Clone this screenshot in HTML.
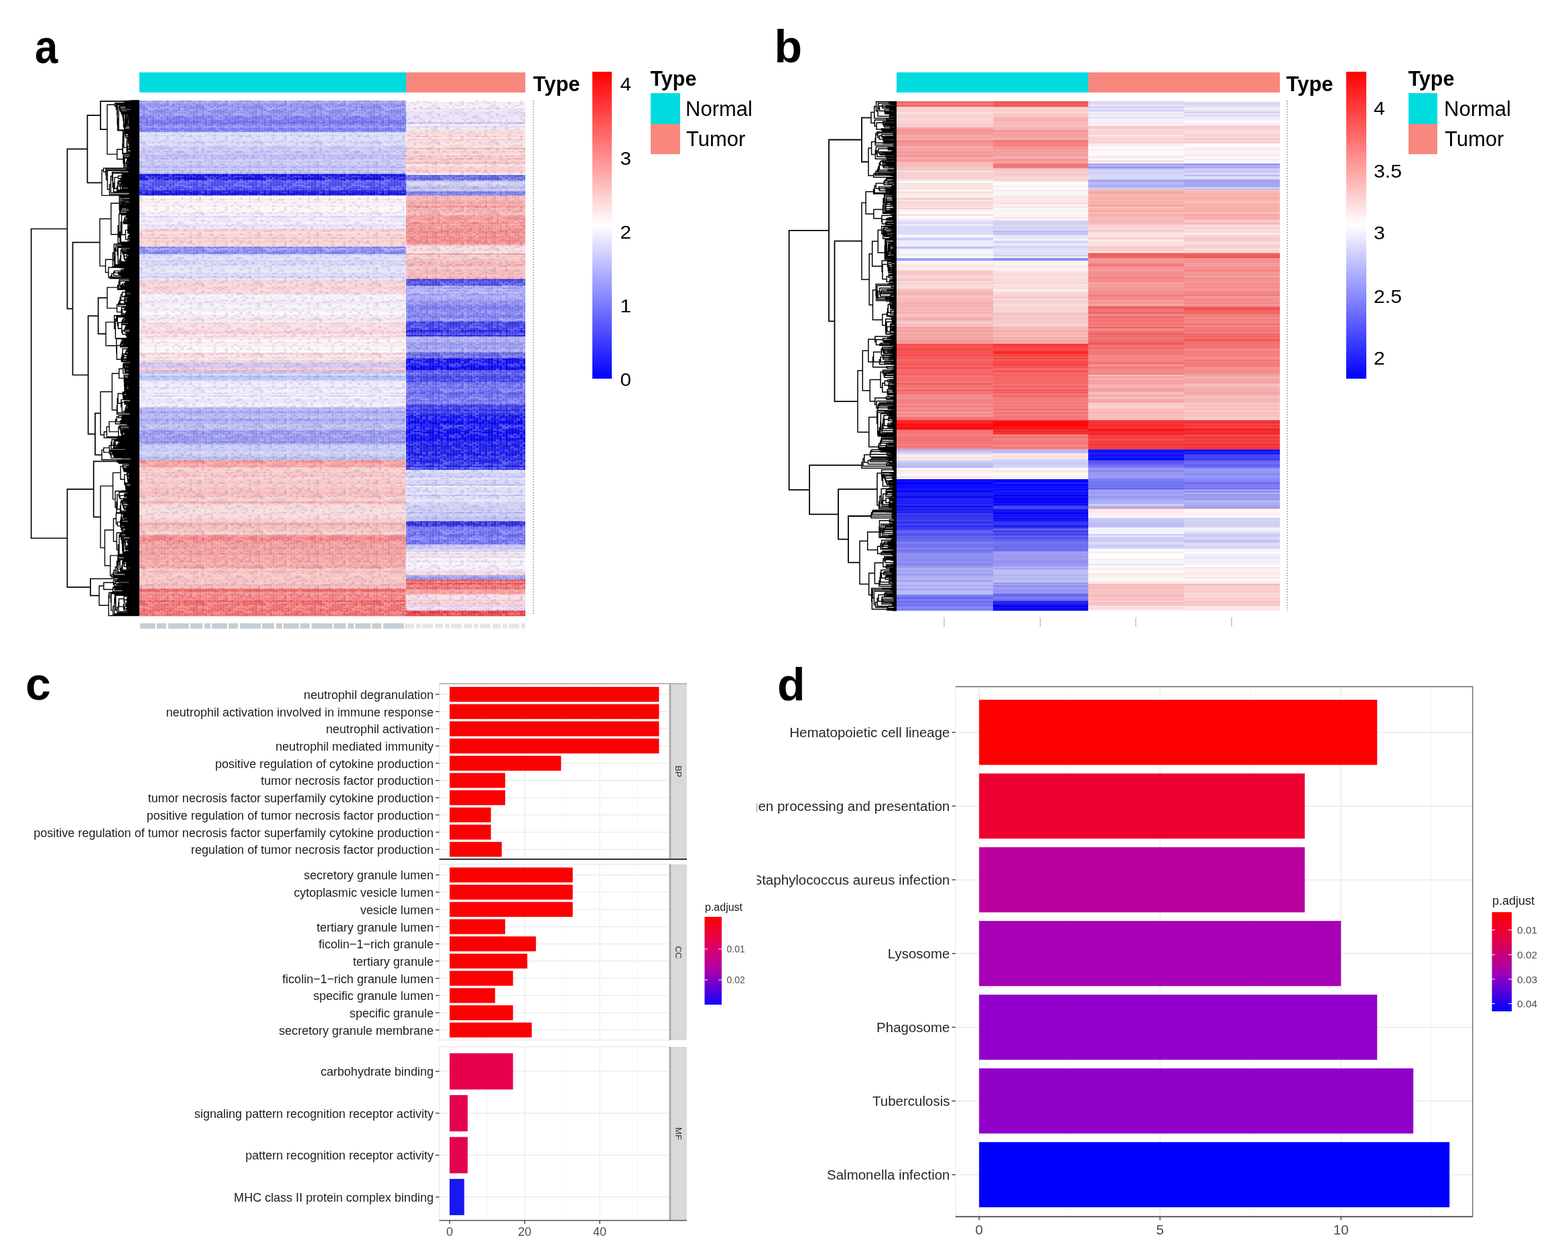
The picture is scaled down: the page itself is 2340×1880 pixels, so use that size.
<!DOCTYPE html><html><head><meta charset="utf-8"><title>Figure</title><style>html,body{margin:0;padding:0;background:#fff}svg{display:block}</style></head><body><svg width="2340" height="1880" viewBox="0 0 2340 1880" font-family="'Liberation Sans', Arial, Helvetica, sans-serif"><rect width="2340" height="1880" fill="#fff"/><defs><linearGradient id="cbA" x1="0" y1="1" x2="0" y2="0"><stop offset="0" stop-color="#0000ff"/><stop offset="0.5" stop-color="#ffffff"/><stop offset="1" stop-color="#ff0000"/></linearGradient><linearGradient id="cbC" x1="0" y1="0" x2="0" y2="1"><stop offset="0" stop-color="#ff0000"/><stop offset="0.3" stop-color="#e0005a"/><stop offset="0.6" stop-color="#b000a8"/><stop offset="1" stop-color="#1400ff"/></linearGradient><linearGradient id="cbD" x1="0" y1="0" x2="0" y2="1"><stop offset="0" stop-color="#ff0000"/><stop offset="0.3" stop-color="#e0004e"/><stop offset="0.62" stop-color="#a000b8"/><stop offset="1" stop-color="#0000ff"/></linearGradient><pattern id="tex" patternUnits="userSpaceOnUse" x="208" y="150" width="88" height="52.8"><rect x="0" y="0" width="4.4" height="2.2" fill="#202080" opacity="0.10"/><rect x="0" y="4.4" width="4.4" height="2.2" fill="#202080" opacity="0.09"/><rect x="0" y="6.6" width="4.4" height="2.2" fill="#202080" opacity="0.06"/><rect x="0" y="8.8" width="4.4" height="2.2" fill="#202080" opacity="0.10"/><rect x="0" y="13.2" width="4.4" height="2.2" fill="#fff" opacity="0.15"/><rect x="0" y="15.4" width="4.4" height="2.2" fill="#fff" opacity="0.26"/><rect x="0" y="19.8" width="4.4" height="2.2" fill="#fff" opacity="0.30"/><rect x="0" y="28.6" width="4.4" height="2.2" fill="#fff" opacity="0.08"/><rect x="0" y="30.8" width="4.4" height="2.2" fill="#202080" opacity="0.05"/><rect x="0" y="33" width="4.4" height="2.2" fill="#fff" opacity="0.13"/><rect x="0" y="35.2" width="4.4" height="2.2" fill="#fff" opacity="0.18"/><rect x="0" y="37.4" width="4.4" height="2.2" fill="#202080" opacity="0.12"/><rect x="0" y="39.6" width="4.4" height="2.2" fill="#202080" opacity="0.10"/><rect x="0" y="41.8" width="4.4" height="2.2" fill="#202080" opacity="0.11"/><rect x="0" y="44" width="4.4" height="2.2" fill="#202080" opacity="0.07"/><rect x="4.4" y="2.2" width="4.4" height="2.2" fill="#fff" opacity="0.13"/><rect x="4.4" y="4.4" width="4.4" height="2.2" fill="#fff" opacity="0.10"/><rect x="4.4" y="8.8" width="4.4" height="2.2" fill="#202080" opacity="0.12"/><rect x="4.4" y="11" width="4.4" height="2.2" fill="#202080" opacity="0.14"/><rect x="4.4" y="15.4" width="4.4" height="2.2" fill="#fff" opacity="0.13"/><rect x="4.4" y="19.8" width="4.4" height="2.2" fill="#202080" opacity="0.14"/><rect x="4.4" y="22" width="4.4" height="2.2" fill="#202080" opacity="0.05"/><rect x="4.4" y="28.6" width="4.4" height="2.2" fill="#fff" opacity="0.10"/><rect x="4.4" y="30.8" width="4.4" height="2.2" fill="#fff" opacity="0.29"/><rect x="4.4" y="35.2" width="4.4" height="2.2" fill="#fff" opacity="0.13"/><rect x="4.4" y="37.4" width="4.4" height="2.2" fill="#fff" opacity="0.09"/><rect x="4.4" y="41.8" width="4.4" height="2.2" fill="#fff" opacity="0.20"/><rect x="4.4" y="44" width="4.4" height="2.2" fill="#202080" opacity="0.06"/><rect x="4.4" y="48.4" width="4.4" height="2.2" fill="#fff" opacity="0.22"/><rect x="4.4" y="50.6" width="4.4" height="2.2" fill="#fff" opacity="0.17"/><rect x="8.8" y="0" width="4.4" height="2.2" fill="#fff" opacity="0.14"/><rect x="8.8" y="6.6" width="4.4" height="2.2" fill="#fff" opacity="0.27"/><rect x="8.8" y="8.8" width="4.4" height="2.2" fill="#fff" opacity="0.17"/><rect x="8.8" y="15.4" width="4.4" height="2.2" fill="#fff" opacity="0.30"/><rect x="8.8" y="17.6" width="4.4" height="2.2" fill="#fff" opacity="0.14"/><rect x="8.8" y="22" width="4.4" height="2.2" fill="#fff" opacity="0.15"/><rect x="8.8" y="24.2" width="4.4" height="2.2" fill="#fff" opacity="0.10"/><rect x="8.8" y="26.4" width="4.4" height="2.2" fill="#202080" opacity="0.06"/><rect x="8.8" y="30.8" width="4.4" height="2.2" fill="#202080" opacity="0.09"/><rect x="8.8" y="35.2" width="4.4" height="2.2" fill="#202080" opacity="0.10"/><rect x="8.8" y="39.6" width="4.4" height="2.2" fill="#fff" opacity="0.11"/><rect x="8.8" y="46.2" width="4.4" height="2.2" fill="#fff" opacity="0.12"/><rect x="13.2" y="0" width="4.4" height="2.2" fill="#fff" opacity="0.29"/><rect x="13.2" y="6.6" width="4.4" height="2.2" fill="#202080" opacity="0.05"/><rect x="13.2" y="8.8" width="4.4" height="2.2" fill="#fff" opacity="0.29"/><rect x="13.2" y="11" width="4.4" height="2.2" fill="#fff" opacity="0.24"/><rect x="13.2" y="13.2" width="4.4" height="2.2" fill="#fff" opacity="0.26"/><rect x="13.2" y="15.4" width="4.4" height="2.2" fill="#202080" opacity="0.07"/><rect x="13.2" y="17.6" width="4.4" height="2.2" fill="#fff" opacity="0.24"/><rect x="13.2" y="19.8" width="4.4" height="2.2" fill="#fff" opacity="0.13"/><rect x="13.2" y="22" width="4.4" height="2.2" fill="#202080" opacity="0.13"/><rect x="13.2" y="26.4" width="4.4" height="2.2" fill="#fff" opacity="0.28"/><rect x="13.2" y="28.6" width="4.4" height="2.2" fill="#fff" opacity="0.08"/><rect x="13.2" y="30.8" width="4.4" height="2.2" fill="#fff" opacity="0.18"/><rect x="13.2" y="33" width="4.4" height="2.2" fill="#fff" opacity="0.12"/><rect x="13.2" y="35.2" width="4.4" height="2.2" fill="#202080" opacity="0.10"/><rect x="13.2" y="37.4" width="4.4" height="2.2" fill="#fff" opacity="0.16"/><rect x="13.2" y="48.4" width="4.4" height="2.2" fill="#202080" opacity="0.05"/><rect x="13.2" y="50.6" width="4.4" height="2.2" fill="#fff" opacity="0.08"/><rect x="17.6" y="6.6" width="4.4" height="2.2" fill="#fff" opacity="0.22"/><rect x="17.6" y="8.8" width="4.4" height="2.2" fill="#202080" opacity="0.11"/><rect x="17.6" y="11" width="4.4" height="2.2" fill="#fff" opacity="0.30"/><rect x="17.6" y="13.2" width="4.4" height="2.2" fill="#fff" opacity="0.20"/><rect x="17.6" y="28.6" width="4.4" height="2.2" fill="#202080" opacity="0.11"/><rect x="17.6" y="35.2" width="4.4" height="2.2" fill="#202080" opacity="0.12"/><rect x="17.6" y="39.6" width="4.4" height="2.2" fill="#202080" opacity="0.10"/><rect x="17.6" y="41.8" width="4.4" height="2.2" fill="#202080" opacity="0.10"/><rect x="17.6" y="46.2" width="4.4" height="2.2" fill="#fff" opacity="0.22"/><rect x="22" y="2.2" width="4.4" height="2.2" fill="#202080" opacity="0.11"/><rect x="22" y="4.4" width="4.4" height="2.2" fill="#202080" opacity="0.08"/><rect x="22" y="8.8" width="4.4" height="2.2" fill="#fff" opacity="0.25"/><rect x="22" y="11" width="4.4" height="2.2" fill="#fff" opacity="0.21"/><rect x="22" y="13.2" width="4.4" height="2.2" fill="#202080" opacity="0.06"/><rect x="22" y="17.6" width="4.4" height="2.2" fill="#202080" opacity="0.10"/><rect x="22" y="22" width="4.4" height="2.2" fill="#fff" opacity="0.08"/><rect x="22" y="24.2" width="4.4" height="2.2" fill="#fff" opacity="0.23"/><rect x="22" y="26.4" width="4.4" height="2.2" fill="#fff" opacity="0.12"/><rect x="22" y="33" width="4.4" height="2.2" fill="#202080" opacity="0.13"/><rect x="22" y="35.2" width="4.4" height="2.2" fill="#fff" opacity="0.23"/><rect x="22" y="37.4" width="4.4" height="2.2" fill="#fff" opacity="0.17"/><rect x="22" y="46.2" width="4.4" height="2.2" fill="#202080" opacity="0.10"/><rect x="22" y="48.4" width="4.4" height="2.2" fill="#fff" opacity="0.11"/><rect x="22" y="50.6" width="4.4" height="2.2" fill="#202080" opacity="0.12"/><rect x="26.4" y="6.6" width="4.4" height="2.2" fill="#fff" opacity="0.12"/><rect x="26.4" y="8.8" width="4.4" height="2.2" fill="#202080" opacity="0.07"/><rect x="26.4" y="11" width="4.4" height="2.2" fill="#fff" opacity="0.17"/><rect x="26.4" y="15.4" width="4.4" height="2.2" fill="#202080" opacity="0.07"/><rect x="26.4" y="22" width="4.4" height="2.2" fill="#202080" opacity="0.05"/><rect x="26.4" y="24.2" width="4.4" height="2.2" fill="#fff" opacity="0.27"/><rect x="26.4" y="26.4" width="4.4" height="2.2" fill="#fff" opacity="0.24"/><rect x="26.4" y="28.6" width="4.4" height="2.2" fill="#202080" opacity="0.07"/><rect x="26.4" y="33" width="4.4" height="2.2" fill="#fff" opacity="0.11"/><rect x="26.4" y="35.2" width="4.4" height="2.2" fill="#202080" opacity="0.04"/><rect x="26.4" y="39.6" width="4.4" height="2.2" fill="#fff" opacity="0.11"/><rect x="26.4" y="41.8" width="4.4" height="2.2" fill="#fff" opacity="0.22"/><rect x="26.4" y="44" width="4.4" height="2.2" fill="#202080" opacity="0.10"/><rect x="30.8" y="2.2" width="4.4" height="2.2" fill="#fff" opacity="0.18"/><rect x="30.8" y="4.4" width="4.4" height="2.2" fill="#fff" opacity="0.08"/><rect x="30.8" y="6.6" width="4.4" height="2.2" fill="#202080" opacity="0.11"/><rect x="30.8" y="8.8" width="4.4" height="2.2" fill="#fff" opacity="0.14"/><rect x="30.8" y="11" width="4.4" height="2.2" fill="#fff" opacity="0.23"/><rect x="30.8" y="13.2" width="4.4" height="2.2" fill="#202080" opacity="0.10"/><rect x="30.8" y="17.6" width="4.4" height="2.2" fill="#202080" opacity="0.12"/><rect x="30.8" y="22" width="4.4" height="2.2" fill="#fff" opacity="0.29"/><rect x="30.8" y="26.4" width="4.4" height="2.2" fill="#fff" opacity="0.18"/><rect x="30.8" y="33" width="4.4" height="2.2" fill="#202080" opacity="0.10"/><rect x="30.8" y="41.8" width="4.4" height="2.2" fill="#202080" opacity="0.11"/><rect x="30.8" y="44" width="4.4" height="2.2" fill="#fff" opacity="0.24"/><rect x="35.2" y="0" width="4.4" height="2.2" fill="#fff" opacity="0.28"/><rect x="35.2" y="6.6" width="4.4" height="2.2" fill="#202080" opacity="0.12"/><rect x="35.2" y="8.8" width="4.4" height="2.2" fill="#fff" opacity="0.28"/><rect x="35.2" y="13.2" width="4.4" height="2.2" fill="#fff" opacity="0.10"/><rect x="35.2" y="15.4" width="4.4" height="2.2" fill="#202080" opacity="0.10"/><rect x="35.2" y="19.8" width="4.4" height="2.2" fill="#202080" opacity="0.04"/><rect x="35.2" y="24.2" width="4.4" height="2.2" fill="#fff" opacity="0.26"/><rect x="35.2" y="26.4" width="4.4" height="2.2" fill="#fff" opacity="0.15"/><rect x="35.2" y="30.8" width="4.4" height="2.2" fill="#fff" opacity="0.11"/><rect x="35.2" y="33" width="4.4" height="2.2" fill="#202080" opacity="0.11"/><rect x="35.2" y="41.8" width="4.4" height="2.2" fill="#202080" opacity="0.13"/><rect x="35.2" y="44" width="4.4" height="2.2" fill="#fff" opacity="0.13"/><rect x="35.2" y="46.2" width="4.4" height="2.2" fill="#202080" opacity="0.07"/><rect x="39.6" y="0" width="4.4" height="2.2" fill="#202080" opacity="0.12"/><rect x="39.6" y="2.2" width="4.4" height="2.2" fill="#202080" opacity="0.07"/><rect x="39.6" y="4.4" width="4.4" height="2.2" fill="#202080" opacity="0.12"/><rect x="39.6" y="8.8" width="4.4" height="2.2" fill="#fff" opacity="0.27"/><rect x="39.6" y="13.2" width="4.4" height="2.2" fill="#202080" opacity="0.10"/><rect x="39.6" y="15.4" width="4.4" height="2.2" fill="#fff" opacity="0.20"/><rect x="39.6" y="17.6" width="4.4" height="2.2" fill="#202080" opacity="0.10"/><rect x="39.6" y="19.8" width="4.4" height="2.2" fill="#fff" opacity="0.29"/><rect x="39.6" y="22" width="4.4" height="2.2" fill="#202080" opacity="0.08"/><rect x="39.6" y="26.4" width="4.4" height="2.2" fill="#202080" opacity="0.09"/><rect x="39.6" y="30.8" width="4.4" height="2.2" fill="#fff" opacity="0.20"/><rect x="39.6" y="33" width="4.4" height="2.2" fill="#202080" opacity="0.14"/><rect x="39.6" y="37.4" width="4.4" height="2.2" fill="#fff" opacity="0.18"/><rect x="39.6" y="39.6" width="4.4" height="2.2" fill="#fff" opacity="0.18"/><rect x="39.6" y="46.2" width="4.4" height="2.2" fill="#202080" opacity="0.07"/><rect x="39.6" y="48.4" width="4.4" height="2.2" fill="#fff" opacity="0.22"/><rect x="44" y="0" width="4.4" height="2.2" fill="#fff" opacity="0.25"/><rect x="44" y="2.2" width="4.4" height="2.2" fill="#fff" opacity="0.12"/><rect x="44" y="4.4" width="4.4" height="2.2" fill="#fff" opacity="0.23"/><rect x="44" y="6.6" width="4.4" height="2.2" fill="#fff" opacity="0.16"/><rect x="44" y="11" width="4.4" height="2.2" fill="#fff" opacity="0.24"/><rect x="44" y="13.2" width="4.4" height="2.2" fill="#fff" opacity="0.19"/><rect x="44" y="15.4" width="4.4" height="2.2" fill="#fff" opacity="0.12"/><rect x="44" y="17.6" width="4.4" height="2.2" fill="#202080" opacity="0.08"/><rect x="44" y="19.8" width="4.4" height="2.2" fill="#202080" opacity="0.08"/><rect x="44" y="22" width="4.4" height="2.2" fill="#202080" opacity="0.06"/><rect x="44" y="24.2" width="4.4" height="2.2" fill="#fff" opacity="0.22"/><rect x="44" y="28.6" width="4.4" height="2.2" fill="#202080" opacity="0.13"/><rect x="44" y="35.2" width="4.4" height="2.2" fill="#fff" opacity="0.24"/><rect x="44" y="41.8" width="4.4" height="2.2" fill="#fff" opacity="0.15"/><rect x="44" y="46.2" width="4.4" height="2.2" fill="#fff" opacity="0.30"/><rect x="44" y="50.6" width="4.4" height="2.2" fill="#fff" opacity="0.13"/><rect x="48.4" y="2.2" width="4.4" height="2.2" fill="#fff" opacity="0.10"/><rect x="48.4" y="6.6" width="4.4" height="2.2" fill="#202080" opacity="0.12"/><rect x="48.4" y="8.8" width="4.4" height="2.2" fill="#fff" opacity="0.17"/><rect x="48.4" y="13.2" width="4.4" height="2.2" fill="#fff" opacity="0.12"/><rect x="48.4" y="22" width="4.4" height="2.2" fill="#fff" opacity="0.19"/><rect x="48.4" y="26.4" width="4.4" height="2.2" fill="#202080" opacity="0.11"/><rect x="48.4" y="28.6" width="4.4" height="2.2" fill="#fff" opacity="0.10"/><rect x="48.4" y="30.8" width="4.4" height="2.2" fill="#fff" opacity="0.09"/><rect x="48.4" y="33" width="4.4" height="2.2" fill="#202080" opacity="0.09"/><rect x="48.4" y="35.2" width="4.4" height="2.2" fill="#202080" opacity="0.05"/><rect x="48.4" y="37.4" width="4.4" height="2.2" fill="#fff" opacity="0.12"/><rect x="48.4" y="46.2" width="4.4" height="2.2" fill="#fff" opacity="0.09"/><rect x="48.4" y="50.6" width="4.4" height="2.2" fill="#202080" opacity="0.12"/><rect x="52.8" y="0" width="4.4" height="2.2" fill="#fff" opacity="0.18"/><rect x="52.8" y="2.2" width="4.4" height="2.2" fill="#202080" opacity="0.08"/><rect x="52.8" y="6.6" width="4.4" height="2.2" fill="#fff" opacity="0.23"/><rect x="52.8" y="11" width="4.4" height="2.2" fill="#fff" opacity="0.18"/><rect x="52.8" y="15.4" width="4.4" height="2.2" fill="#202080" opacity="0.06"/><rect x="52.8" y="17.6" width="4.4" height="2.2" fill="#fff" opacity="0.19"/><rect x="52.8" y="19.8" width="4.4" height="2.2" fill="#fff" opacity="0.28"/><rect x="52.8" y="30.8" width="4.4" height="2.2" fill="#202080" opacity="0.10"/><rect x="52.8" y="33" width="4.4" height="2.2" fill="#202080" opacity="0.14"/><rect x="52.8" y="37.4" width="4.4" height="2.2" fill="#fff" opacity="0.28"/><rect x="52.8" y="46.2" width="4.4" height="2.2" fill="#202080" opacity="0.13"/><rect x="57.2" y="4.4" width="4.4" height="2.2" fill="#202080" opacity="0.11"/><rect x="57.2" y="6.6" width="4.4" height="2.2" fill="#fff" opacity="0.16"/><rect x="57.2" y="8.8" width="4.4" height="2.2" fill="#202080" opacity="0.04"/><rect x="57.2" y="11" width="4.4" height="2.2" fill="#202080" opacity="0.10"/><rect x="57.2" y="15.4" width="4.4" height="2.2" fill="#fff" opacity="0.29"/><rect x="57.2" y="19.8" width="4.4" height="2.2" fill="#fff" opacity="0.23"/><rect x="57.2" y="22" width="4.4" height="2.2" fill="#202080" opacity="0.09"/><rect x="57.2" y="24.2" width="4.4" height="2.2" fill="#202080" opacity="0.14"/><rect x="57.2" y="35.2" width="4.4" height="2.2" fill="#fff" opacity="0.22"/><rect x="57.2" y="39.6" width="4.4" height="2.2" fill="#fff" opacity="0.17"/><rect x="57.2" y="41.8" width="4.4" height="2.2" fill="#fff" opacity="0.12"/><rect x="57.2" y="44" width="4.4" height="2.2" fill="#202080" opacity="0.05"/><rect x="57.2" y="46.2" width="4.4" height="2.2" fill="#fff" opacity="0.28"/><rect x="57.2" y="48.4" width="4.4" height="2.2" fill="#202080" opacity="0.09"/><rect x="61.6" y="0" width="4.4" height="2.2" fill="#202080" opacity="0.14"/><rect x="61.6" y="6.6" width="4.4" height="2.2" fill="#fff" opacity="0.21"/><rect x="61.6" y="11" width="4.4" height="2.2" fill="#fff" opacity="0.28"/><rect x="61.6" y="13.2" width="4.4" height="2.2" fill="#fff" opacity="0.18"/><rect x="61.6" y="15.4" width="4.4" height="2.2" fill="#fff" opacity="0.19"/><rect x="61.6" y="19.8" width="4.4" height="2.2" fill="#fff" opacity="0.29"/><rect x="61.6" y="22" width="4.4" height="2.2" fill="#202080" opacity="0.09"/><rect x="61.6" y="24.2" width="4.4" height="2.2" fill="#202080" opacity="0.08"/><rect x="61.6" y="26.4" width="4.4" height="2.2" fill="#fff" opacity="0.22"/><rect x="61.6" y="28.6" width="4.4" height="2.2" fill="#202080" opacity="0.07"/><rect x="61.6" y="33" width="4.4" height="2.2" fill="#fff" opacity="0.08"/><rect x="61.6" y="35.2" width="4.4" height="2.2" fill="#fff" opacity="0.09"/><rect x="61.6" y="37.4" width="4.4" height="2.2" fill="#fff" opacity="0.25"/><rect x="61.6" y="39.6" width="4.4" height="2.2" fill="#202080" opacity="0.13"/><rect x="61.6" y="44" width="4.4" height="2.2" fill="#fff" opacity="0.30"/><rect x="61.6" y="48.4" width="4.4" height="2.2" fill="#fff" opacity="0.28"/><rect x="61.6" y="50.6" width="4.4" height="2.2" fill="#202080" opacity="0.09"/><rect x="66" y="2.2" width="4.4" height="2.2" fill="#fff" opacity="0.20"/><rect x="66" y="8.8" width="4.4" height="2.2" fill="#202080" opacity="0.14"/><rect x="66" y="15.4" width="4.4" height="2.2" fill="#fff" opacity="0.22"/><rect x="66" y="17.6" width="4.4" height="2.2" fill="#202080" opacity="0.06"/><rect x="66" y="19.8" width="4.4" height="2.2" fill="#fff" opacity="0.20"/><rect x="66" y="22" width="4.4" height="2.2" fill="#fff" opacity="0.18"/><rect x="66" y="26.4" width="4.4" height="2.2" fill="#202080" opacity="0.07"/><rect x="66" y="28.6" width="4.4" height="2.2" fill="#202080" opacity="0.08"/><rect x="66" y="33" width="4.4" height="2.2" fill="#202080" opacity="0.14"/><rect x="66" y="39.6" width="4.4" height="2.2" fill="#fff" opacity="0.11"/><rect x="66" y="48.4" width="4.4" height="2.2" fill="#202080" opacity="0.07"/><rect x="70.4" y="0" width="4.4" height="2.2" fill="#202080" opacity="0.10"/><rect x="70.4" y="6.6" width="4.4" height="2.2" fill="#fff" opacity="0.13"/><rect x="70.4" y="15.4" width="4.4" height="2.2" fill="#fff" opacity="0.09"/><rect x="70.4" y="17.6" width="4.4" height="2.2" fill="#fff" opacity="0.17"/><rect x="70.4" y="22" width="4.4" height="2.2" fill="#fff" opacity="0.20"/><rect x="70.4" y="24.2" width="4.4" height="2.2" fill="#fff" opacity="0.10"/><rect x="70.4" y="28.6" width="4.4" height="2.2" fill="#202080" opacity="0.10"/><rect x="70.4" y="30.8" width="4.4" height="2.2" fill="#202080" opacity="0.09"/><rect x="70.4" y="33" width="4.4" height="2.2" fill="#fff" opacity="0.16"/><rect x="70.4" y="39.6" width="4.4" height="2.2" fill="#fff" opacity="0.11"/><rect x="70.4" y="48.4" width="4.4" height="2.2" fill="#fff" opacity="0.17"/><rect x="70.4" y="50.6" width="4.4" height="2.2" fill="#fff" opacity="0.26"/><rect x="74.8" y="0" width="4.4" height="2.2" fill="#202080" opacity="0.11"/><rect x="74.8" y="4.4" width="4.4" height="2.2" fill="#fff" opacity="0.20"/><rect x="74.8" y="11" width="4.4" height="2.2" fill="#202080" opacity="0.08"/><rect x="74.8" y="13.2" width="4.4" height="2.2" fill="#fff" opacity="0.27"/><rect x="74.8" y="15.4" width="4.4" height="2.2" fill="#fff" opacity="0.10"/><rect x="74.8" y="17.6" width="4.4" height="2.2" fill="#202080" opacity="0.09"/><rect x="74.8" y="22" width="4.4" height="2.2" fill="#fff" opacity="0.25"/><rect x="74.8" y="24.2" width="4.4" height="2.2" fill="#fff" opacity="0.13"/><rect x="74.8" y="28.6" width="4.4" height="2.2" fill="#fff" opacity="0.15"/><rect x="74.8" y="35.2" width="4.4" height="2.2" fill="#fff" opacity="0.11"/><rect x="74.8" y="37.4" width="4.4" height="2.2" fill="#202080" opacity="0.11"/><rect x="74.8" y="39.6" width="4.4" height="2.2" fill="#202080" opacity="0.05"/><rect x="74.8" y="44" width="4.4" height="2.2" fill="#202080" opacity="0.13"/><rect x="74.8" y="50.6" width="4.4" height="2.2" fill="#202080" opacity="0.12"/><rect x="79.2" y="0" width="4.4" height="2.2" fill="#fff" opacity="0.15"/><rect x="79.2" y="2.2" width="4.4" height="2.2" fill="#202080" opacity="0.13"/><rect x="79.2" y="6.6" width="4.4" height="2.2" fill="#fff" opacity="0.16"/><rect x="79.2" y="8.8" width="4.4" height="2.2" fill="#202080" opacity="0.08"/><rect x="79.2" y="11" width="4.4" height="2.2" fill="#202080" opacity="0.08"/><rect x="79.2" y="13.2" width="4.4" height="2.2" fill="#fff" opacity="0.20"/><rect x="79.2" y="17.6" width="4.4" height="2.2" fill="#202080" opacity="0.12"/><rect x="79.2" y="19.8" width="4.4" height="2.2" fill="#202080" opacity="0.06"/><rect x="79.2" y="26.4" width="4.4" height="2.2" fill="#fff" opacity="0.08"/><rect x="79.2" y="28.6" width="4.4" height="2.2" fill="#202080" opacity="0.09"/><rect x="79.2" y="30.8" width="4.4" height="2.2" fill="#202080" opacity="0.14"/><rect x="79.2" y="37.4" width="4.4" height="2.2" fill="#fff" opacity="0.20"/><rect x="79.2" y="41.8" width="4.4" height="2.2" fill="#fff" opacity="0.10"/><rect x="79.2" y="48.4" width="4.4" height="2.2" fill="#fff" opacity="0.22"/><rect x="79.2" y="50.6" width="4.4" height="2.2" fill="#fff" opacity="0.24"/><rect x="83.6" y="2.2" width="4.4" height="2.2" fill="#fff" opacity="0.13"/><rect x="83.6" y="6.6" width="4.4" height="2.2" fill="#202080" opacity="0.12"/><rect x="83.6" y="8.8" width="4.4" height="2.2" fill="#202080" opacity="0.07"/><rect x="83.6" y="15.4" width="4.4" height="2.2" fill="#202080" opacity="0.09"/><rect x="83.6" y="24.2" width="4.4" height="2.2" fill="#202080" opacity="0.12"/><rect x="83.6" y="41.8" width="4.4" height="2.2" fill="#202080" opacity="0.11"/><rect x="83.6" y="46.2" width="4.4" height="2.2" fill="#202080" opacity="0.08"/><rect x="83.6" y="48.4" width="4.4" height="2.2" fill="#fff" opacity="0.24"/><rect x="0" y="0" width="0.8" height="52.8" fill="#fff" opacity="0.18"/><rect x="4.4" y="0" width="0.8" height="52.8" fill="#fff" opacity="0.18"/><rect x="8.8" y="0" width="0.8" height="52.8" fill="#fff" opacity="0.18"/><rect x="13.2" y="0" width="0.8" height="52.8" fill="#fff" opacity="0.18"/><rect x="17.6" y="0" width="0.8" height="52.8" fill="#fff" opacity="0.18"/><rect x="22" y="0" width="0.8" height="52.8" fill="#fff" opacity="0.18"/><rect x="26.4" y="0" width="0.8" height="52.8" fill="#fff" opacity="0.18"/><rect x="30.8" y="0" width="0.8" height="52.8" fill="#fff" opacity="0.18"/><rect x="35.2" y="0" width="0.8" height="52.8" fill="#fff" opacity="0.18"/><rect x="39.6" y="0" width="0.8" height="52.8" fill="#fff" opacity="0.18"/><rect x="44" y="0" width="0.8" height="52.8" fill="#fff" opacity="0.18"/><rect x="48.4" y="0" width="0.8" height="52.8" fill="#fff" opacity="0.18"/><rect x="52.8" y="0" width="0.8" height="52.8" fill="#fff" opacity="0.18"/><rect x="57.2" y="0" width="0.8" height="52.8" fill="#fff" opacity="0.18"/><rect x="61.6" y="0" width="0.8" height="52.8" fill="#fff" opacity="0.18"/><rect x="66" y="0" width="0.8" height="52.8" fill="#fff" opacity="0.18"/><rect x="70.4" y="0" width="0.8" height="52.8" fill="#fff" opacity="0.18"/><rect x="74.8" y="0" width="0.8" height="52.8" fill="#fff" opacity="0.18"/><rect x="79.2" y="0" width="0.8" height="52.8" fill="#fff" opacity="0.18"/><rect x="83.6" y="0" width="0.8" height="52.8" fill="#fff" opacity="0.18"/></pattern></defs><text x="52" y="94" font-size="70" font-weight="bold" transform="translate(52,0) scale(0.88,1) translate(-52,0)">a</text><rect x="208" y="108" width="398" height="30" fill="#00dbe0"/><rect x="606" y="108" width="178" height="30" fill="#f8887e"/><text x="795.5" y="136" font-size="31" font-weight="bold">Type</text><rect x="208" y="150" width="398" height="2.6" fill="#9c9cf0"/><rect x="208" y="152.3" width="398" height="2.6" fill="#9d9df0"/><rect x="208" y="154.6" width="398" height="2.6" fill="#9191f0"/><rect x="208" y="156.9" width="398" height="2.6" fill="#8989f0"/><rect x="208" y="159.2" width="398" height="2.6" fill="#8686f0"/><rect x="208" y="161.5" width="398" height="2.6" fill="#9090f0"/><rect x="208" y="163.8" width="398" height="2.6" fill="#8787f0"/><rect x="208" y="166.1" width="398" height="2.6" fill="#8383f0"/><rect x="208" y="168.4" width="398" height="2.6" fill="#9292f0"/><rect x="208" y="170.7" width="398" height="2.6" fill="#9191f0"/><rect x="208" y="173" width="398" height="2.5" fill="#7d7df0"/><rect x="208" y="175.2" width="398" height="2.5" fill="#7070f0"/><rect x="208" y="177.4" width="398" height="2.5" fill="#7878f0"/><rect x="208" y="179.5" width="398" height="2.5" fill="#7777f0"/><rect x="208" y="181.7" width="398" height="2.5" fill="#6a6af0"/><rect x="208" y="183.9" width="398" height="2.5" fill="#7d7df0"/><rect x="208" y="186.1" width="398" height="2.5" fill="#7b7bf0"/><rect x="208" y="188.3" width="398" height="2.5" fill="#8e8ef0"/><rect x="208" y="190.5" width="398" height="2.5" fill="#7a7af0"/><rect x="208" y="192.6" width="398" height="2.5" fill="#7777f0"/><rect x="208" y="194.8" width="398" height="2.5" fill="#8383f0"/><rect x="208" y="197" width="398" height="2.4" fill="#d8d8f8"/><rect x="208" y="199.1" width="398" height="2.4" fill="#dedef8"/><rect x="208" y="201.2" width="398" height="2.4" fill="#d3d3f8"/><rect x="208" y="203.3" width="398" height="2.4" fill="#d8d8f8"/><rect x="208" y="205.4" width="398" height="2.4" fill="#dfdff8"/><rect x="208" y="207.5" width="398" height="2.4" fill="#dcdcf8"/><rect x="208" y="209.6" width="398" height="2.4" fill="#d7d7f8"/><rect x="208" y="211.7" width="398" height="2.4" fill="#ccccf8"/><rect x="208" y="213.8" width="398" height="2.4" fill="#dadaf8"/><rect x="208" y="215.9" width="398" height="2.4" fill="#d7d7f8"/><rect x="208" y="218" width="398" height="2.5" fill="#c6c6f5"/><rect x="208" y="220.2" width="398" height="2.5" fill="#c2c2f5"/><rect x="208" y="222.4" width="398" height="2.5" fill="#cacaf5"/><rect x="208" y="224.6" width="398" height="2.5" fill="#c0c0f5"/><rect x="208" y="226.8" width="398" height="2.5" fill="#c2c2f5"/><rect x="208" y="228.9" width="398" height="2.5" fill="#c6c6f5"/><rect x="208" y="231.1" width="398" height="2.5" fill="#b6b6f5"/><rect x="208" y="233.3" width="398" height="2.5" fill="#bcbcf5"/><rect x="208" y="235.5" width="398" height="2.5" fill="#bbbbf5"/><rect x="208" y="237.7" width="398" height="2.5" fill="#d2d2f5"/><rect x="208" y="239.9" width="398" height="2.5" fill="#bfbff5"/><rect x="208" y="242.1" width="398" height="2.5" fill="#c6c6f5"/><rect x="208" y="244.3" width="398" height="2.5" fill="#c6c6f5"/><rect x="208" y="246.5" width="398" height="2.5" fill="#bdbdf5"/><rect x="208" y="248.7" width="398" height="2.5" fill="#b2b2f5"/><rect x="208" y="250.8" width="398" height="2.5" fill="#c9c9f5"/><rect x="208" y="253" width="398" height="2.5" fill="#bcbcf5"/><rect x="208" y="255.2" width="398" height="2.5" fill="#c6c6f5"/><rect x="208" y="257.4" width="398" height="2.5" fill="#b4b4f5"/><rect x="208" y="259.6" width="398" height="2.4" fill="#0606e0"/><rect x="208" y="261.7" width="398" height="2.4" fill="#1515e0"/><rect x="208" y="263.8" width="398" height="2.4" fill="#1717e0"/><rect x="208" y="265.9" width="398" height="2.4" fill="#0000e0"/><rect x="208" y="268" width="398" height="2.6" fill="#3c3cf0"/><rect x="208" y="270.3" width="398" height="2.6" fill="#4848f0"/><rect x="208" y="272.6" width="398" height="2.6" fill="#4f4ff0"/><rect x="208" y="274.9" width="398" height="2.6" fill="#4949f0"/><rect x="208" y="277.1" width="398" height="2.6" fill="#4b4bf0"/><rect x="208" y="279.4" width="398" height="2.6" fill="#3f3ff0"/><rect x="208" y="281.7" width="398" height="2.6" fill="#4d4df0"/><rect x="208" y="284" width="398" height="2.8" fill="#1a1ae0"/><rect x="208" y="286.5" width="398" height="2.8" fill="#0c0ce0"/><rect x="208" y="289.1" width="398" height="2.8" fill="#0303e0"/><rect x="208" y="291.6" width="398" height="2.5" fill="#faedf1"/><rect x="208" y="293.8" width="398" height="2.5" fill="#fafbff"/><rect x="208" y="296" width="398" height="2.5" fill="#fae4e8"/><rect x="208" y="298.2" width="398" height="2.5" fill="#faf3f7"/><rect x="208" y="300.4" width="398" height="2.5" fill="#faebef"/><rect x="208" y="302.6" width="398" height="2.5" fill="#faf3f7"/><rect x="208" y="304.8" width="398" height="2.5" fill="#faf2f6"/><rect x="208" y="307" width="398" height="2.5" fill="#f4eef8"/><rect x="208" y="309.2" width="398" height="2.5" fill="#fffcf8"/><rect x="208" y="311.4" width="398" height="2.5" fill="#f8f2f8"/><rect x="208" y="313.6" width="398" height="2.5" fill="#fffaf8"/><rect x="208" y="315.8" width="398" height="2.5" fill="#f3edf8"/><rect x="208" y="317.9" width="398" height="2.5" fill="#f0eaf8"/><rect x="208" y="320.1" width="398" height="2.5" fill="#f7f1f8"/><rect x="208" y="322.3" width="398" height="2.5" fill="#dad4f8"/><rect x="208" y="324.5" width="398" height="2.5" fill="#f4eef8"/><rect x="208" y="326.7" width="398" height="2.5" fill="#f5eff8"/><rect x="208" y="328.9" width="398" height="2.5" fill="#e9e3f8"/><rect x="208" y="331.1" width="398" height="2.5" fill="#f8f2f8"/><rect x="208" y="333.2" width="398" height="2.5" fill="#efe9f8"/><rect x="208" y="335.4" width="398" height="2.5" fill="#ded8f8"/><rect x="208" y="337.6" width="398" height="2.5" fill="#f2ecf8"/><rect x="208" y="339.8" width="398" height="2.5" fill="#ebe5f8"/><rect x="208" y="342" width="398" height="2.4" fill="#f8cbcb"/><rect x="208" y="344.1" width="398" height="2.4" fill="#f8cfcf"/><rect x="208" y="346.2" width="398" height="2.4" fill="#f8dbdb"/><rect x="208" y="348.3" width="398" height="2.4" fill="#f8d1d1"/><rect x="208" y="350.4" width="398" height="2.4" fill="#f8d0d0"/><rect x="208" y="352.5" width="398" height="2.4" fill="#f8d4d4"/><rect x="208" y="354.6" width="398" height="2.4" fill="#f8c0c0"/><rect x="208" y="356.7" width="398" height="2.4" fill="#f8dbdb"/><rect x="208" y="358.8" width="398" height="2.4" fill="#f8c6c6"/><rect x="208" y="360.9" width="398" height="2.4" fill="#f8d4d4"/><rect x="208" y="363" width="398" height="2.8" fill="#f8d4d4"/><rect x="208" y="365.5" width="398" height="2.8" fill="#f8d5d5"/><rect x="208" y="368" width="398" height="2.5" fill="#7c7cf0"/><rect x="208" y="370.2" width="398" height="2.5" fill="#9191f0"/><rect x="208" y="372.4" width="398" height="2.5" fill="#8686f0"/><rect x="208" y="374.6" width="398" height="2.5" fill="#7b7bf0"/><rect x="208" y="376.8" width="398" height="2.5" fill="#7d7df0"/><rect x="208" y="379" width="398" height="2.5" fill="#d2d2f8"/><rect x="208" y="381.2" width="398" height="2.5" fill="#dcdcf8"/><rect x="208" y="383.4" width="398" height="2.5" fill="#d7d7f8"/><rect x="208" y="385.5" width="398" height="2.5" fill="#e2e2f8"/><rect x="208" y="387.7" width="398" height="2.5" fill="#d0d0f8"/><rect x="208" y="389.9" width="398" height="2.5" fill="#d9d9f8"/><rect x="208" y="392.1" width="398" height="2.5" fill="#d4d4f8"/><rect x="208" y="394.2" width="398" height="2.5" fill="#d6d6f8"/><rect x="208" y="396.4" width="398" height="2.5" fill="#e2e2f8"/><rect x="208" y="398.6" width="398" height="2.5" fill="#ddddf8"/><rect x="208" y="400.8" width="398" height="2.5" fill="#e1e1f8"/><rect x="208" y="402.9" width="398" height="2.5" fill="#e7e7f8"/><rect x="208" y="405.1" width="398" height="2.5" fill="#e6e6f8"/><rect x="208" y="407.3" width="398" height="2.5" fill="#d0d0f8"/><rect x="208" y="409.5" width="398" height="2.5" fill="#e1e1f8"/><rect x="208" y="411.6" width="398" height="2.5" fill="#ccccf8"/><rect x="208" y="413.8" width="398" height="2.5" fill="#dbdbf8"/><rect x="208" y="416" width="398" height="2.4" fill="#f7e1e7"/><rect x="208" y="418.1" width="398" height="2.4" fill="#f7ced4"/><rect x="208" y="420.3" width="398" height="2.4" fill="#f7cdd3"/><rect x="208" y="422.4" width="398" height="2.4" fill="#f7d2d8"/><rect x="208" y="424.5" width="398" height="2.4" fill="#f7d0d6"/><rect x="208" y="426.7" width="398" height="2.4" fill="#f7d0d6"/><rect x="208" y="428.8" width="398" height="2.4" fill="#f7c9cf"/><rect x="208" y="431" width="398" height="2.4" fill="#f7dae0"/><rect x="208" y="433.1" width="398" height="2.4" fill="#f7d8de"/><rect x="208" y="435.2" width="398" height="2.4" fill="#f7ced4"/><rect x="208" y="437.4" width="398" height="2.4" fill="#f7d3d9"/><rect x="208" y="439.5" width="398" height="2.5" fill="#f6f2fa"/><rect x="208" y="441.7" width="398" height="2.5" fill="#f6f5fd"/><rect x="208" y="443.9" width="398" height="2.5" fill="#f6f0f8"/><rect x="208" y="446.1" width="398" height="2.5" fill="#f6f2fa"/><rect x="208" y="448.2" width="398" height="2.5" fill="#f6eaf2"/><rect x="208" y="450.4" width="398" height="2.5" fill="#f6e2ea"/><rect x="208" y="452.6" width="398" height="2.5" fill="#f6e8f0"/><rect x="208" y="454.8" width="398" height="2.5" fill="#f6f5fd"/><rect x="208" y="457" width="398" height="2.5" fill="#f6f5fd"/><rect x="208" y="459.2" width="398" height="2.5" fill="#f6edf5"/><rect x="208" y="461.3" width="398" height="2.5" fill="#f6e7ef"/><rect x="208" y="463.5" width="398" height="2.5" fill="#f6eff7"/><rect x="208" y="465.7" width="398" height="2.5" fill="#f6fbff"/><rect x="208" y="467.9" width="398" height="2.5" fill="#f6f8ff"/><rect x="208" y="470.1" width="398" height="2.5" fill="#f6e6ee"/><rect x="208" y="472.3" width="398" height="2.5" fill="#f6ecf4"/><rect x="208" y="474.4" width="398" height="2.5" fill="#f6dfe7"/><rect x="208" y="476.6" width="398" height="2.5" fill="#f6e2ea"/><rect x="208" y="478.8" width="398" height="2.5" fill="#f6eef6"/><rect x="208" y="481" width="398" height="2.5" fill="#f8d4d8"/><rect x="208" y="483.2" width="398" height="2.5" fill="#f8dde1"/><rect x="208" y="485.5" width="398" height="2.5" fill="#f8dfe3"/><rect x="208" y="487.8" width="398" height="2.5" fill="#f8dce0"/><rect x="208" y="490" width="398" height="2.5" fill="#f8e0e4"/><rect x="208" y="492.2" width="398" height="2.5" fill="#f8cfd3"/><rect x="208" y="494.5" width="398" height="2.5" fill="#f8cace"/><rect x="208" y="496.8" width="398" height="2.5" fill="#f8d9dd"/><rect x="208" y="499" width="398" height="2.5" fill="#f8ecf0"/><rect x="208" y="501.2" width="398" height="2.5" fill="#f8d7db"/><rect x="208" y="503.5" width="398" height="2.5" fill="#fae4e6"/><rect x="208" y="505.8" width="398" height="2.5" fill="#faf0f2"/><rect x="208" y="508" width="398" height="2.5" fill="#fafbfd"/><rect x="208" y="510.2" width="398" height="2.5" fill="#fae5e7"/><rect x="208" y="512.5" width="398" height="2.5" fill="#faf5f7"/><rect x="208" y="514.8" width="398" height="2.5" fill="#fae8ea"/><rect x="208" y="517" width="398" height="2.5" fill="#faf9fb"/><rect x="208" y="519.2" width="398" height="2.5" fill="#faf5f7"/><rect x="208" y="521.5" width="398" height="2.5" fill="#faf1f3"/><rect x="208" y="523.8" width="398" height="2.5" fill="#faffff"/><rect x="208" y="526" width="398" height="2.4" fill="#f8d4d8"/><rect x="208" y="528.1" width="398" height="2.4" fill="#f8d2d6"/><rect x="208" y="530.3" width="398" height="2.4" fill="#f8e9ed"/><rect x="208" y="532.4" width="398" height="2.4" fill="#f8d0d4"/><rect x="208" y="534.6" width="398" height="2.4" fill="#f8ecf0"/><rect x="208" y="536.7" width="398" height="2.4" fill="#f8d8dc"/><rect x="208" y="538.9" width="398" height="2.4" fill="#f8cfd3"/><rect x="208" y="541" width="398" height="2.6" fill="#c8c0f0"/><rect x="208" y="543.3" width="398" height="2.6" fill="#c9c1f0"/><rect x="208" y="545.7" width="398" height="2.6" fill="#cac2f0"/><rect x="208" y="548" width="398" height="2.2" fill="#f6c6ce"/><rect x="208" y="549.9" width="398" height="2.2" fill="#f6d2da"/><rect x="208" y="551.7" width="398" height="2.2" fill="#f6b3bb"/><rect x="208" y="553.6" width="398" height="2.6" fill="#bfc3f4"/><rect x="208" y="555.9" width="398" height="2.6" fill="#c2c6f4"/><rect x="208" y="558.2" width="398" height="2.6" fill="#d4d8f4"/><rect x="208" y="560.5" width="398" height="2.6" fill="#b2b6f4"/><rect x="208" y="562.9" width="398" height="2.6" fill="#c1c5f4"/><rect x="208" y="565.2" width="398" height="2.6" fill="#babef4"/><rect x="208" y="567.5" width="398" height="2.5" fill="#e2def8"/><rect x="208" y="569.8" width="398" height="2.5" fill="#eeeaf8"/><rect x="208" y="572" width="398" height="2.5" fill="#ece8f8"/><rect x="208" y="574.2" width="398" height="2.5" fill="#f5f1f8"/><rect x="208" y="576.5" width="398" height="2.5" fill="#e3dff8"/><rect x="208" y="578.8" width="398" height="2.5" fill="#eae6f8"/><rect x="208" y="581" width="398" height="2.5" fill="#f3eff8"/><rect x="208" y="583.2" width="398" height="2.5" fill="#f0ecf8"/><rect x="208" y="585.5" width="398" height="2.5" fill="#e5e1f8"/><rect x="208" y="587.8" width="398" height="2.5" fill="#f2eef8"/><rect x="208" y="590" width="398" height="2.5" fill="#e0dcf8"/><rect x="208" y="592.2" width="398" height="2.5" fill="#f8f4f8"/><rect x="208" y="594.5" width="398" height="2.5" fill="#e9e5f8"/><rect x="208" y="596.8" width="398" height="2.5" fill="#e7e3f8"/><rect x="208" y="599" width="398" height="2.5" fill="#eae6f8"/><rect x="208" y="601.2" width="398" height="2.5" fill="#f0ecf8"/><rect x="208" y="603.5" width="398" height="2.5" fill="#f8f4f8"/><rect x="208" y="605.8" width="398" height="2.5" fill="#e7e3f8"/><rect x="208" y="608" width="398" height="2.6" fill="#adadf2"/><rect x="208" y="610.3" width="398" height="2.6" fill="#b5b5f2"/><rect x="208" y="612.5" width="398" height="2.6" fill="#a8a8f2"/><rect x="208" y="614.8" width="398" height="2.6" fill="#a1a1f2"/><rect x="208" y="617.1" width="398" height="2.6" fill="#b8b8f2"/><rect x="208" y="619.3" width="398" height="2.6" fill="#adadf2"/><rect x="208" y="621.6" width="398" height="2.6" fill="#babaf2"/><rect x="208" y="623.9" width="398" height="2.6" fill="#a7a7f2"/><rect x="208" y="626.1" width="398" height="2.6" fill="#9696f2"/><rect x="208" y="628.4" width="398" height="2.6" fill="#b3b3f2"/><rect x="208" y="630.7" width="398" height="2.6" fill="#b1b1f2"/><rect x="208" y="632.9" width="398" height="2.6" fill="#bebef2"/><rect x="208" y="635.2" width="398" height="2.6" fill="#b5b5f2"/><rect x="208" y="637.5" width="398" height="2.6" fill="#b3b3f2"/><rect x="208" y="639.7" width="398" height="2.6" fill="#b5b5f2"/><rect x="208" y="642" width="398" height="2.4" fill="#9191ee"/><rect x="208" y="644.1" width="398" height="2.4" fill="#9595ee"/><rect x="208" y="646.2" width="398" height="2.4" fill="#8888ee"/><rect x="208" y="648.3" width="398" height="2.4" fill="#9999ee"/><rect x="208" y="650.4" width="398" height="2.4" fill="#8d8dee"/><rect x="208" y="652.5" width="398" height="2.4" fill="#9090ee"/><rect x="208" y="654.6" width="398" height="2.4" fill="#9a9aee"/><rect x="208" y="656.7" width="398" height="2.4" fill="#9c9cee"/><rect x="208" y="658.8" width="398" height="2.4" fill="#8b8bee"/><rect x="208" y="660.9" width="398" height="2.4" fill="#a6a6ee"/><rect x="208" y="663" width="398" height="2.6" fill="#bbbff4"/><rect x="208" y="665.3" width="398" height="2.6" fill="#c8ccf4"/><rect x="208" y="667.6" width="398" height="2.6" fill="#c9cdf4"/><rect x="208" y="669.9" width="398" height="2.6" fill="#c2c6f4"/><rect x="208" y="672.2" width="398" height="2.6" fill="#c2c6f4"/><rect x="208" y="674.5" width="398" height="2.6" fill="#d0d4f4"/><rect x="208" y="676.8" width="398" height="2.6" fill="#c8ccf4"/><rect x="208" y="679.1" width="398" height="2.6" fill="#c4c8f4"/><rect x="208" y="681.4" width="398" height="2.6" fill="#b0b4f4"/><rect x="208" y="683.7" width="398" height="2.6" fill="#b9bdf4"/><rect x="208" y="686" width="398" height="2.3" fill="#f09a9a"/><rect x="208" y="688" width="398" height="2.3" fill="#f09292"/><rect x="208" y="690" width="398" height="2.8" fill="#f49b9b"/><rect x="208" y="692.5" width="398" height="2.8" fill="#f49e9e"/><rect x="208" y="694.9" width="398" height="2.8" fill="#f4a1a1"/><rect x="208" y="697.4" width="398" height="2.4" fill="#f8caca"/><rect x="208" y="699.5" width="398" height="2.4" fill="#f8c7c7"/><rect x="208" y="701.6" width="398" height="2.4" fill="#f8cdcd"/><rect x="208" y="703.8" width="398" height="2.4" fill="#f8bdbd"/><rect x="208" y="705.9" width="398" height="2.4" fill="#f8cdcd"/><rect x="208" y="708" width="398" height="2.4" fill="#f8bfbf"/><rect x="208" y="710.1" width="398" height="2.4" fill="#f8c1c1"/><rect x="208" y="712.3" width="398" height="2.4" fill="#f8d4d4"/><rect x="208" y="714.4" width="398" height="2.4" fill="#f8c5c5"/><rect x="208" y="716.5" width="398" height="2.4" fill="#f8c3c3"/><rect x="208" y="718.6" width="398" height="2.4" fill="#f8c2c2"/><rect x="208" y="720.8" width="398" height="2.4" fill="#f8c1c1"/><rect x="208" y="722.9" width="398" height="2.4" fill="#f8d2d2"/><rect x="208" y="725" width="398" height="2.5" fill="#f6c4c4"/><rect x="208" y="727.2" width="398" height="2.5" fill="#f6bebe"/><rect x="208" y="729.3" width="398" height="2.5" fill="#f6baba"/><rect x="208" y="731.5" width="398" height="2.5" fill="#f6c1c1"/><rect x="208" y="733.6" width="398" height="2.5" fill="#f6b7b7"/><rect x="208" y="735.8" width="398" height="2.5" fill="#f6bcbc"/><rect x="208" y="737.9" width="398" height="2.5" fill="#f6bcbc"/><rect x="208" y="740.1" width="398" height="2.5" fill="#f6b9b9"/><rect x="208" y="742.2" width="398" height="2.5" fill="#f6c7c7"/><rect x="208" y="744.4" width="398" height="2.5" fill="#f6c8c8"/><rect x="208" y="746.5" width="398" height="2.5" fill="#f6c4c4"/><rect x="208" y="748.7" width="398" height="2.5" fill="#f6a7a7"/><rect x="208" y="750.8" width="398" height="2.5" fill="#f6c9c9"/><rect x="208" y="753" width="398" height="2.5" fill="#f8dada"/><rect x="208" y="755.2" width="398" height="2.5" fill="#f8d0d0"/><rect x="208" y="757.4" width="398" height="2.5" fill="#f8d4d4"/><rect x="208" y="759.6" width="398" height="2.5" fill="#f8dede"/><rect x="208" y="761.8" width="398" height="2.5" fill="#f8dfdf"/><rect x="208" y="764" width="398" height="2.5" fill="#f8dcdc"/><rect x="208" y="766.2" width="398" height="2.5" fill="#f8d5d5"/><rect x="208" y="768.4" width="398" height="2.5" fill="#f8d4d4"/><rect x="208" y="770.6" width="398" height="2.5" fill="#f8dbdb"/><rect x="208" y="772.8" width="398" height="2.5" fill="#f8d3d3"/><rect x="208" y="775" width="398" height="2.5" fill="#f8cccc"/><rect x="208" y="777.2" width="398" height="2.5" fill="#f8cece"/><rect x="208" y="779.4" width="398" height="2.6" fill="#f2a7a7"/><rect x="208" y="781.7" width="398" height="2.6" fill="#f2abab"/><rect x="208" y="784.1" width="398" height="2.6" fill="#f2bcbc"/><rect x="208" y="786.4" width="398" height="2.5" fill="#f8b4b4"/><rect x="208" y="788.6" width="398" height="2.5" fill="#f8c4c4"/><rect x="208" y="790.8" width="398" height="2.5" fill="#f8bfbf"/><rect x="208" y="793.1" width="398" height="2.5" fill="#f8c3c3"/><rect x="208" y="795.3" width="398" height="2.5" fill="#f8cccc"/><rect x="208" y="797.5" width="398" height="2.4" fill="#f29393"/><rect x="208" y="799.6" width="398" height="2.4" fill="#f28787"/><rect x="208" y="801.7" width="398" height="2.4" fill="#f28383"/><rect x="208" y="803.8" width="398" height="2.4" fill="#f27c7c"/><rect x="208" y="805.8" width="398" height="2.4" fill="#f28787"/><rect x="208" y="807.9" width="398" height="2.4" fill="#f29393"/><rect x="208" y="810" width="398" height="2.5" fill="#f49292"/><rect x="208" y="812.2" width="398" height="2.5" fill="#f49a9a"/><rect x="208" y="814.5" width="398" height="2.5" fill="#f49a9a"/><rect x="208" y="816.8" width="398" height="2.5" fill="#f49898"/><rect x="208" y="819" width="398" height="2.5" fill="#f49e9e"/><rect x="208" y="821.2" width="398" height="2.5" fill="#f49393"/><rect x="208" y="823.5" width="398" height="2.6" fill="#f49999"/><rect x="208" y="825.8" width="398" height="2.6" fill="#f49595"/><rect x="208" y="828" width="398" height="2.6" fill="#f4a8a8"/><rect x="208" y="830.3" width="398" height="2.6" fill="#f49d9d"/><rect x="208" y="832.6" width="398" height="2.6" fill="#f49d9d"/><rect x="208" y="834.9" width="398" height="2.6" fill="#f4a8a8"/><rect x="208" y="837.1" width="398" height="2.6" fill="#f49999"/><rect x="208" y="839.4" width="398" height="2.6" fill="#f4b0b0"/><rect x="208" y="841.7" width="398" height="2.6" fill="#f4a6a6"/><rect x="208" y="844" width="398" height="2.6" fill="#f49b9b"/><rect x="208" y="846.2" width="398" height="2.6" fill="#f49a9a"/><rect x="208" y="848.5" width="398" height="2.5" fill="#f8caca"/><rect x="208" y="850.8" width="398" height="2.5" fill="#f8b5b5"/><rect x="208" y="853" width="398" height="2.5" fill="#f8baba"/><rect x="208" y="855.2" width="398" height="2.5" fill="#f8c0c0"/><rect x="208" y="857.5" width="398" height="2.5" fill="#f8c2c2"/><rect x="208" y="859.8" width="398" height="2.5" fill="#f8c0c0"/><rect x="208" y="862" width="398" height="2.5" fill="#f8c3c3"/><rect x="208" y="864.2" width="398" height="2.5" fill="#f8bdbd"/><rect x="208" y="866.5" width="398" height="2.5" fill="#f8bfbf"/><rect x="208" y="868.8" width="398" height="2.5" fill="#f8cbcb"/><rect x="208" y="871" width="398" height="2.3" fill="#f4b6b6"/><rect x="208" y="873" width="398" height="2.3" fill="#f4acac"/><rect x="208" y="875" width="398" height="2.3" fill="#f4bfbf"/><rect x="208" y="877" width="398" height="2.3" fill="#f49e9e"/><rect x="208" y="879" width="398" height="2.5" fill="#ee5959"/><rect x="208" y="881.2" width="398" height="2.5" fill="#ee5e5e"/><rect x="208" y="883.5" width="398" height="2.4" fill="#f48989"/><rect x="208" y="885.6" width="398" height="2.4" fill="#f48181"/><rect x="208" y="887.7" width="398" height="2.4" fill="#f47d7d"/><rect x="208" y="889.8" width="398" height="2.4" fill="#f48585"/><rect x="208" y="891.8" width="398" height="2.4" fill="#f47e7e"/><rect x="208" y="893.9" width="398" height="2.4" fill="#f48484"/><rect x="208" y="896" width="398" height="2.6" fill="#f04e4e"/><rect x="208" y="898.3" width="398" height="2.6" fill="#f06b6b"/><rect x="208" y="900.6" width="398" height="2.6" fill="#f06161"/><rect x="208" y="902.9" width="398" height="2.6" fill="#f07070"/><rect x="208" y="905.2" width="398" height="2.6" fill="#f06f6f"/><rect x="208" y="907.5" width="398" height="2.6" fill="#f06f6f"/><rect x="208" y="909.8" width="398" height="2.6" fill="#f06464"/><rect x="208" y="912.1" width="398" height="2.6" fill="#f06c6c"/><rect x="208" y="914.4" width="398" height="2.6" fill="#f06565"/><rect x="208" y="916.7" width="398" height="2.6" fill="#f06a6a"/><rect x="606" y="150" width="178" height="2.5" fill="#fffff6"/><rect x="606" y="152.2" width="178" height="2.5" fill="#ede3f6"/><rect x="606" y="154.4" width="178" height="2.5" fill="#f8eef6"/><rect x="606" y="156.6" width="178" height="2.5" fill="#f6ecf6"/><rect x="606" y="158.8" width="178" height="2.5" fill="#fdf3f6"/><rect x="606" y="161" width="178" height="2.5" fill="#e5dbf6"/><rect x="606" y="163.2" width="178" height="2.5" fill="#efe5f6"/><rect x="606" y="165.4" width="178" height="2.5" fill="#ece2f6"/><rect x="606" y="167.6" width="178" height="2.5" fill="#e8def6"/><rect x="606" y="169.8" width="178" height="2.5" fill="#ebe1f6"/><rect x="606" y="172" width="178" height="2.4" fill="#e6def6"/><rect x="606" y="174.1" width="178" height="2.4" fill="#e9e1f6"/><rect x="606" y="176.3" width="178" height="2.4" fill="#e2daf6"/><rect x="606" y="178.4" width="178" height="2.4" fill="#f1e9f6"/><rect x="606" y="180.6" width="178" height="2.4" fill="#e6def6"/><rect x="606" y="182.7" width="178" height="2.4" fill="#c9c1f6"/><rect x="606" y="184.8" width="178" height="2.4" fill="#f9f1f6"/><rect x="606" y="187" width="178" height="2.4" fill="#e8e0f6"/><rect x="606" y="189.1" width="178" height="2.4" fill="#e4dcf6"/><rect x="606" y="191.3" width="178" height="2.4" fill="#efe7f6"/><rect x="606" y="193.4" width="178" height="2.6" fill="#f8dfdf"/><rect x="606" y="195.7" width="178" height="2.6" fill="#f8dddd"/><rect x="606" y="197.9" width="178" height="2.6" fill="#f8d3d3"/><rect x="606" y="200.2" width="178" height="2.6" fill="#f8dede"/><rect x="606" y="202.4" width="178" height="2.6" fill="#f8cbcb"/><rect x="606" y="204.7" width="178" height="2.6" fill="#f8ecec"/><rect x="606" y="206.9" width="178" height="2.6" fill="#f8cece"/><rect x="606" y="209.2" width="178" height="2.6" fill="#f8dada"/><rect x="606" y="211.5" width="178" height="2.6" fill="#f8dcdc"/><rect x="606" y="213.7" width="178" height="2.6" fill="#f8dede"/><rect x="606" y="216" width="178" height="2.6" fill="#f8d9d9"/><rect x="606" y="218.2" width="178" height="2.6" fill="#f8e1e1"/><rect x="606" y="220.5" width="178" height="2.6" fill="#f8b4b4"/><rect x="606" y="222.7" width="178" height="2.6" fill="#f8d9d9"/><rect x="606" y="225" width="178" height="2.5" fill="#f8cdcd"/><rect x="606" y="227.2" width="178" height="2.5" fill="#f8caca"/><rect x="606" y="229.5" width="178" height="2.5" fill="#f8dfdf"/><rect x="606" y="231.7" width="178" height="2.5" fill="#f8c4c4"/><rect x="606" y="234" width="178" height="2.5" fill="#f8cece"/><rect x="606" y="236.2" width="178" height="2.5" fill="#f8b8b8"/><rect x="606" y="238.5" width="178" height="2.5" fill="#f8d2d2"/><rect x="606" y="240.7" width="178" height="2.5" fill="#f8bdbd"/><rect x="606" y="242.9" width="178" height="2.5" fill="#f8bdbd"/><rect x="606" y="245.2" width="178" height="2.5" fill="#f8e9e9"/><rect x="606" y="247.4" width="178" height="2.5" fill="#f8d6d6"/><rect x="606" y="249.7" width="178" height="2.5" fill="#f8cece"/><rect x="606" y="251.9" width="178" height="2.5" fill="#f8d0d0"/><rect x="606" y="254.2" width="178" height="2.5" fill="#f8bfbf"/><rect x="606" y="256.4" width="178" height="2.8" fill="#f4dbe3"/><rect x="606" y="258.9" width="178" height="2.8" fill="#f4ebf3"/><rect x="606" y="261.3" width="178" height="2.3" fill="#4747e0"/><rect x="606" y="263.3" width="178" height="2.3" fill="#6262e0"/><rect x="606" y="265.4" width="178" height="2.3" fill="#4b4be0"/><rect x="606" y="267.4" width="178" height="2.3" fill="#6060e0"/><rect x="606" y="269.4" width="178" height="2.6" fill="#babaf0"/><rect x="606" y="271.7" width="178" height="2.6" fill="#dadaf0"/><rect x="606" y="274" width="178" height="2.6" fill="#d2d2f0"/><rect x="606" y="276.3" width="178" height="2.6" fill="#c1c1f0"/><rect x="606" y="278.6" width="178" height="2.6" fill="#b1b1f0"/><rect x="606" y="280.9" width="178" height="2.6" fill="#bebef0"/><rect x="606" y="283.2" width="178" height="2.6" fill="#c6c6f0"/><rect x="606" y="285.5" width="178" height="2.5" fill="#7373e8"/><rect x="606" y="287.7" width="178" height="2.5" fill="#8282e8"/><rect x="606" y="289.8" width="178" height="2.5" fill="#8a8ae8"/><rect x="606" y="292" width="178" height="2.3" fill="#f6b2b2"/><rect x="606" y="294" width="178" height="2.3" fill="#f6aeae"/><rect x="606" y="296" width="178" height="2.3" fill="#f6bbbb"/><rect x="606" y="298" width="178" height="2.3" fill="#f6afaf"/><rect x="606" y="300" width="178" height="2.3" fill="#f4a8a8"/><rect x="606" y="302" width="178" height="2.3" fill="#f49b9b"/><rect x="606" y="304" width="178" height="2.3" fill="#f4b1b1"/><rect x="606" y="306" width="178" height="2.3" fill="#f49b9b"/><rect x="606" y="308" width="178" height="2.3" fill="#f49393"/><rect x="606" y="310" width="178" height="2.4" fill="#f6b0b0"/><rect x="606" y="312.1" width="178" height="2.4" fill="#f6a7a7"/><rect x="606" y="314.2" width="178" height="2.4" fill="#f6a4a4"/><rect x="606" y="316.4" width="178" height="2.4" fill="#f6adad"/><rect x="606" y="318.5" width="178" height="2.4" fill="#f6b7b7"/><rect x="606" y="320.6" width="178" height="2.4" fill="#f69696"/><rect x="606" y="322.7" width="178" height="2.5" fill="#f49292"/><rect x="606" y="324.9" width="178" height="2.5" fill="#f49191"/><rect x="606" y="327.2" width="178" height="2.5" fill="#f49191"/><rect x="606" y="329.4" width="178" height="2.5" fill="#f49c9c"/><rect x="606" y="331.6" width="178" height="2.5" fill="#f48484"/><rect x="606" y="333.9" width="178" height="2.5" fill="#f49a9a"/><rect x="606" y="336.1" width="178" height="2.5" fill="#f49090"/><rect x="606" y="338.3" width="178" height="2.5" fill="#f49494"/><rect x="606" y="340.5" width="178" height="2.5" fill="#f49090"/><rect x="606" y="342.8" width="178" height="2.5" fill="#f48f8f"/><rect x="606" y="345" width="178" height="2.5" fill="#f27979"/><rect x="606" y="347.2" width="178" height="2.5" fill="#f28383"/><rect x="606" y="349.4" width="178" height="2.5" fill="#f29696"/><rect x="606" y="351.7" width="178" height="2.5" fill="#f28b8b"/><rect x="606" y="353.9" width="178" height="2.5" fill="#f28888"/><rect x="606" y="356.1" width="178" height="2.5" fill="#f28585"/><rect x="606" y="358.3" width="178" height="2.5" fill="#f27979"/><rect x="606" y="360.6" width="178" height="2.5" fill="#f28686"/><rect x="606" y="362.8" width="178" height="2.5" fill="#f29696"/><rect x="606" y="365" width="178" height="2.5" fill="#f8c1c5"/><rect x="606" y="367.2" width="178" height="2.5" fill="#f8d8dc"/><rect x="606" y="369.3" width="178" height="2.5" fill="#f8dade"/><rect x="606" y="371.5" width="178" height="2.5" fill="#f8d2d6"/><rect x="606" y="373.7" width="178" height="2.5" fill="#f8d8dc"/><rect x="606" y="375.8" width="178" height="2.5" fill="#f8dfe3"/><rect x="606" y="378" width="178" height="2" fill="#f0a0a0"/><rect x="606" y="380" width="178" height="2.4" fill="#f6cccc"/><rect x="606" y="382.1" width="178" height="2.4" fill="#f6c2c2"/><rect x="606" y="384.3" width="178" height="2.4" fill="#f6c6c6"/><rect x="606" y="386.4" width="178" height="2.4" fill="#f6b7b7"/><rect x="606" y="388.5" width="178" height="2.4" fill="#f6bcbc"/><rect x="606" y="390.7" width="178" height="2.4" fill="#f6b5b5"/><rect x="606" y="392.8" width="178" height="2.4" fill="#f6b6b6"/><rect x="606" y="394.9" width="178" height="2.4" fill="#f6aeae"/><rect x="606" y="397.1" width="178" height="2.4" fill="#f6bbbb"/><rect x="606" y="399.2" width="178" height="2.4" fill="#f6c3c3"/><rect x="606" y="401.4" width="178" height="2.4" fill="#f6b2b2"/><rect x="606" y="403.5" width="178" height="2.4" fill="#f6b6b6"/><rect x="606" y="405.6" width="178" height="2.4" fill="#f6baba"/><rect x="606" y="407.8" width="178" height="2.4" fill="#f6b4b4"/><rect x="606" y="409.9" width="178" height="2.4" fill="#f6bebe"/><rect x="606" y="412" width="178" height="2.4" fill="#f6b6b6"/><rect x="606" y="414.2" width="178" height="2.4" fill="#f6a6a6"/><rect x="606" y="416.3" width="178" height="2.3" fill="#2c2ce0"/><rect x="606" y="418.3" width="178" height="2.3" fill="#4040e0"/><rect x="606" y="420.4" width="178" height="2.3" fill="#3f3fe0"/><rect x="606" y="422.4" width="178" height="2.3" fill="#4444e0"/><rect x="606" y="424.5" width="178" height="2.3" fill="#3a3ae0"/><rect x="606" y="426.5" width="178" height="2.5" fill="#aaaaf4"/><rect x="606" y="428.8" width="178" height="2.5" fill="#9696f4"/><rect x="606" y="431" width="178" height="2.5" fill="#b7b7f4"/><rect x="606" y="433.2" width="178" height="2.5" fill="#9d9df4"/><rect x="606" y="435.5" width="178" height="2.5" fill="#b3b3f4"/><rect x="606" y="437.8" width="178" height="2.5" fill="#9b9bf4"/><rect x="606" y="440" width="178" height="2.5" fill="#a0a0f4"/><rect x="606" y="442.2" width="178" height="2.5" fill="#a9a9f4"/><rect x="606" y="444.5" width="178" height="2.5" fill="#a3a3f4"/><rect x="606" y="446.8" width="178" height="2.5" fill="#a0a0f4"/><rect x="606" y="449" width="178" height="2.5" fill="#8a8af0"/><rect x="606" y="451.2" width="178" height="2.5" fill="#8787f0"/><rect x="606" y="453.4" width="178" height="2.5" fill="#8484f0"/><rect x="606" y="455.6" width="178" height="2.5" fill="#7c7cf0"/><rect x="606" y="457.7" width="178" height="2.5" fill="#7777f0"/><rect x="606" y="459.9" width="178" height="2.5" fill="#7a7af0"/><rect x="606" y="462.1" width="178" height="2.5" fill="#7a7af0"/><rect x="606" y="464.3" width="178" height="2.5" fill="#7f7ff0"/><rect x="606" y="466.5" width="178" height="2.5" fill="#8888f0"/><rect x="606" y="468.7" width="178" height="2.5" fill="#7e7ef0"/><rect x="606" y="470.9" width="178" height="2.5" fill="#7777f0"/><rect x="606" y="473" width="178" height="2.5" fill="#7979f0"/><rect x="606" y="475.2" width="178" height="2.5" fill="#8e8ef0"/><rect x="606" y="477.4" width="178" height="2.5" fill="#8282f0"/><rect x="606" y="479.6" width="178" height="2.5" fill="#3232e8"/><rect x="606" y="481.8" width="178" height="2.5" fill="#3333e8"/><rect x="606" y="484.1" width="178" height="2.5" fill="#3636e8"/><rect x="606" y="486.3" width="178" height="2.5" fill="#3131e8"/><rect x="606" y="488.6" width="178" height="2.5" fill="#3d3de8"/><rect x="606" y="490.8" width="178" height="2.5" fill="#3939e8"/><rect x="606" y="493" width="178" height="2.5" fill="#1111e8"/><rect x="606" y="495.3" width="178" height="2.5" fill="#2e2ee8"/><rect x="606" y="497.5" width="178" height="2.5" fill="#5151e8"/><rect x="606" y="499.8" width="178" height="2.5" fill="#2222e8"/><rect x="606" y="502" width="178" height="2.4" fill="#a1a1f0"/><rect x="606" y="504.1" width="178" height="2.4" fill="#acacf0"/><rect x="606" y="506.3" width="178" height="2.4" fill="#a0a0f0"/><rect x="606" y="508.4" width="178" height="2.4" fill="#afaff0"/><rect x="606" y="510.5" width="178" height="2.4" fill="#9292f0"/><rect x="606" y="512.7" width="178" height="2.4" fill="#9292f0"/><rect x="606" y="514.8" width="178" height="2.4" fill="#9e9ef0"/><rect x="606" y="517" width="178" height="2.4" fill="#9898f0"/><rect x="606" y="519.1" width="178" height="2.4" fill="#9494f0"/><rect x="606" y="521.2" width="178" height="2.4" fill="#a6a6f0"/><rect x="606" y="523.4" width="178" height="2.4" fill="#a3a3f0"/><rect x="606" y="525.5" width="178" height="2.6" fill="#6060e0"/><rect x="606" y="527.8" width="178" height="2.6" fill="#5c5ce0"/><rect x="606" y="530" width="178" height="2.6" fill="#6363e0"/><rect x="606" y="532.3" width="178" height="2.6" fill="#5f5fe0"/><rect x="606" y="534.6" width="178" height="2.5" fill="#0202f0"/><rect x="606" y="536.8" width="178" height="2.5" fill="#1010f0"/><rect x="606" y="539" width="178" height="2.5" fill="#0e0ef0"/><rect x="606" y="541.1" width="178" height="2.5" fill="#0b0bf0"/><rect x="606" y="543.3" width="178" height="2.5" fill="#1212f0"/><rect x="606" y="545.5" width="178" height="2.5" fill="#0000f0"/><rect x="606" y="547.6" width="178" height="2.5" fill="#0808f0"/><rect x="606" y="549.8" width="178" height="2.5" fill="#0404f0"/><rect x="606" y="552" width="178" height="2.5" fill="#4f4fea"/><rect x="606" y="554.2" width="178" height="2.5" fill="#4646ea"/><rect x="606" y="556.5" width="178" height="2.5" fill="#5757ea"/><rect x="606" y="558.8" width="178" height="2.5" fill="#5151ea"/><rect x="606" y="561" width="178" height="2.5" fill="#3c3cea"/><rect x="606" y="563.2" width="178" height="2.5" fill="#3434ea"/><rect x="606" y="565.5" width="178" height="2.5" fill="#4545ea"/><rect x="606" y="567.8" width="178" height="2.5" fill="#3d3dea"/><rect x="606" y="570" width="178" height="2.5" fill="#6868f0"/><rect x="606" y="572.2" width="178" height="2.5" fill="#5e5ef0"/><rect x="606" y="574.5" width="178" height="2.5" fill="#7171f0"/><rect x="606" y="576.7" width="178" height="2.5" fill="#6c6cf0"/><rect x="606" y="578.9" width="178" height="2.5" fill="#6e6ef0"/><rect x="606" y="581.2" width="178" height="2.5" fill="#6d6df0"/><rect x="606" y="583.4" width="178" height="2.5" fill="#6060f0"/><rect x="606" y="585.6" width="178" height="2.5" fill="#5151f0"/><rect x="606" y="587.9" width="178" height="2.5" fill="#6767f0"/><rect x="606" y="590.1" width="178" height="2.5" fill="#6363f0"/><rect x="606" y="592.3" width="178" height="2.5" fill="#6464f0"/><rect x="606" y="594.6" width="178" height="2.5" fill="#7575f0"/><rect x="606" y="596.8" width="178" height="2.5" fill="#6969f0"/><rect x="606" y="599" width="178" height="2.5" fill="#7b7bf0"/><rect x="606" y="601.3" width="178" height="2.5" fill="#6c6cf0"/><rect x="606" y="603.5" width="178" height="2.7" fill="#3838ea"/><rect x="606" y="605.9" width="178" height="2.7" fill="#3636ea"/><rect x="606" y="608.2" width="178" height="2.7" fill="#3939ea"/><rect x="606" y="610.6" width="178" height="2.7" fill="#2222ea"/><rect x="606" y="612.9" width="178" height="2.7" fill="#3c3cea"/><rect x="606" y="615.3" width="178" height="2.7" fill="#3131ea"/><rect x="606" y="617.6" width="178" height="2.7" fill="#2525ea"/><rect x="606" y="620" width="178" height="2.5" fill="#0909f0"/><rect x="606" y="622.2" width="178" height="2.5" fill="#0606f0"/><rect x="606" y="624.3" width="178" height="2.5" fill="#1010f0"/><rect x="606" y="626.5" width="178" height="2.5" fill="#0a0af0"/><rect x="606" y="628.7" width="178" height="2.5" fill="#0606f0"/><rect x="606" y="630.8" width="178" height="2.5" fill="#0000f0"/><rect x="606" y="633" width="178" height="2.5" fill="#1414f0"/><rect x="606" y="635.2" width="178" height="2.5" fill="#1212f0"/><rect x="606" y="637.3" width="178" height="2.5" fill="#0b0bf0"/><rect x="606" y="639.5" width="178" height="2.5" fill="#0707f0"/><rect x="606" y="641.7" width="178" height="2.5" fill="#0f0ff0"/><rect x="606" y="643.8" width="178" height="2.5" fill="#0000f0"/><rect x="606" y="646" width="178" height="2.5" fill="#0a0af0"/><rect x="606" y="648.2" width="178" height="2.5" fill="#0202f0"/><rect x="606" y="650.3" width="178" height="2.5" fill="#0000f0"/><rect x="606" y="652.5" width="178" height="2.5" fill="#0606f0"/><rect x="606" y="654.7" width="178" height="2.5" fill="#0606f0"/><rect x="606" y="656.8" width="178" height="2.5" fill="#1515f0"/><rect x="606" y="659" width="178" height="2.5" fill="#2828e8"/><rect x="606" y="661.2" width="178" height="2.5" fill="#0c0ce8"/><rect x="606" y="663.5" width="178" height="2.5" fill="#0808e8"/><rect x="606" y="665.7" width="178" height="2.5" fill="#1d1de8"/><rect x="606" y="667.9" width="178" height="2.5" fill="#1c1ce8"/><rect x="606" y="670.2" width="178" height="2.5" fill="#1414e8"/><rect x="606" y="672.4" width="178" height="2.5" fill="#0e0ee8"/><rect x="606" y="674.6" width="178" height="2.5" fill="#1c1ce8"/><rect x="606" y="676.9" width="178" height="2.5" fill="#1111e8"/><rect x="606" y="679.1" width="178" height="2.5" fill="#1616e8"/><rect x="606" y="681.4" width="178" height="2.5" fill="#2727e8"/><rect x="606" y="683.6" width="178" height="2.5" fill="#2121e8"/><rect x="606" y="685.8" width="178" height="2.5" fill="#1616e8"/><rect x="606" y="688.1" width="178" height="2.5" fill="#1212e8"/><rect x="606" y="690.3" width="178" height="2.5" fill="#1c1ce8"/><rect x="606" y="692.5" width="178" height="2.5" fill="#3131e8"/><rect x="606" y="694.8" width="178" height="2.5" fill="#1818e8"/><rect x="606" y="697" width="178" height="2.3" fill="#4d4de8"/><rect x="606" y="699" width="178" height="2.3" fill="#3131e8"/><rect x="606" y="701" width="178" height="2.5" fill="#d2d2f8"/><rect x="606" y="703.2" width="178" height="2.5" fill="#dcdcf8"/><rect x="606" y="705.3" width="178" height="2.5" fill="#cbcbf8"/><rect x="606" y="707.5" width="178" height="2.5" fill="#d5d5f8"/><rect x="606" y="709.7" width="178" height="2.5" fill="#c5c5f8"/><rect x="606" y="711.8" width="178" height="2.5" fill="#dbdbf8"/><rect x="606" y="714" width="178" height="2.5" fill="#e1e1f8"/><rect x="606" y="716.2" width="178" height="2.5" fill="#cdcdf8"/><rect x="606" y="718.3" width="178" height="2.5" fill="#d6d6f8"/><rect x="606" y="720.5" width="178" height="2.5" fill="#d0d0f8"/><rect x="606" y="722.7" width="178" height="2.5" fill="#bcbcf8"/><rect x="606" y="724.8" width="178" height="2.5" fill="#f2f2f8"/><rect x="606" y="727" width="178" height="2.5" fill="#dbdbf8"/><rect x="606" y="729.2" width="178" height="2.5" fill="#ddddf8"/><rect x="606" y="731.3" width="178" height="2.5" fill="#d8d8f8"/><rect x="606" y="733.5" width="178" height="2.5" fill="#d6d6f8"/><rect x="606" y="735.7" width="178" height="2.5" fill="#eeeef8"/><rect x="606" y="737.8" width="178" height="2.5" fill="#c0c0f8"/><rect x="606" y="740" width="178" height="2.4" fill="#ddd9f8"/><rect x="606" y="742.1" width="178" height="2.4" fill="#dbd7f8"/><rect x="606" y="744.3" width="178" height="2.4" fill="#dedaf8"/><rect x="606" y="746.4" width="178" height="2.4" fill="#e8e4f8"/><rect x="606" y="748.6" width="178" height="2.4" fill="#d8d4f8"/><rect x="606" y="750.7" width="178" height="2.4" fill="#d1cdf8"/><rect x="606" y="752.9" width="178" height="2.4" fill="#d4d0f8"/><rect x="606" y="755" width="178" height="2.6" fill="#c5c5f4"/><rect x="606" y="757.3" width="178" height="2.6" fill="#cacaf4"/><rect x="606" y="759.5" width="178" height="2.6" fill="#c9c9f4"/><rect x="606" y="761.8" width="178" height="2.6" fill="#d2d2f4"/><rect x="606" y="764" width="178" height="2.6" fill="#babaf4"/><rect x="606" y="766.3" width="178" height="2.6" fill="#cbcbf4"/><rect x="606" y="768.6" width="178" height="2.6" fill="#c8c8f4"/><rect x="606" y="770.8" width="178" height="2.6" fill="#bebef4"/><rect x="606" y="773.1" width="178" height="2.6" fill="#b8b8f4"/><rect x="606" y="775.3" width="178" height="2.6" fill="#cacaf4"/><rect x="606" y="777.6" width="178" height="2.4" fill="#2828e0"/><rect x="606" y="779.7" width="178" height="2.4" fill="#2d2de0"/><rect x="606" y="781.8" width="178" height="2.4" fill="#2525e0"/><rect x="606" y="783.9" width="178" height="2.4" fill="#4343e0"/><rect x="606" y="786" width="178" height="2.5" fill="#6f6ff0"/><rect x="606" y="788.2" width="178" height="2.5" fill="#6a6af0"/><rect x="606" y="790.3" width="178" height="2.5" fill="#6d6df0"/><rect x="606" y="792.5" width="178" height="2.5" fill="#6d6df0"/><rect x="606" y="794.7" width="178" height="2.5" fill="#7171f0"/><rect x="606" y="796.8" width="178" height="2.5" fill="#5d5df0"/><rect x="606" y="799" width="178" height="2.5" fill="#6363f0"/><rect x="606" y="801.2" width="178" height="2.5" fill="#7676f0"/><rect x="606" y="803.3" width="178" height="2.5" fill="#7c7cf0"/><rect x="606" y="805.5" width="178" height="2.5" fill="#6565f0"/><rect x="606" y="807.7" width="178" height="2.5" fill="#7171f0"/><rect x="606" y="809.8" width="178" height="2.5" fill="#6a6af0"/><rect x="606" y="812" width="178" height="2.6" fill="#b7b5f4"/><rect x="606" y="814.3" width="178" height="2.6" fill="#cdcbf4"/><rect x="606" y="816.6" width="178" height="2.6" fill="#c4c2f4"/><rect x="606" y="818.9" width="178" height="2.6" fill="#dad8f4"/><rect x="606" y="821.2" width="178" height="2.6" fill="#ceccf4"/><rect x="606" y="823.5" width="178" height="2.5" fill="#f4eaf4"/><rect x="606" y="825.7" width="178" height="2.5" fill="#f4dae4"/><rect x="606" y="827.8" width="178" height="2.5" fill="#f4ecf6"/><rect x="606" y="830" width="178" height="2.5" fill="#f4d5df"/><rect x="606" y="832.1" width="178" height="2.5" fill="#f4ecf6"/><rect x="606" y="834.3" width="178" height="2.5" fill="#f4f9ff"/><rect x="606" y="836.4" width="178" height="2.5" fill="#f4dde7"/><rect x="606" y="838.6" width="178" height="2.5" fill="#f4f3fd"/><rect x="606" y="840.8" width="178" height="2.5" fill="#f4f9ff"/><rect x="606" y="842.9" width="178" height="2.5" fill="#f4e8f2"/><rect x="606" y="845.1" width="178" height="2.5" fill="#f4f6ff"/><rect x="606" y="847.2" width="178" height="2.5" fill="#f4ebf5"/><rect x="606" y="849.4" width="178" height="2.5" fill="#f4e5ef"/><rect x="606" y="851.5" width="178" height="2.5" fill="#f4d4de"/><rect x="606" y="853.7" width="178" height="2.5" fill="#f4dee8"/><rect x="606" y="855.8" width="178" height="2.5" fill="#f4dae4"/><rect x="606" y="858" width="178" height="2.6" fill="#aaaae8"/><rect x="606" y="860.3" width="178" height="2.6" fill="#9393e8"/><rect x="606" y="862.7" width="178" height="2.6" fill="#8e8ee8"/><rect x="606" y="865" width="178" height="2.6" fill="#f05151"/><rect x="606" y="867.3" width="178" height="2.6" fill="#f07373"/><rect x="606" y="869.7" width="178" height="2.6" fill="#f05353"/><rect x="606" y="872" width="178" height="2.6" fill="#f07070"/><rect x="606" y="874.3" width="178" height="2.6" fill="#f06c6c"/><rect x="606" y="876.7" width="178" height="2.6" fill="#f06161"/><rect x="606" y="879" width="178" height="2.4" fill="#f49999"/><rect x="606" y="881.1" width="178" height="2.4" fill="#f49f9f"/><rect x="606" y="883.2" width="178" height="2.4" fill="#f49191"/><rect x="606" y="885.4" width="178" height="2.4" fill="#f4a7a7"/><rect x="606" y="887.5" width="178" height="2.7" fill="#f8e3eb"/><rect x="606" y="889.9" width="178" height="2.7" fill="#f8dae2"/><rect x="606" y="892.2" width="178" height="2.7" fill="#f8dce4"/><rect x="606" y="894.6" width="178" height="2.7" fill="#f8c8d0"/><rect x="606" y="896.9" width="178" height="2.7" fill="#f8d3db"/><rect x="606" y="899.3" width="178" height="2.7" fill="#f8c5cd"/><rect x="606" y="901.6" width="178" height="2.7" fill="#f8cbd3"/><rect x="606" y="904" width="178" height="2.6" fill="#e8d0f0"/><rect x="606" y="906.3" width="178" height="2.6" fill="#e8e4ff"/><rect x="606" y="908.7" width="178" height="2.6" fill="#e8c9e9"/><rect x="606" y="911" width="178" height="2.3" fill="#ee4848"/><rect x="606" y="913" width="178" height="2.3" fill="#ee3333"/><rect x="606" y="915" width="178" height="2.3" fill="#ee4a4a"/><rect x="606" y="917" width="178" height="2.3" fill="#ee3e3e"/><rect x="208" y="150" width="576" height="769" fill="url(#tex)"/><line x1="796" y1="150" x2="796" y2="918" stroke="#9aa6b0" stroke-width="1.5" stroke-dasharray="2 2"/><line x1="209" y1="934" x2="606" y2="934" stroke="#c6ced4" stroke-width="8" stroke-dasharray="23 2 14 3 31 2 18 3 9 2"/><line x1="606" y1="934" x2="784" y2="934" stroke="#e2e6ea" stroke-width="7" stroke-dasharray="12 3 7 2 16 3"/><path d="M185 151.2H150V193.2H160M150 172.2H130.4V272.6H152M160 444.4H146.6V498.2H158M150 616.6H142V678.7H152M146.6 471.3H131.6V647.7H142M149 361.7H108.5V559.5H131.6M130.4 222.4H100.4V460.6H108.5M175 688.3H139.7V771.3H150M170 863.5H135V888.7H148M139.7 729.8H100.4V876.1H135M100.4 341.5H46.6V803H100.4" fill="none" stroke="#000" stroke-width="1.7"/><path d="M208 150.2H197.4V150.6H208M208 150H197.3V150.4H197.4M197.3 150.2H197.1V150.9H208M197.1 150.5H196.9V150.9H208M208 150H196.8V150.7H196.9M208 150H196.6V150.4H196.8M208 150H196.4V150.2H196.6M208 150H196.2V150.1H196.4M208 150H196.1V150H196.2M196.1 150H195.9V150.9H208M195.9 150.5H190.6V150.9H208M208 151.2H197.8V151.6H208M208 150.9H197.7V151.4H197.8M208 150.9H197.5V151.1H197.7M197.5 151H197.4V151.8H208M197.4 151.4H197.2V151.8H208M208 150.9H197V151.6H197.2M208 150.9H196.9V151.3H197M196.9 151.1H196.7V151.8H208M208 150.9H196.5V151.4H196.7M208 150.9H196.3V151.2H196.5M208 150.9H196.2V151H196.3M208 150.9H196V151H196.2M208 150.9H195.8V150.9H196M208 150.9H195.5V150.9H195.8M208 152.3H196.2V152.8H208M196.2 152.6H196V153H208M196 152.8H195.6V153H208M208 151.9H186.4V152.9H195.6M195.5 150.9H186.1V152.4H186.4M190.6 150.7H185V151.7H186.1M208 153.3H196.5V153.7H208M196.5 153.5H196.3V153.9H208M208 153H196.2V153.7H196.3M208 153H196V153.4H196.2M196 153.2H195.8V153.9H208M195.8 153.5H193.9V153.9H208M208 154.2H186.1V154.6H208M208 155H183.3V155.5H208M208 156H196.5V156.4H208M208 155.7H196.3V156.2H196.5M208 155.7H196.1V156H196.3M208 155.7H195.9V155.8H196.1M195.9 155.8H195.7V156.6H208M195.7 156.2H195.4V156.6H208M208 155.7H194.9V156.4H195.4M208 155.7H192.2V156H194.9M192.2 155.9H188.4V156.6H208M208 156.7H196.1V157.2H208M196.1 157H195.9V157.5H208M195.9 157.2H195.5V157.5H208M195.5 157.4H194.6V157.5H208M208 156.6H190.9V157.4H194.6M208 157.8H196.2V158.2H208M196.2 158H196.1V158.4H208M196.1 158.2H195.9V158.4H208M208 157.5H195.6V158.3H195.9M208 157.5H195.2V157.9H195.6M208 157.5H193.5V157.7H195.2M190.9 157H190.7V157.6H193.5M208 158.6H196.3V159H208M196.3 158.8H196.1V159.3H208M208 158.4H195.9V159.1H196.1M195.9 158.7H194.9V159.3H208M208 158.4H191.9V159H194.9M208 159.6H195.9V160.1H208M208 159.3H195.7V159.8H195.9M195.7 159.6H195.5V160.2H208M208 159.3H195V159.9H195.5M195 159.6H189.9V160.2H208M189.9 159.9H188.4V160.7H208M208 161.3H195.3V161.8H208M188.4 160.3H187.8V161.6H195.3M208 162.2H197V162.7H208M208 162H196.9V162.5H197M196.9 162.2H196.7V162.9H208M196.7 162.6H196.5V162.9H208M208 162H196.4V162.7H196.5M208 162H196.2V162.4H196.4M208 162H196V162.2H196.2M208 163.1H196.2V163.6H208M196.2 163.4H196V163.8H208M196 162.1H195.8V163.6H196M208 164H197.8V164.4H208M197.8 164.2H197.7V164.7H208M208 163.8H197.5V164.4H197.7M208 163.8H197.4V164.1H197.5M208 163.8H197.2V164H197.4M208 163.8H197V163.9H197.2M208 163.8H196.9V163.8H197M208 163.8H196.7V163.8H196.9M208 163.8H196.5V163.8H196.7M208 163.8H196.4V163.8H196.5M196.4 163.8H196.2V164.7H208M196.2 164.3H196V164.7H208M196 164.5H195.2V164.7H208M208 164.9H195.7V165.3H208M195.7 165.1H195V165.6H208M195 165.3H193.8V165.6H208M193.8 165.5H190.2V166.1H208M208 166.7H195.8V167.1H208M195.8 166.9H192.9V167.4H208M190.2 165.8H189.8V167.1H192.9M208 167.6H188.2V168.1H208M208 168.5H196.7V169H208M196.7 168.8H196.5V169.2H208M196.5 169H196.4V169.2H208M196.4 169.1H196.2V169.2H208M208 168.3H196V169.1H196.2M208 168.3H195.5V168.7H196M208 168.3H189V168.5H195.5M208 169.4H197.2V169.9H208M197.2 169.6H197V170.1H208M197 169.9H196.9V170.1H208M196.9 170H196.7V170.1H208M196.7 170H196.5V170.1H208M196.5 170.1H196.3V170.1H208M208 169.2H196.2V170.1H196.3M208 169.2H196V169.6H196.2M208 169.2H194.6V169.4H196M194.6 169.3H191.4V170.1H208M208 170.2H194.9V170.7H208M194.9 170.5H193.9V171H208M208 170.1H192.1V170.7H193.9M208 171.2H194.7V171.7H208M192.1 170.4H191.7V171.4H194.7M208 172.2H192.6V172.6H208M208 173.1H196.2V173.5H208M196.2 173.3H196V173.7H208M196 173.5H195.8V173.7H208M208 174H197.5V174.4H208M208 173.7H197.3V174.2H197.5M197.3 173.9H197.2V174.6H208M208 173.7H197V174.3H197.2M197 174H196.9V174.6H208M196.9 174.3H196.7V174.6H208M196.7 174.4H196.5V174.6H208M196.5 174.5H196.3V174.6H208M196.3 174.6H196.2V174.6H208M196.2 174.6H196V174.6H208M208 173.7H195.8V174.6H196M195.8 173.6H195.6V174.1H195.8M208 174.8H195.6V175.2H208M208 175.6H196.6V176.1H208M208 175.5H196.5V175.9H196.6M208 175.5H196.3V175.7H196.5M196.3 175.6H196.1V176.4H208M196.1 176H195.9V176.4H208M195.9 176.2H195.6V176.4H208M195.6 176.3H195.3V176.4H208M208 176.6H196V177H208M208 177.6H195.8V178.1H208M208 177.3H195.6V177.8H195.8M208 179.3H197.1V179.7H208M197.1 179.5H196.9V180H208M196.9 179.8H196.7V180H208M196.7 179.9H196.6V180H208M196.6 179.9H196.4V180H208M196.4 180H196.2V180H208M208 179.1H196V180H196.2M208 179.1H195.9V179.5H196M208 178.7H194.6V179.3H195.9M195.6 177.6H194.4V179H194.6M208 180.3H195.7V180.8H208M208 180H195.4V180.5H195.7M208 180H193.3V180.3H195.4M208 181.1H197.2V181.6H208M197.2 181.4H197V181.8H208M197 181.6H196.9V181.8H208M196.9 181.7H196.7V181.8H208M208 180.9H196.5V181.8H196.7M196.5 181.3H196.3V181.8H208M196.3 181.6H196.2V181.8H208M196.2 181.7H196V181.8H208M193.3 180.1H193V181.8H196M208 182.1H195.4V182.5H208M208 181.8H194.3V182.3H195.4M193 181H192.8V182.1H194.3M194.4 178.3H192.6V181.5H192.8M196 176.8H192.4V179.9H192.6M208 182.9H194.3V183.4H208M208 184.2H200.5V184.6H208M200.5 184.4H200.4V184.8H208M208 183.9H200.2V184.6H200.4M200.2 184.2H200.1V184.8H208M200.1 184.5H200V184.8H208M208 183.9H199.9V184.6H200M199.9 184.3H199.8V184.8H208M208 183.9H199.6V184.5H199.8M208 183.9H199.5V184.2H199.6M199.5 184H199.4V184.8H208M208 183.9H199.2V184.4H199.4M208 183.9H199.1V184.1H199.2M208 183.9H199V184H199.1M199 183.9H198.8V184.8H208M198.8 184.4H198.7V184.8H208M198.7 184.6H198.6V184.8H208M198.6 184.7H198.4V184.8H208M208 183.9H198.3V184.7H198.4M198.3 184.3H198.1V184.8H208M198.1 184.5H198V184.8H208M208 183.9H197.8V184.7H198M208 183.9H197.7V184.3H197.8M197.7 184.1H197.5V184.8H208M208 183.9H197.3V184.4H197.5M197.3 184.2H197.2V184.8H208M197.2 184.5H197V184.8H208M197 184.6H196.8V184.8H208M196.8 184.7H196.7V184.8H208M208 183.9H196.5V184.7H196.7M208 183.9H196.3V184.3H196.5M196.3 184.1H196.1V184.8H208M196.1 184.4H196V184.8H208M208 183.9H195.7V184.6H196M208 183.8H193.2V184.2H195.7M194.3 183.2H192.9V184H193.2M208 184.9H195.9V185.4H208M208 184.8H195.6V185.1H195.9M208 184.8H195V185H195.6M192.9 183.6H192.6V184.9H195M192.4 178.4H190.7V184.2H192.6M195.3 176.3H190.4V181.3H190.7M195.6 175H190.1V178.8H190.4M208 185.9H196.9V186.3H208M196.9 186.1H196.7V186.6H208M196.7 186.3H196.6V186.6H208M196.6 186.5H196.4V186.6H208M196.4 186.5H196.2V186.6H208M196.2 186.5H196V186.6H208M196 186.6H195.9V186.6H208M208 185.7H195.6V186.6H195.9M190.1 176.9H189.8V186.1H195.6M195.6 173.9H189.5V181.5H189.8M208 186.9H196.1V187.3H208M196.1 187.1H195.9V187.5H208M208 186.6H195.5V187.3H195.9M189.5 177.7H189V186.9H195.5M208 188.6H195.8V189H208M208 188.3H195.6V188.8H195.8M208 187.8H195.4V188.5H195.6M189 182.3H188.2V188.2H195.4M192.6 172.4H187.8V185.2H188.2M208 189.4H198V189.9H208M198 189.6H197.8V190.2H208M208 189.3H197.7V189.9H197.8M208 189.3H197.5V189.6H197.7M197.5 189.4H197.3V190.2H208M197.3 189.8H197.2V190.2H208M197.2 190H197V190.2H208M197 190.1H196.8V190.2H208M196.8 190.1H196.7V190.2H208M196.7 190.2H196.5V190.2H208M208 189.3H196.3V190.2H196.5M196.3 189.7H196.2V190.2H208M208 189.3H196V190H196.2M208 189.3H195.6V189.6H196M195.6 189.4H195.4V190.2H208M195.4 189.8H194.1V190.4H208M208 191.2H200.7V191.7H208M208 191.1H200.6V191.5H200.7M208 191.1H200.5V191.3H200.6M208 191.1H200.4V191.2H200.5M200.4 191.1H200.3V192H208M208 191.1H200.2V191.6H200.3M208 191.1H200.1V191.3H200.2M200.1 191.2H199.9V192H208M199.9 191.6H199.8V192H208M199.8 191.8H199.7V192H208M199.7 191.9H199.6V192H208M208 191.1H199.4V191.9H199.6M199.4 191.5H199.3V192H208M199.3 191.7H199.2V192H208M199.2 191.9H199V192H208M208 191.1H198.9V191.9H199M208 191.1H198.8V191.5H198.9M208 191.1H198.6V191.3H198.8M198.6 191.2H198.5V192H208M198.5 191.6H198.3V192H208M208 191.1H198.2V191.8H198.3M208 191.1H198V191.4H198.2M198 191.3H197.9V192H208M197.9 191.6H197.7V192H208M208 191.1H197.6V191.8H197.7M197.6 191.4H197.4V192H208M197.4 191.7H197.3V192H208M197.3 191.8H197.1V192H208M208 191.1H196.9V191.9H197.1M208 191.1H196.8V191.5H196.9M208 191.1H196.6V191.3H196.8M196.6 191.2H196.4V192H208M208 191.1H196.2V191.6H196.4M208 191.1H196.1V191.3H196.2M196.1 191.2H195.9V192H208M208 191.1H195V191.6H195.9M208 190.8H194.2V191.3H195M194.1 190.1H193.6V191.1H194.2M187.8 178.8H187.3V190.6H193.6M191.7 170.9H186.6V184.7H187.3M208 192.2H195.9V192.6H208M195.9 192.4H195.7V192.9H208M208 192H195.5V192.6H195.7M195.5 192.3H193.6V192.9H208M186.6 177.8H186.2V192.6H193.6M208 193.1H197.9V193.6H208M197.9 193.4H197.8V193.8H208M197.8 193.6H197.6V193.8H208M208 192.9H197.5V193.7H197.6M197.5 193.3H197.3V193.8H208M208 192.9H197.2V193.5H197.3M197.2 193.2H197V193.8H208M197 193.5H196.8V193.8H208M208 192.9H196.7V193.6H196.8M196.7 193.3H196.5V193.8H208M208 192.9H196.3V193.5H196.5M196.3 193.2H196.1V193.8H208M208 192.9H195.9V193.5H196.1M208 192.9H195.7V193.2H195.9M195.7 193H194.9V193.8H208M194.9 193.4H193.7V193.8H208M186.2 185.2H185.5V193.6H193.7M191.4 169.7H184.4V189.4H185.5M189 168.4H183.7V179.6H184.4M188.2 167.8H183V174H183.7M189.8 166.5H181.9V170.9H183M195.2 164.6H180.9V168.7H181.9M195.8 162.8H179.8V166.6H180.9M187.8 160.9H179.2V164.7H179.8M191.9 158.7H178.8V162.8H179.2M190.7 157.3H178.4V160.8H178.8M208 194H197.3V194.5H208M208 193.8H197.1V194.2H197.3M197.1 194H197V194.7H208M208 193.8H196.8V194.3H197M196.8 194.1H196.6V194.7H208M196.6 194.4H196.4V194.7H208M208 193.8H196.3V194.5H196.4M196.3 194.2H196.1V194.7H208M196.1 194.4H195.9V194.7H208M195.9 194.5H194.4V194.7H208M208 193.8H193.1V194.6H194.4M208 193.8H190.8V194.2H193.1M178.4 159H177.1V194H190.8M208 194.8H196.2V195.3H208M196.2 195.1H196V195.6H208M208 194.7H195.8V195.3H196M208 194.7H189.3V195H195.8M177.1 176.5H175.6V194.8H189.3M188.4 156.2H175.1V185.7H175.6M183.3 155.2H174.6V171H175.1M186.1 154.4H173.4V163.1H174.6M193.9 153.7H171.6V158.7H173.4M208 195.8H197.1V196.3H208M208 195.6H197V196.1H197.1M208 195.6H196.8V195.8H197M208 195.6H196.6V195.7H196.8M208 195.6H196.5V195.6H196.6M208 195.6H196.3V195.6H196.5M208 195.6H196.1V195.6H196.3M196.1 195.6H195.9V196.5H208M208 195.6H195.7V196H195.9M195.7 195.8H195.3V196.5H208M208 195.6H193.1V196.1H195.3M208 196.8H195.2V197.2H208M208 196.5H193.9V197H195.2M193.9 196.7H190.4V197.4H208M208 197.7H192.6V198.1H208M208 198.6H196.5V199H208M208 198.3H196.3V198.8H196.5M196.3 198.5H196.1V199.2H208M208 198.3H195.9V198.9H196.1M208 198.3H195.8V198.6H195.9M195.8 198.4H195.3V199.2H208M208 198.3H193.8V198.8H195.3M208 198.3H191.8V198.5H193.8M208 199.4H196V199.9H208M208 199.2H195.8V199.6H196M208 199.2H195.3V199.4H195.8M208 199.2H194.7V199.3H195.3M208 199.2H191.7V199.2H194.7M208 200.4H197.8V200.8H208M208 200.1H197.6V200.6H197.8M197.6 200.3H197.4V201H208M197.4 200.7H197.3V201H208M208 200.1H197.1V200.8H197.3M208 200.1H197V200.4H197.1M208 200.1H196.8V200.3H197M196.8 200.2H196.6V201H208M196.6 200.6H196.4V201H208M208 200.1H196.3V200.8H196.4M208 200.1H196.1V200.4H196.3M196.1 200.3H195.9V201H208M208 201.5H197.2V202H208M208 201.3H197V201.7H197.2M197 201.5H196.9V202.2H208M196.9 201.9H196.7V202.2H208M196.7 202H196.5V202.2H208M196.5 202.1H196.4V202.2H208M196.4 202.2H196.2V202.2H208M196.2 202.2H196V202.2H208M208 201.3H195.7V202.2H196M208 201.1H192.1V201.7H195.7M195.9 200.6H191.7V201.4H192.1M208 202.4H198.3V202.8H208M208 202.2H198.2V202.6H198.3M198.2 202.4H198.1V203.1H208M208 202.2H197.9V202.7H198.1M208 202.2H197.7V202.5H197.9M208 202.2H197.6V202.3H197.7M197.6 202.3H197.4V203.1H208M197.4 202.7H197.3V203.1H208M197.3 202.9H197.1V203.1H208M197.1 203H196.9V203.1H208M208 202.2H196.8V203H196.9M196.8 202.6H196.6V203.1H208M196.6 202.9H196.4V203.1H208M196.4 203H196.3V203.1H208M196.3 203H196.1V203.1H208M196.1 203.1H195.9V203.1H208M191.7 201H191.3V203.1H195.9M208 203.8H198V204.2H208M208 203.5H197.8V204H198M208 203.5H197.7V203.8H197.8M197.7 203.6H197.5V204.4H208M197.5 204H197.3V204.4H208M197.3 204.2H197.2V204.4H208M208 203.5H197V204.3H197.2M197 203.9H196.8V204.4H208M208 203.5H196.7V204.2H196.8M196.7 203.8H196.5V204.4H208M196.5 204.1H196.3V204.4H208M196.3 204.3H196.1V204.4H208M196.1 204.3H196V204.4H208M196 204.4H195.4V204.4H208M195.4 204.4H194.2V204.4H208M208 203.3H192.7V204.4H194.2M208 204.6H197.2V205.1H208M197.2 204.8H197V205.3H208M197 205.1H196.9V205.3H208M208 204.4H196.7V205.2H196.9M208 204.4H196.5V204.8H196.7M208 204.4H196.3V204.6H196.5M196.3 204.5H196.2V205.3H208M196.2 204.9H196V205.3H208M196 205.1H195.8V205.3H208M195.8 205.2H193.1V205.5H208M208 205.8H195.5V206.2H208M193.1 205.3H192.9V206H195.5M192.7 203.9H190.6V205.7H192.9M208 206.8H196.3V207.2H208M196.3 207H196.1V207.4H208M208 206.5H195.9V207.2H196.1M190.6 204.8H190.3V206.8H195.9M191.3 202.1H188V205.8H190.3M191.7 199.2H187.2V203.9H188M191.8 198.4H186.8V201.6H187.2M192.6 197.9H186.5V200H186.8M190.4 197.1H186.2V198.9H186.5M208 208.5H196.8V208.9H208M208 208.3H196.6V208.7H196.8M196.6 208.5H196.4V209.2H208M196.4 208.9H196.2V209.2H208M196.2 209H196.1V209.2H208M208 208.3H195.9V209.1H196.1M195.9 208.7H194.7V209.2H208M208 208.2H193.2V209H194.7M208 207.8H192.4V208.6H193.2M208 209.5H197V209.9H208M208 209.2H196.9V209.7H197M196.9 209.5H196.7V210.1H208M196.7 209.8H196.5V210.1H208M208 209.2H196.4V209.9H196.5M208 209.2H196.2V209.6H196.4M208 209.2H196V209.4H196.2M196 209.3H195.8V210.1H208M208 209.2H195.2V209.7H195.8M208 210.3H197.5V210.8H208M197.5 210.6H197.4V211H208M208 210.1H197.2V210.8H197.4M197.2 210.4H197V211H208M197 210.7H196.9V211H208M196.9 210.9H196.7V211H208M208 210.1H196.5V210.9H196.7M208 210.1H196.4V210.5H196.5M196.4 210.3H196.2V211H208M196.2 210.7H196V211H208M208 210.1H195.2V210.8H196M208 211.2H196.8V211.7H208M208 211H196.7V211.4H196.8M208 211H196.5V211.2H196.7M208 211H196.3V211.1H196.5M196.3 211.1H196.2V211.9H208M208 211H196V211.5H196.2M208 211H195.8V211.2H196M195.8 211.1H195.4V211.9H208M195.2 210.5H195V211.5H195.4M208 212.1H196.8V212.6H208M208 211.9H196.6V212.4H196.8M208 211.9H196.5V212.1H196.6M196.5 212H196.3V212.8H208M208 211.9H196.1V212.4H196.3M208 211.9H195.9V212.2H196.1M208 212.9H196.8V213.4H208M196.8 213.2H196.7V213.7H208M208 212.8H196.5V213.4H196.7M196.5 213.1H196.3V213.7H208M196.3 213.4H196.1V213.7H208M196.1 213.6H196V213.7H208M208 212.8H195.7V213.6H196M208 212.8H194.6V213.2H195.7M208 214H193V214.7H208M194.6 213H192.7V214.4H193M208 215.4H196V215.8H208M196 215.6H195.9V216H208M195.9 215.8H195.6V216H208M208 215.1H195.2V215.9H195.6M208 215.1H194.1V215.5H195.2M192.7 213.7H192.5V215.3H194.1M195.9 212H192.2V214.5H192.5M195 211H191.9V213.3H192.2M195.2 209.4H191.7V212.1H191.9M208 217H198V217.5H208M198 217.3H197.8V217.8H208M208 216.9H197.7V217.5H197.8M208 216.9H197.5V217.2H197.7M197.5 217H197.3V217.8H208M208 216.9H197.2V217.4H197.3M208 216.9H197V217.1H197.2M208 216.9H196.8V217H197M196.8 216.9H196.7V217.8H208M208 216.9H196.5V217.3H196.7M208 216.9H196.3V217.1H196.5M208 216.9H196.2V217H196.3M208 216.9H196V216.9H196.2M208 216.9H195.8V216.9H196M195.8 216.9H195.6V217.8H208M208 216.4H195.4V217.3H195.6M208 218.1H197V218.6H208M197 218.3H196.8V218.7H208M208 217.8H196.6V218.5H196.8M208 217.8H196.5V218.2H196.6M196.5 218H196.3V218.7H208M208 217.8H196.1V218.4H196.3M196.1 218.1H195.9V218.7H208M195.9 218.4H195.3V218.7H208M208 217.8H194.5V218.6H195.3M208 219H193.9V219.5H208M208 220H197.1V220.4H208M197.1 220.2H197V220.6H208M197 220.4H196.8V220.6H208M208 219.7H196.6V220.5H196.8M196.6 220.1H196.5V220.6H208M208 219.7H196.3V220.3H196.5M196.3 220H196.1V220.6H208M196.1 220.3H195.9V220.6H208M208 219.7H195V220.4H195.9M193.9 219.3H193.7V220H195M194.5 218.2H193.4V219.7H193.7M195.4 216.9H193.2V218.9H193.4M208 221H195.5V221.4H208M208 220.7H193.6V221.2H195.5M208 222H195.8V222.4H208M195.8 222.2H195.3V222.7H208M193.6 221H193.4V222.4H195.3M208 222.9H196.3V223.4H208M208 222.7H196.1V223.1H196.3M196.1 222.9H195.9V223.6H208M208 222.7H195.4V223.2H195.9M195.4 222.9H194.2V224H208M193.4 221.7H192.8V223.5H194.2M193.2 217.9H191V222.6H192.8M208 224.8H196.9V225.2H208M196.9 225H196.7V225.4H208M208 224.5H196.6V225.2H196.7M208 224.5H196.4V224.9H196.6M208 224.5H196.2V224.7H196.4M196.2 224.6H196V225.8H208M208 226.4H196.4V226.9H208M196.4 226.7H196.2V227.1H208M208 226.2H196V226.9H196.2M196 225.2H195.9V226.5H196M191 220.2H190.6V225.9H195.9M191.7 210.8H189.8V223.1H190.6M192.4 208.2H189.5V216.9H189.8M208 227.3H195.9V227.7H208M195.9 227.5H192.5V228H208M189.5 212.5H189.2V227.7H192.5M186.2 198H184.9V220.1H189.2M193.1 195.9H183.6V209.1H184.9M208 228.3H196V228.7H208M208 228H195.8V228.5H196M195.8 228.2H195.1V228.9H208M195.1 228.6H192.8V228.9H208M183.6 202.5H183.3V228.7H192.8M208 229.2H197.8V229.6H208M197.8 229.4H197.7V229.8H208M197.7 229.6H197.5V229.8H208M208 228.9H197.4V229.7H197.5M197.4 229.3H197.2V229.8H208M197.2 229.5H197V229.8H208M208 228.9H196.9V229.7H197M196.9 229.3H196.7V229.8H208M208 228.9H196.5V229.5H196.7M208 228.9H196.3V229.2H196.5M208 228.9H196.2V229H196.3M196.2 229H196V229.8H208M208 230H196V230.5H208M196 230.3H195.8V230.7H208M196 229.4H195.6V230.5H195.8M183.3 215.6H182.9V229.9H195.6M208 231H197.8V231.4H208M208 230.7H197.7V231.2H197.8M197.7 230.9H197.5V231.6H208M197.5 231.3H197.4V231.6H208M208 230.7H197.2V231.4H197.4M197.2 231H197.1V231.6H208M197.1 231.3H196.9V231.6H208M208 230.7H196.7V231.4H196.9M208 230.7H196.5V231.1H196.7M208 230.7H196.4V230.9H196.5M208 230.7H196.2V230.8H196.4M208 230.7H196V230.7H196.2M196 230.7H195.8V231.6H208M195.8 231.1H195.1V231.6H208M208 231.8H196.5V232.3H208M208 231.6H196.3V232H196.5M208 231.6H196.2V231.8H196.3M208 231.6H196V231.7H196.2M208 231.6H195.2V231.6H196M195.2 231.6H194.5V232.9H208M195.1 231.4H194.2V232.3H194.5M208 234.5H196.5V235H208M196.5 234.7H196.3V235.2H208M208 234.3H196.1V235H196.3M208 234.3H195.9V234.6H196.1M208 234.3H195.1V234.4H195.9M208 234.1H193.6V234.4H195.1M208 233.7H192.6V234.3H193.6M208 235.3H196V235.8H208M196 235.6H195.8V236.1H208M208 236.3H196V236.8H208M196 236.6H195.9V237H208M208 237.2H199.8V237.6H208M199.8 237.4H199.7V237.9H208M208 237H199.6V237.7H199.7M199.6 237.3H199.4V237.9H208M208 237H199.3V237.6H199.4M199.3 237.3H199.2V237.9H208M208 237H199V237.6H199.2M208 237H198.9V237.3H199M208 237H198.8V237.1H198.9M208 237H198.6V237.1H198.8M208 237H198.5V237H198.6M198.5 237H198.3V237.9H208M198.3 237.4H198.2V237.9H208M208 237H198V237.7H198.2M198 237.3H197.9V237.9H208M197.9 237.6H197.7V237.9H208M208 237H197.6V237.7H197.7M208 237H197.4V237.4H197.6M197.4 237.2H197.3V237.9H208M197.3 237.5H197.1V237.9H208M197.1 237.7H196.9V237.9H208M196.9 237.8H196.8V237.9H208M208 237H196.6V237.8H196.8M196.6 237.4H196.4V237.9H208M208 237H196.2V237.6H196.4M196.2 237.3H196.1V237.9H208M208 237H195.9V237.6H196.1M195.9 236.8H195.7V237.3H195.9M208 238.9H193.3V239.3H208M208 238.2H191.2V239.1H193.3M208 239.8H198.2V240.2H208M198.2 240H198.1V240.4H208M198.1 240.2H197.9V240.4H208M208 239.5H197.8V240.3H197.9M208 239.5H197.6V239.9H197.8M197.6 239.7H197.5V240.4H208M197.5 240.1H197.3V240.4H208M208 239.5H197.1V240.2H197.3M208 239.5H197V239.9H197.1M208 239.5H196.8V239.7H197M208 239.5H196.6V239.6H196.8M208 239.5H196.5V239.6H196.6M208 239.5H196.3V239.5H196.5M196.3 239.5H196.1V240.4H208M196.1 240H195.9V240.4H208M208 239.5H195.3V240.2H195.9M191.2 238.7H190.9V239.8H195.3M208 240.6H195.8V241H208M195.8 240.8H195.5V241.3H208M195.5 241.1H194.5V241.3H208M208 240.4H193.5V241.2H194.5M190.9 239.3H190.4V240.8H193.5M195.7 237H190V240H190.4M208 241.5H196.9V241.9H208M196.9 241.7H196.7V242.2H208M196.7 242H196.5V242.2H208M196.5 242.1H196.3V242.2H208M196.3 242.1H196.2V242.2H208M208 241.3H196V242.2H196.2M208 241.3H195.5V241.7H196M208 241.3H194.2V241.5H195.5M208 242.4H196.2V242.9H208M208 242.2H196V242.6H196.2M196 242.4H195.9V243.1H208M195.9 242.8H195.4V243.1H208M195.4 242.9H194.6V243.1H208M208 242.2H192.8V243H194.6M194.2 241.4H192.4V242.6H192.8M190 238.5H189.6V242H192.4M208 243.3H197.7V243.7H208M197.7 243.5H197.6V244H208M208 243.1H197.4V243.8H197.6M197.4 243.4H197.2V244H208M197.2 243.7H197.1V244H208M197.1 243.9H196.9V244H208M196.9 243.9H196.7V244H208M208 243.1H196.6V244H196.7M196.6 243.5H196.4V244H208M208 243.1H196.2V243.8H196.4M208 243.1H196V243.4H196.2M196 243.3H195.9V244H208M208 243.1H195.7V243.6H195.9M195.7 243.4H195.3V244H208M195.3 243.7H193.8V244H208M193.8 243.8H191.9V244H208M189.6 240.3H189.1V243.9H191.9M208 244.3H195.7V244.7H208M195.7 244.5H194.4V244.9H208M189.1 242.1H188.5V244.7H194.4M208 245.1H197.5V245.6H208M197.5 245.4H197.4V245.8H208M197.4 245.6H197.2V245.8H208M208 244.9H197V245.7H197.2M197 245.3H196.9V245.8H208M196.9 245.6H196.7V245.8H208M208 244.9H196.5V245.7H196.7M208 244.9H196.3V245.3H196.5M196.3 245.1H196.2V245.8H208M208 244.9H196V245.5H196.2M196 245.2H195.8V245.8H208M208 246H195.5V246.5H208M195.8 245.5H195.3V246.3H195.5M208 246.9H193.2V247.4H208M208 247.7H196.8V248.2H208M208 247.6H196.6V248H196.8M196.6 247.8H196.4V248.5H208M208 247.6H196.2V248.1H196.4M196.2 247.9H196.1V248.5H208M196.1 248.2H195.9V248.5H208M208 247.6H195.7V248.3H195.9M208 247.6H195.3V248H195.7M195.3 247.8H191V248.8H208M193.2 247.1H190.5V248.3H191M195.3 245.9H189.9V247.7H190.5M188.5 243.4H186.3V246.8H189.9M195.8 235.8H186V245.1H186.3M192.6 234H185.2V240.5H186M208 249.3H197.4V249.8H208M208 249.1H197.2V249.5H197.4M208 249.1H197V249.3H197.2M197 249.2H196.9V250H208M196.9 249.6H196.7V250H208M208 249.1H196.5V249.8H196.7M208 249.1H196.4V249.5H196.5M208 249.1H196.2V249.3H196.4M208 249.1H196V249.2H196.2M208 249.1H195.8V249.1H196M208 249.1H195.5V249.1H195.8M195.5 249.1H195.2V250H208M208 249.1H193.9V249.6H195.2M185.2 237.2H184.8V249.3H193.9M194.2 231.8H184V243.3H184.8M182.9 222.8H174.7V237.5H184M171.6 156.2H160V230.1H174.7M208 250.3H198.4V250.7H208M198.4 250.5H198.2V250.9H208M198.2 250.7H198.1V250.9H208M198.1 250.8H197.9V250.9H208M208 250H197.8V250.8H197.9M197.8 250.4H197.6V250.9H208M208 250H197.5V250.7H197.6M208 250H197.3V250.3H197.5M197.3 250.2H197.1V250.9H208M208 250H197V250.5H197.1M208 250H196.8V250.3H197M196.8 250.1H196.6V250.9H208M208 250H196.5V250.5H196.6M196.5 250.3H196.3V250.9H208M196.3 250.6H196.1V250.9H208M196.1 250.7H195.9V250.9H208M195.9 250.8H195.2V250.9H208M195.2 250.9H190.8V250.9H208M190.8 250.9H187.2V250.9H208M208 251.1H196V251.5H208M208 250.9H195.8V251.3H196M195.8 251.1H194.7V251.8H208M208 250.9H188.9V251.4H194.7M208 252H197.7V252.4H208M208 251.8H197.5V252.2H197.7M197.5 252H197.4V252.7H208M197.4 252.3H197.2V252.7H208M197.2 252.5H197V252.7H208M197 252.6H196.9V252.7H208M208 251.8H196.7V252.7H196.9M208 251.8H196.5V252.2H196.7M208 251.8H196.4V252H196.5M196.4 251.9H196.2V252.7H208M196.2 252.3H196V252.7H208M196 252.5H195.8V252.7H208M195.8 252.6H195.3V252.7H208M195.3 252.7H194.5V252.7H208M188.9 251.2H188.6V252.7H194.5M208 252.9H195.6V253.4H208M195.6 253.1H194.9V253.6H208M208 252.7H193.5V253.4H194.9M193.5 253H191.1V253.6H208M208 253.8H197.7V254.3H208M208 253.6H197.5V254.1H197.7M208 253.6H197.4V253.8H197.5M197.4 253.7H197.2V254.5H208M197.2 254.1H197.1V254.5H208M197.1 254.3H196.9V254.5H208M208 253.6H196.7V254.4H196.9M208 253.6H196.6V254H196.7M196.6 253.8H196.4V254.5H208M208 253.6H196.2V254.2H196.4M196.2 253.9H196V254.5H208M208 253.6H195.8V254.2H196M195.8 253.9H195.7V254.5H208M208 253.6H193.3V254.2H195.7M191.1 253.3H190.7V253.9H193.3M208 254.8H197V255.3H208M197 255H196.8V255.4H208M208 254.5H196.6V255.2H196.8M208 254.5H196.5V254.9H196.6M196.5 254.7H196.3V255.4H208M208 254.5H196.1V255H196.3M196.1 254.8H195.9V255.4H208M195.9 255.1H195.3V255.4H208M195.3 255.2H194.2V255.4H208M208 254.5H191.9V255.3H194.2M208 254.5H189V254.9H191.9M208 254.5H180.3V254.7H189M208 255.6H193V256.1H208M193 255.8H192.7V256.8H208M192.7 256.3H192.5V257.7H208M208 260.1H189.5V260.8H208M189.5 260.5H184.5V261.6H208M208 263H195.5V263.4H208M208 262.5H195.3V263.2H195.5M184.5 261.1H183.3V262.8H195.3M208 259.4H182.7V261.9H183.3M182.7 260.7H182V264.3H208M208 265.2H195.1V265.7H208M195.1 265.4H194.9V266.1H208M208 267.7H181.6V268.4H208M208 267H180.1V268H181.6M194.9 265.8H179.2V267.5H180.1M182 262.5H176.4V266.6H179.2M208 269.3H188.2V269.7H208M188.2 269.5H187.4V270.2H208M208 271.5H189.4V272H208M189.4 271.7H189.1V272.9H208M208 276.5H185.4V277.3H208M185.4 276.9H185V278.1H208M208 275.6H184.4V277.5H185M208 279.9H194.3V280.3H208M208 279H194.1V280.1H194.3M184.4 276.5H183.5V279.5H194.1M208 280.8H192.4V281.4H208M192.4 281.1H191V281.8H208M183.5 278H182.7V281.4H191M208 274.7H181.8V279.7H182.7M208 273.8H181.3V277.2H181.8M189.1 272.3H180.8V275.5H181.3M180.8 273.9H179.8V282.6H208M208 271.1H178.1V278.2H179.8M187.4 269.8H176.3V274.6H178.1M176.3 272.2H175.8V283.5H208M208 284.8H194.6V285.3H208M208 284.4H194.4V285H194.6M175.8 277.8H174.6V284.7H194.4M176.4 264.6H170.9V281.3H174.6M170.9 272.9H169.6V286.2H208M208 258.6H168.2V279.5H169.6M192.5 257H167.4V269H168.2M208 287.8H196V288.2H208M208 287.1H195.8V288H196M167.4 263H165.3V287.5H195.8M208 288.9H193.7V289.3H208M193.7 289.1H193.5V289.8H208M193.5 289.4H193.3V290.7H208M165.3 275.3H163.4V290H193.3M180.3 254.6H160.4V282.6H163.4M190.7 253.6H158.6V268.6H160.4M188.6 251.9H157.9V261.1H158.6M187.2 250.9H154.5V256.5H157.9M154.5 253.7H152V291.6H208M208 293.3H190.2V293.8H208M208 292.4H186.6V293.6H190.2M208 296.8H195.1V297.3H208M208 296H194.4V297H195.1M194.4 296.5H194.2V297.8H208M208 301.4H193.8V301.9H208M208 300.5H193.6V301.7H193.8M208 299.6H193.4V301.1H193.6M208 302.8H193.5V303.2H208M193.5 303H193.3V304.1H208M208 304.8H187.9V305.5H208M187.9 305.2H187.6V306.3H208M193.3 303.6H187.2V305.7H187.6M208 302.3H186.9V304.7H187.2M193.4 300.4H185.9V303.5H186.9M185.9 301.9H185.3V307.2H208M208 298.7H184.7V304.6H185.3M184.7 301.7H183.9V308.1H208M183.9 304.9H183.2V309H208M194.2 297.2H182.8V307H183.2M208 310.2H191.8V310.8H208M208 309.8H188.6V310.5H191.8M182.8 302.1H182.4V310.1H188.6M208 295.1H182V306.1H182.4M208 313.1H193.9V313.7H208M208 312.5H193.2V313.4H193.9M208 311.7H192.9V313H193.2M182 300.6H181.6V312.3H192.9M181.6 306.5H180.3V314.4H208M208 294.2H179.9V310.4H180.3M208 316.7H190.2V317.1H208M208 316.2H189.8V316.9H190.2M208 315.3H189.3V316.6H189.8M179.9 302.3H179.1V315.9H189.3M179.1 309.1H178.7V318H208M186.6 293H178.2V313.6H178.7M208 319.8H190.3V320.3H208M208 318.9H189.8V320H190.3M208 322.5H190.2V323.1H208M208 321.6H189.9V322.8H190.2M208 323.8H193.2V324.3H208M208 323.5H192.2V324H193.2M208 325.2H190.9V326H208M192.2 323.8H190.3V325.6H190.9M189.9 322.2H188.8V324.7H190.3M208 327.7H189.9V328.4H208M208 326.8H189.5V328H189.9M188.8 323.4H186.7V327.4H189.5M186.7 325.4H185.9V329.2H208M208 331H190.2V331.4H208M208 330.1H190V331.2H190.2M185.9 327.3H185.6V330.6H190M208 331.4H192.9V331.9H208M192.9 331.6H192.7V332.8H208M185.6 329H184.9V332.2H192.7M184.9 330.6H184.5V333.7H208M208 335H196.1V335.5H208M208 334.6H195.9V335.2H196.1M208 336.7H194.7V337.3H208M208 336.3H194V337H194.7M208 337.7H195.8V338.2H208M195.8 337.9H195.7V339.1H208M208 340.9H194.4V341.3H208M194.4 341.1H194.2V341.8H208M208 344.5H193.5V345.1H208M208 343.6H193.3V344.8H193.5M208 342.7H193V344.2H193.3M194.2 341.4H192.7V343.4H193M192.7 342.4H192.4V345.8H208M208 340H192.1V344.1H192.4M195.7 338.5H191.9V342H192.1M194 336.7H191.5V340.3H191.9M191.5 338.5H191.3V346.7H208M195.9 334.9H191V342.6H191.3M208 347.6H195.6V348H208M195.6 347.8H195.4V348.5H208M191 338.7H190.8V348.1H195.4M208 349.9H194.5V350.5H208M194.5 350.2H193.9V351.2H208M193.9 350.7H193.7V351.9H208M208 349.4H193.4V351.3H193.7M208 353.6H195.4V354H208M208 352.8H195.2V353.8H195.4M193.4 350.3H193.2V353.3H195.2M208 355.5H195.2V356H208M195.2 355.7H195V356.4H208M208 358.2H194.2V358.7H208M208 357.3H194V358.5H194.2M195 356.1H193.8V357.9H194M193.8 357H193.6V359.3H208M208 354.6H193.3V358.1H193.6M193.2 351.8H191.5V356.4H193.3M191.5 354.1H191.1V360.2H208M190.8 343.4H187.4V357.1H191.1M184.5 332.1H181.9V350.3H187.4M208 320.7H181.5V341.2H181.9M181.5 331H180.3V361.1H208M180.3 346H179V362H208M189.8 319.5H177.6V354H179M177.6 336.7H176.1V362.9H208M178.2 303.3H165.7V349.8H176.1M208 363.8H194.6V364.2H208M194.6 364H194.3V364.7H208M208 365.6H183.2V366H208M183.2 365.8H182.2V366.5H208M208 367.1H185.4V367.5H208M185.4 367.3H184.9V368.3H208M208 371H194.2V371.4H208M208 370.1H194V371.2H194.2M194 370.6H193.8V371.9H208M208 373.5H190.2V373.9H208M208 372.8H190V373.7H190.2M208 374.2H192.3V374.7H208M192.3 374.4H191.7V375.5H208M208 378.8H192.9V379.4H208M208 378H191.3V379.1H192.9M208 380.7H193.8V381.4H208M208 379.9H192.1V381H193.8M208 382.9H192.3V383.7H208M208 382H192V383.3H192.3M208 384.5H191.2V385.1H208M192 382.7H190.6V384.8H191.2M192.1 380.4H189V383.8H190.6M208 385.7H188.9V386.6H208M208 388.4H190.5V389H208M208 387.5H190.2V388.7H190.5M190.2 388.1H189.6V389.6H208M188.9 386.1H187.4V388.8H189.6M189 382.1H185.7V387.5H187.4M191.3 378.6H185V384.8H185.7M208 377.3H184.7V381.7H185M208 376.4H183.7V379.5H184.7M191.7 375H182.7V377.9H183.7M190 373.2H182.3V376.4H182.7M193.8 371.2H181.3V374.8H182.3M181.3 373H180.4V390.5H208M208 392.3H188.9V392.8H208M208 391.4H188.4V392.5H188.9M180.4 381.8H179.9V392H188.4M179.9 386.9H178.4V393.2H208M178.4 390.1H176.5V394.1H208M208 369.2H176.1V392.1H176.5M184.9 367.8H175.2V380.6H176.1M182.2 366.1H172.9V374.2H175.2M172.9 370.2H171.8V395H208M208 395.9H186.7V396.4H208M186.7 396.1H186V396.8H208M171.8 382.6H170.8V396.5H186M194.3 364.3H170.2V389.5H170.8M170.2 376.9H168.4V397.7H208M208 399.1H179.3V399.5H208M208 398.6H178.8V399.3H179.3M208 400.4H186.5V401H208M186.5 400.7H186.1V401.7H208M186.1 401.2H185.4V402.6H208M208 403.1H185.6V403.5H208M185.6 403.3H185V404.4H208M185.4 401.9H182V403.9H185M182 402.9H180.7V405.3H208M208 409.8H180.5V410.4H208M208 408.9H179.5V410.1H180.5M208 408H177.8V409.5H179.5M208 407.1H176.8V408.8H177.8M208 406.2H176.3V408H176.8M180.7 404.1H170.7V407.1H176.3M170.7 405.6H169.7V411.1H208M208 411.8H183.3V412.2H208M183.3 412H182.4V412.9H208M182.4 412.4H181.1V413.8H208M169.7 408.3H166.8V413.1H181.1M166.8 410.7H166.1V414.7H208M166.1 412.7H164.1V415.6H208M178.8 399H161.9V414.1H164.1M168.4 387.3H157.5V406.5H161.9M165.7 326.5H149V396.9H157.5M208 416H193.7V416.5H208M193.7 416.2H193.5V417.4H208M193.5 416.8H193.3V418.2H208M208 419.8H196V420.3H208M208 419.1H195.8V420.1H196M208 420.8H187.8V421.5H208M187.8 421.2H187.2V422.4H208M187.2 421.8H186.8V423.3H208M186.8 422.6H186V424.2H208M208 425.9H187.7V426.5H208M208 425.1H187.4V426.2H187.7M186 423.4H182.9V425.6H187.4M182.9 424.5H182V427.2H208M182 425.8H181V428.1H208M208 429.9H187.8V430.3H208M208 429H187.2V430.1H187.8M181 427H180.2V429.5H187.2M195.8 419.6H179.1V428.2H180.2M193.3 417.5H178V423.9H179.1M178 420.7H177.2V430.8H208M208 432.1H190.9V432.6H208M208 431.7H190.3V432.3H190.9M177.2 425.7H175.5V432H190.3M208 435.1H189.1V435.7H208M208 434.4H188.9V435.4H189.1M188.9 434.9H188.6V436.5H208M208 437.3H195.5V438.2H208M208 439H195.5V439.6H208M195.5 437.7H195.3V439.3H195.5M188.6 435.7H187.9V438.5H195.3M187.9 437.1H187.6V440.1H208M208 433.5H187.3V438.6H187.6M208 441.8H186.7V442.5H208M208 441H186.4V442.2H186.7M208 443.1H195.2V443.6H208M195.2 443.3H195V444.3H208M186.4 441.6H186.1V443.8H195M187.3 436H182.4V442.7H186.1M208 446.1H192.7V446.5H208M208 445.2H192.4V446.3H192.7M208 448.4H190.3V449H208M208 447.9H190V448.7H190.3M208 447H189.7V448.3H190M208 449.9H190.3V450.6H208M208 451.2H192.1V451.7H208M190.3 450.3H188.9V451.5H192.1M189.7 447.6H186.7V450.9H188.9M186.7 449.3H186.3V452.2H208M192.4 445.7H185.6V450.7H186.3M182.4 439.4H180.5V448.2H185.6M180.5 443.8H179.2V453.1H208M208 453.6H194.9V454H208M194.9 453.8H194.7V454.9H208M179.2 448.5H178.2V454.4H194.7M208 455.4H189.4V455.8H208M189.4 455.6H189.1V456.7H208M189.1 456.2H188.6V457.6H208M178.2 451.4H176.8V456.9H188.6M208 459.9H193.5V460.3H208M208 459.4H193.3V460.1H193.5M208 461.7H187.5V462.2H208M208 461.2H186.8V461.9H187.5M193.3 459.8H186.3V461.6H186.8M186.3 460.7H186V463.1H208M208 464.9H189.9V465.4H208M189.9 465.1H189.5V466H208M208 464H189.3V465.5H189.5M189.3 464.7H189V466.9H208M189 465.8H188.5V467.8H208M188.5 466.8H187.8V468.7H208M186 461.9H182.4V467.7H187.8M208 458.5H181.5V464.8H182.4M181.5 461.7H181.1V469.6H208M176.8 454.1H174.6V465.6H181.1M175.5 428.9H160V459.9H174.6M208 470H192.8V470.5H208M192.8 470.2H192.5V471.4H208M208 475.8H187.7V476.6H208M208 474.9H187.4V476.2H187.7M208 474H186.5V475.6H187.4M208 478.3H187.2V479.1H208M208 477.5H186.5V478.7H187.2M186.5 474.8H184.5V478.1H186.5M184.5 476.5H183.2V480H208M208 481.8H195V482.2H208M208 480.9H194.9V482H195M183.2 478.2H182.4V481.4H194.9M208 482.5H192.6V483H208M192.6 482.7H192.2V483.6H208M182.4 479.8H181.7V483.2H192.2M208 486.3H194.6V486.7H208M208 485.4H194.4V486.5H194.6M208 488H189.5V488.8H208M208 487.2H188.9V488.4H189.5M194.4 485.9H188.4V487.8H188.9M188.4 486.9H187.6V489.7H208M208 491.5H194.2V491.9H208M208 490.6H194V491.7H194.2M187.6 488.3H187.1V491.2H194M208 494H194.8V494.6H208M208 493.2H194.1V494.3H194.8M208 492.4H193.9V493.8H194.1M187.1 489.7H186.6V493.1H193.9M186.6 491.4H185.7V495.1H208M208 498.3H190.5V498.9H208M208 497.8H190V498.6H190.5M208 496.9H189.6V498.2H190M208 496H189.3V497.5H189.6M208 501.6H190.4V502.3H208M190.4 501.9H190.1V502.9H208M190.1 502.4H189.8V503.8H208M208 500.7H189.6V503.1H189.8M208 499.8H189.2V501.9H189.6M189.3 496.8H188.1V500.8H189.2M185.7 493.2H182.8V498.8H188.1M208 484.5H181.8V496H182.8M181.7 481.5H176.4V490.3H181.8M208 473.1H175.3V485.9H176.4M208 472.2H173.9V479.5H175.3M173.9 475.9H172.3V504.7H208M192.5 470.8H170.6V490.3H172.3M208 507.2H192.5V507.8H208M208 506.4H192.1V507.5H192.5M208 509.9H195.5V510.3H208M208 509.2H195.3V510.1H195.5M208 512.6H187.9V513.2H208M208 511.8H187V512.9H187.9M208 511H186.2V512.4H187M186.2 511.7H185.6V513.7H208M185.6 512.7H185.1V514.6H208M195.3 509.7H184.7V513.7H185.1M208 508.3H184.1V511.7H184.7M184.1 510H182.8V515.5H208M192.1 507H182.2V512.8H182.8M182.2 509.9H180.8V516.4H208M208 518.7H191.9V519.1H208M208 518.2H191.6V518.9H191.9M208 517.3H191.4V518.6H191.6M180.8 513.1H179.6V517.9H191.4M208 520H191.1V520.9H208M208 521.8H192.2V522.5H208M208 523.1H191.5V523.9H208M192.2 522.1H189.3V523.5H191.5M189.3 522.8H189V524.7H208M189 523.8H188.4V525.6H208M208 526.1H193.3V526.6H208M193.3 526.4H193.1V527.5H208M193.1 526.9H191.9V528.4H208M188.4 524.7H187.7V527.7H191.9M187.7 526.2H187.4V529.2H208M208 531.9H190.7V532.6H208M208 531H190.2V532.3H190.7M208 530.1H189.9V531.7H190.2M208 533.3H192.8V534.2H208M189.9 530.9H189.5V533.7H192.8M187.4 527.7H184.9V532.3H189.5M184.9 530H184.1V535.1H208M208 536H190.5V536.9H208M184.1 532.5H183.6V536.4H190.5M191.1 520.5H182.9V534.5H183.6M208 537.8H188.9V538.7H208M182.9 527.5H182.3V538.2H188.9M182.3 532.8H181.2V539.5H208M179.6 515.5H174.3V536.2H181.2M208 505.6H173.7V525.9H174.3M170.6 480.6H158V515.8H173.7M208 540.9H195.5V541.4H208M208 540.5H195.3V541.1H195.5M195.3 540.8H195.1V542.2H208M208 545.8H195.5V546.8H208M208 547.6H192.4V548.5H208M208 550.1H190.3V550.5H208M190.3 550.3H189.9V551.3H208M208 549.4H189.4V550.8H189.9M192.4 548.1H189.1V550.1H189.4M195.5 546.3H188.6V549.1H189.1M208 551.7H193V552.2H208M193 551.9H192.8V553.1H208M192.8 552.5H192.5V554H208M188.6 547.7H188V553.2H192.5M188 550.5H187.7V554.9H208M187.7 552.7H186.8V555.8H208M208 545H186.3V554.2H186.8M208 544H185.4V549.6H186.3M208 543.2H185.1V546.8H185.4M195.1 541.5H184.7V545H185.1M208 556.7H192.8V557.6H208M184.7 543.3H183.7V557.1H192.8M208 559.4H192.8V559.8H208M208 558.5H192.6V559.6H192.8M192.6 559H192.4V560.3H208M208 563H192.2V563.4H208M208 562.1H191.9V563.2H192.2M208 561.2H191.5V562.6H191.9M208 569.3H194.3V570.2H208M208 572.9H193V573.4H208M208 572H192.7V573.1H193M208 571.1H192.4V572.6H192.7M194.3 569.7H192.1V571.8H192.4M208 575.8H193.2V576.3H208M193.2 576H193V576.8H208M208 574.9H192.7V576.4H193M208 577.7H195.4V578.6H208M192.7 575.6H192.5V578.1H195.4M208 574H192.1V576.9H192.5M192.1 575.4H191.9V579.5H208M192.1 570.8H190.9V577.5H191.9M208 568.4H190.3V574.1H190.9M208 567.5H189.8V571.2H190.3M189.8 569.4H189.3V580.4H208M189.3 574.9H188.8V581.3H208M208 566.6H188.5V578.1H188.8M208 565.7H187.8V572.3H188.5M208 564.8H187.5V569H187.8M187.5 566.9H187.2V582.2H208M208 563.9H186.9V574.5H187.2M208 583.1H191.6V584H208M186.9 569.2H186V583.5H191.6M191.5 561.9H185.6V576.4H186M192.4 559.7H185.2V569.1H185.6M183.7 550.2H177.7V564.4H185.2M208 586.7H193.5V587.6H208M208 588.5H188.7V589.3H208M188.7 588.9H188V590.1H208M188 589.5H187.7V591H208M187.7 590.3H187V591.9H208M187 591.1H186.1V592.8H208M193.5 587.1H185.4V591.9H186.1M208 593.7H191.7V594.6H208M185.4 589.5H185.1V594.2H191.7M185.1 591.8H184.3V595.5H208M208 585.8H183.8V593.7H184.3M208 584.9H183.3V589.7H183.8M208 597.8H195V598.2H208M208 597.3H194.8V598H195M194.8 597.6H194.6V599.1H208M208 601.4H187.5V601.9H208M208 600.9H187.2V601.6H187.5M208 600H186.7V601.3H187.2M208 602.8H193.2V603.7H208M186.7 600.6H186.4V603.2H193.2M194.6 598.4H186V601.9H186.4M208 604.2H192V604.7H208M192 604.4H191.8V605.6H208M208 607.4H191.6V608.1H208M191.6 607.7H191.3V608.8H208M208 606.5H190.8V608.3H191.3M191.8 605H188.7V607.4H190.8M188.7 606.2H188.4V609.7H208M188.4 607.9H187.7V610.6H208M208 611.9H195.6V612.4H208M208 611.5H195.3V612.2H195.6M187.7 609.3H187.4V611.8H195.3M187.4 610.5H187.1V613.3H208M187.1 611.9H186.5V614.2H208M186.5 613.1H186.2V615.1H208M186 600.1H182V614.1H186.2M208 596.4H180.8V607.1H182M183.3 587.3H176.1V601.8H180.8M176.1 594.5H175.1V616H208M208 617.8H194.7V618.2H208M208 616.9H194.5V618H194.7M194.5 617.5H194.3V618.7H208M175.1 605.3H174.5V618.1H194.3M177.7 557.3H167.3V611.7H174.5M208 619.6H183.2V620.2H208M183.2 619.9H182.5V620.7H208M208 621.6H195.7V622.5H208M208 623.4H182.9V624.3H208M182.9 623.9H182.2V625.2H208M195.7 622.1H181.8V624.6H182.2M182.5 620.3H176.9V623.3H181.8M208 626.1H191.3V627H208M208 628.6H183.5V629.3H208M208 627.9H182.5V629H183.5M182.5 628.4H182V630.2H208M191.3 626.6H181V629.3H182M181 628H179.6V631.1H208M176.9 621.8H174.1V629.5H179.6M208 632H188.3V632.9H208M174.1 625.7H172.4V632.5H188.3M208 633.4H191.3V633.8H208M191.3 633.6H191V634.7H208M191 634.1H190.5V635.6H208M208 638.3H193.4V638.8H208M208 637.4H193.2V638.5H193.4M193.2 638H192.9V639.2H208M208 645.1H188.6V645.6H208M188.6 645.3H188V646.5H208M208 644.6H187.2V645.9H188M187.2 645.2H186.7V647.4H208M208 643.7H186.3V646.3H186.7M186.3 645H186V648.2H208M208 642.8H185.5V646.6H186M208 641.9H184.7V644.7H185.5M208 641H183.9V643.3H184.7M183.9 642.2H183.3V649.2H208M208 640.1H182.1V645.7H183.3M182.1 642.9H181.7V650H208M192.9 638.6H180.2V646.5H181.7M208 636.5H179.6V642.5H180.2M190.5 634.9H178.5V639.5H179.6M178.5 637.2H176.7V651H208M172.4 629.1H163V644.1H176.7M163 636.6H159.3V651.8H208M208 653.4H178.1V653.9H208M178.1 653.6H175.1V654.6H208M208 652.8H174.6V654.1H175.1M159.3 644.2H155.4V653.4H174.6M167.3 584.5H150V648.8H155.4M208 656.3H186.9V657.2H208M208 659H194.6V659.9H208M208 661.4H180.9V662H208M180.9 661.7H180.5V662.9H208M208 660.8H179.9V662.3H180.5M179.9 661.6H178.6V663.8H208M194.6 659.5H177.4V662.7H178.6M177.4 661.1H176.9V664.7H208M176.9 662.9H175.2V665.6H208M175.2 664.2H173.8V666.5H208M208 658.1H172.1V665.4H173.8M172.1 661.8H170.8V667.4H208M186.9 656.8H170.3V664.6H170.8M170.3 660.7H169.7V668.3H208M208 655.5H167V664.5H169.7M208 669.2H187.8V670.1H208M167 660H165.8V669.6H187.8M208 671H188.6V671.9H208M165.8 664.8H163.2V671.4H188.6M208 673.7H185.3V674.6H208M208 677.3H183.9V678.2H208M208 680.6H174.2V681.2H208M208 680H173.4V680.9H174.2M208 679.1H171.6V680.4H173.4M171.6 679.7H170.7V682H208M183.9 677.7H169.7V680.9H170.7M208 676.4H169.1V679.3H169.7M208 675.5H167.9V677.8H169.1M208 683H182.1V683.8H208M167.9 676.7H166V683.4H182.1M185.3 674.1H165V680H166M208 672.8H163.4V677.1H165M163.2 668.1H154.7V674.9H163.4M208 684.8H195.8V685.3H208M195.8 685H195.7V685.7H208M195.7 685.4H195.5V686.5H208M154.7 671.5H152V686H195.5M208 690.1H178.5V690.8H208M178.5 690.5H177.9V691.5H208M208 689.2H177.5V691H177.9M208 688.3H176.1V690.1H177.5M208 687.5H175V689.2H176.1M208 692.9H193.6V693.4H208M208 692.5H193.4V693.1H193.6M193.4 692.8H193.1V694.2H208M208 695.2H193.7V696H208M208 697.4H190.4V697.9H208M208 697H190.1V697.6H190.4M190.1 697.3H189.8V698.8H208M208 700.5H186.8V701.4H208M186.8 700.9H186V702.3H208M208 703.2H193V703.8H208M193 703.5H190.8V704.2H208M186 701.6H185.4V703.8H190.8M208 699.7H184.8V702.7H185.4M189.8 698H184.4V701.2H184.8M193.7 695.6H183.6V699.6H184.4M193.1 693.5H183.2V697.6H183.6M208 704.8H195.7V705.3H208M195.7 705.1H195.5V705.9H208M208 707.7H194.5V708.1H208M208 708.3H194.5V708.8H208M194.5 707.9H193.7V708.5H194.5M193.7 708.2H193.5V709.7H208M208 712.4H193.1V713.2H208M208 711.5H192.9V712.8H193.1M208 710.6H192.5V712.1H192.9M193.5 709H191.8V711.4H192.5M208 714H193.6V714.9H208M208 715.8H192.3V716.3H208M192.3 716.1H192.1V716.8H208M192.1 716.4H191.8V717.7H208M193.6 714.5H191.5V717.1H191.8M208 718.6H195.5V719.5H208M191.5 715.8H191.3V719.1H195.5M191.8 710.2H190.4V717.4H191.3M208 706.8H190.1V713.8H190.4M195.5 705.5H189.5V710.3H190.1M208 722.2H195.9V723H208M208 723.5H195.9V724H208M195.9 722.6H195.7V723.8H195.9M208 724.9H194.3V725.8H208M208 727.3H190.7V727.9H208M190.7 727.6H190.3V728.7H208M208 726.7H189.9V728.2H190.3M194.3 725.4H189.6V727.4H189.9M208 729.6H195.4V730.5H208M189.6 726.4H189.3V730.1H195.4M195.7 723.2H188.7V728.2H189.3M188.7 725.7H188.1V731.4H208M208 721.3H187.5V728.6H188.1M208 720.4H187.1V724.9H187.5M189.5 707.9H185.8V722.7H187.1M183.2 695.6H179.9V715.3H185.8M208 732.3H182.5V733.2H208M208 734.8H193.1V735.4H208M208 734H191.2V735.1H193.1M208 735.9H191.3V736.8H208M208 738.4H187.9V738.9H208M187.9 738.7H187.6V739.8H208M208 737.7H186.9V739.2H187.6M191.3 736.4H186.6V738.5H186.9M208 741.6H191V742H208M191 741.8H190.5V742.5H208M208 740.7H190V742.1H190.5M186.6 737.4H185.8V741.4H190M208 744.3H185.4V745H208M185.4 744.7H185.1V745.8H208M208 743.4H184.6V745.2H185.1M185.8 739.4H179.1V744.3H184.6M191.2 734.5H177.8V741.9H179.1M208 747.6H190.6V748.5H208M208 749.4H189V750.3H208M208 751.2H194.8V752.1H208M208 753H192.9V753.5H208M192.9 753.2H191.8V754H208M191.8 753.6H190.2V754.8H208M208 755.7H193.6V756.6H208M208 757.5H188.9V758.2H208M188.9 757.8H188.6V758.9H208M208 759.8H187.7V760.6H208M188.6 758.4H185.9V760.2H187.7M193.6 756.1H185.1V759.3H185.9M190.2 754.2H184.2V757.7H185.1M194.8 751.6H183.6V756H184.2M189 749.8H183V753.8H183.6M190.6 748H182.4V751.8H183M208 746.7H181V749.9H182.4M208 761.4H189.9V761.8H208M189.9 761.6H189.6V762.3H208M189.6 761.9H189.3V763.2H208M181 748.3H180.3V762.5H189.3M180.3 755.4H179.4V764.1H208M177.8 738.2H175V759.7H179.4M175 749H173.9V765H208M182.5 732.8H172V757H173.9M179.9 705.4H168.5V744.9H172M208 766.8H190.3V767.7H208M208 770.2H187.3V770.8H208M187.3 770.5H187V771.5H208M208 772.4H192.9V773.3H208M187 771H186.6V772.9H192.9M208 774.2H190.3V775.1H208M186.6 771.9H186V774.7H190.3M208 769.5H185.1V773.3H186M208 768.6H184.7V771.4H185.1M184.7 770H183.4V776H208M183.4 773H183.1V776.9H208M208 778.7H192V779.2H208M208 777.8H191.7V778.9H192M191.7 778.4H191.5V779.6H208M183.1 775H181.8V779H191.5M190.3 767.2H181.2V777H181.8M181.2 772.1H180.4V780.5H208M180.4 776.3H179.6V781.4H208M208 784.1H189.4V785H208M208 788.6H188.1V789.4H208M208 787.7H187.3V789H188.1M187.3 788.4H187V790.3H208M208 786.8H186.4V789.3H187M208 785.9H185.7V788.1H186.4M208 791.2H187.8V791.7H208M208 791.8H190.1V792.3H208M187.8 791.5H186.8V792H190.1M186.8 791.8H185.8V793.2H208M185.7 787H183.9V792.5H185.8M189.4 784.6H183.1V789.7H183.9M183.1 787.1H182.1V794.1H208M208 783.2H181.1V790.6H182.1M208 782.3H179.9V786.9H181.1M179.6 778.9H175.3V784.6H179.9M208 765.9H173.3V781.7H175.3M208 798.6H188.7V799H208M208 797.7H188.4V798.8H188.7M188.4 798.2H187.7V799.5H208M208 801.7H194.2V802.2H208M194.2 801.9H194V803.1H208M208 801.3H193.8V802.5H194M208 808.5H192.9V809.2H208M208 807.6H192.7V808.9H192.9M208 810.8H193V811.6H208M208 810H192.8V811.2H193M192.8 810.6H192.5V812.5H208M192.5 811.5H192.3V813.4H208M192.7 808.2H191.1V812.5H192.3M208 806.7H190.6V810.3H191.1M208 815.2H191V816H208M191 815.6H190.7V816.9H208M190.7 816.3H190.5V817.8H208M190.5 817.1H190.2V818.7H208M208 821.1H192.6V821.7H208M208 820.5H192.4V821.4H192.6M208 819.6H192.1V821H192.4M190.2 817.9H189.1V820.3H192.1M208 814.3H188.8V819.1H189.1M188.8 816.7H188.3V822.6H208M190.6 808.5H187V819.7H188.3M208 805.8H186.6V814.1H187M208 804.9H186.3V809.9H186.6M208 804H185.3V807.4H186.3M185.3 805.7H184.7V823.5H208M193.8 801.9H184.3V814.6H184.7M208 824.4H194.7V825.3H208M184.3 808.3H184V824.9H194.7M184 816.6H183.3V826.2H208M208 800.4H182.7V821.4H183.3M187.7 798.9H181.9V810.9H182.7M208 796.8H180.7V804.9H181.9M208 795.9H179.2V800.8H180.7M179.2 798.3H177.9V827.1H208M177.9 812.7H176.4V828H208M208 795H174.3V820.4H176.4M173.3 773.8H169.4V807.7H174.3M208 829.8H190V830.7H208M208 831.6H185.3V832.5H208M208 833.4H195.7V834.3H208M208 836.1H190V837H208M208 840.6H189.8V841.5H208M208 839.7H189.4V841.1H189.8M189.4 840.4H189.1V842.4H208M208 844.7H192.5V845.4H208M208 844.1H190.2V845H192.5M208 846.3H194.9V847.2H208M190.2 844.6H189.9V846.7H194.9M208 848.1H195.7V849H208M189.9 845.6H189.4V848.5H195.7M208 843.3H188.8V847.1H189.4M189.1 841.4H185.2V845.2H188.8M208 838.8H184.9V843.3H185.2M208 837.9H183.7V841.1H184.9M190 836.6H183.3V839.5H183.7M208 850.2H192.2V850.8H208M208 849.7H189.7V850.5H192.2M183.3 838H182.7V850.1H189.7M182.7 844.1H181.5V851.7H208M181.5 847.9H180.1V852.6H208M208 835.2H179V850.2H180.1M195.7 833.9H178.3V842.7H179M185.3 832.1H176.8V838.3H178.3M176.8 835.2H176.3V853.5H208M190 830.3H175.8V844.3H176.3M175.8 837.3H174.4V854.4H208M208 855.2H185.3V856.2H208M174.4 845.8H172.2V855.7H185.3M208 857.8H188.8V858.2H208M208 857H188.5V858H188.8M188.5 857.5H187.7V858.9H208M172.2 850.8H170V858.2H187.7M170 854.5H169V859.8H208M208 861.5H185.7V862H208M208 860.6H180.9V861.7H185.7M169 857.1H166.7V861.2H180.9M208 828.9H164.6V859.1H166.7M169.4 790.7H156.4V844H164.6M168.5 725.1H150V817.4H156.4M208 860.9H179.6V861.4H208M208 860.5H178.5V861.2H179.6M178.5 860.8H177.4V862.3H208M177.4 861.6H176.8V863.2H208M208 864.8H176.6V865.5H208M208 864.1H175.2V865.2H176.6M176.8 862.4H170V864.6H175.2M208 867.8H193.6V868.2H208M193.6 868H193.3V869.2H208M208 867.3H193.1V868.6H193.3M208 871H177.9V871.6H208M208 870H177.4V871.3H177.9M208 872.6H184.3V873.2H208M208 872.1H181.9V872.9H184.3M177.4 870.7H174.5V872.5H181.9M193.1 868H172.5V871.6H174.5M172.5 869.8H170.7V874.1H208M208 866.5H169.3V872H170.7M208 876.3H189.8V876.8H208M208 875.8H187.4V876.6H189.8M208 877.7H172.6V878.5H208M172.6 878.1H172V879.4H208M172 878.8H171.5V880.3H208M187.4 876.2H170.9V879.6H171.5M208 875H170.3V877.9H170.9M208 881.2H184.8V881.8H208M184.8 881.5H183.5V882.3H208M183.5 881.9H182.5V883H208M170.3 876.5H168.5V882.5H182.5M169.3 869.2H154.8V879.5H168.5M208 886.6H188V887.5H208M208 889.9H192.6V890.5H208M208 889.2H191.5V890.2H192.6M208 892.7H191.5V893.3H208M191.5 893H191.3V894.2H208M208 892H190.8V893.6H191.3M208 891.1H190.5V892.8H190.8M190.5 892H190.1V895.1H208M208 896.6H195.4V897.2H208M208 895.9H195.1V896.9H195.4M190.1 893.5H189.5V896.4H195.1M208 899.3H191V899.9H208M208 898.7H190.5V899.6H191M208 897.8H190V899.2H190.5M190 898.5H189.4V900.8H208M189.5 895H185.4V899.6H189.4M191.5 889.7H185V897.3H185.4M208 903.5H189.1V904.3H208M208 902.6H188.8V903.9H189.1M188.8 903.2H188.4V905H208M208 905.9H195.8V906.8H208M208 907.6H190.4V908H208M190.4 907.8H189.8V908.7H208M195.8 906.4H189.6V908.2H189.8M189.6 907.3H188.9V909.6H208M188.4 904.1H186.1V908.4H188.9M208 910.5H192.6V911.4H208M186.1 906.3H185.2V910.9H192.6M208 901.7H184.4V908.6H185.2M185 893.5H177.5V905.1H184.4M208 912.3H190.6V913.2H208M177.5 899.3H176.9V912.7H190.6M208 914.1H191.8V915H208M176.9 906H174.8V914.5H191.8M208 888.4H172.7V910.3H174.8M188 887.1H171.4V899.3H172.7M171.4 893.2H170.9V915.9H208M208 916.8H195.2V917.7H208M170.9 904.5H168.7V917.2H195.2M208 885.7H165.9V910.9H168.7M208 884.8H165.3V898.3H165.9M208 883.9H162.9V891.6H165.3M162.9 887.8H162.2V918.5H208M154.8 874.3H148V903.2H162.2" fill="none" stroke="#000" stroke-width="1.4"/><rect x="195" y="150" width="13" height="769" fill="#000"/><rect x="884" y="107" width="29" height="458" fill="url(#cbA)"/><text x="925.5" y="134.7" font-size="28" transform="translate(925.5,0) scale(1.06,1) translate(-925.5,0)">4</text><text x="925.5" y="245.7" font-size="28" transform="translate(925.5,0) scale(1.06,1) translate(-925.5,0)">3</text><text x="925.5" y="356.5" font-size="28" transform="translate(925.5,0) scale(1.06,1) translate(-925.5,0)">2</text><text x="925.5" y="466.5" font-size="28" transform="translate(925.5,0) scale(1.06,1) translate(-925.5,0)">1</text><text x="925.5" y="576" font-size="28" transform="translate(925.5,0) scale(1.06,1) translate(-925.5,0)">0</text><text x="970.5" y="128" font-size="30.5" font-weight="bold">Type</text><rect x="971" y="139" width="44" height="46" fill="#00dbe0"/><rect x="971" y="185" width="44" height="45" fill="#f8887e"/><text x="1023" y="173" font-size="31">Normal</text><text x="1024" y="218" font-size="31">Tumor</text><text x="1155.5" y="93" font-size="68" font-weight="bold">b</text><rect x="1338" y="108" width="286" height="30" fill="#00dbe0"/><rect x="1624" y="108" width="286" height="30" fill="#f8887e"/><text x="1919.5" y="136" font-size="31" font-weight="bold">Type</text><rect x="1338" y="151" width="144" height="3.1" fill="#f26b6b"/><rect x="1338" y="153.8" width="144" height="3.1" fill="#f27777"/><rect x="1338" y="156.7" width="144" height="3.1" fill="#f26161"/><rect x="1338" y="159.5" width="144" height="2.8" fill="#f9dada"/><rect x="1338" y="162" width="144" height="2.8" fill="#f9cdcd"/><rect x="1338" y="164.6" width="144" height="2.8" fill="#f9cdcd"/><rect x="1338" y="167.1" width="144" height="2.8" fill="#f9e3e3"/><rect x="1338" y="169.7" width="144" height="2.8" fill="#f9d2d2"/><rect x="1338" y="172.2" width="144" height="2.8" fill="#f9d0d0"/><rect x="1338" y="174.8" width="144" height="2.8" fill="#f9d7d7"/><rect x="1338" y="177.3" width="144" height="2.8" fill="#f9dbdb"/><rect x="1338" y="179.8" width="144" height="2.8" fill="#f9d0d0"/><rect x="1338" y="182.4" width="144" height="2.8" fill="#f9d6d6"/><rect x="1338" y="184.9" width="144" height="2.8" fill="#f9c6c6"/><rect x="1338" y="187.5" width="144" height="2.8" fill="#f9cccc"/><rect x="1338" y="190" width="144" height="2.7" fill="#f4a0a0"/><rect x="1338" y="192.4" width="144" height="2.7" fill="#f49797"/><rect x="1338" y="194.9" width="144" height="2.7" fill="#f49595"/><rect x="1338" y="197.3" width="144" height="2.7" fill="#f49494"/><rect x="1338" y="199.8" width="144" height="2.7" fill="#f4a2a2"/><rect x="1338" y="202.2" width="144" height="2.7" fill="#f4a2a2"/><rect x="1338" y="204.7" width="144" height="2.7" fill="#f4a1a1"/><rect x="1338" y="207.2" width="144" height="2.7" fill="#f4a5a5"/><rect x="1338" y="209.6" width="144" height="3.1" fill="#f38383"/><rect x="1338" y="212.4" width="144" height="3.1" fill="#f38f8f"/><rect x="1338" y="215.2" width="144" height="3.1" fill="#f39292"/><rect x="1338" y="218" width="144" height="2.8" fill="#f5b0b0"/><rect x="1338" y="220.5" width="144" height="2.8" fill="#f5a0a0"/><rect x="1338" y="223" width="144" height="2.8" fill="#f5a4a4"/><rect x="1338" y="225.5" width="144" height="2.8" fill="#f59494"/><rect x="1338" y="228" width="144" height="2.8" fill="#f5a3a3"/><rect x="1338" y="230.5" width="144" height="2.8" fill="#f59292"/><rect x="1338" y="233" width="144" height="2.8" fill="#f59a9a"/><rect x="1338" y="235.5" width="144" height="2.8" fill="#f5b3b3"/><rect x="1338" y="238" width="144" height="2.8" fill="#f59292"/><rect x="1338" y="240.5" width="144" height="2.8" fill="#f5b0b0"/><rect x="1338" y="243" width="144" height="3" fill="#f6bfbf"/><rect x="1338" y="245.8" width="144" height="3" fill="#f6b9b9"/><rect x="1338" y="248.5" width="144" height="3" fill="#f6c1c1"/><rect x="1338" y="251.2" width="144" height="3" fill="#f6c1c1"/><rect x="1338" y="254" width="144" height="2.6" fill="#f8dede"/><rect x="1338" y="256.3" width="144" height="2.6" fill="#f8d2d2"/><rect x="1338" y="258.7" width="144" height="2.6" fill="#f8cece"/><rect x="1338" y="261" width="144" height="2.6" fill="#f8cece"/><rect x="1338" y="263.3" width="144" height="2.6" fill="#f8caca"/><rect x="1338" y="265.7" width="144" height="2.6" fill="#f8d4d4"/><rect x="1338" y="268" width="144" height="2.8" fill="#fbe8e8"/><rect x="1338" y="270.5" width="144" height="2.8" fill="#fbfbfb"/><rect x="1338" y="273" width="144" height="2.8" fill="#fbdddd"/><rect x="1338" y="275.5" width="144" height="2.8" fill="#fbe5e5"/><rect x="1338" y="278" width="144" height="2.8" fill="#fbe6e6"/><rect x="1338" y="280.5" width="144" height="2.8" fill="#fbdbdb"/><rect x="1338" y="283" width="144" height="2.8" fill="#fbffff"/><rect x="1338" y="285.5" width="144" height="2.8" fill="#fbd8d8"/><rect x="1338" y="288" width="144" height="2.8" fill="#fbeded"/><rect x="1338" y="290.5" width="144" height="2.8" fill="#fbebeb"/><rect x="1338" y="293" width="144" height="2.7" fill="#f9eded"/><rect x="1338" y="295.4" width="144" height="2.7" fill="#f9c8c8"/><rect x="1338" y="297.9" width="144" height="2.7" fill="#f9e7e7"/><rect x="1338" y="300.3" width="144" height="2.7" fill="#f9d5d5"/><rect x="1338" y="302.8" width="144" height="2.7" fill="#f9dada"/><rect x="1338" y="305.2" width="144" height="2.7" fill="#f9d5d5"/><rect x="1338" y="307.6" width="144" height="2.7" fill="#f9e2e2"/><rect x="1338" y="310.1" width="144" height="2.7" fill="#f9d1d1"/><rect x="1338" y="312.5" width="144" height="2.7" fill="#fbeff1"/><rect x="1338" y="314.9" width="144" height="2.7" fill="#fbf4f6"/><rect x="1338" y="317.2" width="144" height="2.7" fill="#fbffff"/><rect x="1338" y="319.6" width="144" height="2.7" fill="#fbd8da"/><rect x="1338" y="321.9" width="144" height="2.7" fill="#fbffff"/><rect x="1338" y="324.3" width="144" height="2.7" fill="#fbf9fb"/><rect x="1338" y="326.6" width="144" height="2.7" fill="#fbebed"/><rect x="1338" y="329" width="144" height="2.8" fill="#dfdff8"/><rect x="1338" y="331.5" width="144" height="2.8" fill="#d7d7f8"/><rect x="1338" y="334" width="144" height="2.8" fill="#ececf8"/><rect x="1338" y="336.5" width="144" height="2.8" fill="#dedef8"/><rect x="1338" y="339" width="144" height="2.8" fill="#dadaf8"/><rect x="1338" y="341.5" width="144" height="2.8" fill="#dadaf8"/><rect x="1338" y="344" width="144" height="2.8" fill="#dadaf8"/><rect x="1338" y="346.5" width="144" height="2.8" fill="#dadaf8"/><rect x="1338" y="349" width="144" height="2.7" fill="#e3e3fa"/><rect x="1338" y="351.4" width="144" height="2.7" fill="#fffffa"/><rect x="1338" y="353.8" width="144" height="2.7" fill="#d9d9fa"/><rect x="1338" y="356.1" width="144" height="2.7" fill="#c8c8fa"/><rect x="1338" y="358.5" width="144" height="2.7" fill="#ebebfa"/><rect x="1338" y="360.9" width="144" height="2.7" fill="#ebebfa"/><rect x="1338" y="363.2" width="144" height="2.7" fill="#f0f0fa"/><rect x="1338" y="365.6" width="144" height="2.7" fill="#eaeafa"/><rect x="1338" y="368" width="144" height="3" fill="#c0c0f6"/><rect x="1338" y="371" width="144" height="2.6" fill="#efeffa"/><rect x="1338" y="373.3" width="144" height="2.6" fill="#f3f3fa"/><rect x="1338" y="375.7" width="144" height="2.6" fill="#fafafa"/><rect x="1338" y="378" width="144" height="2.6" fill="#ececfa"/><rect x="1338" y="380.3" width="144" height="2.6" fill="#ececfa"/><rect x="1338" y="382.7" width="144" height="2.6" fill="#fffffa"/><rect x="1338" y="385" width="144" height="2.3" fill="#a5a5f4"/><rect x="1338" y="387" width="144" height="2.3" fill="#9696f4"/><rect x="1338" y="389" width="144" height="2.8" fill="#fbffff"/><rect x="1338" y="391.5" width="144" height="2.8" fill="#fbf6f6"/><rect x="1338" y="394" width="144" height="2.8" fill="#fbe8e8"/><rect x="1338" y="396.5" width="144" height="2.8" fill="#fbe2e2"/><rect x="1338" y="399" width="144" height="2.8" fill="#fbf1f1"/><rect x="1338" y="401.5" width="144" height="2.8" fill="#fbe6e6"/><rect x="1338" y="404" width="144" height="2.8" fill="#f8c5c5"/><rect x="1338" y="406.5" width="144" height="2.8" fill="#f8c3c3"/><rect x="1338" y="409.1" width="144" height="2.8" fill="#f8cbcb"/><rect x="1338" y="411.6" width="144" height="2.8" fill="#f8dbdb"/><rect x="1338" y="414.2" width="144" height="2.8" fill="#f8cccc"/><rect x="1338" y="416.7" width="144" height="2.8" fill="#f8c2c2"/><rect x="1338" y="419.3" width="144" height="2.8" fill="#f8d7d7"/><rect x="1338" y="421.8" width="144" height="2.8" fill="#f8d1d1"/><rect x="1338" y="424.4" width="144" height="2.8" fill="#f8d8d8"/><rect x="1338" y="426.9" width="144" height="2.8" fill="#f8dcdc"/><rect x="1338" y="429.5" width="144" height="2.8" fill="#f8cece"/><rect x="1338" y="432" width="144" height="2.9" fill="#f6b7b7"/><rect x="1338" y="434.6" width="144" height="2.9" fill="#f6b8b8"/><rect x="1338" y="437.2" width="144" height="2.9" fill="#f6adad"/><rect x="1338" y="439.8" width="144" height="2.9" fill="#f6bfbf"/><rect x="1338" y="442.3" width="144" height="2.9" fill="#f6c6c6"/><rect x="1338" y="444.9" width="144" height="2.9" fill="#f6baba"/><rect x="1338" y="447.5" width="144" height="2.9" fill="#f6b6b6"/><rect x="1338" y="450.1" width="144" height="2.9" fill="#f6b5b5"/><rect x="1338" y="452.7" width="144" height="2.9" fill="#f6b0b0"/><rect x="1338" y="455.2" width="144" height="2.9" fill="#f6b0b0"/><rect x="1338" y="457.8" width="144" height="2.9" fill="#f6b4b4"/><rect x="1338" y="460.4" width="144" height="2.9" fill="#f6b0b0"/><rect x="1338" y="463" width="144" height="2.8" fill="#f6bcbc"/><rect x="1338" y="465.5" width="144" height="2.8" fill="#f6b0b0"/><rect x="1338" y="468" width="144" height="2.8" fill="#f6c4c4"/><rect x="1338" y="470.5" width="144" height="2.8" fill="#f6c0c0"/><rect x="1338" y="473" width="144" height="2.8" fill="#f6b4b4"/><rect x="1338" y="475.5" width="144" height="2.8" fill="#f6a9a9"/><rect x="1338" y="478" width="144" height="2.8" fill="#f6c0c0"/><rect x="1338" y="480.5" width="144" height="2.8" fill="#f6cbcb"/><rect x="1338" y="483" width="144" height="2.8" fill="#f6b9b9"/><rect x="1338" y="485.5" width="144" height="2.8" fill="#f6bbbb"/><rect x="1338" y="488" width="144" height="2.8" fill="#f49e9e"/><rect x="1338" y="490.5" width="144" height="2.8" fill="#f4abab"/><rect x="1338" y="493" width="144" height="2.8" fill="#f49b9b"/><rect x="1338" y="495.5" width="144" height="2.8" fill="#f4aeae"/><rect x="1338" y="498" width="144" height="2.8" fill="#f4a1a1"/><rect x="1338" y="500.5" width="144" height="2.8" fill="#f4adad"/><rect x="1338" y="503" width="144" height="2.8" fill="#f4a4a4"/><rect x="1338" y="505.5" width="144" height="2.8" fill="#f4a2a2"/><rect x="1338" y="508" width="144" height="2.8" fill="#f49595"/><rect x="1338" y="510.5" width="144" height="2.8" fill="#f49d9d"/><rect x="1338" y="513" width="144" height="2.9" fill="#f84949"/><rect x="1338" y="515.6" width="144" height="2.9" fill="#f85353"/><rect x="1338" y="518.1" width="144" height="2.9" fill="#f84e4e"/><rect x="1338" y="520.7" width="144" height="2.9" fill="#f84545"/><rect x="1338" y="523.3" width="144" height="2.9" fill="#f85050"/><rect x="1338" y="525.9" width="144" height="2.9" fill="#f85656"/><rect x="1338" y="528.4" width="144" height="2.9" fill="#f84b4b"/><rect x="1338" y="531" width="144" height="2.8" fill="#f65858"/><rect x="1338" y="533.5" width="144" height="2.8" fill="#f65858"/><rect x="1338" y="536.1" width="144" height="2.8" fill="#f66464"/><rect x="1338" y="538.6" width="144" height="2.8" fill="#f66161"/><rect x="1338" y="541.2" width="144" height="2.8" fill="#f65353"/><rect x="1338" y="543.7" width="144" height="2.8" fill="#f66060"/><rect x="1338" y="546.3" width="144" height="2.8" fill="#f65757"/><rect x="1338" y="548.8" width="144" height="2.8" fill="#f65454"/><rect x="1338" y="551.4" width="144" height="2.8" fill="#f66868"/><rect x="1338" y="553.9" width="144" height="2.8" fill="#f66464"/><rect x="1338" y="556.5" width="144" height="2.8" fill="#f65555"/><rect x="1338" y="559" width="144" height="2.8" fill="#f46d6d"/><rect x="1338" y="561.5" width="144" height="2.8" fill="#f47171"/><rect x="1338" y="564.1" width="144" height="2.8" fill="#f46666"/><rect x="1338" y="566.6" width="144" height="2.8" fill="#f46b6b"/><rect x="1338" y="569.2" width="144" height="2.8" fill="#f47373"/><rect x="1338" y="571.7" width="144" height="2.8" fill="#f45a5a"/><rect x="1338" y="574.3" width="144" height="2.8" fill="#f46f6f"/><rect x="1338" y="576.8" width="144" height="2.8" fill="#f47373"/><rect x="1338" y="579.4" width="144" height="2.8" fill="#f47171"/><rect x="1338" y="581.9" width="144" height="2.8" fill="#f45f5f"/><rect x="1338" y="584.5" width="144" height="2.8" fill="#f46f6f"/><rect x="1338" y="587" width="144" height="2.8" fill="#f47b7b"/><rect x="1338" y="589.5" width="144" height="2.8" fill="#f48a8a"/><rect x="1338" y="592" width="144" height="2.8" fill="#f48a8a"/><rect x="1338" y="594.5" width="144" height="2.8" fill="#f48686"/><rect x="1338" y="597" width="144" height="2.8" fill="#f47c7c"/><rect x="1338" y="599.5" width="144" height="2.8" fill="#f47e7e"/><rect x="1338" y="602" width="144" height="2.8" fill="#f48d8d"/><rect x="1338" y="604.5" width="144" height="2.8" fill="#f47b7b"/><rect x="1338" y="607" width="144" height="2.8" fill="#f48989"/><rect x="1338" y="609.5" width="144" height="2.8" fill="#f48989"/><rect x="1338" y="612" width="144" height="2.8" fill="#f48181"/><rect x="1338" y="614.5" width="144" height="2.8" fill="#f49c9c"/><rect x="1338" y="617" width="144" height="2.8" fill="#f48585"/><rect x="1338" y="619.5" width="144" height="2.8" fill="#f49999"/><rect x="1338" y="622" width="144" height="2.8" fill="#f47070"/><rect x="1338" y="624.5" width="144" height="2.8" fill="#f46e6e"/><rect x="1338" y="627" width="144" height="2.6" fill="#fa1e1e"/><rect x="1338" y="629.3" width="144" height="2.6" fill="#fa1a1a"/><rect x="1338" y="631.7" width="144" height="2.6" fill="#fa1111"/><rect x="1338" y="634" width="144" height="2.6" fill="#fa1313"/><rect x="1338" y="636.3" width="144" height="2.6" fill="#fa0101"/><rect x="1338" y="638.7" width="144" height="2.6" fill="#fa0e0e"/><rect x="1338" y="641" width="144" height="2.7" fill="#f46a6a"/><rect x="1338" y="643.4" width="144" height="2.7" fill="#f47272"/><rect x="1338" y="645.8" width="144" height="2.7" fill="#f47d7d"/><rect x="1338" y="648.2" width="144" height="2.7" fill="#f47575"/><rect x="1338" y="650.7" width="144" height="2.7" fill="#f47878"/><rect x="1338" y="653.1" width="144" height="2.7" fill="#f46d6d"/><rect x="1338" y="655.5" width="144" height="2.7" fill="#f47070"/><rect x="1338" y="657.9" width="144" height="2.7" fill="#f47575"/><rect x="1338" y="660.3" width="144" height="2.7" fill="#f47171"/><rect x="1338" y="662.8" width="144" height="2.7" fill="#f48181"/><rect x="1338" y="665.2" width="144" height="2.7" fill="#f46b6b"/><rect x="1338" y="667.6" width="144" height="2.7" fill="#f48787"/><rect x="1338" y="670" width="144" height="3.3" fill="#b6b6f4"/><rect x="1338" y="673" width="144" height="3.3" fill="#cbcbf4"/><rect x="1338" y="676" width="144" height="3" fill="#f6d8e0"/><rect x="1338" y="678.8" width="144" height="3" fill="#f6f0f8"/><rect x="1338" y="681.5" width="144" height="3" fill="#f6e1e9"/><rect x="1338" y="684.2" width="144" height="3" fill="#f6e4ec"/><rect x="1338" y="687" width="144" height="3" fill="#cfcff6"/><rect x="1338" y="689.8" width="144" height="3" fill="#c2c2f6"/><rect x="1338" y="692.5" width="144" height="3" fill="#bebef6"/><rect x="1338" y="695.2" width="144" height="3" fill="#b4b4f6"/><rect x="1338" y="698" width="144" height="2.7" fill="#fbfcff"/><rect x="1338" y="700.4" width="144" height="2.7" fill="#fbe9ed"/><rect x="1338" y="702.9" width="144" height="2.7" fill="#fbeaee"/><rect x="1338" y="705.3" width="144" height="2.7" fill="#fbf0f4"/><rect x="1338" y="707.7" width="144" height="2.7" fill="#fbffff"/><rect x="1338" y="710.1" width="144" height="2.7" fill="#fbdfe3"/><rect x="1338" y="712.6" width="144" height="2.7" fill="#fbf2f6"/><rect x="1338" y="715" width="144" height="2.7" fill="#0000ff"/><rect x="1338" y="717.4" width="144" height="2.7" fill="#0505ff"/><rect x="1338" y="719.8" width="144" height="2.7" fill="#0000ff"/><rect x="1338" y="722.1" width="144" height="2.7" fill="#0000ff"/><rect x="1338" y="724.5" width="144" height="2.7" fill="#0808ff"/><rect x="1338" y="726.9" width="144" height="2.7" fill="#1010ff"/><rect x="1338" y="729.2" width="144" height="2.7" fill="#1010ff"/><rect x="1338" y="731.6" width="144" height="2.7" fill="#0000ff"/><rect x="1338" y="734" width="144" height="2.9" fill="#1b1bf4"/><rect x="1338" y="736.6" width="144" height="2.9" fill="#1919f4"/><rect x="1338" y="739.2" width="144" height="2.9" fill="#0c0cf4"/><rect x="1338" y="741.8" width="144" height="2.9" fill="#0c0cf4"/><rect x="1338" y="744.3" width="144" height="2.9" fill="#2222f4"/><rect x="1338" y="746.9" width="144" height="2.9" fill="#1c1cf4"/><rect x="1338" y="749.5" width="144" height="2.9" fill="#1919f4"/><rect x="1338" y="752.1" width="144" height="2.9" fill="#2626f4"/><rect x="1338" y="754.7" width="144" height="2.9" fill="#1010f4"/><rect x="1338" y="757.2" width="144" height="2.9" fill="#1f1ff4"/><rect x="1338" y="759.8" width="144" height="2.9" fill="#1a1af4"/><rect x="1338" y="762.4" width="144" height="2.9" fill="#1919f4"/><rect x="1338" y="765" width="144" height="2.8" fill="#3535f0"/><rect x="1338" y="767.5" width="144" height="2.8" fill="#3232f0"/><rect x="1338" y="770" width="144" height="2.8" fill="#3333f0"/><rect x="1338" y="772.5" width="144" height="2.8" fill="#3333f0"/><rect x="1338" y="775" width="144" height="2.8" fill="#4343f0"/><rect x="1338" y="777.5" width="144" height="2.8" fill="#2d2df0"/><rect x="1338" y="780" width="144" height="2.8" fill="#3a3af0"/><rect x="1338" y="782.5" width="144" height="2.8" fill="#3636f0"/><rect x="1338" y="785" width="144" height="2.8" fill="#2d2df0"/><rect x="1338" y="787.5" width="144" height="2.8" fill="#3838f0"/><rect x="1338" y="790" width="144" height="2.9" fill="#5151f0"/><rect x="1338" y="792.6" width="144" height="2.9" fill="#6666f0"/><rect x="1338" y="795.1" width="144" height="2.9" fill="#5252f0"/><rect x="1338" y="797.7" width="144" height="2.9" fill="#5555f0"/><rect x="1338" y="800.3" width="144" height="2.9" fill="#5d5df0"/><rect x="1338" y="802.9" width="144" height="2.9" fill="#6262f0"/><rect x="1338" y="805.4" width="144" height="2.9" fill="#6363f0"/><rect x="1338" y="808" width="144" height="2.9" fill="#8181f0"/><rect x="1338" y="810.6" width="144" height="2.9" fill="#7676f0"/><rect x="1338" y="813.1" width="144" height="2.9" fill="#6e6ef0"/><rect x="1338" y="815.7" width="144" height="2.9" fill="#7d7df0"/><rect x="1338" y="818.3" width="144" height="2.9" fill="#7b7bf0"/><rect x="1338" y="820.9" width="144" height="2.9" fill="#6e6ef0"/><rect x="1338" y="823.4" width="144" height="2.9" fill="#8282f0"/><rect x="1338" y="826" width="144" height="2.7" fill="#9292f0"/><rect x="1338" y="828.4" width="144" height="2.7" fill="#8686f0"/><rect x="1338" y="830.8" width="144" height="2.7" fill="#9494f0"/><rect x="1338" y="833.1" width="144" height="2.7" fill="#8383f0"/><rect x="1338" y="835.5" width="144" height="2.7" fill="#8787f0"/><rect x="1338" y="837.9" width="144" height="2.7" fill="#9494f0"/><rect x="1338" y="840.2" width="144" height="2.7" fill="#8080f0"/><rect x="1338" y="842.6" width="144" height="2.7" fill="#9090f0"/><rect x="1338" y="845" width="144" height="2.9" fill="#9a9af4"/><rect x="1338" y="847.6" width="144" height="2.9" fill="#afaff4"/><rect x="1338" y="850.1" width="144" height="2.9" fill="#a1a1f4"/><rect x="1338" y="852.7" width="144" height="2.9" fill="#aaaaf4"/><rect x="1338" y="855.3" width="144" height="2.9" fill="#9999f4"/><rect x="1338" y="857.9" width="144" height="2.9" fill="#a5a5f4"/><rect x="1338" y="860.4" width="144" height="2.9" fill="#b1b1f4"/><rect x="1338" y="863" width="144" height="2.7" fill="#b5b5f4"/><rect x="1338" y="865.4" width="144" height="2.7" fill="#9e9ef4"/><rect x="1338" y="867.8" width="144" height="2.7" fill="#b9b9f4"/><rect x="1338" y="870.2" width="144" height="2.7" fill="#b9b9f4"/><rect x="1338" y="872.6" width="144" height="2.7" fill="#acacf4"/><rect x="1338" y="875" width="144" height="2.7" fill="#bebef4"/><rect x="1338" y="877.4" width="144" height="2.7" fill="#a5a5f4"/><rect x="1338" y="879.8" width="144" height="2.7" fill="#afaff4"/><rect x="1338" y="882.2" width="144" height="2.7" fill="#bbbbf4"/><rect x="1338" y="884.6" width="144" height="2.7" fill="#bdbdf4"/><rect x="1338" y="887" width="144" height="2.7" fill="#8585f4"/><rect x="1338" y="889.4" width="144" height="2.7" fill="#6d6df4"/><rect x="1338" y="891.8" width="144" height="2.7" fill="#6666f4"/><rect x="1338" y="894.2" width="144" height="2.7" fill="#7c7cf4"/><rect x="1338" y="896.6" width="144" height="2.7" fill="#6a6af4"/><rect x="1338" y="899" width="144" height="2.7" fill="#7777f4"/><rect x="1338" y="901.4" width="144" height="2.7" fill="#6b6bf4"/><rect x="1338" y="903.8" width="144" height="2.7" fill="#8383f4"/><rect x="1338" y="906.2" width="144" height="2.7" fill="#8080f4"/><rect x="1338" y="908.6" width="144" height="2.7" fill="#7e7ef4"/><rect x="1482" y="151" width="142" height="3.1" fill="#f05858"/><rect x="1482" y="153.8" width="142" height="3.1" fill="#f05d5d"/><rect x="1482" y="156.7" width="142" height="3.1" fill="#f05353"/><rect x="1482" y="159.5" width="142" height="2.9" fill="#facccc"/><rect x="1482" y="162.1" width="142" height="2.9" fill="#fad1d1"/><rect x="1482" y="164.7" width="142" height="2.9" fill="#facccc"/><rect x="1482" y="167.2" width="142" height="2.9" fill="#fad8d8"/><rect x="1482" y="169.8" width="142" height="2.9" fill="#fabfbf"/><rect x="1482" y="172.4" width="142" height="2.9" fill="#fac9c9"/><rect x="1482" y="175" width="142" height="2.8" fill="#f8b1b1"/><rect x="1482" y="177.5" width="142" height="2.8" fill="#f8b0b0"/><rect x="1482" y="180" width="142" height="2.8" fill="#f8b6b6"/><rect x="1482" y="182.5" width="142" height="2.8" fill="#f8baba"/><rect x="1482" y="185" width="142" height="2.8" fill="#f8bcbc"/><rect x="1482" y="187.5" width="142" height="2.8" fill="#f8bdbd"/><rect x="1482" y="190" width="142" height="2.7" fill="#f6b6b6"/><rect x="1482" y="192.4" width="142" height="2.7" fill="#f6a9a9"/><rect x="1482" y="194.9" width="142" height="2.7" fill="#f69090"/><rect x="1482" y="197.3" width="142" height="2.7" fill="#f6a2a2"/><rect x="1482" y="199.8" width="142" height="2.7" fill="#f69a9a"/><rect x="1482" y="202.2" width="142" height="2.7" fill="#f69b9b"/><rect x="1482" y="204.7" width="142" height="2.7" fill="#f6adad"/><rect x="1482" y="207.2" width="142" height="2.7" fill="#f69e9e"/><rect x="1482" y="209.6" width="142" height="3.1" fill="#f46c6c"/><rect x="1482" y="212.4" width="142" height="3.1" fill="#f48383"/><rect x="1482" y="215.2" width="142" height="3.1" fill="#f47d7d"/><rect x="1482" y="218" width="142" height="2.9" fill="#f69494"/><rect x="1482" y="220.6" width="142" height="2.9" fill="#f69797"/><rect x="1482" y="223.2" width="142" height="2.9" fill="#f69a9a"/><rect x="1482" y="225.8" width="142" height="2.9" fill="#f6a0a0"/><rect x="1482" y="228.4" width="142" height="2.9" fill="#f69c9c"/><rect x="1482" y="231" width="142" height="2.9" fill="#f6a1a1"/><rect x="1482" y="233.6" width="142" height="2.9" fill="#f6b2b2"/><rect x="1482" y="236.2" width="142" height="2.9" fill="#f69898"/><rect x="1482" y="238.8" width="142" height="2.9" fill="#f69898"/><rect x="1482" y="241.4" width="142" height="2.9" fill="#f69e9e"/><rect x="1482" y="244" width="142" height="2.6" fill="#f07b7b"/><rect x="1482" y="246.3" width="142" height="2.6" fill="#f06969"/><rect x="1482" y="248.7" width="142" height="2.6" fill="#f07e7e"/><rect x="1482" y="251" width="142" height="2.7" fill="#f8c3c3"/><rect x="1482" y="253.4" width="142" height="2.7" fill="#f8c6c6"/><rect x="1482" y="255.8" width="142" height="2.7" fill="#f8cfcf"/><rect x="1482" y="258.1" width="142" height="2.7" fill="#f8c7c7"/><rect x="1482" y="260.5" width="142" height="2.7" fill="#f8caca"/><rect x="1482" y="262.9" width="142" height="2.7" fill="#f8d5d5"/><rect x="1482" y="265.2" width="142" height="2.7" fill="#f8d7d7"/><rect x="1482" y="267.6" width="142" height="2.7" fill="#f8d1d1"/><rect x="1482" y="270" width="142" height="2.9" fill="#f8eff3"/><rect x="1482" y="272.6" width="142" height="2.9" fill="#f8ffff"/><rect x="1482" y="275.1" width="142" height="2.9" fill="#f8f6fa"/><rect x="1482" y="277.7" width="142" height="2.9" fill="#f8f0f4"/><rect x="1482" y="280.2" width="142" height="2.9" fill="#f8feff"/><rect x="1482" y="282.8" width="142" height="2.9" fill="#f8e9ed"/><rect x="1482" y="285.3" width="142" height="2.9" fill="#f8f4f8"/><rect x="1482" y="287.9" width="142" height="2.9" fill="#f8f9fd"/><rect x="1482" y="290.4" width="142" height="2.9" fill="#f8f2f6"/><rect x="1482" y="293" width="142" height="2.7" fill="#fae4e4"/><rect x="1482" y="295.4" width="142" height="2.7" fill="#faeeee"/><rect x="1482" y="297.9" width="142" height="2.7" fill="#fae5e5"/><rect x="1482" y="300.3" width="142" height="2.7" fill="#fae4e4"/><rect x="1482" y="302.8" width="142" height="2.7" fill="#fae0e0"/><rect x="1482" y="305.2" width="142" height="2.7" fill="#faf7f7"/><rect x="1482" y="307.6" width="142" height="2.7" fill="#fae5e5"/><rect x="1482" y="310.1" width="142" height="2.7" fill="#faf6f6"/><rect x="1482" y="312.5" width="142" height="2.7" fill="#fbf6f6"/><rect x="1482" y="314.9" width="142" height="2.7" fill="#fbefef"/><rect x="1482" y="317.2" width="142" height="2.7" fill="#fbf9f9"/><rect x="1482" y="319.6" width="142" height="2.7" fill="#fbf5f5"/><rect x="1482" y="321.9" width="142" height="2.7" fill="#fbf3f3"/><rect x="1482" y="324.3" width="142" height="2.7" fill="#fbe4e4"/><rect x="1482" y="326.6" width="142" height="2.7" fill="#fbf3f3"/><rect x="1482" y="329" width="142" height="2.8" fill="#d1d1f6"/><rect x="1482" y="331.5" width="142" height="2.8" fill="#cdcdf6"/><rect x="1482" y="334" width="142" height="2.8" fill="#d2d2f6"/><rect x="1482" y="336.5" width="142" height="2.8" fill="#d7d7f6"/><rect x="1482" y="339" width="142" height="2.8" fill="#ccccf6"/><rect x="1482" y="341.5" width="142" height="2.8" fill="#dcdcf6"/><rect x="1482" y="344" width="142" height="2.8" fill="#b9b9f6"/><rect x="1482" y="346.5" width="142" height="2.8" fill="#c6c6f6"/><rect x="1482" y="349" width="142" height="2.7" fill="#cbcbf8"/><rect x="1482" y="351.4" width="142" height="2.7" fill="#ececf8"/><rect x="1482" y="353.8" width="142" height="2.7" fill="#e5e5f8"/><rect x="1482" y="356.1" width="142" height="2.7" fill="#f5f5f8"/><rect x="1482" y="358.5" width="142" height="2.7" fill="#e0e0f8"/><rect x="1482" y="360.9" width="142" height="2.7" fill="#d0d0f8"/><rect x="1482" y="363.2" width="142" height="2.7" fill="#f1f1f8"/><rect x="1482" y="365.6" width="142" height="2.7" fill="#d7d7f8"/><rect x="1482" y="368" width="142" height="2.7" fill="#d3d3f8"/><rect x="1482" y="370.4" width="142" height="2.7" fill="#dedef8"/><rect x="1482" y="372.9" width="142" height="2.7" fill="#e6e6f8"/><rect x="1482" y="375.3" width="142" height="2.7" fill="#dbdbf8"/><rect x="1482" y="377.7" width="142" height="2.7" fill="#e2e2f8"/><rect x="1482" y="380.1" width="142" height="2.7" fill="#cdcdf8"/><rect x="1482" y="382.6" width="142" height="2.7" fill="#f1f1f8"/><rect x="1482" y="385" width="142" height="2.3" fill="#8b8bf0"/><rect x="1482" y="387" width="142" height="2.3" fill="#8d8df0"/><rect x="1482" y="389" width="142" height="2.8" fill="#fbf6f6"/><rect x="1482" y="391.5" width="142" height="2.8" fill="#fbf2f2"/><rect x="1482" y="394" width="142" height="2.8" fill="#fbf2f2"/><rect x="1482" y="396.5" width="142" height="2.8" fill="#fbe7e7"/><rect x="1482" y="399" width="142" height="2.8" fill="#fbefef"/><rect x="1482" y="401.5" width="142" height="2.8" fill="#fbf4f4"/><rect x="1482" y="404" width="142" height="2.8" fill="#f9e4e4"/><rect x="1482" y="406.5" width="142" height="2.8" fill="#f9d9d9"/><rect x="1482" y="409.1" width="142" height="2.8" fill="#f9dbdb"/><rect x="1482" y="411.6" width="142" height="2.8" fill="#f9dddd"/><rect x="1482" y="414.2" width="142" height="2.8" fill="#f9e0e0"/><rect x="1482" y="416.7" width="142" height="2.8" fill="#f9dcdc"/><rect x="1482" y="419.3" width="142" height="2.8" fill="#f9d7d7"/><rect x="1482" y="421.8" width="142" height="2.8" fill="#f9d5d5"/><rect x="1482" y="424.4" width="142" height="2.8" fill="#f9e5e5"/><rect x="1482" y="426.9" width="142" height="2.8" fill="#f9dddd"/><rect x="1482" y="429.5" width="142" height="2.8" fill="#f9dada"/><rect x="1482" y="432" width="142" height="2.9" fill="#f8f3f3"/><rect x="1482" y="434.6" width="142" height="2.9" fill="#f8d9d9"/><rect x="1482" y="437.2" width="142" height="2.9" fill="#f8d9d9"/><rect x="1482" y="439.8" width="142" height="2.9" fill="#f8d2d2"/><rect x="1482" y="442.3" width="142" height="2.9" fill="#f8c6c6"/><rect x="1482" y="444.9" width="142" height="2.9" fill="#f8dbdb"/><rect x="1482" y="447.5" width="142" height="2.9" fill="#f8cfcf"/><rect x="1482" y="450.1" width="142" height="2.9" fill="#f8d1d1"/><rect x="1482" y="452.7" width="142" height="2.9" fill="#f8dada"/><rect x="1482" y="455.2" width="142" height="2.9" fill="#f8dada"/><rect x="1482" y="457.8" width="142" height="2.9" fill="#f8d2d2"/><rect x="1482" y="460.4" width="142" height="2.9" fill="#f8d0d0"/><rect x="1482" y="463" width="142" height="2.8" fill="#f7d9d9"/><rect x="1482" y="465.5" width="142" height="2.8" fill="#f7caca"/><rect x="1482" y="468" width="142" height="2.8" fill="#f7baba"/><rect x="1482" y="470.5" width="142" height="2.8" fill="#f7cccc"/><rect x="1482" y="473" width="142" height="2.8" fill="#f7c6c6"/><rect x="1482" y="475.5" width="142" height="2.8" fill="#f7c4c4"/><rect x="1482" y="478" width="142" height="2.8" fill="#f7cbcb"/><rect x="1482" y="480.5" width="142" height="2.8" fill="#f7c6c6"/><rect x="1482" y="483" width="142" height="2.8" fill="#f7d8d8"/><rect x="1482" y="485.5" width="142" height="2.8" fill="#f7c6c6"/><rect x="1482" y="488" width="142" height="2.8" fill="#f5b3b3"/><rect x="1482" y="490.5" width="142" height="2.8" fill="#f5bcbc"/><rect x="1482" y="493" width="142" height="2.8" fill="#f5aaaa"/><rect x="1482" y="495.5" width="142" height="2.8" fill="#f5baba"/><rect x="1482" y="498" width="142" height="2.8" fill="#f5afaf"/><rect x="1482" y="500.5" width="142" height="2.8" fill="#f5bcbc"/><rect x="1482" y="503" width="142" height="2.8" fill="#f5a8a8"/><rect x="1482" y="505.5" width="142" height="2.8" fill="#f5b4b4"/><rect x="1482" y="508" width="142" height="2.8" fill="#f5a0a0"/><rect x="1482" y="510.5" width="142" height="2.8" fill="#f5acac"/><rect x="1482" y="513" width="142" height="2.9" fill="#fa3434"/><rect x="1482" y="515.6" width="142" height="2.9" fill="#fa3939"/><rect x="1482" y="518.1" width="142" height="2.9" fill="#fa4848"/><rect x="1482" y="520.7" width="142" height="2.9" fill="#fa4646"/><rect x="1482" y="523.3" width="142" height="2.9" fill="#fa2727"/><rect x="1482" y="525.9" width="142" height="2.9" fill="#fa2c2c"/><rect x="1482" y="528.4" width="142" height="2.9" fill="#fa4141"/><rect x="1482" y="531" width="142" height="2.8" fill="#f65454"/><rect x="1482" y="533.5" width="142" height="2.8" fill="#f64242"/><rect x="1482" y="536.1" width="142" height="2.8" fill="#f65555"/><rect x="1482" y="538.6" width="142" height="2.8" fill="#f64545"/><rect x="1482" y="541.2" width="142" height="2.8" fill="#f64747"/><rect x="1482" y="543.7" width="142" height="2.8" fill="#f64343"/><rect x="1482" y="546.3" width="142" height="2.8" fill="#f64d4d"/><rect x="1482" y="548.8" width="142" height="2.8" fill="#f66666"/><rect x="1482" y="551.4" width="142" height="2.8" fill="#f65454"/><rect x="1482" y="553.9" width="142" height="2.8" fill="#f64f4f"/><rect x="1482" y="556.5" width="142" height="2.8" fill="#f66969"/><rect x="1482" y="559" width="142" height="2.8" fill="#f45f5f"/><rect x="1482" y="561.5" width="142" height="2.8" fill="#f46363"/><rect x="1482" y="564.1" width="142" height="2.8" fill="#f46161"/><rect x="1482" y="566.6" width="142" height="2.8" fill="#f46868"/><rect x="1482" y="569.2" width="142" height="2.8" fill="#f46161"/><rect x="1482" y="571.7" width="142" height="2.8" fill="#f47373"/><rect x="1482" y="574.3" width="142" height="2.8" fill="#f46161"/><rect x="1482" y="576.8" width="142" height="2.8" fill="#f46a6a"/><rect x="1482" y="579.4" width="142" height="2.8" fill="#f46666"/><rect x="1482" y="581.9" width="142" height="2.8" fill="#f45b5b"/><rect x="1482" y="584.5" width="142" height="2.8" fill="#f45a5a"/><rect x="1482" y="587" width="142" height="2.8" fill="#f47979"/><rect x="1482" y="589.5" width="142" height="2.8" fill="#f46363"/><rect x="1482" y="592" width="142" height="2.8" fill="#f47a7a"/><rect x="1482" y="594.5" width="142" height="2.8" fill="#f47b7b"/><rect x="1482" y="597" width="142" height="2.8" fill="#f47b7b"/><rect x="1482" y="599.5" width="142" height="2.8" fill="#f47979"/><rect x="1482" y="602" width="142" height="2.8" fill="#f47e7e"/><rect x="1482" y="604.5" width="142" height="2.8" fill="#f47777"/><rect x="1482" y="607" width="142" height="2.8" fill="#f48080"/><rect x="1482" y="609.5" width="142" height="2.8" fill="#f46a6a"/><rect x="1482" y="612" width="142" height="2.8" fill="#f48383"/><rect x="1482" y="614.5" width="142" height="2.8" fill="#f47171"/><rect x="1482" y="617" width="142" height="2.8" fill="#f47f7f"/><rect x="1482" y="619.5" width="142" height="2.8" fill="#f47575"/><rect x="1482" y="622" width="142" height="2.8" fill="#f47676"/><rect x="1482" y="624.5" width="142" height="2.8" fill="#f47272"/><rect x="1482" y="627" width="142" height="2.9" fill="#f81717"/><rect x="1482" y="629.6" width="142" height="2.9" fill="#f80000"/><rect x="1482" y="632.2" width="142" height="2.9" fill="#f80000"/><rect x="1482" y="634.8" width="142" height="2.9" fill="#f80c0c"/><rect x="1482" y="637.4" width="142" height="2.9" fill="#f80d0d"/><rect x="1482" y="640" width="142" height="3" fill="#f43030"/><rect x="1482" y="642.7" width="142" height="3" fill="#f42626"/><rect x="1482" y="645.3" width="142" height="3" fill="#f42a2a"/><rect x="1482" y="648" width="142" height="2.8" fill="#f48181"/><rect x="1482" y="650.5" width="142" height="2.8" fill="#f46e6e"/><rect x="1482" y="653" width="142" height="2.8" fill="#f47e7e"/><rect x="1482" y="655.5" width="142" height="2.8" fill="#f47f7f"/><rect x="1482" y="658" width="142" height="2.8" fill="#f47979"/><rect x="1482" y="660.5" width="142" height="2.8" fill="#f46c6c"/><rect x="1482" y="663" width="142" height="2.8" fill="#f48b8b"/><rect x="1482" y="665.5" width="142" height="2.8" fill="#f47979"/><rect x="1482" y="668" width="142" height="2.8" fill="#f47a7a"/><rect x="1482" y="670.5" width="142" height="3" fill="#bcbcf4"/><rect x="1482" y="673.2" width="142" height="3" fill="#b7b7f4"/><rect x="1482" y="676" width="142" height="2.5" fill="#fae3e3"/><rect x="1482" y="678.2" width="142" height="2.5" fill="#fae8e8"/><rect x="1482" y="680.5" width="142" height="2.5" fill="#fadede"/><rect x="1482" y="682.8" width="142" height="2.5" fill="#fae7e7"/><rect x="1482" y="685" width="142" height="2.9" fill="#d3d3f4"/><rect x="1482" y="687.6" width="142" height="2.9" fill="#ccccf4"/><rect x="1482" y="690.2" width="142" height="2.9" fill="#c7c7f4"/><rect x="1482" y="692.8" width="142" height="2.9" fill="#d2d2f4"/><rect x="1482" y="695.4" width="142" height="2.9" fill="#d1d1f4"/><rect x="1482" y="698" width="142" height="2.7" fill="#fbfdfd"/><rect x="1482" y="700.4" width="142" height="2.7" fill="#fbecec"/><rect x="1482" y="702.9" width="142" height="2.7" fill="#fbe2e2"/><rect x="1482" y="705.3" width="142" height="2.7" fill="#fbfcfc"/><rect x="1482" y="707.7" width="142" height="2.7" fill="#fbf5f5"/><rect x="1482" y="710.1" width="142" height="2.7" fill="#fbf0f0"/><rect x="1482" y="712.6" width="142" height="2.7" fill="#fbf9f9"/><rect x="1482" y="715" width="142" height="2.9" fill="#0000ff"/><rect x="1482" y="717.6" width="142" height="2.9" fill="#0000ff"/><rect x="1482" y="720.3" width="142" height="2.9" fill="#1212ff"/><rect x="1482" y="722.9" width="142" height="2.9" fill="#0000ff"/><rect x="1482" y="725.6" width="142" height="2.9" fill="#0808ff"/><rect x="1482" y="728.2" width="142" height="2.9" fill="#0a0aff"/><rect x="1482" y="730.9" width="142" height="2.9" fill="#1212ff"/><rect x="1482" y="733.5" width="142" height="2.9" fill="#0d0df8"/><rect x="1482" y="736.1" width="142" height="2.9" fill="#0f0ff8"/><rect x="1482" y="738.6" width="142" height="2.9" fill="#0101f8"/><rect x="1482" y="741.2" width="142" height="2.9" fill="#0a0af8"/><rect x="1482" y="743.8" width="142" height="2.9" fill="#0000f8"/><rect x="1482" y="746.3" width="142" height="2.9" fill="#0404f8"/><rect x="1482" y="748.9" width="142" height="2.9" fill="#0a0af8"/><rect x="1482" y="751.4" width="142" height="2.9" fill="#0909f8"/><rect x="1482" y="754" width="142" height="2.6" fill="#3333f4"/><rect x="1482" y="756.3" width="142" height="2.6" fill="#4444f4"/><rect x="1482" y="758.7" width="142" height="2.6" fill="#2828f4"/><rect x="1482" y="761" width="142" height="2.7" fill="#0909f8"/><rect x="1482" y="763.4" width="142" height="2.7" fill="#0404f8"/><rect x="1482" y="765.9" width="142" height="2.7" fill="#0808f8"/><rect x="1482" y="768.3" width="142" height="2.7" fill="#0909f8"/><rect x="1482" y="770.7" width="142" height="2.7" fill="#1b1bf8"/><rect x="1482" y="773.1" width="142" height="2.7" fill="#0000f8"/><rect x="1482" y="775.6" width="142" height="2.7" fill="#1515f8"/><rect x="1482" y="778" width="142" height="2.5" fill="#3636f2"/><rect x="1482" y="780.2" width="142" height="2.5" fill="#2727f2"/><rect x="1482" y="782.5" width="142" height="2.5" fill="#2222f2"/><rect x="1482" y="784.8" width="142" height="2.5" fill="#1c1cf2"/><rect x="1482" y="787" width="142" height="2.7" fill="#3f3ff0"/><rect x="1482" y="789.4" width="142" height="2.7" fill="#5c5cf0"/><rect x="1482" y="791.9" width="142" height="2.7" fill="#3232f0"/><rect x="1482" y="794.3" width="142" height="2.7" fill="#4d4df0"/><rect x="1482" y="796.7" width="142" height="2.7" fill="#4141f0"/><rect x="1482" y="799.1" width="142" height="2.7" fill="#5b5bf0"/><rect x="1482" y="801.6" width="142" height="2.7" fill="#4b4bf0"/><rect x="1482" y="804" width="142" height="3" fill="#6363f0"/><rect x="1482" y="806.7" width="142" height="3" fill="#6b6bf0"/><rect x="1482" y="809.3" width="142" height="3" fill="#7272f0"/><rect x="1482" y="812" width="142" height="3" fill="#7171f0"/><rect x="1482" y="814.6" width="142" height="3" fill="#6767f0"/><rect x="1482" y="817.3" width="142" height="3" fill="#6d6df0"/><rect x="1482" y="819.9" width="142" height="3" fill="#6b6bf0"/><rect x="1482" y="822.6" width="142" height="2.8" fill="#9d9df2"/><rect x="1482" y="825.1" width="142" height="2.8" fill="#9b9bf2"/><rect x="1482" y="827.6" width="142" height="2.8" fill="#9a9af2"/><rect x="1482" y="830.1" width="142" height="2.8" fill="#9292f2"/><rect x="1482" y="832.6" width="142" height="2.8" fill="#a0a0f2"/><rect x="1482" y="835" width="142" height="2.8" fill="#9292f2"/><rect x="1482" y="837.5" width="142" height="2.8" fill="#9090f2"/><rect x="1482" y="840" width="142" height="2.8" fill="#9494f2"/><rect x="1482" y="842.5" width="142" height="2.8" fill="#9595f2"/><rect x="1482" y="845" width="142" height="2.7" fill="#b1b1f4"/><rect x="1482" y="847.4" width="142" height="2.7" fill="#a1a1f4"/><rect x="1482" y="849.8" width="142" height="2.7" fill="#c1c1f4"/><rect x="1482" y="852.2" width="142" height="2.7" fill="#babaf4"/><rect x="1482" y="854.6" width="142" height="2.7" fill="#c1c1f4"/><rect x="1482" y="857" width="142" height="2.7" fill="#b0b0f4"/><rect x="1482" y="859.4" width="142" height="2.7" fill="#bbbbf4"/><rect x="1482" y="861.8" width="142" height="2.7" fill="#b6b6f4"/><rect x="1482" y="864.2" width="142" height="2.7" fill="#b4b4f4"/><rect x="1482" y="866.6" width="142" height="2.7" fill="#c6c6f4"/><rect x="1482" y="869" width="142" height="2.7" fill="#9494f2"/><rect x="1482" y="871.4" width="142" height="2.7" fill="#a0a0f2"/><rect x="1482" y="873.9" width="142" height="2.7" fill="#8989f2"/><rect x="1482" y="876.3" width="142" height="2.7" fill="#a0a0f2"/><rect x="1482" y="878.7" width="142" height="2.7" fill="#9898f2"/><rect x="1482" y="881.1" width="142" height="2.7" fill="#9090f2"/><rect x="1482" y="883.6" width="142" height="2.7" fill="#9494f2"/><rect x="1482" y="886" width="142" height="3" fill="#6565f2"/><rect x="1482" y="888.8" width="142" height="3" fill="#6f6ff2"/><rect x="1482" y="891.5" width="142" height="3" fill="#7c7cf2"/><rect x="1482" y="894.2" width="142" height="3" fill="#6060f2"/><rect x="1482" y="897" width="142" height="2.6" fill="#1b1bf0"/><rect x="1482" y="899.3" width="142" height="2.6" fill="#1a1af0"/><rect x="1482" y="901.7" width="142" height="2.6" fill="#0909f0"/><rect x="1482" y="904" width="142" height="2.6" fill="#0101f0"/><rect x="1482" y="906.3" width="142" height="2.6" fill="#0202f0"/><rect x="1482" y="908.7" width="142" height="2.6" fill="#0303f0"/><rect x="1624" y="151" width="143" height="2.8" fill="#ded4f2"/><rect x="1624" y="153.5" width="143" height="2.8" fill="#dfd5f2"/><rect x="1624" y="156" width="143" height="2.8" fill="#f1e7f2"/><rect x="1624" y="158.5" width="143" height="2.9" fill="#cdcdf8"/><rect x="1624" y="161.1" width="143" height="2.9" fill="#e3e3f8"/><rect x="1624" y="163.8" width="143" height="2.9" fill="#cdcdf8"/><rect x="1624" y="166.4" width="143" height="2.9" fill="#efeff8"/><rect x="1624" y="169.1" width="143" height="2.9" fill="#e6e6f8"/><rect x="1624" y="171.7" width="143" height="2.9" fill="#f2f2f8"/><rect x="1624" y="174.4" width="143" height="2.9" fill="#dfdff8"/><rect x="1624" y="177" width="143" height="3" fill="#f8f4fc"/><rect x="1624" y="179.8" width="143" height="3" fill="#f8edf5"/><rect x="1624" y="182.5" width="143" height="3" fill="#f8e9f1"/><rect x="1624" y="185.2" width="143" height="3" fill="#f8f1f9"/><rect x="1624" y="188" width="143" height="2.9" fill="#f8c7c7"/><rect x="1624" y="190.6" width="143" height="2.9" fill="#f8d0d0"/><rect x="1624" y="193.2" width="143" height="2.9" fill="#f8dbdb"/><rect x="1624" y="195.8" width="143" height="2.9" fill="#f8d5d5"/><rect x="1624" y="198.4" width="143" height="2.9" fill="#f8d0d0"/><rect x="1624" y="201" width="143" height="2.9" fill="#f8eaea"/><rect x="1624" y="203.6" width="143" height="2.9" fill="#f8d5d5"/><rect x="1624" y="206.2" width="143" height="2.9" fill="#f8cece"/><rect x="1624" y="208.8" width="143" height="2.9" fill="#f8d6d6"/><rect x="1624" y="211.4" width="143" height="2.9" fill="#f8cfcf"/><rect x="1624" y="214" width="143" height="2.8" fill="#fbecf0"/><rect x="1624" y="216.5" width="143" height="2.8" fill="#fbecf0"/><rect x="1624" y="219" width="143" height="2.8" fill="#fbffff"/><rect x="1624" y="221.5" width="143" height="2.8" fill="#fbf0f4"/><rect x="1624" y="224" width="143" height="2.8" fill="#fbf2f6"/><rect x="1624" y="226.5" width="143" height="2.8" fill="#fbf7fb"/><rect x="1624" y="229" width="143" height="2.8" fill="#fbffff"/><rect x="1624" y="231.5" width="143" height="2.8" fill="#fbeef2"/><rect x="1624" y="234" width="143" height="2.8" fill="#fbeaee"/><rect x="1624" y="236.5" width="143" height="2.8" fill="#fbffff"/><rect x="1624" y="239" width="143" height="2.8" fill="#fbe1e5"/><rect x="1624" y="241.5" width="143" height="2.8" fill="#fbecf0"/><rect x="1624" y="244" width="143" height="2.6" fill="#a3a3f0"/><rect x="1624" y="246.3" width="143" height="2.6" fill="#b3b3f0"/><rect x="1624" y="248.7" width="143" height="2.6" fill="#9393f0"/><rect x="1624" y="251" width="143" height="2.7" fill="#bcbcf8"/><rect x="1624" y="253.4" width="143" height="2.7" fill="#dbdbf8"/><rect x="1624" y="255.9" width="143" height="2.7" fill="#cfcff8"/><rect x="1624" y="258.3" width="143" height="2.7" fill="#d0d0f8"/><rect x="1624" y="260.7" width="143" height="2.7" fill="#d9d9f8"/><rect x="1624" y="263.1" width="143" height="2.7" fill="#d6d6f8"/><rect x="1624" y="265.6" width="143" height="2.7" fill="#d7d7f8"/><rect x="1624" y="268" width="143" height="3" fill="#a4a4f4"/><rect x="1624" y="270.8" width="143" height="3" fill="#b5b5f4"/><rect x="1624" y="273.5" width="143" height="3" fill="#b7b7f4"/><rect x="1624" y="276.2" width="143" height="3" fill="#a8a8f4"/><rect x="1624" y="279" width="143" height="2.3" fill="#c3c3f4"/><rect x="1624" y="281" width="143" height="2.3" fill="#cfcff4"/><rect x="1624" y="283" width="143" height="2.8" fill="#f8b5af"/><rect x="1624" y="285.5" width="143" height="2.8" fill="#f8a6a0"/><rect x="1624" y="288.1" width="143" height="2.8" fill="#f8aba5"/><rect x="1624" y="290.6" width="143" height="2.8" fill="#f8bab4"/><rect x="1624" y="293.1" width="143" height="2.8" fill="#f8afa9"/><rect x="1624" y="295.6" width="143" height="2.8" fill="#f8ada7"/><rect x="1624" y="298.2" width="143" height="2.8" fill="#f8b2ac"/><rect x="1624" y="300.7" width="143" height="2.8" fill="#f8b0aa"/><rect x="1624" y="303.2" width="143" height="2.8" fill="#f8b0aa"/><rect x="1624" y="305.8" width="143" height="2.8" fill="#f89d97"/><rect x="1624" y="308.3" width="143" height="2.8" fill="#f8c1bb"/><rect x="1624" y="310.8" width="143" height="2.8" fill="#f8b2ac"/><rect x="1624" y="313.4" width="143" height="2.8" fill="#f8a7a1"/><rect x="1624" y="315.9" width="143" height="2.8" fill="#f8bab4"/><rect x="1624" y="318.4" width="143" height="2.8" fill="#f8b3ad"/><rect x="1624" y="320.9" width="143" height="2.8" fill="#f8b0aa"/><rect x="1624" y="323.5" width="143" height="2.8" fill="#f8bab4"/><rect x="1624" y="326" width="143" height="2.5" fill="#f6bfbf"/><rect x="1624" y="328.2" width="143" height="2.5" fill="#f6aeae"/><rect x="1624" y="330.5" width="143" height="2.5" fill="#f6b8b8"/><rect x="1624" y="332.8" width="143" height="2.5" fill="#f6bebe"/><rect x="1624" y="335" width="143" height="2.8" fill="#facece"/><rect x="1624" y="337.5" width="143" height="2.8" fill="#fad3d3"/><rect x="1624" y="340" width="143" height="2.8" fill="#fae0e0"/><rect x="1624" y="342.5" width="143" height="2.8" fill="#fac7c7"/><rect x="1624" y="345" width="143" height="2.8" fill="#fad5d5"/><rect x="1624" y="347.5" width="143" height="2.8" fill="#fae5e5"/><rect x="1624" y="350" width="143" height="2.8" fill="#fae2e2"/><rect x="1624" y="352.5" width="143" height="2.8" fill="#fadede"/><rect x="1624" y="355" width="143" height="2.8" fill="#fac5c5"/><rect x="1624" y="357.5" width="143" height="2.8" fill="#faf0f0"/><rect x="1624" y="360" width="143" height="2.8" fill="#fadede"/><rect x="1624" y="362.5" width="143" height="2.8" fill="#fae0e0"/><rect x="1624" y="365" width="143" height="2.8" fill="#fadddd"/><rect x="1624" y="367.5" width="143" height="2.8" fill="#fac7c7"/><rect x="1624" y="370" width="143" height="2.8" fill="#facaca"/><rect x="1624" y="372.5" width="143" height="2.8" fill="#facccc"/><rect x="1624" y="375" width="143" height="2.8" fill="#faebeb"/><rect x="1624" y="377.5" width="143" height="2.8" fill="#f05858"/><rect x="1624" y="380" width="143" height="2.8" fill="#f05e5e"/><rect x="1624" y="382.5" width="143" height="2.8" fill="#f05d5d"/><rect x="1624" y="385" width="143" height="2.8" fill="#f49696"/><rect x="1624" y="387.5" width="143" height="2.8" fill="#f49595"/><rect x="1624" y="390" width="143" height="2.8" fill="#f49393"/><rect x="1624" y="392.4" width="143" height="2.8" fill="#f48383"/><rect x="1624" y="394.9" width="143" height="2.8" fill="#f47171"/><rect x="1624" y="397.4" width="143" height="2.8" fill="#f49292"/><rect x="1624" y="399.9" width="143" height="2.8" fill="#f49393"/><rect x="1624" y="402.4" width="143" height="2.8" fill="#f49c9c"/><rect x="1624" y="404.9" width="143" height="2.8" fill="#f48f8f"/><rect x="1624" y="407.3" width="143" height="2.8" fill="#f48a8a"/><rect x="1624" y="409.8" width="143" height="2.8" fill="#f49494"/><rect x="1624" y="412.3" width="143" height="2.8" fill="#f48080"/><rect x="1624" y="414.8" width="143" height="2.8" fill="#f48686"/><rect x="1624" y="417.3" width="143" height="2.8" fill="#f48686"/><rect x="1624" y="419.8" width="143" height="2.8" fill="#f49393"/><rect x="1624" y="422.2" width="143" height="2.8" fill="#f4a5a5"/><rect x="1624" y="424.7" width="143" height="2.8" fill="#f49898"/><rect x="1624" y="427.2" width="143" height="2.8" fill="#f49b9b"/><rect x="1624" y="429.7" width="143" height="2.8" fill="#f49292"/><rect x="1624" y="432.2" width="143" height="2.8" fill="#f49393"/><rect x="1624" y="434.7" width="143" height="2.8" fill="#f48c8c"/><rect x="1624" y="437.1" width="143" height="2.8" fill="#f48d8d"/><rect x="1624" y="439.6" width="143" height="2.8" fill="#f47878"/><rect x="1624" y="442.1" width="143" height="2.8" fill="#f48484"/><rect x="1624" y="444.6" width="143" height="2.8" fill="#f48383"/><rect x="1624" y="447.1" width="143" height="2.8" fill="#f49898"/><rect x="1624" y="449.6" width="143" height="2.8" fill="#f49797"/><rect x="1624" y="452" width="143" height="2.8" fill="#f49b9b"/><rect x="1624" y="454.5" width="143" height="2.8" fill="#f4a0a0"/><rect x="1624" y="457" width="143" height="3" fill="#f05d5d"/><rect x="1624" y="459.8" width="143" height="3" fill="#f06b6b"/><rect x="1624" y="462.5" width="143" height="3" fill="#f07474"/><rect x="1624" y="465.2" width="143" height="3" fill="#f06060"/><rect x="1624" y="468" width="143" height="2.8" fill="#f48383"/><rect x="1624" y="470.5" width="143" height="2.8" fill="#f47676"/><rect x="1624" y="473" width="143" height="2.8" fill="#f46868"/><rect x="1624" y="475.5" width="143" height="2.8" fill="#f47979"/><rect x="1624" y="478" width="143" height="2.8" fill="#f47070"/><rect x="1624" y="480.5" width="143" height="2.8" fill="#f47979"/><rect x="1624" y="483" width="143" height="2.8" fill="#f47373"/><rect x="1624" y="485.5" width="143" height="2.8" fill="#f47b7b"/><rect x="1624" y="488" width="143" height="2.8" fill="#f46363"/><rect x="1624" y="490.5" width="143" height="2.8" fill="#f48d8d"/><rect x="1624" y="493" width="143" height="2.8" fill="#f27878"/><rect x="1624" y="495.5" width="143" height="2.8" fill="#f26666"/><rect x="1624" y="497.9" width="143" height="2.8" fill="#f26161"/><rect x="1624" y="500.4" width="143" height="2.8" fill="#f26a6a"/><rect x="1624" y="502.8" width="143" height="2.8" fill="#f27171"/><rect x="1624" y="505.3" width="143" height="2.8" fill="#f26e6e"/><rect x="1624" y="507.7" width="143" height="2.8" fill="#f26e6e"/><rect x="1624" y="510.2" width="143" height="2.8" fill="#f25656"/><rect x="1624" y="512.6" width="143" height="2.8" fill="#f25f5f"/><rect x="1624" y="515.1" width="143" height="2.8" fill="#f27777"/><rect x="1624" y="517.5" width="143" height="2.8" fill="#f26c6c"/><rect x="1624" y="520" width="143" height="2.7" fill="#f47171"/><rect x="1624" y="522.4" width="143" height="2.7" fill="#f47777"/><rect x="1624" y="524.9" width="143" height="2.7" fill="#f47272"/><rect x="1624" y="527.3" width="143" height="2.7" fill="#f47676"/><rect x="1624" y="529.8" width="143" height="2.7" fill="#f48c8c"/><rect x="1624" y="532.2" width="143" height="2.7" fill="#f47e7e"/><rect x="1624" y="534.6" width="143" height="2.7" fill="#f48b8b"/><rect x="1624" y="537.1" width="143" height="2.7" fill="#f48282"/><rect x="1624" y="539.5" width="143" height="2.7" fill="#f47171"/><rect x="1624" y="541.9" width="143" height="2.7" fill="#f47979"/><rect x="1624" y="544.4" width="143" height="2.7" fill="#f49797"/><rect x="1624" y="546.8" width="143" height="2.7" fill="#f47878"/><rect x="1624" y="549.2" width="143" height="2.7" fill="#f47575"/><rect x="1624" y="551.7" width="143" height="2.7" fill="#f48d8d"/><rect x="1624" y="554.1" width="143" height="2.7" fill="#f48181"/><rect x="1624" y="556.6" width="143" height="2.7" fill="#f48080"/><rect x="1624" y="559" width="143" height="2.9" fill="#f6bbbb"/><rect x="1624" y="561.6" width="143" height="2.9" fill="#f69a9a"/><rect x="1624" y="564.1" width="143" height="2.9" fill="#f6b0b0"/><rect x="1624" y="566.7" width="143" height="2.9" fill="#f6a1a1"/><rect x="1624" y="569.2" width="143" height="2.9" fill="#f69e9e"/><rect x="1624" y="571.8" width="143" height="2.9" fill="#f6a4a4"/><rect x="1624" y="574.4" width="143" height="2.9" fill="#f6b8b8"/><rect x="1624" y="576.9" width="143" height="2.9" fill="#f6abab"/><rect x="1624" y="579.5" width="143" height="2.9" fill="#f69999"/><rect x="1624" y="582.1" width="143" height="2.9" fill="#f6a1a1"/><rect x="1624" y="584.6" width="143" height="2.9" fill="#f6bcbc"/><rect x="1624" y="587.2" width="143" height="2.9" fill="#f6b6b6"/><rect x="1624" y="589.8" width="143" height="2.9" fill="#f6a1a1"/><rect x="1624" y="592.3" width="143" height="2.9" fill="#f6c5c5"/><rect x="1624" y="594.9" width="143" height="2.9" fill="#f6a8a8"/><rect x="1624" y="597.4" width="143" height="2.9" fill="#f6a0a0"/><rect x="1624" y="600" width="143" height="2.8" fill="#f8bfbf"/><rect x="1624" y="602.5" width="143" height="2.8" fill="#f8caca"/><rect x="1624" y="604.9" width="143" height="2.8" fill="#f8d0d0"/><rect x="1624" y="607.4" width="143" height="2.8" fill="#f8cbcb"/><rect x="1624" y="609.8" width="143" height="2.8" fill="#f8bcbc"/><rect x="1624" y="612.3" width="143" height="2.8" fill="#f8baba"/><rect x="1624" y="614.7" width="143" height="2.8" fill="#f8b1b1"/><rect x="1624" y="617.2" width="143" height="2.8" fill="#f8bfbf"/><rect x="1624" y="619.6" width="143" height="2.8" fill="#f8baba"/><rect x="1624" y="622.1" width="143" height="2.8" fill="#f8c3c3"/><rect x="1624" y="624.5" width="143" height="2.8" fill="#f8b3b3"/><rect x="1624" y="627" width="143" height="2.9" fill="#f43333"/><rect x="1624" y="629.6" width="143" height="2.9" fill="#f42f2f"/><rect x="1624" y="632.2" width="143" height="2.9" fill="#f42c2c"/><rect x="1624" y="634.8" width="143" height="2.9" fill="#f42c2c"/><rect x="1624" y="637.4" width="143" height="2.9" fill="#f42e2e"/><rect x="1624" y="640" width="143" height="3" fill="#f41414"/><rect x="1624" y="642.7" width="143" height="3" fill="#f42626"/><rect x="1624" y="645.3" width="143" height="3" fill="#f42121"/><rect x="1624" y="648" width="143" height="2.8" fill="#f42e2e"/><rect x="1624" y="650.5" width="143" height="2.8" fill="#f44141"/><rect x="1624" y="653" width="143" height="2.8" fill="#f43f3f"/><rect x="1624" y="655.5" width="143" height="2.8" fill="#f44b4b"/><rect x="1624" y="658" width="143" height="2.8" fill="#f43a3a"/><rect x="1624" y="660.5" width="143" height="2.8" fill="#f43a3a"/><rect x="1624" y="663" width="143" height="2.8" fill="#f43535"/><rect x="1624" y="665.5" width="143" height="2.8" fill="#f43d3d"/><rect x="1624" y="668" width="143" height="2.8" fill="#f44141"/><rect x="1624" y="670.5" width="143" height="2.7" fill="#1212f8"/><rect x="1624" y="672.9" width="143" height="2.7" fill="#0d0df8"/><rect x="1624" y="675.2" width="143" height="2.7" fill="#1616f8"/><rect x="1624" y="677.6" width="143" height="2.7" fill="#1111f8"/><rect x="1624" y="679.9" width="143" height="2.7" fill="#1313f8"/><rect x="1624" y="682.3" width="143" height="2.7" fill="#0606f8"/><rect x="1624" y="684.6" width="143" height="2.7" fill="#1212f8"/><rect x="1624" y="687" width="143" height="3" fill="#5656f4"/><rect x="1624" y="689.8" width="143" height="3" fill="#5757f4"/><rect x="1624" y="692.5" width="143" height="3" fill="#6262f4"/><rect x="1624" y="695.2" width="143" height="3" fill="#7676f4"/><rect x="1624" y="698" width="143" height="2.7" fill="#9696f4"/><rect x="1624" y="700.4" width="143" height="2.7" fill="#8c8cf4"/><rect x="1624" y="702.9" width="143" height="2.7" fill="#8a8af4"/><rect x="1624" y="705.3" width="143" height="2.7" fill="#9696f4"/><rect x="1624" y="707.7" width="143" height="2.7" fill="#9a9af4"/><rect x="1624" y="710.1" width="143" height="2.7" fill="#9898f4"/><rect x="1624" y="712.6" width="143" height="2.7" fill="#8a8af4"/><rect x="1624" y="715" width="143" height="2.8" fill="#7a7af4"/><rect x="1624" y="717.5" width="143" height="2.8" fill="#7575f4"/><rect x="1624" y="720" width="143" height="2.8" fill="#7575f4"/><rect x="1624" y="722.5" width="143" height="2.8" fill="#6f6ff4"/><rect x="1624" y="725" width="143" height="2.8" fill="#7575f4"/><rect x="1624" y="727.5" width="143" height="2.8" fill="#6262f4"/><rect x="1624" y="730" width="143" height="2.7" fill="#9494f4"/><rect x="1624" y="732.4" width="143" height="2.7" fill="#a4a4f4"/><rect x="1624" y="734.7" width="143" height="2.7" fill="#9797f4"/><rect x="1624" y="737.1" width="143" height="2.7" fill="#a6a6f4"/><rect x="1624" y="739.4" width="143" height="2.7" fill="#9393f4"/><rect x="1624" y="741.8" width="143" height="2.7" fill="#9c9cf4"/><rect x="1624" y="744.1" width="143" height="2.7" fill="#a4a4f4"/><rect x="1624" y="746.5" width="143" height="3.1" fill="#a5adf4"/><rect x="1624" y="749.3" width="143" height="3.1" fill="#a9b1f4"/><rect x="1624" y="752.1" width="143" height="3.1" fill="#c9d1f4"/><rect x="1624" y="754.9" width="143" height="3.1" fill="#a9b1f4"/><rect x="1624" y="757.7" width="143" height="1.8" fill="#f09090"/><rect x="1624" y="759.5" width="143" height="2.9" fill="#fbe7eb"/><rect x="1624" y="762.1" width="143" height="2.9" fill="#fbe8ec"/><rect x="1624" y="764.7" width="143" height="2.9" fill="#fbeef2"/><rect x="1624" y="767.3" width="143" height="2.9" fill="#fbeef2"/><rect x="1624" y="769.9" width="143" height="2.9" fill="#fbf8fc"/><rect x="1624" y="772.5" width="143" height="2.7" fill="#d0d0f6"/><rect x="1624" y="774.9" width="143" height="2.7" fill="#c4c4f6"/><rect x="1624" y="777.3" width="143" height="2.7" fill="#c4c4f6"/><rect x="1624" y="779.8" width="143" height="2.7" fill="#babaf6"/><rect x="1624" y="782.2" width="143" height="2.7" fill="#b9b9f6"/><rect x="1624" y="784.6" width="143" height="2.7" fill="#c0c0f6"/><rect x="1624" y="787" width="143" height="2.7" fill="#f5f5fa"/><rect x="1624" y="789.4" width="143" height="2.7" fill="#efeffa"/><rect x="1624" y="791.8" width="143" height="2.7" fill="#f6f6fa"/><rect x="1624" y="794.2" width="143" height="2.7" fill="#f8f8fa"/><rect x="1624" y="796.6" width="143" height="2.8" fill="#cecef6"/><rect x="1624" y="799.1" width="143" height="2.8" fill="#e5e5f6"/><rect x="1624" y="801.6" width="143" height="2.8" fill="#cbcbf6"/><rect x="1624" y="804.1" width="143" height="2.8" fill="#cacaf6"/><rect x="1624" y="806.6" width="143" height="2.8" fill="#ccccf6"/><rect x="1624" y="809" width="143" height="2.8" fill="#dcdcf6"/><rect x="1624" y="811.5" width="143" height="2.8" fill="#cfcff6"/><rect x="1624" y="814" width="143" height="2.8" fill="#c8c8f6"/><rect x="1624" y="816.5" width="143" height="2.8" fill="#d4d4f6"/><rect x="1624" y="819" width="143" height="2.8" fill="#fffffa"/><rect x="1624" y="821.5" width="143" height="2.8" fill="#f7f3fa"/><rect x="1624" y="823.9" width="143" height="2.8" fill="#f5f1fa"/><rect x="1624" y="826.4" width="143" height="2.8" fill="#fffffa"/><rect x="1624" y="828.9" width="143" height="2.8" fill="#fffefa"/><rect x="1624" y="831.3" width="143" height="2.8" fill="#fffefa"/><rect x="1624" y="833.8" width="143" height="2.8" fill="#f0ecfa"/><rect x="1624" y="836.3" width="143" height="2.8" fill="#fbf7fa"/><rect x="1624" y="838.7" width="143" height="2.8" fill="#fcf8fa"/><rect x="1624" y="841.2" width="143" height="2.8" fill="#e6e2fa"/><rect x="1624" y="843.7" width="143" height="2.8" fill="#fffffa"/><rect x="1624" y="846.1" width="143" height="2.8" fill="#f9f5fa"/><rect x="1624" y="848.6" width="143" height="2.8" fill="#fdedeb"/><rect x="1624" y="851.1" width="143" height="2.8" fill="#fdffff"/><rect x="1624" y="853.6" width="143" height="2.8" fill="#fdf1ef"/><rect x="1624" y="856.1" width="143" height="2.8" fill="#fde9e7"/><rect x="1624" y="858.6" width="143" height="2.8" fill="#fdefed"/><rect x="1624" y="861" width="143" height="2.8" fill="#fdf6f4"/><rect x="1624" y="863.5" width="143" height="2.8" fill="#fdf8f6"/><rect x="1624" y="866" width="143" height="2.8" fill="#fdefed"/><rect x="1624" y="868.5" width="143" height="2.8" fill="#fde7e5"/><rect x="1624" y="871" width="143" height="2.8" fill="#f8bdbd"/><rect x="1624" y="873.5" width="143" height="2.8" fill="#f8bcbc"/><rect x="1624" y="876.1" width="143" height="2.8" fill="#f8b9b9"/><rect x="1624" y="878.6" width="143" height="2.8" fill="#f8c4c4"/><rect x="1624" y="881.2" width="143" height="2.8" fill="#f8bfbf"/><rect x="1624" y="883.7" width="143" height="2.8" fill="#f8c5c5"/><rect x="1624" y="886.2" width="143" height="2.8" fill="#f8bcbc"/><rect x="1624" y="888.8" width="143" height="2.8" fill="#f8bbbb"/><rect x="1624" y="891.3" width="143" height="2.8" fill="#f8c2c2"/><rect x="1624" y="893.8" width="143" height="2.8" fill="#f8c0c0"/><rect x="1624" y="896.4" width="143" height="2.8" fill="#f8d0d0"/><rect x="1624" y="898.9" width="143" height="2.8" fill="#f8bbbb"/><rect x="1624" y="901.5" width="143" height="2.8" fill="#f8c6c6"/><rect x="1624" y="904" width="143" height="2.6" fill="#fce4e4"/><rect x="1624" y="906.3" width="143" height="2.6" fill="#fcd7d7"/><rect x="1624" y="908.7" width="143" height="2.6" fill="#fcebeb"/><rect x="1767" y="151" width="143" height="2.8" fill="#efe5f2"/><rect x="1767" y="153.5" width="143" height="2.8" fill="#d8cef2"/><rect x="1767" y="156" width="143" height="2.8" fill="#e2d8f2"/><rect x="1767" y="158.5" width="143" height="2.9" fill="#e5e5f8"/><rect x="1767" y="161.1" width="143" height="2.9" fill="#f3f3f8"/><rect x="1767" y="163.8" width="143" height="2.9" fill="#e4e4f8"/><rect x="1767" y="166.4" width="143" height="2.9" fill="#d3d3f8"/><rect x="1767" y="169.1" width="143" height="2.9" fill="#e7e7f8"/><rect x="1767" y="171.7" width="143" height="2.9" fill="#d8d8f8"/><rect x="1767" y="174.4" width="143" height="2.9" fill="#f0f0f8"/><rect x="1767" y="177" width="143" height="3" fill="#f8edf5"/><rect x="1767" y="179.8" width="143" height="3" fill="#f8ffff"/><rect x="1767" y="182.5" width="143" height="3" fill="#f8eff7"/><rect x="1767" y="185.2" width="143" height="3" fill="#f8e6ee"/><rect x="1767" y="188" width="143" height="2.9" fill="#f8c5c5"/><rect x="1767" y="190.6" width="143" height="2.9" fill="#f8d0d0"/><rect x="1767" y="193.2" width="143" height="2.9" fill="#f8d8d8"/><rect x="1767" y="195.8" width="143" height="2.9" fill="#f8e0e0"/><rect x="1767" y="198.4" width="143" height="2.9" fill="#f8d7d7"/><rect x="1767" y="201" width="143" height="2.9" fill="#f8cdcd"/><rect x="1767" y="203.6" width="143" height="2.9" fill="#f8d9d9"/><rect x="1767" y="206.2" width="143" height="2.9" fill="#f8c6c6"/><rect x="1767" y="208.8" width="143" height="2.9" fill="#f8d9d9"/><rect x="1767" y="211.4" width="143" height="2.9" fill="#f8cccc"/><rect x="1767" y="214" width="143" height="2.8" fill="#fbffff"/><rect x="1767" y="216.5" width="143" height="2.8" fill="#fbfafe"/><rect x="1767" y="219" width="143" height="2.8" fill="#fbf4f8"/><rect x="1767" y="221.5" width="143" height="2.8" fill="#fbe6ea"/><rect x="1767" y="224" width="143" height="2.8" fill="#fbf6fa"/><rect x="1767" y="226.5" width="143" height="2.8" fill="#fbf4f8"/><rect x="1767" y="229" width="143" height="2.8" fill="#fbebef"/><rect x="1767" y="231.5" width="143" height="2.8" fill="#fbeaee"/><rect x="1767" y="234" width="143" height="2.8" fill="#fbfdff"/><rect x="1767" y="236.5" width="143" height="2.8" fill="#fbecf0"/><rect x="1767" y="239" width="143" height="2.8" fill="#fbf4f8"/><rect x="1767" y="241.5" width="143" height="2.8" fill="#fbfeff"/><rect x="1767" y="244" width="143" height="2.6" fill="#8d8df0"/><rect x="1767" y="246.3" width="143" height="2.6" fill="#aeaef0"/><rect x="1767" y="248.7" width="143" height="2.6" fill="#a6a6f0"/><rect x="1767" y="251" width="143" height="2.7" fill="#cecef8"/><rect x="1767" y="253.4" width="143" height="2.7" fill="#cacaf8"/><rect x="1767" y="255.9" width="143" height="2.7" fill="#c8c8f8"/><rect x="1767" y="258.3" width="143" height="2.7" fill="#ddddf8"/><rect x="1767" y="260.7" width="143" height="2.7" fill="#babaf8"/><rect x="1767" y="263.1" width="143" height="2.7" fill="#ddddf8"/><rect x="1767" y="265.6" width="143" height="2.7" fill="#d6d6f8"/><rect x="1767" y="268" width="143" height="3" fill="#a1a1f4"/><rect x="1767" y="270.8" width="143" height="3" fill="#a3a3f4"/><rect x="1767" y="273.5" width="143" height="3" fill="#a4a4f4"/><rect x="1767" y="276.2" width="143" height="3" fill="#a6a6f4"/><rect x="1767" y="279" width="143" height="2.3" fill="#d1d1f4"/><rect x="1767" y="281" width="143" height="2.3" fill="#c0c0f4"/><rect x="1767" y="283" width="143" height="2.8" fill="#f8bbb5"/><rect x="1767" y="285.5" width="143" height="2.8" fill="#f8bab4"/><rect x="1767" y="288.1" width="143" height="2.8" fill="#f8ada7"/><rect x="1767" y="290.6" width="143" height="2.8" fill="#f8b6b0"/><rect x="1767" y="293.1" width="143" height="2.8" fill="#f8aba5"/><rect x="1767" y="295.6" width="143" height="2.8" fill="#f8b1ab"/><rect x="1767" y="298.2" width="143" height="2.8" fill="#f8b5af"/><rect x="1767" y="300.7" width="143" height="2.8" fill="#f8c3bd"/><rect x="1767" y="303.2" width="143" height="2.8" fill="#f8afa9"/><rect x="1767" y="305.8" width="143" height="2.8" fill="#f8aea8"/><rect x="1767" y="308.3" width="143" height="2.8" fill="#f8b0aa"/><rect x="1767" y="310.8" width="143" height="2.8" fill="#f8aea8"/><rect x="1767" y="313.4" width="143" height="2.8" fill="#f8a59f"/><rect x="1767" y="315.9" width="143" height="2.8" fill="#f8c3bd"/><rect x="1767" y="318.4" width="143" height="2.8" fill="#f8aaa4"/><rect x="1767" y="320.9" width="143" height="2.8" fill="#f8aaa4"/><rect x="1767" y="323.5" width="143" height="2.8" fill="#f8a9a3"/><rect x="1767" y="326" width="143" height="2.5" fill="#f6afaf"/><rect x="1767" y="328.2" width="143" height="2.5" fill="#f6c6c6"/><rect x="1767" y="330.5" width="143" height="2.5" fill="#f6c6c6"/><rect x="1767" y="332.8" width="143" height="2.5" fill="#f6b2b2"/><rect x="1767" y="335" width="143" height="2.8" fill="#fadbdb"/><rect x="1767" y="337.5" width="143" height="2.8" fill="#fad8d8"/><rect x="1767" y="340" width="143" height="2.8" fill="#facece"/><rect x="1767" y="342.5" width="143" height="2.8" fill="#fadfdf"/><rect x="1767" y="345" width="143" height="2.8" fill="#fad7d7"/><rect x="1767" y="347.5" width="143" height="2.8" fill="#faeded"/><rect x="1767" y="350" width="143" height="2.8" fill="#fad5d5"/><rect x="1767" y="352.5" width="143" height="2.8" fill="#facece"/><rect x="1767" y="355" width="143" height="2.8" fill="#fac6c6"/><rect x="1767" y="357.5" width="143" height="2.8" fill="#fac6c6"/><rect x="1767" y="360" width="143" height="2.8" fill="#fadede"/><rect x="1767" y="362.5" width="143" height="2.8" fill="#fadbdb"/><rect x="1767" y="365" width="143" height="2.8" fill="#facccc"/><rect x="1767" y="367.5" width="143" height="2.8" fill="#fac9c9"/><rect x="1767" y="370" width="143" height="2.8" fill="#fadbdb"/><rect x="1767" y="372.5" width="143" height="2.8" fill="#fad4d4"/><rect x="1767" y="375" width="143" height="2.8" fill="#fadada"/><rect x="1767" y="377.5" width="143" height="2.8" fill="#f06060"/><rect x="1767" y="380" width="143" height="2.8" fill="#f05858"/><rect x="1767" y="382.5" width="143" height="2.8" fill="#f04f4f"/><rect x="1767" y="385" width="143" height="2.8" fill="#f49191"/><rect x="1767" y="387.5" width="143" height="2.8" fill="#f49191"/><rect x="1767" y="390" width="143" height="2.8" fill="#f49292"/><rect x="1767" y="392.4" width="143" height="2.8" fill="#f49a9a"/><rect x="1767" y="394.9" width="143" height="2.8" fill="#f49999"/><rect x="1767" y="397.4" width="143" height="2.8" fill="#f48b8b"/><rect x="1767" y="399.9" width="143" height="2.8" fill="#f49696"/><rect x="1767" y="402.4" width="143" height="2.8" fill="#f47a7a"/><rect x="1767" y="404.9" width="143" height="2.8" fill="#f49797"/><rect x="1767" y="407.3" width="143" height="2.8" fill="#f49090"/><rect x="1767" y="409.8" width="143" height="2.8" fill="#f49a9a"/><rect x="1767" y="412.3" width="143" height="2.8" fill="#f49a9a"/><rect x="1767" y="414.8" width="143" height="2.8" fill="#f48787"/><rect x="1767" y="417.3" width="143" height="2.8" fill="#f48f8f"/><rect x="1767" y="419.8" width="143" height="2.8" fill="#f49b9b"/><rect x="1767" y="422.2" width="143" height="2.8" fill="#f48b8b"/><rect x="1767" y="424.7" width="143" height="2.8" fill="#f49191"/><rect x="1767" y="427.2" width="143" height="2.8" fill="#f48a8a"/><rect x="1767" y="429.7" width="143" height="2.8" fill="#f49696"/><rect x="1767" y="432.2" width="143" height="2.8" fill="#f49393"/><rect x="1767" y="434.7" width="143" height="2.8" fill="#f48888"/><rect x="1767" y="437.1" width="143" height="2.8" fill="#f48282"/><rect x="1767" y="439.6" width="143" height="2.8" fill="#f47a7a"/><rect x="1767" y="442.1" width="143" height="2.8" fill="#f49999"/><rect x="1767" y="444.6" width="143" height="2.8" fill="#f48b8b"/><rect x="1767" y="447.1" width="143" height="2.8" fill="#f48989"/><rect x="1767" y="449.6" width="143" height="2.8" fill="#f48b8b"/><rect x="1767" y="452" width="143" height="2.8" fill="#f48787"/><rect x="1767" y="454.5" width="143" height="2.8" fill="#f49797"/><rect x="1767" y="457" width="143" height="3" fill="#f06666"/><rect x="1767" y="459.8" width="143" height="3" fill="#f04949"/><rect x="1767" y="462.5" width="143" height="3" fill="#f06060"/><rect x="1767" y="465.2" width="143" height="3" fill="#f06161"/><rect x="1767" y="468" width="143" height="2.8" fill="#f47575"/><rect x="1767" y="470.5" width="143" height="2.8" fill="#f47979"/><rect x="1767" y="473" width="143" height="2.8" fill="#f48989"/><rect x="1767" y="475.5" width="143" height="2.8" fill="#f47b7b"/><rect x="1767" y="478" width="143" height="2.8" fill="#f48484"/><rect x="1767" y="480.5" width="143" height="2.8" fill="#f48282"/><rect x="1767" y="483" width="143" height="2.8" fill="#f46969"/><rect x="1767" y="485.5" width="143" height="2.8" fill="#f48a8a"/><rect x="1767" y="488" width="143" height="2.8" fill="#f47a7a"/><rect x="1767" y="490.5" width="143" height="2.8" fill="#f47575"/><rect x="1767" y="493" width="143" height="2.8" fill="#f27373"/><rect x="1767" y="495.5" width="143" height="2.8" fill="#f28181"/><rect x="1767" y="497.9" width="143" height="2.8" fill="#f26262"/><rect x="1767" y="500.4" width="143" height="2.8" fill="#f26363"/><rect x="1767" y="502.8" width="143" height="2.8" fill="#f26e6e"/><rect x="1767" y="505.3" width="143" height="2.8" fill="#f25858"/><rect x="1767" y="507.7" width="143" height="2.8" fill="#f25f5f"/><rect x="1767" y="510.2" width="143" height="2.8" fill="#f26b6b"/><rect x="1767" y="512.6" width="143" height="2.8" fill="#f27272"/><rect x="1767" y="515.1" width="143" height="2.8" fill="#f27070"/><rect x="1767" y="517.5" width="143" height="2.8" fill="#f27373"/><rect x="1767" y="520" width="143" height="2.7" fill="#f48b8b"/><rect x="1767" y="522.4" width="143" height="2.7" fill="#f47c7c"/><rect x="1767" y="524.9" width="143" height="2.7" fill="#f47d7d"/><rect x="1767" y="527.3" width="143" height="2.7" fill="#f47d7d"/><rect x="1767" y="529.8" width="143" height="2.7" fill="#f47d7d"/><rect x="1767" y="532.2" width="143" height="2.7" fill="#f48b8b"/><rect x="1767" y="534.6" width="143" height="2.7" fill="#f48989"/><rect x="1767" y="537.1" width="143" height="2.7" fill="#f46b6b"/><rect x="1767" y="539.5" width="143" height="2.7" fill="#f48585"/><rect x="1767" y="541.9" width="143" height="2.7" fill="#f47575"/><rect x="1767" y="544.4" width="143" height="2.7" fill="#f47575"/><rect x="1767" y="546.8" width="143" height="2.7" fill="#f48d8d"/><rect x="1767" y="549.2" width="143" height="2.7" fill="#f48e8e"/><rect x="1767" y="551.7" width="143" height="2.7" fill="#f48c8c"/><rect x="1767" y="554.1" width="143" height="2.7" fill="#f48787"/><rect x="1767" y="556.6" width="143" height="2.7" fill="#f49393"/><rect x="1767" y="559" width="143" height="2.9" fill="#f6a0a0"/><rect x="1767" y="561.6" width="143" height="2.9" fill="#f6b5b5"/><rect x="1767" y="564.1" width="143" height="2.9" fill="#f6a5a5"/><rect x="1767" y="566.7" width="143" height="2.9" fill="#f6a6a6"/><rect x="1767" y="569.2" width="143" height="2.9" fill="#f69b9b"/><rect x="1767" y="571.8" width="143" height="2.9" fill="#f6bcbc"/><rect x="1767" y="574.4" width="143" height="2.9" fill="#f6bebe"/><rect x="1767" y="576.9" width="143" height="2.9" fill="#f6b5b5"/><rect x="1767" y="579.5" width="143" height="2.9" fill="#f6a6a6"/><rect x="1767" y="582.1" width="143" height="2.9" fill="#f6aeae"/><rect x="1767" y="584.6" width="143" height="2.9" fill="#f6a1a1"/><rect x="1767" y="587.2" width="143" height="2.9" fill="#f6a9a9"/><rect x="1767" y="589.8" width="143" height="2.9" fill="#f6bcbc"/><rect x="1767" y="592.3" width="143" height="2.9" fill="#f6bdbd"/><rect x="1767" y="594.9" width="143" height="2.9" fill="#f6b3b3"/><rect x="1767" y="597.4" width="143" height="2.9" fill="#f6b4b4"/><rect x="1767" y="600" width="143" height="2.8" fill="#f8bfbf"/><rect x="1767" y="602.5" width="143" height="2.8" fill="#f8c4c4"/><rect x="1767" y="604.9" width="143" height="2.8" fill="#f8bebe"/><rect x="1767" y="607.4" width="143" height="2.8" fill="#f8c5c5"/><rect x="1767" y="609.8" width="143" height="2.8" fill="#f8baba"/><rect x="1767" y="612.3" width="143" height="2.8" fill="#f8caca"/><rect x="1767" y="614.7" width="143" height="2.8" fill="#f8bebe"/><rect x="1767" y="617.2" width="143" height="2.8" fill="#f8c2c2"/><rect x="1767" y="619.6" width="143" height="2.8" fill="#f8bfbf"/><rect x="1767" y="622.1" width="143" height="2.8" fill="#f8d0d0"/><rect x="1767" y="624.5" width="143" height="2.8" fill="#f8c9c9"/><rect x="1767" y="627" width="143" height="2.9" fill="#f43030"/><rect x="1767" y="629.6" width="143" height="2.9" fill="#f42f2f"/><rect x="1767" y="632.2" width="143" height="2.9" fill="#f43e3e"/><rect x="1767" y="634.8" width="143" height="2.9" fill="#f43939"/><rect x="1767" y="637.4" width="143" height="2.9" fill="#f43636"/><rect x="1767" y="640" width="143" height="3" fill="#f42222"/><rect x="1767" y="642.7" width="143" height="3" fill="#f43131"/><rect x="1767" y="645.3" width="143" height="3" fill="#f41f1f"/><rect x="1767" y="648" width="143" height="2.8" fill="#f44b4b"/><rect x="1767" y="650.5" width="143" height="2.8" fill="#f43737"/><rect x="1767" y="653" width="143" height="2.8" fill="#f43a3a"/><rect x="1767" y="655.5" width="143" height="2.8" fill="#f43f3f"/><rect x="1767" y="658" width="143" height="2.8" fill="#f43b3b"/><rect x="1767" y="660.5" width="143" height="2.8" fill="#f43737"/><rect x="1767" y="663" width="143" height="2.8" fill="#f43131"/><rect x="1767" y="665.5" width="143" height="2.8" fill="#f43939"/><rect x="1767" y="668" width="143" height="2.8" fill="#f43838"/><rect x="1767" y="670.5" width="143" height="2.8" fill="#1010f8"/><rect x="1767" y="673" width="143" height="2.8" fill="#1b1bf8"/><rect x="1767" y="675.5" width="143" height="2.8" fill="#1515f8"/><rect x="1767" y="678" width="143" height="2.5" fill="#4444f4"/><rect x="1767" y="680.2" width="143" height="2.5" fill="#3a3af4"/><rect x="1767" y="682.5" width="143" height="2.5" fill="#3d3df4"/><rect x="1767" y="684.8" width="143" height="2.5" fill="#3f3ff4"/><rect x="1767" y="687" width="143" height="3" fill="#6868f4"/><rect x="1767" y="689.8" width="143" height="3" fill="#6b6bf4"/><rect x="1767" y="692.5" width="143" height="3" fill="#5b5bf4"/><rect x="1767" y="695.2" width="143" height="3" fill="#6565f4"/><rect x="1767" y="698" width="143" height="2.7" fill="#8e8ef4"/><rect x="1767" y="700.4" width="143" height="2.7" fill="#9999f4"/><rect x="1767" y="702.9" width="143" height="2.7" fill="#9595f4"/><rect x="1767" y="705.3" width="143" height="2.7" fill="#8686f4"/><rect x="1767" y="707.7" width="143" height="2.7" fill="#9191f4"/><rect x="1767" y="710.1" width="143" height="2.7" fill="#9393f4"/><rect x="1767" y="712.6" width="143" height="2.7" fill="#8d8df4"/><rect x="1767" y="715" width="143" height="2.8" fill="#8585f4"/><rect x="1767" y="717.5" width="143" height="2.8" fill="#7b7bf4"/><rect x="1767" y="720" width="143" height="2.8" fill="#6b6bf4"/><rect x="1767" y="722.5" width="143" height="2.8" fill="#7b7bf4"/><rect x="1767" y="725" width="143" height="2.8" fill="#8080f4"/><rect x="1767" y="727.5" width="143" height="2.8" fill="#7070f4"/><rect x="1767" y="730" width="143" height="2.7" fill="#a7a7f4"/><rect x="1767" y="732.4" width="143" height="2.7" fill="#8484f4"/><rect x="1767" y="734.7" width="143" height="2.7" fill="#b5b5f4"/><rect x="1767" y="737.1" width="143" height="2.7" fill="#9292f4"/><rect x="1767" y="739.4" width="143" height="2.7" fill="#9b9bf4"/><rect x="1767" y="741.8" width="143" height="2.7" fill="#9d9df4"/><rect x="1767" y="744.1" width="143" height="2.7" fill="#9292f4"/><rect x="1767" y="746.5" width="143" height="3.1" fill="#b3bbf4"/><rect x="1767" y="749.3" width="143" height="3.1" fill="#a7aff4"/><rect x="1767" y="752.1" width="143" height="3.1" fill="#a3abf4"/><rect x="1767" y="754.9" width="143" height="3.1" fill="#99a1f4"/><rect x="1767" y="757.7" width="143" height="1.8" fill="#f09090"/><rect x="1767" y="759.5" width="143" height="2.9" fill="#fbf5f9"/><rect x="1767" y="762.1" width="143" height="2.9" fill="#fbfafe"/><rect x="1767" y="764.7" width="143" height="2.9" fill="#fbebef"/><rect x="1767" y="767.3" width="143" height="2.9" fill="#fbf0f4"/><rect x="1767" y="769.9" width="143" height="2.9" fill="#fbfeff"/><rect x="1767" y="772.5" width="143" height="2.7" fill="#ccccf6"/><rect x="1767" y="774.9" width="143" height="2.7" fill="#d4d4f6"/><rect x="1767" y="777.3" width="143" height="2.7" fill="#d2d2f6"/><rect x="1767" y="779.8" width="143" height="2.7" fill="#d0d0f6"/><rect x="1767" y="782.2" width="143" height="2.7" fill="#cecef6"/><rect x="1767" y="784.6" width="143" height="2.7" fill="#d4d4f6"/><rect x="1767" y="787" width="143" height="2.7" fill="#f1f1fa"/><rect x="1767" y="789.4" width="143" height="2.7" fill="#f0f0fa"/><rect x="1767" y="791.8" width="143" height="2.7" fill="#e7e7fa"/><rect x="1767" y="794.2" width="143" height="2.7" fill="#d9d9fa"/><rect x="1767" y="796.6" width="143" height="2.8" fill="#c7c7f6"/><rect x="1767" y="799.1" width="143" height="2.8" fill="#cdcdf6"/><rect x="1767" y="801.6" width="143" height="2.8" fill="#dbdbf6"/><rect x="1767" y="804.1" width="143" height="2.8" fill="#cdcdf6"/><rect x="1767" y="806.6" width="143" height="2.8" fill="#bcbcf6"/><rect x="1767" y="809" width="143" height="2.8" fill="#d7d7f6"/><rect x="1767" y="811.5" width="143" height="2.8" fill="#ddddf6"/><rect x="1767" y="814" width="143" height="2.8" fill="#d4d4f6"/><rect x="1767" y="816.5" width="143" height="2.8" fill="#d3d3f6"/><rect x="1767" y="819" width="143" height="2.8" fill="#fbf7fa"/><rect x="1767" y="821.5" width="143" height="2.8" fill="#f8f4fa"/><rect x="1767" y="823.9" width="143" height="2.8" fill="#fffffa"/><rect x="1767" y="826.4" width="143" height="2.8" fill="#f0ecfa"/><rect x="1767" y="828.9" width="143" height="2.8" fill="#f1edfa"/><rect x="1767" y="831.3" width="143" height="2.8" fill="#eae6fa"/><rect x="1767" y="833.8" width="143" height="2.8" fill="#f3effa"/><rect x="1767" y="836.3" width="143" height="2.8" fill="#f1edfa"/><rect x="1767" y="838.7" width="143" height="2.8" fill="#f2eefa"/><rect x="1767" y="841.2" width="143" height="2.8" fill="#faf6fa"/><rect x="1767" y="843.7" width="143" height="2.8" fill="#fffffa"/><rect x="1767" y="846.1" width="143" height="2.8" fill="#ebe7fa"/><rect x="1767" y="848.6" width="143" height="2.8" fill="#fdf2f0"/><rect x="1767" y="851.1" width="143" height="2.8" fill="#fde9e7"/><rect x="1767" y="853.6" width="143" height="2.8" fill="#fdeae8"/><rect x="1767" y="856.1" width="143" height="2.8" fill="#fdecea"/><rect x="1767" y="858.6" width="143" height="2.8" fill="#fdf4f2"/><rect x="1767" y="861" width="143" height="2.8" fill="#fde0de"/><rect x="1767" y="863.5" width="143" height="2.8" fill="#fdfffe"/><rect x="1767" y="866" width="143" height="2.8" fill="#fdf0ee"/><rect x="1767" y="868.5" width="143" height="2.8" fill="#fde9e7"/><rect x="1767" y="871" width="143" height="2.8" fill="#f8b4b4"/><rect x="1767" y="873.5" width="143" height="2.8" fill="#f8cfcf"/><rect x="1767" y="876.1" width="143" height="2.8" fill="#f8cbcb"/><rect x="1767" y="878.6" width="143" height="2.8" fill="#f8cdcd"/><rect x="1767" y="881.2" width="143" height="2.8" fill="#f8c6c6"/><rect x="1767" y="883.7" width="143" height="2.8" fill="#f8d6d6"/><rect x="1767" y="886.2" width="143" height="2.8" fill="#f8d4d4"/><rect x="1767" y="888.8" width="143" height="2.8" fill="#f8dada"/><rect x="1767" y="891.3" width="143" height="2.8" fill="#f8c8c8"/><rect x="1767" y="893.8" width="143" height="2.8" fill="#f8cece"/><rect x="1767" y="896.4" width="143" height="2.8" fill="#f8c1c1"/><rect x="1767" y="898.9" width="143" height="2.8" fill="#f8c6c6"/><rect x="1767" y="901.5" width="143" height="2.8" fill="#f8c1c1"/><rect x="1767" y="904" width="143" height="2.6" fill="#fce5e5"/><rect x="1767" y="906.3" width="143" height="2.6" fill="#fce5e5"/><rect x="1767" y="908.7" width="143" height="2.6" fill="#fce5e5"/><line x1="1921" y1="150" x2="1921" y2="911" stroke="#9aa6b0" stroke-width="1.5" stroke-dasharray="2 2"/><line x1="1409" y1="921" x2="1409" y2="935" stroke="#c0c0c0" stroke-width="1.5"/><line x1="1552.5" y1="921" x2="1552.5" y2="935" stroke="#c0c0c0" stroke-width="1.5"/><line x1="1695" y1="921" x2="1695" y2="935" stroke="#c0c0c0" stroke-width="1.5"/><line x1="1838" y1="921" x2="1838" y2="935" stroke="#c0c0c0" stroke-width="1.5"/><path d="M1300 175.6H1286V241.5H1296M1286 359.7H1245.5V598.8H1280M1286 208.5H1237V479.3H1245.5M1300 770H1266V839.3H1283M1309 729.9H1251V804.7H1266M1286 694.2H1208V767.3H1251M1237 343.9H1177.6V730.8H1208" fill="none" stroke="#000" stroke-width="1.8"/><path d="M1338 154.1H1330V155H1338M1338 153.3H1326.7V154.5H1330M1338 158.2H1322.3V159.7H1338M1322.3 159H1316.9V161.2H1338M1338 156.6H1316.6V160.1H1316.9M1338 162.7H1327.6V164.3H1338M1338 167.2H1322.4V168.5H1338M1322.4 167.9H1321.4V170.1H1338M1338 165.9H1320.6V169H1321.4M1327.6 163.5H1320.3V167.5H1320.6M1316.6 158.3H1312.5V165.5H1320.3M1326.7 153.9H1310.6V161.9H1312.5M1338 170.9H1328.1V171.7H1338M1328.1 171.3H1327.8V173.3H1338M1327.8 172.3H1327.6V174.9H1338M1310.6 157.9H1310.1V173.6H1327.6M1338 151.8H1307.6V165.8H1310.1M1307.6 158.8H1304.8V176.5H1338M1338 178.1H1323.1V179.7H1338M1338 186.1H1321.8V187.4H1338M1338 184.5H1320.9V186.8H1321.8M1338 188.8H1328.8V190.4H1338M1320.9 185.6H1319.8V189.6H1328.8M1338 182.9H1318.5V187.6H1319.8M1338 181.3H1317.6V185.2H1318.5M1338 194.4H1317.8V195.2H1338M1338 193.6H1316.5V194.8H1317.8M1338 192H1315.4V194.2H1316.5M1317.6 183.3H1308.1V193.1H1315.4M1323.1 178.9H1305.3V188.2H1308.1M1304.8 167.6H1300V183.5H1305.3M1338 200H1333.3V201.6H1338M1338 203.2H1321.1V204.3H1338M1321.1 203.7H1317.5V205.1H1338M1333.3 200.8H1315.9V204.4H1317.5M1338 209.7H1319.9V211.1H1338M1338 208.1H1318.5V210.4H1319.9M1338 206.5H1318V209.2H1318.5M1315.9 202.6H1312.1V207.8H1318M1338 198.4H1309.8V205.2H1312.1M1338 196.8H1308.9V201.8H1309.8M1338 212.5H1318.2V214.1H1338M1308.9 199.3H1306.8V213.3H1318.2M1338 215.7H1333.8V217.3H1338M1306.8 206.3H1306.2V216.5H1333.8M1338 221.4H1328.4V222.4H1338M1328.4 221.9H1326.1V223.8H1338M1338 220.5H1325.2V222.9H1326.1M1338 225.3H1332.7V226.4H1338M1332.7 225.8H1330.9V227.2H1338M1338 227.8H1320.2V228.7H1338M1320.2 228.3H1315.6V230H1338M1315.6 229.1H1313.5V231.3H1338M1330.9 226.5H1313.1V230.2H1313.5M1325.2 221.7H1311V228.4H1313.1M1338 232.9H1321.9V234.5H1338M1311 225H1309V233.7H1321.9M1338 218.9H1307.4V229.4H1309M1338 236.1H1323.8V237.7H1338M1307.4 224.1H1306.4V236.9H1323.8M1306.2 211.4H1300.6V230.5H1306.4M1338 240.9H1317.2V242.3H1338M1338 239.3H1316.3V241.6H1317.2M1338 245.3H1322.2V246.4H1338M1338 247.5H1326.5V248.7H1338M1322.2 245.8H1319.9V248.1H1326.5M1338 249.8H1334.9V251.4H1338M1319.9 247H1319V250.6H1334.9M1338 243.7H1317.6V248.8H1319M1316.3 240.5H1313.7V246.2H1317.6M1338 253H1325.3V254.6H1338M1313.7 243.3H1312.3V253.8H1325.3M1312.3 248.6H1310.7V256.2H1338M1338 257.5H1335.8V258.3H1338M1335.8 257.9H1335.7V258.6H1338M1338 257H1335.7V258.2H1335.7M1335.7 257.6H1335.7V258.6H1338M1335.7 258.1H1335.6V258.6H1338M1335.6 258.4H1335.6V258.6H1338M1335.6 258.5H1335.6V258.6H1338M1335.6 258.5H1335.5V258.6H1338M1335.5 258.6H1335.5V258.6H1338M1338 257H1335.4V258.6H1335.5M1335.4 257.8H1335.4V258.6H1338M1335.4 258.2H1335.4V258.6H1338M1335.4 258.4H1335.3V258.6H1338M1338 257H1335.3V258.5H1335.3M1335.3 257.7H1335.2V258.6H1338M1338 257H1335.2V258.2H1335.2M1338 257H1335.2V257.6H1335.2M1338 257H1335.1V257.3H1335.2M1335.1 257.1H1335.1V258.6H1338M1338 257H1335V257.9H1335.1M1338 257H1335V257.4H1335M1338 257H1334.9V257.2H1335M1334.9 257.1H1334.8V258.6H1338M1334.8 257.9H1329.5V258.6H1338M1310.7 252.4H1309.4V258.2H1329.5M1338 259.1H1335.3V259.9H1338M1335.3 259.5H1335.2V260.2H1338M1335.2 259.9H1335.2V260.2H1338M1335.2 260H1335.1V260.2H1338M1338 258.6H1335.1V260.1H1335.1M1335.1 259.4H1335V260.2H1338M1335 259.8H1335V260.2H1338M1335 260H1335V260.2H1338M1335 260.1H1334.6V260.2H1338M1334.6 260.1H1334.3V260.2H1338M1338 258.6H1332.6V260.2H1334.3M1332.6 259.4H1324.4V260.2H1338M1309.4 255.3H1307.2V259.8H1324.4M1338 262.1H1333.9V262.9H1338M1338 261.8H1332.7V262.5H1333.9M1338 261.6H1329.5V262.1H1332.7M1338 260.8H1328.4V261.9H1329.5M1307.2 257.6H1306V261.4H1328.4M1338 263.9H1334.7V264.7H1338M1334.7 264.3H1333.5V265H1338M1306 259.5H1303.8V264.6H1333.5M1300.6 220.9H1296V262H1303.8M1338 266.8H1335.1V267.6H1338M1338 266.3H1335.1V267.2H1335.1M1338 266.3H1335.1V266.8H1335.1M1335.1 266.5H1335V267.9H1338M1335 267.2H1335V267.9H1338M1338 266.3H1334.5V267.6H1335M1334.5 266.9H1334V267.9H1338M1338 266.3H1331.1V267.4H1334M1338 265.7H1323.6V266.9H1331.1M1338 268.2H1335V269H1338M1335 268.6H1334.9V269.5H1338M1334.9 269.1H1334.8V269.5H1338M1334.8 269.3H1333.8V269.5H1338M1323.6 266.3H1322.9V269.4H1333.8M1338 270H1335.4V270.8H1338M1338 269.5H1335.3V270.4H1335.4M1335.3 270H1335.3V271.1H1338M1338 269.5H1335.2V270.6H1335.3M1338 269.5H1335.2V270H1335.2M1335.2 269.8H1335.1V271.1H1338M1335.1 270.4H1335.1V271.1H1338M1335.1 270.8H1335.1V271.1H1338M1335.1 271H1335V271.1H1338M1335 271H1335V271.1H1338M1338 269.5H1334.9V271.1H1335M1338 269.5H1334.8V270.3H1334.9M1334.8 269.9H1333.8V271.1H1338M1338 269.5H1331.1V270.5H1333.8M1322.9 267.8H1322.1V270H1331.1M1338 272.9H1335V273.7H1338M1335 273.3H1334.9V274.2H1338M1334.9 273.8H1334.6V274.2H1338M1334.6 274H1330.2V274.2H1338M1338 271.8H1325.3V274.1H1330.2M1322.1 268.9H1320.4V273H1325.3M1338 274.6H1335.2V275.4H1338M1335.2 275H1335.1V275.8H1338M1338 274.2H1335.1V275.4H1335.1M1338 274.2H1335V274.8H1335.1M1338 274.2H1335V274.5H1335M1338 274.2H1334.4V274.3H1335M1338 274.2H1333.2V274.2H1334.4M1338 277.7H1333.6V278.5H1338M1338 276.6H1331.3V278.1H1333.6M1333.2 274.2H1331.2V277.4H1331.3M1320.4 270.9H1319.1V275.8H1331.2M1338 279.3H1335V280.1H1338M1335 279.7H1335V280.6H1338M1335 280.1H1335V280.6H1338M1338 279H1334.9V280.4H1335M1338 279H1331.6V279.7H1334.9M1338 279H1328.9V279.3H1331.6M1338 281.1H1321V282H1338M1338 282.7H1335.2V283.5H1338M1338 282.4H1335.2V283.1H1335.2M1338 282.4H1335.1V282.7H1335.2M1335.1 282.6H1335.1V284H1338M1338 282.4H1335V283.3H1335.1M1338 282.4H1335V282.8H1335M1338 282.4H1334.3V282.6H1335M1338 282.4H1333.6V282.5H1334.3M1333.6 282.4H1331.5V284H1338M1331.5 283.2H1328.7V284H1338M1328.7 283.6H1322.5V284.4H1338M1338 285.3H1328.7V286.1H1338M1322.5 284H1322.1V285.7H1328.7M1321 281.5H1312.7V284.8H1322.1M1328.9 279.1H1311.7V283.2H1312.7M1319.1 273.4H1307.3V281.2H1311.7M1338 286.8H1334.3V287.6H1338M1334.3 287.2H1333.4V288H1338M1333.4 287.6H1322.3V288H1338M1307.3 277.3H1305.1V287.8H1322.3M1338 288.5H1332.7V289.3H1338M1332.7 288.9H1326.6V289.6H1338M1305.1 282.5H1303.6V289.2H1326.6M1338 289.9H1333.3V290.7H1338M1338 289.6H1327.9V290.3H1333.3M1338 291.6H1335.1V292.4H1338M1335.1 292H1335.1V292.8H1338M1335.1 292.4H1335V292.8H1338M1335 292.6H1335V292.8H1338M1335 292.7H1334.7V292.8H1338M1338 291.2H1334.3V292.8H1334.7M1338 293.4H1335.3V294.2H1338M1335.3 293.8H1335.2V294.4H1338M1335.2 294.1H1335.2V294.4H1338M1335.2 294.2H1335.2V294.4H1338M1335.2 294.3H1335.1V294.4H1338M1338 292.8H1335.1V294.4H1335.1M1338 292.8H1335V293.6H1335.1M1335 293.2H1335V294.4H1338M1335 293.8H1334.8V294.4H1338M1338 292.8H1334.7V294.1H1334.8M1334.7 293.5H1331V294.4H1338M1338 294.9H1335.3V295.7H1338M1335.3 295.3H1335.2V296H1338M1338 294.4H1335.2V295.6H1335.2M1335.2 295H1335.2V296H1338M1335.2 295.5H1335.1V296H1338M1335.1 295.8H1335.1V296H1338M1338 294.4H1335V295.9H1335.1M1338 294.4H1335V295.1H1335M1338 294.4H1334.9V294.8H1335M1334.9 294.6H1334.8V296H1338M1334.8 295.3H1333.8V296H1338M1333.8 295.7H1332.8V296.5H1338M1338 297.2H1335.1V298H1338M1335.1 297.6H1335.1V298.5H1338M1335.1 298.1H1335V298.5H1338M1338 296.9H1335V298.3H1335M1335 297.6H1334.9V298.5H1338M1338 296.9H1334.8V298.1H1334.9M1334.8 297.5H1332.8V298.9H1338M1332.8 296.1H1332.4V298.2H1332.8M1338 299.8H1335V300.6H1338M1338 299.2H1335V300.2H1335M1335 299.7H1335V300.8H1338M1338 299.2H1334.5V300.2H1335M1338 299.2H1332V299.7H1334.5M1338 302.2H1335.4V303H1338M1338 301.8H1335.3V302.6H1335.4M1338 301.8H1335.3V302.2H1335.3M1335.3 302H1335.2V303.4H1338M1338 301.8H1335.2V302.7H1335.2M1335.2 302.2H1335.1V303.4H1338M1335.1 302.8H1335.1V303.4H1338M1335.1 303.1H1335.1V303.4H1338M1335.1 303.2H1335V303.4H1338M1335 303.3H1335V303.4H1338M1335 303.4H1334.6V303.4H1338M1338 301.8H1334.4V303.4H1334.6M1334.4 302.6H1331.9V303.4H1338M1338 301.8H1329.7V303H1331.9M1338 301.3H1324.5V302.4H1329.7M1332 299.5H1323.6V301.8H1324.5M1338 305.3H1335.1V306.1H1338M1338 305H1335.1V305.7H1335.1M1338 305H1335.1V305.4H1335.1M1335.1 305.2H1335V306.6H1338M1335 305.9H1335V306.6H1338M1338 305H1334.6V306.2H1335M1338 305H1334.2V305.6H1334.6M1334.2 305.3H1333.2V306.6H1338M1338 304.2H1329.4V305.9H1333.2M1323.6 300.7H1323.4V305.1H1329.4M1332.4 297.1H1323.1V302.9H1323.4M1331 293.9H1322.4V300H1323.1M1338 308.7H1335.6V309.5H1338M1335.6 309.1H1335.5V309.8H1338M1335.5 309.4H1335.5V309.8H1338M1338 308.2H1335.5V309.6H1335.5M1335.5 308.9H1335.4V309.8H1338M1338 308.2H1335.4V309.3H1335.4M1335.4 308.8H1335.3V309.8H1338M1335.3 309.3H1335.3V309.8H1338M1335.3 309.5H1335.3V309.8H1338M1335.3 309.7H1335.2V309.8H1338M1335.2 309.7H1335.2V309.8H1338M1335.2 309.8H1335.1V309.8H1338M1335.1 309.8H1335.1V309.8H1338M1335.1 309.8H1335V309.8H1338M1338 308.2H1335V309.8H1335M1338 308.2H1334.8V309H1335M1334.8 308.6H1334.7V309.8H1338M1338 308.2H1334.3V309.2H1334.7M1338 307.4H1333.1V308.7H1334.3M1322.4 297H1322.1V308H1333.1M1338 310.1H1334.8V310.9H1338M1334.8 310.5H1334.7V311.4H1338M1334.7 311H1328.9V312.2H1338M1322.1 302.5H1321.9V311.6H1328.9M1338 313.5H1334.9V314.3H1338M1338 313H1334.9V313.9H1334.9M1338 313H1334.6V313.5H1334.9M1334.6 313.2H1330.1V314.6H1338M1321.9 307H1321.5V313.9H1330.1M1338 315H1335.1V315.8H1338M1335.1 315.4H1335.1V316.2H1338M1338 314.6H1335V315.8H1335.1M1338 314.6H1335V315.2H1335M1338 314.6H1334.9V314.9H1335M1334.9 314.7H1334.2V316.2H1338M1321.5 310.5H1320.6V315.5H1334.2M1334.3 292H1320.1V313H1320.6M1327.9 290H1319.6V302.5H1320.1M1338 316.6H1334.9V317.4H1338M1338 316.2H1333.3V317H1334.9M1338 316.2H1331.7V316.6H1333.3M1331.7 316.4H1329.2V317.8H1338M1319.6 296.2H1318.1V317.1H1329.2M1338 318.2H1335.2V319H1338M1338 317.8H1335.1V318.6H1335.2M1338 317.8H1335.1V318.2H1335.1M1338 317.8H1335V318H1335.1M1338 317.8H1335V317.9H1335M1338 317.8H1334.9V317.8H1335M1338 317.8H1334.8V317.8H1334.9M1338 317.8H1334.3V317.8H1334.8M1334.3 317.8H1329V319.4H1338M1318.1 306.7H1317.6V318.6H1329M1338 320H1335.2V320.8H1338M1338 319.5H1335.1V320.4H1335.2M1338 319.5H1335.1V319.9H1335.1M1335.1 319.7H1335V321.1H1338M1338 319.5H1335V320.4H1335M1335 320H1334.9V321.1H1338M1338 319.5H1334.8V320.6H1334.9M1334.8 320H1334.6V321.1H1338M1334.6 320.6H1334.2V321.1H1338M1338 319.5H1332.9V320.9H1334.2M1338 323.1H1335.2V323.9H1338M1335.2 323.5H1335.1V324.2H1338M1338 322.6H1335.1V323.8H1335.1M1335.1 323.2H1335V324.2H1338M1338 322.6H1335V323.7H1335M1338 322.6H1335V323.1H1335M1335 322.9H1334.3V324.2H1338M1338 321.9H1332.4V323.5H1334.3M1332.9 320.2H1331.7V322.7H1332.4M1338 324.7H1335V325.5H1338M1338 324.2H1335V325.1H1335M1335 324.7H1334.9V325.8H1338M1338 324.2H1333.3V325.2H1334.9M1333.3 324.7H1327.1V326.1H1338M1338 327.2H1335.3V328H1338M1335.3 327.6H1335.3V328.3H1338M1338 326.7H1335.2V327.9H1335.3M1335.2 327.3H1335.2V328.3H1338M1335.2 327.8H1335.2V328.3H1338M1338 326.7H1335.1V328H1335.2M1338 326.7H1335.1V327.3H1335.1M1338 326.7H1335V327H1335.1M1335 326.8H1335V328.3H1338M1338 326.7H1334.9V327.5H1335M1334.9 327.1H1334.8V328.3H1338M1334.8 327.7H1334.5V328.3H1338M1338 326.7H1333.6V328H1334.5M1333.6 327.3H1332.3V328.3H1338M1338 326.5H1327.8V327.8H1332.3M1327.1 325.4H1324.3V327.1H1327.8M1338 329H1335V329.8H1338M1335 329.4H1334.9V330H1338M1338 328.4H1334.7V329.7H1334.9M1338 328.4H1334.4V329.1H1334.7M1338 328.3H1324.9V328.7H1334.4M1324.3 326.3H1322.7V328.5H1324.9M1338 330.3H1335.2V331.1H1338M1335.2 330.7H1335.2V331.6H1338M1335.2 331.2H1335.1V331.6H1338M1338 330H1335.1V331.4H1335.1M1338 330H1335.1V330.7H1335.1M1338 330H1335V330.4H1335.1M1335 330.2H1335V331.6H1338M1335 330.9H1334.8V331.6H1338M1338 330H1333.9V331.3H1334.8M1333.9 330.6H1333.1V331.6H1338M1338 333.4H1335V334.2H1338M1335 333.8H1335V334.7H1338M1335 334.3H1334.9V334.7H1338M1334.9 334.5H1334.8V334.7H1338M1338 332.4H1323.5V334.6H1334.8M1333.1 331.1H1322.3V333.5H1323.5M1338 335.1H1330.9V335.9H1338M1322.3 332.3H1321.5V335.5H1330.9M1322.7 327.4H1316.5V333.9H1321.5M1331.7 321.4H1315.9V330.6H1316.5M1317.6 312.6H1303.9V326H1315.9M1303.6 285.9H1292.1V319.3H1303.9M1338 336.8H1332.3V337.6H1338M1332.3 337.2H1330.4V337.9H1338M1338 338.4H1330.2V339.2H1338M1338 337.9H1325.3V338.8H1330.2M1338 339.8H1333.8V340.6H1338M1333.8 340.2H1326V341.1H1338M1338 343H1335.5V343.8H1338M1338 342.7H1335.5V343.4H1335.5M1338 342.7H1335.4V343.1H1335.5M1335.4 342.9H1335.4V344.3H1338M1335.4 343.6H1335.3V344.3H1338M1335.3 344H1335.3V344.3H1338M1338 342.7H1335.3V344.1H1335.3M1335.3 343.4H1335.2V344.3H1338M1335.2 343.9H1335.2V344.3H1338M1335.2 344.1H1335.1V344.3H1338M1335.1 344.2H1335.1V344.3H1338M1338 342.7H1335V344.3H1335.1M1338 342.7H1335V343.5H1335M1335 343.1H1334.9V344.3H1338M1334.9 343.7H1333V344.3H1338M1338 341.9H1330.8V344H1333M1338 344.8H1335V345.6H1338M1338 344.3H1335V345.2H1335M1338 344.3H1334.9V344.8H1335M1338 344.3H1334.7V344.5H1334.9M1334.7 344.4H1334.5V345.9H1338M1334.5 345.2H1328.8V345.9H1338M1338 346.3H1334.7V347.1H1338M1334.7 346.7H1334V347.5H1338M1334 347.1H1331V347.5H1338M1331 347.3H1323.7V348H1338M1338 348.9H1334.9V349.7H1338M1334.9 349.3H1334.4V350H1338M1334.4 349.7H1332.6V350H1338M1323.7 347.6H1322.8V349.9H1332.6M1328.8 345.5H1322.2V348.7H1322.8M1330.8 343H1321.4V347.1H1322.2M1338 350.3H1335V351.1H1338M1335 350.7H1335V351.6H1338M1335 351.2H1334.9V351.6H1338M1334.9 351.4H1334.4V351.6H1338M1334.4 351.5H1332.9V351.6H1338M1321.4 345.1H1320.8V351.6H1332.9M1338 352.1H1335.4V352.9H1338M1335.4 352.5H1335.4V353.2H1338M1338 351.6H1335.3V352.9H1335.4M1335.3 352.3H1335.3V353.2H1338M1335.3 352.7H1335.3V353.2H1338M1338 351.6H1335.2V353H1335.3M1338 351.6H1335.2V352.3H1335.2M1338 351.6H1335.1V352H1335.2M1338 351.6H1335.1V351.8H1335.1M1335.1 351.7H1335V353.2H1338M1335 352.5H1335V353.2H1338M1335 352.9H1334.9V353.2H1338M1334.9 353H1334.9V353.2H1338M1334.9 353.1H1334.8V353.2H1338M1338 351.6H1333.5V353.2H1334.8M1338 351.6H1331.7V352.4H1333.5M1331.7 352H1328.1V354H1338M1320.8 348.3H1319.8V353H1328.1M1326 340.7H1319.2V350.7H1319.8M1325.3 338.4H1318.9V345.7H1319.2M1338 355.2H1335V356H1338M1335 355.6H1335V356.4H1338M1335 356H1335V356.4H1338M1335 356.2H1334.8V356.4H1338M1338 354.8H1331.6V356.3H1334.8M1331.6 355.6H1327.2V356.4H1338M1318.9 342H1317.7V356H1327.2M1330.4 337.5H1315.8V349H1317.7M1338 356.7H1335V357.5H1338M1338 356.4H1334.9V357.1H1335M1338 356.4H1334.4V356.8H1334.9M1334.4 356.6H1327.1V358H1338M1338 358.3H1335.4V359.1H1338M1335.4 358.7H1335.3V359.6H1338M1335.3 359.2H1335.3V359.6H1338M1335.3 359.4H1335.3V359.6H1338M1335.3 359.5H1335.2V359.6H1338M1338 358H1335.2V359.6H1335.2M1338 358H1335.1V358.8H1335.2M1338 358H1335.1V358.4H1335.1M1338 358H1335V358.2H1335.1M1338 358H1335V358.1H1335M1335 358.1H1334.9V359.6H1338M1334.9 358.9H1334.9V359.6H1338M1334.9 359.2H1334.7V359.6H1338M1338 358H1334.4V359.4H1334.7M1338 358H1332.3V358.7H1334.4M1338 359.9H1335.3V360.7H1338M1338 359.6H1335.3V360.3H1335.3M1335.3 360H1335.3V361.2H1338M1338 359.6H1335.2V360.6H1335.3M1338 359.6H1335.2V360.1H1335.2M1338 359.6H1335.1V359.9H1335.2M1338 359.6H1335.1V359.8H1335.1M1338 359.6H1335V359.7H1335.1M1338 359.6H1335V359.7H1335M1335 359.6H1334.9V361.2H1338M1334.9 360.4H1334.3V361.2H1338M1334.3 360.8H1333.4V361.2H1338M1338 361.6H1330.2V362.4H1338M1338 363.2H1335.1V364H1338M1338 362.8H1335.1V363.6H1335.1M1335.1 363.2H1335V364.4H1338M1335 363.8H1335V364.4H1338M1338 362.8H1335V364.1H1335M1338 362.8H1334.9V363.5H1335M1334.9 363.2H1333.8V364.4H1338M1333.8 363.8H1333V364.4H1338M1338 366.3H1335.2V367.1H1338M1338 365.7H1335.1V366.7H1335.2M1335.1 366.2H1335.1V367.3H1338M1338 365.7H1335V366.8H1335.1M1338 365.7H1335V366.2H1335M1335 366H1335V367.3H1338M1335 366.6H1334.9V367.3H1338M1338 365.7H1334.1V367H1334.9M1338 365.7H1330V366.4H1334.1M1338 365H1328.8V366H1330M1338 367.6H1335.3V368.4H1338M1338 367.3H1335.3V368H1335.3M1338 367.3H1335.2V367.6H1335.3M1338 367.3H1335.2V367.5H1335.2M1338 367.3H1335.1V367.4H1335.2M1335.1 367.4H1335.1V368.9H1338M1335.1 368.1H1335V368.9H1338M1335 368.5H1335V368.9H1338M1338 367.3H1335V368.7H1335M1335 368H1332.4V368.9H1338M1328.8 365.5H1328.3V368.5H1332.4M1338 370.9H1335.1V371.7H1338M1335.1 371.3H1335.1V372.1H1338M1335.1 371.7H1335V372.1H1338M1335 371.9H1335V372.1H1338M1335 372H1334.9V372.1H1338M1338 369.7H1334.6V372.1H1334.9M1328.3 367H1327.9V370.9H1334.6M1338 372.4H1332.4V373.2H1338M1327.9 368.9H1327.5V372.8H1332.4M1338 374.3H1335.3V375.1H1338M1338 373.7H1335.3V374.7H1335.3M1335.3 374.2H1335.2V375.3H1338M1335.2 374.8H1335.2V375.3H1338M1335.2 375H1335.1V375.3H1338M1338 373.7H1335.1V375.2H1335.1M1335.1 374.4H1335V375.3H1338M1335 374.9H1335V375.3H1338M1335 375.1H1335V375.3H1338M1338 373.7H1334.9V375.2H1335M1327.5 370.9H1327.1V374.5H1334.9M1333 364.1H1326.9V372.7H1327.1M1330.2 362H1326.3V368.4H1326.9M1338 375.7H1334.9V376.5H1338M1338 375.3H1332.7V376.1H1334.9M1326.3 365.2H1325.6V375.7H1332.7M1338 377.4H1335.6V378.2H1338M1338 376.9H1335.6V377.8H1335.6M1338 376.9H1335.5V377.4H1335.6M1338 376.9H1335.5V377.1H1335.5M1335.5 377H1335.5V378.5H1338M1338 376.9H1335.4V377.8H1335.5M1338 376.9H1335.4V377.3H1335.4M1335.4 377.1H1335.3V378.5H1338M1335.3 377.8H1335.3V378.5H1338M1338 376.9H1335.3V378.2H1335.3M1335.3 377.5H1335.2V378.5H1338M1338 376.9H1335.2V378H1335.2M1335.2 377.5H1335.1V378.5H1338M1335.1 378H1335.1V378.5H1338M1335.1 378.3H1335V378.5H1338M1335 378.4H1335V378.5H1338M1338 376.9H1335V378.5H1335M1338 376.9H1334.8V377.7H1335M1338 376.9H1334.4V377.3H1334.8M1338 376.9H1333.5V377.1H1334.4M1333.5 377H1330.3V378.5H1338M1325.6 370.5H1325.4V377.8H1330.3M1338 378.9H1335V379.7H1338M1338 378.5H1335V379.3H1335M1335 378.9H1334.9V380.1H1338M1338 378.5H1334.8V379.5H1334.9M1338 378.5H1334.5V379H1334.8M1334.5 378.8H1334.1V380.9H1338M1325.4 374.1H1325.2V379.8H1334.1M1338 382H1334.2V382.8H1338M1334.2 382.4H1331.6V383.3H1338M1338 381.7H1328.9V382.9H1331.6M1325.2 377H1324.5V382.3H1328.9M1333.4 361H1323.4V379.6H1324.5M1338 383.7H1334.9V384.5H1338M1338 383.3H1333.7V384.1H1334.9M1323.4 370.3H1323.2V383.7H1333.7M1332.3 358.4H1322.1V377H1323.2M1338 385.3H1335V386.1H1338M1335 385.7H1335V386.5H1338M1338 384.9H1333.5V386.1H1335M1338 384.9H1331.5V385.5H1333.5M1322.1 367.7H1321.6V385.2H1331.5M1327.1 357.3H1320.9V376.5H1321.6M1338 386.9H1335.5V387.7H1338M1338 386.5H1335.5V387.3H1335.5M1338 386.5H1335.4V386.9H1335.5M1335.4 386.7H1335.4V388.1H1338M1335.4 387.4H1335.3V388.1H1338M1335.3 387.8H1335.3V388.1H1338M1338 386.5H1335.3V387.9H1335.3M1335.3 387.2H1335.2V388.1H1338M1335.2 387.7H1335.2V388.1H1338M1338 386.5H1335.1V387.9H1335.2M1338 386.5H1335.1V387.2H1335.1M1335.1 386.9H1335.1V388.1H1338M1338 386.5H1335V387.5H1335.1M1338 386.5H1335V387H1335M1335 386.8H1334.7V388.1H1338M1334.7 387.4H1333.4V388.1H1338M1338 386.5H1330.6V387.8H1333.4M1320.9 366.9H1320.4V387.1H1330.6M1315.8 343.3H1310.3V377H1320.4M1338 388.5H1335.1V389.3H1338M1338 388.1H1335V388.9H1335.1M1338 388.1H1335V388.5H1335M1338 388.1H1334.8V388.3H1335M1338 388.1H1334.6V388.2H1334.8M1334.6 388.2H1333.3V389.7H1338M1338 388.1H1331.4V388.9H1333.3M1331.4 388.5H1324.5V389.7H1338M1338 390.2H1336.1V391H1338M1338 389.7H1336.1V390.6H1336.1M1336.1 390.2H1336V391.3H1338M1338 389.7H1336V390.7H1336M1336 390.2H1336V391.3H1338M1336 390.8H1336V391.3H1338M1336 391H1335.9V391.3H1338M1338 389.7H1335.9V391.2H1335.9M1338 389.7H1335.9V390.5H1335.9M1338 389.7H1335.8V390.1H1335.9M1335.8 389.9H1335.8V391.3H1338M1335.8 390.6H1335.8V391.3H1338M1335.8 391H1335.7V391.3H1338M1335.7 391.1H1335.7V391.3H1338M1335.7 391.2H1335.7V391.3H1338M1335.7 391.3H1335.6V391.3H1338M1338 389.7H1335.6V391.3H1335.6M1335.6 390.5H1335.5V391.3H1338M1338 389.7H1335.5V390.9H1335.5M1338 389.7H1335.5V390.3H1335.5M1335.5 390H1335.4V391.3H1338M1338 389.7H1335.4V390.7H1335.4M1335.4 390.2H1335.4V391.3H1338M1338 389.7H1335.3V390.8H1335.4M1338 389.7H1335.3V390.2H1335.3M1335.3 390H1335.2V391.3H1338M1338 389.7H1335.2V390.6H1335.2M1335.2 390.2H1335.1V391.3H1338M1338 389.7H1335.1V390.8H1335.1M1338 389.7H1335.1V390.2H1335.1M1335.1 390H1335V391.3H1338M1335 390.6H1335V391.3H1338M1338 389.7H1334.8V391H1335M1338 389.7H1334.4V390.4H1334.8M1334.4 390H1334V391.3H1338M1338 393.4H1335.5V394.2H1338M1338 392.9H1335.4V393.8H1335.5M1335.4 393.4H1335.4V394.5H1338M1335.4 394H1335.3V394.5H1338M1335.3 394.2H1335.3V394.5H1338M1338 392.9H1335.3V394.4H1335.3M1335.3 393.6H1335.2V394.5H1338M1338 392.9H1335.2V394.1H1335.2M1338 392.9H1335.1V393.5H1335.2M1338 392.9H1335.1V393.2H1335.1M1335.1 393.1H1335V394.5H1338M1335 393.8H1335V394.5H1338M1335 394.2H1334.9V394.5H1338M1334.9 394.3H1334.7V394.5H1338M1334.7 394.4H1334.4V394.5H1338M1338 392.1H1331.1V394.5H1334.4M1338 396.4H1335.1V397.2H1338M1338 396.1H1335.1V396.8H1335.1M1338 396.1H1335V396.4H1335.1M1335 396.3H1335V397.7H1338M1338 396.1H1334.9V397H1335M1334.9 396.6H1334.8V397.7H1338M1338 396.1H1333.9V397.1H1334.8M1338 395.3H1332.4V396.6H1333.9M1338 398H1335.3V398.8H1338M1335.3 398.4H1335.3V399.3H1338M1335.3 398.8H1335.2V399.3H1338M1335.2 399.1H1335.2V399.3H1338M1338 397.7H1335.1V399.2H1335.2M1338 397.7H1335.1V398.5H1335.1M1335.1 398.1H1335V399.3H1338M1338 397.7H1335V398.7H1335M1338 397.7H1335V398.2H1335M1338 397.7H1334.8V398H1335M1334.8 397.8H1332.5V399.3H1338M1338 399.6H1335.1V400.4H1338M1338 399.3H1335.1V400H1335.1M1335.1 399.7H1335V400.9H1338M1335 400.3H1335V400.9H1338M1338 399.3H1334.9V400.6H1335M1338 399.3H1334.5V400H1334.9M1338 399.3H1333.6V399.6H1334.5M1338 399.3H1331.2V399.5H1333.6M1338 401.4H1334.9V402.2H1338M1334.9 401.8H1333.5V402.5H1338M1338 400.9H1331.5V402.2H1333.5M1331.5 401.5H1328.7V403.3H1338M1331.2 399.4H1328V402.4H1328.7M1338 404.6H1330.5V405.4H1338M1328 400.9H1327.3V405H1330.5M1332.5 398.6H1327.1V403H1327.3M1338 406H1335V406.8H1338M1335 406.4H1335V407.3H1338M1335 406.8H1334.9V407.3H1338M1338 405.7H1334.7V407.1H1334.9M1334.7 406.4H1332.9V407.3H1338M1327.1 400.8H1326.9V406.9H1332.9M1332.4 396H1326.7V403.8H1326.9M1338 407.6H1335V408.4H1338M1338 407.3H1334.8V408H1335M1338 407.3H1332.9V407.7H1334.8M1326.7 399.9H1326.3V407.5H1332.9M1331.1 393.3H1325.5V403.7H1326.3M1334 390.7H1324.5V398.5H1325.5M1338 409.3H1332V410.1H1338M1338 411.6H1335V412.4H1338M1335 412H1334.8V412.7H1338M1338 411.1H1333.8V412.3H1334.8M1338 410.8H1326.9V411.7H1333.8M1332 409.7H1326.6V411.2H1326.9M1338 414.7H1335.3V415.5H1338M1335.3 415.1H1335.3V415.9H1338M1335.3 415.5H1335.2V415.9H1338M1335.2 415.7H1335.2V415.9H1338M1338 414.3H1335.1V415.8H1335.2M1338 414.3H1335.1V415H1335.1M1335.1 414.6H1335V415.9H1338M1335 415.3H1335V415.9H1338M1335 415.6H1335V415.9H1338M1338 414.3H1334.8V415.7H1335M1334.8 415H1334.3V415.9H1338M1338 413.5H1332.5V415.4H1334.3M1326.6 410.5H1326.4V414.4H1332.5M1338 416.3H1334.8V417.1H1338M1338 415.9H1334.5V416.7H1334.8M1334.5 416.3H1333.6V417.5H1338M1333.6 416.9H1329V417.7H1338M1329 417.3H1328.2V418.7H1338M1338 419.8H1334.9V420.6H1338M1338 419.5H1332.9V420.2H1334.9M1328.2 418H1328V419.8H1332.9M1338 421.5H1334.5V422.3H1338M1334.5 421.9H1331.5V422.7H1338M1328 418.9H1327.8V422.3H1331.5M1326.4 412.5H1323.3V420.6H1327.8M1324.5 394.6H1317V416.5H1323.3M1324.5 389.1H1316.2V405.6H1317M1310.3 360.1H1301.7V397.3H1316.2M1338 423.2H1329.7V424H1338M1329.7 423.6H1325.3V424.3H1338M1338 424.8H1334.8V425.6H1338M1338 424.3H1334.6V425.2H1334.8M1338 427.9H1335V428.7H1338M1335 428.3H1335V429.1H1338M1335 428.7H1334.9V429.1H1338M1334.9 428.9H1334.9V429.1H1338M1334.9 429H1334.1V429.1H1338M1338 426.7H1330.6V429H1334.1M1334.6 424.7H1330.5V427.9H1330.6M1338 429.4H1335V430.2H1338M1335 429.8H1335V430.7H1338M1335 430.3H1334.9V430.7H1338M1334.9 430.5H1334.7V430.7H1338M1338 429.1H1334.2V430.6H1334.7M1338 431H1335.2V431.8H1338M1338 430.7H1335.2V431.4H1335.2M1338 430.7H1335.1V431H1335.2M1338 430.7H1335.1V430.9H1335.1M1335.1 430.8H1335V432.3H1338M1338 430.7H1335V431.5H1335M1335 431.1H1335V432.3H1338M1335 431.7H1329.1V432.3H1338M1338 433.2H1335V434H1338M1338 432.8H1335V433.6H1335M1338 432.8H1334.6V433.2H1335M1338 432.8H1334.3V433H1334.6M1334.3 432.9H1333.1V434.4H1338M1333.1 433.7H1330V434.4H1338M1338 432.6H1324.5V434H1330M1329.1 432H1324.2V433.3H1324.5M1338 434.9H1335.2V435.7H1338M1338 434.4H1335.2V435.3H1335.2M1338 434.4H1335.1V434.9H1335.2M1335.1 434.6H1335.1V436H1338M1335.1 435.3H1335V436H1338M1335 435.7H1335V436H1338M1338 434.4H1334.4V435.8H1335M1338 434.4H1333V435.1H1334.4M1333 434.8H1317.9V436.7H1338M1324.2 432.6H1315.8V435.7H1317.9M1338 437.9H1335.6V438.7H1338M1335.6 438.3H1335.6V439H1338M1335.6 438.7H1335.5V439H1338M1338 437.4H1335.5V438.8H1335.5M1335.5 438.1H1335.4V439H1338M1335.4 438.6H1335.4V439H1338M1338 437.4H1335.4V438.8H1335.4M1335.4 438.1H1335.3V439H1338M1338 437.4H1335.3V438.5H1335.3M1338 437.4H1335.2V438H1335.3M1335.2 437.7H1335.2V439H1338M1335.2 438.3H1335.2V439H1338M1335.2 438.7H1335.1V439H1338M1338 437.4H1335.1V438.8H1335.1M1338 437.4H1335V438.1H1335.1M1338 437.4H1335V437.8H1335M1335 437.6H1334.9V439H1338M1338 437.4H1334.3V438.3H1334.9M1334.3 437.8H1332.5V439H1338M1315.8 434.2H1315.2V438.4H1332.5M1338 441H1334.4V441.8H1338M1338 439.8H1329.3V441.4H1334.4M1338 442.7H1335.2V443.5H1338M1338 442.2H1335.2V443.1H1335.2M1338 442.2H1335.1V442.6H1335.2M1335.1 442.4H1335.1V443.8H1338M1338 442.2H1335V443.1H1335.1M1338 442.2H1335V442.7H1335M1338 442.2H1335V442.4H1335M1335 442.3H1334.8V443.8H1338M1334.8 443.1H1334.7V443.8H1338M1334.7 443.4H1333.2V443.8H1338M1329.3 440.6H1329.1V443.6H1333.2M1315.2 436.3H1313.7V442.1H1329.1M1334.2 429.8H1312.8V439.2H1313.7M1338 444.1H1335.1V444.9H1338M1338 443.8H1335V444.5H1335.1M1335 444.2H1335V445.4H1338M1338 443.8H1334.9V444.8H1335M1334.9 444.3H1334.6V445.4H1338M1338 443.8H1334V444.8H1334.6M1334 444.3H1332.1V445.4H1338M1338 443.8H1321.5V444.9H1332.1M1312.8 434.5H1310.4V444.3H1321.5M1338 445.8H1335.1V446.6H1338M1338 445.4H1335V446.2H1335.1M1335 445.8H1335V447H1338M1338 445.4H1334.9V446.4H1335M1334.9 445.9H1334.1V447H1338M1310.4 439.4H1309.6V446.5H1334.1M1330.5 426.3H1309V442.9H1309.6M1338 448.5H1335.3V449.3H1338M1335.3 448.9H1335.3V449.6H1338M1335.3 449.2H1335.3V449.6H1338M1335.3 449.4H1335.2V449.6H1338M1338 448H1335.2V449.5H1335.2M1335.2 448.8H1335.1V449.6H1338M1335.1 449.2H1335.1V449.6H1338M1335.1 449.4H1335V449.6H1338M1338 448H1335V449.5H1335M1338 448H1335V448.8H1335M1335 448.4H1334.8V449.6H1338M1334.8 449H1327.8V449.9H1338M1338 447.5H1323.1V449.5H1327.8M1309 434.6H1307.7V448.5H1323.1M1325.3 423.9H1307.2V441.6H1307.7M1338 450.8H1335.3V451.6H1338M1335.3 451.2H1335.2V451.9H1338M1335.2 451.6H1335.2V451.9H1338M1338 450.3H1335.2V451.8H1335.2M1335.2 451.1H1335.1V451.9H1338M1338 450.3H1335.1V451.5H1335.1M1338 450.3H1335V450.9H1335.1M1338 450.3H1335V450.6H1335M1338 450.3H1334.9V450.5H1335M1338 450.3H1334.7V450.4H1334.9M1334.7 450.4H1334.1V451.9H1338M1338 450.3H1333.2V451.2H1334.1M1333.2 450.7H1332.9V452.7H1338M1338 453.8H1335V454.6H1338M1338 453.4H1334.9V454.2H1335M1334.9 453.8H1334.8V455H1338M1334.8 454.4H1333.7V455H1338M1338 453.4H1331.3V454.7H1333.7M1338 455.6H1335.2V456.4H1338M1335.2 456H1335.1V456.6H1338M1338 455H1335.1V456.3H1335.1M1338 455H1335V455.6H1335.1M1338 455H1335V455.3H1335M1335 455.2H1334.3V456.6H1338M1338 458.1H1332.3V458.9H1338M1338 457.1H1329.4V458.5H1332.3M1334.3 455.9H1329.2V457.8H1329.4M1338 461.1H1335.3V461.9H1338M1338 460.9H1335.2V461.5H1335.3M1335.2 461.2H1335.2V462.5H1338M1338 460.9H1335.1V461.8H1335.2M1338 460.9H1335.1V461.4H1335.1M1335.1 461.1H1335.1V462.5H1338M1338 460.9H1335V461.8H1335.1M1338 460.9H1335V461.3H1335M1338 460.9H1334.6V461.1H1335M1338 460.1H1331.6V461H1334.6M1329.2 456.8H1329V460.5H1331.6M1331.3 454.1H1328.8V458.7H1329M1332.9 451.7H1328.3V456.4H1328.8M1338 463.7H1335.1V464.5H1338M1338 463.2H1335.1V464.1H1335.1M1338 463.2H1335V463.7H1335.1M1338 463.2H1335V463.5H1335M1338 463.2H1334.9V463.3H1335M1338 463.2H1334.5V463.3H1334.9M1338 462.9H1329.4V463.3H1334.5M1338 465.1H1334.9V465.9H1338M1338 464.8H1334.8V465.5H1334.9M1334.8 465.2H1334.6V466.4H1338M1334.6 465.8H1334.3V466.4H1338M1329.4 463.1H1329.2V466.1H1334.3M1338 466.8H1335.1V467.6H1338M1335.1 467.2H1335V468H1338M1335 467.6H1335V468H1338M1335 467.8H1335V468H1338M1335 467.9H1334.7V468H1338M1334.7 468H1333.8V468.8H1338M1329.2 464.6H1329.1V468.4H1333.8M1328.3 454H1325.4V466.5H1329.1M1338 470.2H1335.1V471H1338M1335.1 470.6H1335V471.2H1338M1338 469.6H1335V470.9H1335M1335 470.3H1334.9V471.2H1338M1334.9 470.8H1334.7V471.2H1338M1334.7 471H1330.4V471.2H1338M1325.4 460.3H1324.6V471.1H1330.4M1338 471.7H1335V472.5H1338M1338 471.2H1334.7V472.1H1335M1338 471.2H1334.5V471.7H1334.7M1338 471.2H1332.7V471.5H1334.5M1332.7 471.3H1328.4V472.8H1338M1324.6 465.7H1323.7V472.1H1328.4M1338 473.2H1335.1V474H1338M1335.1 473.6H1335V474.4H1338M1335 474H1335V474.4H1338M1335 474.2H1334.7V474.4H1338M1334.7 474.3H1334.4V474.4H1338M1334.4 474.4H1330.8V475.2H1338M1338 476.3H1335V477.1H1338M1335 476.7H1335V477.6H1338M1338 476H1334.9V477.2H1335M1338 476H1334.7V476.6H1334.9M1334.7 476.3H1334.3V477.6H1338M1330.8 474.8H1330.6V477H1334.3M1338 478.1H1333.5V478.9H1338M1333.5 478.5H1332.5V479.6H1338M1338 480.3H1335.7V481.1H1338M1335.7 480.7H1335.7V481.6H1338M1338 480H1335.6V481.2H1335.7M1335.6 480.6H1335.6V481.6H1338M1335.6 481.1H1335.6V481.6H1338M1338 480H1335.5V481.4H1335.6M1335.5 480.7H1335.5V481.6H1338M1335.5 481.1H1335.5V481.6H1338M1338 480H1335.4V481.4H1335.5M1335.4 480.7H1335.4V481.6H1338M1335.4 481.1H1335.3V481.6H1338M1338 480H1335.3V481.4H1335.3M1338 480H1335.3V480.7H1335.3M1338 480H1335.2V480.3H1335.3M1338 480H1335.2V480.2H1335.2M1335.2 480.1H1335.1V481.6H1338M1338 480H1335.1V480.8H1335.1M1338 480H1335.1V480.4H1335.1M1338 480H1335V480.2H1335.1M1335 480.1H1335V481.6H1338M1338 480H1334.9V480.9H1335M1334.9 480.4H1334.8V481.6H1338M1338 480H1334.5V481H1334.8M1334.5 480.5H1332.9V482H1338M1332.5 479H1331.2V481.3H1332.9M1338 482.7H1335V483.5H1338M1338 482.4H1335V483.1H1335M1335 482.8H1334.9V484H1338M1334.9 483.4H1334.5V484H1338M1338 482.4H1333.6V483.7H1334.5M1338 484.6H1335.2V485.4H1338M1335.2 485H1335.1V485.6H1338M1338 484H1335.1V485.3H1335.1M1335.1 484.7H1335V485.6H1338M1338 484H1335V485.2H1335M1338 484H1334.2V484.6H1335M1338 486H1334.5V486.8H1338M1338 487.8H1335V488.6H1338M1335 488.2H1335V489.1H1338M1338 487.5H1334.9V488.7H1335M1338 487.5H1334.8V488.1H1334.9M1334.8 487.8H1332.2V489.1H1338M1338 487.4H1329.7V488.5H1332.2M1334.5 486.4H1329.5V487.9H1329.7M1334.2 484.3H1329.4V487.1H1329.5M1333.6 483.1H1329.1V485.7H1329.4M1338 489.6H1335V490.4H1338M1335 490H1335V490.7H1338M1338 489.1H1335V490.4H1335M1335 489.7H1334.6V490.7H1338M1334.6 490.2H1333.3V490.7H1338M1329.1 484.4H1328.7V490.5H1333.3M1338 491H1334.9V491.8H1338M1334.9 491.4H1334.5V492.3H1338M1338 490.7H1331.9V491.9H1334.5M1331.9 491.3H1329.2V493H1338M1338 493.9H1335.2V494.7H1338M1338 493.6H1335.2V494.3H1335.2M1338 493.6H1335.1V494H1335.2M1335.1 493.8H1335.1V495.2H1338M1338 493.6H1335V494.5H1335.1M1338 493.6H1335V494H1335M1335 493.8H1334.9V495.2H1338M1338 493.6H1334.4V494.5H1334.9M1329.2 492.1H1328.8V494.1H1334.4M1338 495.6H1335V496.4H1338M1335 496H1334.8V496.8H1338M1334.8 496.4H1334.6V496.8H1338M1334.6 496.6H1333.5V496.8H1338M1328.8 493.1H1328.4V496.7H1333.5M1328.7 487.4H1323.9V494.9H1328.4M1331.2 480.2H1323V491.2H1323.9M1338 497.3H1335.2V498.1H1338M1335.2 497.7H1335.1V498.4H1338M1338 496.8H1335.1V498.1H1335.1M1335.1 497.4H1335V498.4H1338M1335 497.9H1335V498.4H1338M1335 498.2H1334.9V498.4H1338M1323 485.7H1322.4V498.3H1334.9M1338 498.7H1334.3V499.5H1338M1338 498.4H1333.7V499.1H1334.3M1322.4 492H1322.2V498.8H1333.7M1330.6 475.9H1321.6V495.4H1322.2M1323.7 468.9H1316.9V485.6H1321.6M1307.2 432.7H1302.5V477.3H1316.9M1301.7 378.7H1297.2V455H1302.5M1292.1 302.6H1286V416.9H1297.2M1338 500.3H1333.7V501.1H1338M1333.7 500.7H1330.7V501.9H1338M1330.7 501.3H1329.2V502.7H1338M1338 503.5H1334V504.3H1338M1334 503.9H1324.8V505.6H1338M1338 506.7H1334.9V507.5H1338M1334.9 507.1H1330.7V508H1338M1338 508.2H1335.1V509H1338M1335.1 508.6H1335V509.6H1338M1338 508H1335V509.1H1335M1335 508.6H1334.8V509.6H1338M1334.8 509.1H1334V509.6H1338M1334 509.3H1333.3V509.6H1338M1338 508H1329.7V509.5H1333.3M1338 510H1320.4V510.9H1338M1329.7 508.7H1319.7V510.5H1320.4M1330.7 507.6H1318.1V509.6H1319.7M1324.8 504.7H1317.8V508.6H1318.1M1338 511.6H1333.2V512.4H1338M1338 513.5H1333.2V514.3H1338M1338 513H1332V513.9H1333.2M1332 513.4H1328.2V514.6H1338M1328.2 514H1315V514.9H1338M1333.2 512H1314.6V514.5H1315M1338 515.6H1335V516.4H1338M1335 516H1335V516.8H1338M1338 515.2H1334.9V516.4H1335M1334.9 515.8H1334.9V516.8H1338M1338 515.2H1334.7V516.3H1334.9M1338 515.2H1328.6V515.8H1334.7M1314.6 513.2H1312.7V515.5H1328.6M1317.8 506.7H1307.5V514.4H1312.7M1329.2 502H1305.9V510.5H1307.5M1338 517.3H1335.2V518.1H1338M1338 516.8H1335.1V517.7H1335.2M1335.1 517.2H1335.1V518.4H1338M1338 516.8H1335V517.8H1335.1M1335 517.3H1335V518.4H1338M1338 516.8H1334.9V517.9H1335M1334.9 517.3H1334V518.4H1338M1334 517.9H1329.5V518.4H1338M1329.5 518.2H1325.6V518.4H1338M1338 518.8H1335.8V519.6H1338M1335.8 519.2H1335.7V520H1338M1338 518.4H1335.7V519.6H1335.7M1338 518.4H1335.7V519H1335.7M1338 518.4H1335.6V518.7H1335.7M1335.6 518.6H1335.6V520H1338M1338 518.4H1335.6V519.3H1335.6M1338 518.4H1335.5V518.9H1335.6M1338 518.4H1335.5V518.6H1335.5M1338 518.4H1335.4V518.5H1335.5M1338 518.4H1335.4V518.5H1335.4M1335.4 518.4H1335.4V520H1338M1338 518.4H1335.3V519.2H1335.4M1335.3 518.8H1335.3V520H1338M1335.3 519.4H1335.2V520H1338M1335.2 519.7H1335.2V520H1338M1338 518.4H1335.2V519.9H1335.2M1335.2 519.1H1335.1V520H1338M1335.1 519.6H1335.1V520H1338M1335.1 519.8H1335V520H1338M1338 518.4H1335V519.9H1335M1335 519.2H1334.9V520H1338M1338 518.4H1334.8V519.6H1334.9M1338 518.4H1334.7V519H1334.8M1334.7 518.7H1334.1V520H1338M1334.1 519.4H1332.3V520H1338M1338 520.5H1334.9V521.3H1338M1338 520H1334.7V520.9H1334.9M1334.7 520.5H1334.2V521.6H1338M1332.3 519.7H1332.2V521H1334.2M1338 522.2H1335.8V523H1338M1335.8 522.6H1335.8V523.2H1338M1338 521.6H1335.7V522.9H1335.8M1335.7 522.3H1335.7V523.2H1338M1335.7 522.7H1335.7V523.2H1338M1338 521.6H1335.6V523H1335.7M1335.6 522.3H1335.6V523.2H1338M1338 521.6H1335.6V522.8H1335.6M1338 521.6H1335.5V522.2H1335.6M1338 521.6H1335.5V521.9H1335.5M1335.5 521.8H1335.5V523.2H1338M1335.5 522.5H1335.4V523.2H1338M1335.4 522.9H1335.4V523.2H1338M1338 521.6H1335.3V523H1335.4M1335.3 522.3H1335.3V523.2H1338M1335.3 522.8H1335.3V523.2H1338M1338 521.6H1335.2V523H1335.3M1335.2 522.3H1335.2V523.2H1338M1335.2 522.8H1335.1V523.2H1338M1335.1 523H1335.1V523.2H1338M1335.1 523.1H1335V523.2H1338M1335 523.2H1335V523.2H1338M1335 523.2H1334.9V523.2H1338M1334.9 523.2H1334.9V523.2H1338M1338 521.6H1334.6V523.2H1334.9M1334.6 522.4H1333.3V523.2H1338M1338 521.6H1330.1V522.8H1333.3M1338 524.5H1335.3V525.3H1338M1335.3 524.9H1335.3V525.8H1338M1338 524.2H1335.2V525.3H1335.3M1335.2 524.8H1335.2V525.8H1338M1338 524.2H1335.1V525.3H1335.2M1335.1 524.7H1335.1V525.8H1338M1338 524.2H1335V525.2H1335.1M1335 524.7H1335V525.8H1338M1338 524.2H1334.8V525.2H1335M1334.8 524.7H1333.2V525.8H1338M1338 524.2H1329.6V525.2H1333.2M1338 523.7H1325V524.7H1329.6M1325 524.2H1319.5V526.4H1338M1330.1 522.2H1319V525.3H1319.5M1338 527.5H1335.3V528.3H1338M1338 527.1H1335.3V527.9H1335.3M1335.3 527.5H1335.2V528.7H1338M1335.2 528.1H1335.2V528.7H1338M1335.2 528.4H1335.1V528.7H1338M1338 527.1H1335.1V528.5H1335.1M1338 527.1H1335V527.8H1335.1M1338 527.1H1335V527.4H1335M1335 527.3H1334.9V528.7H1338M1334.9 528H1334.8V528.7H1338M1334.8 528.3H1334.6V528.7H1338M1334.6 528.5H1334.1V528.7H1338M1338 527.1H1332.3V528.6H1334.1M1338 527.1H1329.1V527.8H1332.3M1319 523.8H1318.5V527.4H1329.1M1332.2 520.4H1317.8V525.6H1318.5M1325.6 518.3H1316.9V523H1317.8M1338 529.2H1335.2V530H1338M1338 528.7H1335.2V529.6H1335.2M1335.2 529.1H1335.1V530.3H1338M1335.1 529.7H1335.1V530.3H1338M1335.1 530H1335V530.3H1338M1335 530.1H1335V530.3H1338M1338 528.7H1334.9V530.2H1335M1334.9 529.4H1334.8V530.3H1338M1334.8 529.9H1334.6V530.3H1338M1338 528.7H1334V530.1H1334.6M1334 529.4H1333.3V530.3H1338M1316.9 520.6H1315.3V529.8H1333.3M1338 530.5H1335.1V531.3H1338M1338 530.3H1335V530.9H1335.1M1335 530.6H1335V531.9H1338M1338 530.3H1335V531.2H1335M1338 530.3H1334.8V530.8H1335M1338 530.3H1329.1V530.5H1334.8M1338 532.3H1333.3V533.1H1338M1338 531.9H1331.3V532.7H1333.3M1331.3 532.3H1327.4V533.5H1338M1338 534.2H1335.4V535H1338M1335.4 534.6H1335.4V535.3H1338M1335.4 534.9H1335.3V535.3H1338M1338 533.7H1335.3V535.1H1335.3M1335.3 534.4H1335.3V535.3H1338M1335.3 534.9H1335.2V535.3H1338M1335.2 535.1H1335.2V535.3H1338M1335.2 535.2H1335.1V535.3H1338M1335.1 535.3H1335.1V535.3H1338M1338 533.7H1335V535.3H1335.1M1338 533.7H1335V534.5H1335M1335 534.1H1334.9V535.3H1338M1338 533.7H1334.3V534.7H1334.9M1338 533.7H1333.6V534.2H1334.3M1338 533.7H1330.4V534H1333.6M1338 533.6H1320.4V533.8H1330.4M1327.4 532.9H1319.5V533.7H1320.4M1338 535.6H1326.7V536.4H1338M1319.5 533.3H1318.1V536H1326.7M1329.1 530.4H1317.7V534.7H1318.1M1338 537.5H1335V538.3H1338M1335 537.9H1334.9V538.5H1338M1334.9 538.2H1334.8V538.5H1338M1334.8 538.4H1334.7V538.5H1338M1334.7 538.4H1334.1V538.5H1338M1334.1 538.5H1332.3V538.5H1338M1338 539.6H1335.1V540.4H1338M1338 539H1335V540H1335.1M1335 539.5H1335V540.6H1338M1338 539H1334.9V540H1335M1334.9 539.5H1334.9V540.6H1338M1334.9 540.1H1334.6V540.6H1338M1338 539H1333.8V540.3H1334.6M1338 538.8H1321.9V539.7H1333.8M1332.3 538.5H1320.6V539.2H1321.9M1338 541.1H1335.8V541.9H1338M1338 540.6H1335.8V541.5H1335.8M1335.8 541.1H1335.7V542.2H1338M1335.7 541.6H1335.7V542.2H1338M1335.7 541.9H1335.7V542.2H1338M1338 540.6H1335.6V542.1H1335.7M1338 540.6H1335.6V541.3H1335.6M1335.6 541H1335.6V542.2H1338M1335.6 541.6H1335.5V542.2H1338M1335.5 541.9H1335.5V542.2H1338M1338 540.6H1335.5V542.1H1335.5M1338 540.6H1335.4V541.3H1335.5M1338 540.6H1335.4V541H1335.4M1335.4 540.8H1335.3V542.2H1338M1338 540.6H1335.3V541.5H1335.3M1338 540.6H1335.3V541.1H1335.3M1335.3 540.8H1335.2V542.2H1338M1335.2 541.5H1335.2V542.2H1338M1335.2 541.9H1335.1V542.2H1338M1338 540.6H1335.1V542H1335.1M1335.1 541.3H1335V542.2H1338M1338 540.6H1335V541.8H1335M1335 541.2H1335V542.2H1338M1335 541.7H1334.9V542.2H1338M1338 540.6H1334.5V542H1334.9M1334.5 541.3H1334V542.2H1338M1338 540.6H1332.6V541.7H1334M1332.6 541.2H1330.3V542.2H1338M1320.6 538.9H1320.2V541.7H1330.3M1317.7 532.5H1314.2V540.3H1320.2M1338 542.5H1335.2V543.3H1338M1335.2 542.9H1335.1V543.8H1338M1338 542.2H1335.1V543.3H1335.1M1338 542.2H1335V542.8H1335.1M1338 542.2H1335V542.5H1335M1338 542.2H1334.9V542.4H1335M1334.9 542.3H1334.9V543.8H1338M1334.9 543H1333.4V543.8H1338M1338 544.2H1335.7V545H1338M1338 543.8H1335.7V544.6H1335.7M1338 543.8H1335.6V544.2H1335.7M1338 543.8H1335.6V544H1335.6M1335.6 543.9H1335.6V545.4H1338M1335.6 544.7H1335.5V545.4H1338M1338 543.8H1335.5V545H1335.5M1335.5 544.4H1335.5V545.4H1338M1335.5 544.9H1335.4V545.4H1338M1338 543.8H1335.4V545.2H1335.4M1338 543.8H1335.3V544.5H1335.4M1335.3 544.2H1335.3V545.4H1338M1338 543.8H1335.3V544.8H1335.3M1335.3 544.3H1335.2V545.4H1338M1335.2 544.9H1335.2V545.4H1338M1335.2 545.1H1335.1V545.4H1338M1335.1 545.3H1335.1V545.4H1338M1338 543.8H1335V545.3H1335.1M1338 543.8H1335V544.6H1335M1338 543.8H1335V544.2H1335M1338 543.8H1333.5V544H1335M1338 543.8H1330.8V543.9H1333.5M1333.4 543.4H1330.7V543.9H1330.8M1314.2 536.4H1312.5V543.6H1330.7M1315.3 525.2H1303.6V540H1312.5M1338 545.8H1335.1V546.6H1338M1335.1 546.2H1335V547H1338M1335 546.6H1335V547H1338M1335 546.8H1334.9V547H1338M1334.9 546.9H1328V547H1338M1338 547.5H1334.7V548.3H1338M1334.7 547.9H1334.4V548.6H1338M1338 547H1334V548.2H1334.4M1338 547H1332.9V547.6H1334M1332.9 547.3H1323.8V549.4H1338M1328 547H1323V548.4H1323.8M1303.6 532.6H1302.7V547.7H1323M1305.9 506.2H1295.9V540.1H1302.7M1338 550.5H1335V551.3H1338M1338 550.2H1335V550.9H1335M1335 550.6H1334.9V551.8H1338M1334.9 551.2H1334.1V551.8H1338M1334.1 551.5H1332.9V552H1338M1332.9 551.8H1331.9V552.8H1338M1338 553.8H1335V554.6H1338M1335 554.2H1335V555H1338M1338 553.4H1334.9V554.6H1335M1338 553.4H1334.5V554H1334.9M1338 553.4H1333.9V553.7H1334.5M1333.9 553.6H1330.2V555H1338M1338 555.3H1335V556.1H1338M1335 555.7H1334.9V556.6H1338M1334.9 556.2H1334.8V556.6H1338M1338 555H1333.6V556.4H1334.8M1338 555H1331.5V555.7H1333.6M1331.5 555.4H1326.9V556.6H1338M1338 558.2H1335.4V559H1338M1338 557.9H1335.3V558.6H1335.4M1335.3 558.3H1335.3V559.5H1338M1338 557.9H1335.3V558.9H1335.3M1335.3 558.4H1335.2V559.5H1338M1335.2 559H1335.2V559.5H1338M1335.2 559.3H1335.1V559.5H1338M1338 557.9H1335.1V559.4H1335.1M1338 557.9H1335.1V558.7H1335.1M1335.1 558.3H1335V559.5H1338M1338 557.9H1335V558.9H1335M1335 558.4H1334.9V559.5H1338M1334.9 559H1334.5V559.5H1338M1334.5 559.3H1333.2V559.5H1338M1338 557.3H1321.8V559.4H1333.2M1326.9 556H1321.3V558.3H1321.8M1338 559.8H1327.3V560.6H1338M1321.3 557.2H1320.7V560.2H1327.3M1338 561.4H1335.1V562.2H1338M1338 561.1H1335.1V561.8H1335.1M1338 561.1H1335V561.5H1335.1M1335 561.3H1335V562.7H1338M1338 561.1H1334.8V562H1335M1334.8 561.6H1334.6V562.7H1338M1338 564.8H1334.7V565.6H1338M1338 563.5H1334.1V565.2H1334.7M1334.6 562.2H1334V564.4H1334.1M1320.7 558.7H1319.9V563.3H1334M1330.2 554.3H1319.1V561H1319.9M1331.9 552.3H1317.6V557.6H1319.1M1338 566.9H1335.7V567.7H1338M1335.7 567.3H1335.6V568.3H1338M1335.6 567.8H1335.6V568.3H1338M1338 566.7H1335.5V568H1335.6M1335.5 567.4H1335.5V568.3H1338M1338 566.7H1335.5V567.8H1335.5M1335.5 567.2H1335.4V568.3H1338M1338 566.7H1335.4V567.8H1335.4M1335.4 567.2H1335.4V568.3H1338M1335.4 567.7H1335.3V568.3H1338M1335.3 568H1335.3V568.3H1338M1335.3 568.1H1335.2V568.3H1338M1338 566.7H1335.2V568.2H1335.2M1335.2 567.4H1335.1V568.3H1338M1338 566.7H1335.1V567.9H1335.1M1335.1 567.3H1335.1V568.3H1338M1335.1 567.8H1335V568.3H1338M1338 566.7H1335V568H1335M1335 567.3H1334.9V568.3H1338M1334.9 567.8H1334.8V568.3H1338M1338 566.7H1334.4V568H1334.8M1338 566.3H1327.8V567.4H1334.4M1338 568.8H1335.2V569.6H1338M1335.2 569.2H1335.1V569.9H1338M1338 568.3H1335.1V569.5H1335.1M1338 568.3H1335V568.9H1335.1M1335 568.6H1335V569.9H1338M1338 568.3H1334.7V569.2H1335M1334.7 568.8H1334.2V569.9H1338M1334.2 569.3H1326.7V570.3H1338M1327.8 566.8H1324.9V569.8H1326.7M1338 571.2H1335.2V572H1338M1338 570.7H1335.2V571.6H1335.2M1335.2 571.2H1335.1V572.3H1338M1338 570.7H1335.1V571.8H1335.1M1335.1 571.3H1335V572.3H1338M1335 571.8H1335V572.3H1338M1338 570.7H1334V572.1H1335M1334 571.4H1332.6V572.3H1338M1338 572.7H1335.6V573.5H1338M1338 572.3H1335.6V573.1H1335.6M1335.6 572.7H1335.5V573.9H1338M1338 572.3H1335.5V573.3H1335.5M1335.5 572.8H1335.5V573.9H1338M1338 572.3H1335.4V573.4H1335.5M1335.4 572.9H1335.4V573.9H1338M1338 572.3H1335.4V573.4H1335.4M1338 572.3H1335.3V572.9H1335.4M1338 572.3H1335.3V572.6H1335.3M1335.3 572.5H1335.2V573.9H1338M1335.2 573.2H1335.2V573.9H1338M1338 572.3H1335.1V573.6H1335.2M1338 572.3H1335.1V573H1335.1M1335.1 572.7H1335.1V573.9H1338M1335.1 573.3H1335V573.9H1338M1338 572.3H1335V573.6H1335M1338 572.3H1334.9V573H1335M1338 572.3H1334.6V572.7H1334.9M1338 572.3H1334V572.5H1334.6M1332.6 571.9H1332.5V572.4H1334M1338 575.8H1335.8V576.6H1338M1338 575.2H1335.8V576.2H1335.8M1335.8 575.7H1335.8V576.8H1338M1335.8 576.3H1335.7V576.8H1338M1335.7 576.6H1335.7V576.8H1338M1338 575.2H1335.7V576.7H1335.7M1338 575.2H1335.6V576H1335.7M1335.6 575.6H1335.6V576.8H1338M1338 575.2H1335.6V576.2H1335.6M1335.6 575.7H1335.5V576.8H1338M1338 575.2H1335.5V576.3H1335.5M1335.5 575.8H1335.5V576.8H1338M1338 575.2H1335.4V576.3H1335.5M1335.4 575.8H1335.4V576.8H1338M1338 575.2H1335.3V576.3H1335.4M1338 575.2H1335.3V575.8H1335.3M1338 575.2H1335.2V575.5H1335.3M1338 575.2H1335.2V575.4H1335.2M1335.2 575.3H1335.2V576.8H1338M1335.2 576.1H1335.1V576.8H1338M1338 575.2H1335.1V576.5H1335.1M1335.1 575.8H1335V576.8H1338M1335 576.3H1335V576.8H1338M1335 576.6H1334.6V576.8H1338M1334.6 576.7H1334.2V576.8H1338M1338 575.2H1333.3V576.8H1334.2M1338 575.2H1329.7V576H1333.3M1338 574.5H1327.8V575.6H1329.7M1338 577.3H1335V578.1H1338M1335 577.7H1334.9V578.4H1338M1338 576.8H1334.4V578.1H1334.9M1327.8 575.1H1327.2V577.5H1334.4M1338 578.8H1335.2V579.6H1338M1338 578.4H1335.1V579.2H1335.2M1338 578.4H1335.1V578.8H1335.1M1335.1 578.6H1335V580H1338M1335 579.3H1335V580H1338M1338 578.4H1334.9V579.7H1335M1334.9 579.1H1334.8V580H1338M1338 578.4H1334.5V579.6H1334.8M1334.5 579H1330.2V580H1338M1327.2 576.3H1326.4V579.5H1330.2M1332.5 572.2H1326V577.9H1326.4M1324.9 568.3H1320.4V575H1326M1338 580.5H1335V581.3H1338M1338 580H1335V580.9H1335M1338 580H1334.9V580.5H1335M1334.9 580.3H1334.5V581.6H1338M1338 580H1334.2V580.9H1334.5M1334.2 580.5H1333.6V581.6H1338M1338 582H1335V582.8H1338M1335 582.4H1334.9V583.2H1338M1338 581.6H1334.3V582.8H1334.9M1334.3 582.2H1332.8V583.5H1338M1332.8 582.9H1332.3V584.3H1338M1338 585.3H1335.3V586.1H1338M1335.3 585.7H1335.2V586.4H1338M1338 584.8H1335.2V586.1H1335.2M1338 584.8H1335.2V585.5H1335.2M1338 584.8H1335.1V585.1H1335.2M1335.1 585H1335.1V586.4H1338M1338 584.8H1335V585.7H1335.1M1335 585.3H1335V586.4H1338M1338 584.8H1334.9V585.9H1335M1334.9 585.3H1334.8V586.4H1338M1334.8 585.9H1334.5V586.4H1338M1338 586.7H1333.2V587.5H1338M1338 589.2H1335.3V590H1338M1338 588.9H1335.2V589.6H1335.3M1338 588.9H1335.2V589.2H1335.2M1338 588.9H1335.2V589.1H1335.2M1335.2 589H1335.1V590.5H1338M1338 588.9H1335.1V589.7H1335.1M1338 588.9H1335V589.3H1335.1M1338 588.9H1335V589.1H1335M1338 588.9H1334.9V589H1335M1338 588.9H1334.9V588.9H1334.9M1334.9 588.9H1334.7V590.5H1338M1338 588.9H1333.3V589.7H1334.7M1338 588.5H1326.6V589.3H1333.3M1333.2 587.1H1325.9V588.9H1326.6M1334.5 586.2H1325.7V588H1325.9M1332.3 583.6H1325.4V587.1H1325.7M1338 591H1335.3V591.8H1338M1338 590.5H1335.2V591.4H1335.3M1338 590.5H1335.2V590.9H1335.2M1335.2 590.7H1335.1V592.1H1338M1338 590.5H1335.1V591.4H1335.1M1335.1 590.9H1335V592.1H1338M1335 591.5H1335V592.1H1338M1335 591.8H1334.8V592.1H1338M1334.8 591.9H1334.5V592.1H1338M1334.5 592H1330.5V592.1H1338M1325.4 585.3H1325.2V592.1H1330.5M1333.6 581.1H1324.3V588.7H1325.2M1320.4 571.7H1316.8V584.9H1324.3M1317.6 555H1314.1V578.3H1316.8M1338 592.3H1335.3V593.1H1338M1335.3 592.7H1335.2V593.7H1338M1335.2 593.2H1335.2V593.7H1338M1335.2 593.4H1335.1V593.7H1338M1338 592.1H1335.1V593.6H1335.1M1335.1 592.8H1335V593.7H1338M1338 592.1H1335V593.3H1335M1338 592.1H1334.9V592.7H1335M1334.9 592.4H1334.9V593.7H1338M1338 592.1H1334.6V593H1334.9M1338 592.1H1333.6V592.6H1334.6M1338 594H1335.1V594.8H1338M1338 593.7H1335.1V594.4H1335.1M1335.1 594.1H1335V595.3H1338M1335 594.7H1335V595.3H1338M1338 593.7H1334.9V595H1335M1334.9 594.3H1334.5V595.3H1338M1334.5 594.8H1334.1V595.3H1338M1338 593.7H1329.3V595.1H1334.1M1329.3 594.4H1323V596.1H1338M1333.6 592.3H1322.4V595.2H1323M1338 597.4H1335.2V598.2H1338M1338 596.9H1335.2V597.8H1335.2M1338 596.9H1335.1V597.3H1335.2M1338 596.9H1335.1V597.1H1335.1M1335.1 597H1335.1V598.5H1338M1338 596.9H1335V597.7H1335.1M1335 597.3H1335V598.5H1338M1335 597.9H1334.9V598.5H1338M1334.9 598.2H1334.5V598.5H1338M1338 596.9H1334V598.3H1334.5M1338 598.9H1334.6V599.7H1338M1334 597.6H1333.9V599.3H1334.6M1338 600.6H1323.5V601.4H1338M1338 603.4H1333.1V604.2H1338M1338 602.3H1314.6V603.8H1333.1M1338 604.9H1335.4V605.7H1338M1338 604.4H1335.4V605.3H1335.4M1338 604.4H1335.3V604.8H1335.4M1338 604.4H1335.3V604.6H1335.3M1338 604.4H1335.3V604.5H1335.3M1335.3 604.5H1335.2V606H1338M1338 604.4H1335.2V605.3H1335.2M1335.2 604.9H1335.1V606H1338M1338 604.4H1335.1V605.4H1335.1M1338 604.4H1335.1V604.9H1335.1M1338 604.4H1335V604.7H1335.1M1335 604.6H1335V606H1338M1335 605.3H1334.1V606H1338M1314.6 603H1312.9V605.7H1334.1M1323.5 601H1312.5V604.3H1312.9M1338 606.4H1335.4V607.2H1338M1335.4 606.8H1335.3V607.6H1338M1338 606H1335.3V607.2H1335.3M1335.3 606.6H1335.2V607.6H1338M1338 606H1335.2V607.1H1335.2M1338 606H1335.2V606.6H1335.2M1338 606H1335.1V606.3H1335.2M1338 606H1335.1V606.2H1335.1M1338 606H1335V606.1H1335.1M1338 606H1335V606.1H1335M1338 606H1334.9V606.1H1335M1338 606H1334.8V606.1H1334.9M1334.8 606H1334.5V607.6H1338M1334.5 606.8H1333.9V607.6H1338M1333.9 607.2H1329.3V607.6H1338M1338 609.7H1330.7V610.5H1338M1338 608.4H1325.8V610.1H1330.7M1329.3 607.4H1325.4V609.3H1325.8M1312.5 602.7H1311V608.4H1325.4M1338 611.2H1335.3V612H1338M1338 610.8H1335.3V611.6H1335.3M1338 610.8H1335.3V611.2H1335.3M1335.3 611H1335.2V612.4H1338M1335.2 611.7H1335.2V612.4H1338M1338 610.8H1335.1V612.1H1335.2M1335.1 611.5H1335.1V612.4H1338M1335.1 612H1335V612.4H1338M1338 610.8H1335V612.2H1335M1335 611.5H1334.9V612.4H1338M1334.9 612H1334.8V612.4H1338M1334.8 612.2H1333V612.4H1338M1311 605.5H1310V612.3H1333M1333.9 598.5H1308.1V608.9H1310M1322.4 593.8H1305.8V603.7H1308.1M1314.1 566.6H1298.3V598.7H1305.8M1295.9 523.2H1287.3V582.7H1298.3M1338 612.9H1334.9V613.7H1338M1338 612.4H1334.7V613.3H1334.9M1334.7 612.9H1331.2V614H1338M1331.2 613.5H1326.4V614H1338M1338 612.4H1320V613.8H1326.4M1338 614.4H1335.1V615.2H1338M1335.1 614.8H1335V615.6H1338M1338 614H1335V615.2H1335M1335 614.6H1334.7V615.6H1338M1338 614H1334.3V615.1H1334.7M1334.3 614.6H1332.1V615.6H1338M1332.1 615.1H1328.2V615.6H1338M1338 616.4H1330.3V617.2H1338M1338 615.8H1327.1V616.8H1330.3M1327.1 616.3H1324.1V618.2H1338M1338 619.1H1335V619.9H1338M1338 618.8H1335V619.5H1335M1338 618.8H1334.8V619.2H1335M1334.8 619H1330.7V620.4H1338M1338 621.1H1334.9V621.9H1338M1334.9 621.5H1334.8V622.3H1338M1334.8 621.9H1334.4V622.3H1338M1338 620.7H1333.9V622.1H1334.4M1338 620.6H1330.3V621.4H1333.9M1338 622.7H1335.4V623.5H1338M1335.4 623.1H1335.4V623.9H1338M1335.4 623.5H1335.3V623.9H1338M1335.3 623.7H1335.3V623.9H1338M1335.3 623.8H1335.2V623.9H1338M1338 622.3H1335.2V623.8H1335.2M1335.2 623.1H1335.2V623.9H1338M1335.2 623.5H1335.1V623.9H1338M1338 622.3H1335.1V623.7H1335.1M1338 622.3H1335V623H1335.1M1335 622.6H1335V623.9H1338M1335 623.3H1334.9V623.9H1338M1334.9 623.6H1334.5V623.9H1338M1338 622.3H1332.7V623.7H1334.5M1332.7 623H1328.8V624.3H1338M1330.3 621H1327V623.7H1328.8M1338 625.3H1334.5V626.1H1338M1338 624.8H1333V625.7H1334.5M1327 622.3H1326.4V625.2H1333M1338 626.7H1335.3V627.5H1338M1335.3 627.1H1335.3V628H1338M1335.3 627.6H1335.3V628H1338M1335.3 627.8H1335.2V628H1338M1338 626.4H1335.2V627.9H1335.2M1335.2 627.1H1335.1V628H1338M1338 626.4H1335.1V627.6H1335.1M1338 626.4H1335V627H1335.1M1335 626.7H1335V628H1338M1338 626.4H1335V627.3H1335M1338 626.4H1334.9V626.9H1335M1338 628.3H1335V629.1H1338M1338 628H1335V628.7H1335M1338 628H1334.8V628.4H1335M1334.8 628.2H1334.5V629.6H1338M1338 628H1333.6V628.9H1334.5M1333.6 628.4H1332.5V629.6H1338M1334.9 626.6H1332.4V629H1332.5M1326.4 623.8H1325.7V627.8H1332.4M1338 630.1H1335V630.9H1338M1338 629.6H1335V630.5H1335M1338 629.6H1334.9V630.1H1335M1334.9 629.8H1334.6V631.2H1338M1334.6 630.5H1333.8V631.2H1338M1333.8 630.8H1330.1V631.2H1338M1338 631.7H1334.1V632.5H1338M1330.1 631H1329.7V632.1H1334.1M1338 633.3H1335.3V634.1H1338M1338 632.8H1335.2V633.7H1335.3M1335.2 633.2H1335.2V634.4H1338M1338 632.8H1335.1V633.8H1335.2M1335.1 633.3H1335.1V634.4H1338M1335.1 633.8H1335V634.4H1338M1338 632.8H1335V634.1H1335M1338 632.8H1334.9V633.5H1335M1334.9 633.1H1334.8V634.4H1338M1338 632.8H1334.4V633.8H1334.8M1334.4 633.3H1330.5V634.4H1338M1338 635H1334.9V635.8H1338M1334.9 635.4H1334.9V636.1H1338M1334.9 635.8H1330.9V636.1H1338M1338 634.4H1326.3V635.9H1330.9M1330.5 633.8H1326.1V635.2H1326.3M1329.7 631.6H1325.2V634.5H1326.1M1338 636.5H1335.3V637.3H1338M1335.3 636.9H1335.2V637.7H1338M1335.2 637.3H1335.2V637.7H1338M1338 636.1H1335.1V637.5H1335.2M1335.1 636.8H1335.1V637.7H1338M1335.1 637.3H1335.1V637.7H1338M1335.1 637.5H1335V637.7H1338M1338 636.1H1335V637.6H1335M1335 636.8H1334.7V637.7H1338M1338 636.1H1334.2V637.3H1334.7M1334.2 636.7H1332.8V637.7H1338M1338 638H1335.4V638.8H1338M1335.4 638.4H1335.3V639.3H1338M1335.3 638.9H1335.3V639.3H1338M1338 637.7H1335.3V639.1H1335.3M1338 637.7H1335.2V638.4H1335.3M1335.2 638H1335.2V639.3H1338M1335.2 638.7H1335.1V639.3H1338M1335.1 639H1335.1V639.3H1338M1335.1 639.1H1335.1V639.3H1338M1338 637.7H1335V639.2H1335.1M1338 637.7H1335V638.5H1335M1332.8 637.2H1332.7V638.1H1335M1325.2 633H1324.9V637.6H1332.7M1325.7 625.8H1319.7V635.3H1324.9M1330.7 619.7H1319V630.6H1319.7M1338 639.7H1335.1V640.5H1338M1335.1 640.1H1335V640.9H1338M1335 640.5H1335V640.9H1338M1338 639.3H1334.8V640.7H1335M1338 639.3H1334.4V640H1334.8M1338 639.3H1333.3V639.7H1334.4M1338 639.3H1327.6V639.5H1333.3M1319 625.1H1317.9V639.4H1327.6M1338 641.4H1334.7V642.2H1338M1338 640.9H1333.3V641.8H1334.7M1338 643H1334.9V643.8H1338M1334.9 643.4H1334.7V644.1H1338M1334.7 643.8H1334V644.1H1338M1333.3 641.4H1333.3V643.9H1334M1317.9 632.3H1316.6V642.6H1333.3M1338 644.6H1334.6V645.4H1338M1334.6 645H1334.1V645.7H1338M1334.1 645.4H1332.1V645.7H1338M1316.6 637.5H1316.3V645.5H1332.1M1324.1 617.3H1314.4V641.5H1316.3M1338 646H1334.9V646.8H1338M1334.9 646.4H1334.8V647.3H1338M1334.8 646.8H1334.5V647.3H1338M1334.5 647.1H1322.8V647.3H1338M1314.4 629.4H1313.9V647.2H1322.8M1338 647.8H1333.5V648.6H1338M1338 647.3H1331.6V648.2H1333.5M1331.6 647.8H1328.9V648.9H1338M1313.9 638.3H1312.3V648.3H1328.9M1338 649.2H1327.6V650H1338M1312.3 643.3H1311.3V649.6H1327.6M1338 650.9H1335.1V651.7H1338M1335.1 651.3H1335.1V652.1H1338M1338 650.5H1335.1V651.7H1335.1M1335.1 651.1H1335V652.1H1338M1335 651.6H1335V652.1H1338M1338 650.5H1334.5V651.8H1335M1338 650.5H1329.4V651.2H1334.5M1311.3 646.5H1310.5V650.8H1329.4M1328.2 615.4H1309.8V648.6H1310.5M1320 613.1H1308.8V632H1309.8M1338 652.4H1335.4V653.2H1338M1335.4 652.8H1335.4V653.7H1338M1335.4 653.3H1335.3V653.7H1338M1335.3 653.5H1335.3V653.7H1338M1335.3 653.6H1335.3V653.7H1338M1338 652.1H1335.2V653.6H1335.3M1335.2 652.9H1335.2V653.7H1338M1338 652.1H1335.1V653.3H1335.2M1338 652.1H1335.1V652.7H1335.1M1338 652.1H1335V652.4H1335.1M1338 652.1H1335V652.3H1335M1338 652.1H1334.9V652.2H1335M1338 652.1H1332.1V652.1H1334.9M1338 654.1H1335.2V654.9H1338M1335.2 654.5H1335.2V655.3H1338M1335.2 654.9H1335.1V655.3H1338M1335.1 655.1H1335.1V655.3H1338M1338 653.7H1335V655.2H1335.1M1335 654.5H1335V655.3H1338M1335 654.9H1334.5V655.3H1338M1338 653.7H1333.2V655.1H1334.5M1338 653.7H1331.7V654.4H1333.2M1331.7 654H1318.1V655.5H1338M1338 655.9H1334.9V656.7H1338M1338 655.6H1334.7V656.3H1334.9M1338 655.6H1334.5V656H1334.7M1338 655.6H1334.1V655.8H1334.5M1338 655.6H1326.6V655.7H1334.1M1318.1 654.7H1317.4V655.6H1326.6M1338 657.7H1335.4V658.5H1338M1335.4 658.1H1335.4V658.8H1338M1335.4 658.4H1335.3V658.8H1338M1335.3 658.6H1335.3V658.8H1338M1335.3 658.7H1335.3V658.8H1338M1335.3 658.8H1335.2V658.8H1338M1338 657.2H1335.2V658.8H1335.2M1338 657.2H1335.1V658H1335.2M1338 657.2H1335.1V657.6H1335.1M1335.1 657.4H1335V658.8H1338M1338 657.2H1335V658.1H1335M1338 657.2H1335V657.6H1335M1338 657.2H1334.8V657.4H1335M1338 657.2H1334V657.3H1334.8M1338 659.2H1334.7V660H1338M1334.7 659.6H1334.4V660.4H1338M1334 657.3H1333.9V660H1334.4M1317.4 655.2H1316.1V658.6H1333.9M1332.1 652.1H1315.7V656.9H1316.1M1338 660.7H1335V661.5H1338M1335 661.1H1334.9V662H1338M1338 660.4H1334.4V661.6H1334.9M1338 660.4H1333.2V661H1334.4M1333.2 660.7H1326.4V662H1338M1315.7 654.5H1315.1V661.3H1326.4M1338 662.4H1335.1V663.2H1338M1338 662.1H1335V662.8H1335.1M1335 662.5H1335V663.7H1338M1338 662.1H1335V663.1H1335M1338 662.1H1334.9V662.6H1335M1334.9 662.4H1334V663.7H1338M1338 662.1H1326.8V663.1H1334M1326.8 662.6H1322.8V664.5H1338M1338 665.6H1335.2V666.4H1338M1335.2 666H1335.2V666.8H1338M1338 665.2H1335.1V666.4H1335.2M1335.1 665.8H1335.1V666.8H1338M1338 665.2H1335V666.3H1335.1M1338 665.2H1335V665.8H1335M1335 665.5H1334.9V666.8H1338M1334.9 666.1H1334.9V666.8H1338M1334.9 666.5H1332.2V666.8H1338M1322.8 663.5H1322.6V666.6H1332.2M1315.1 657.9H1313.8V665.1H1322.6M1338 667.2H1335V668H1338M1338 666.8H1334V667.6H1335M1338 666.8H1333.2V667.2H1334M1333.2 667H1321.6V668.4H1338M1313.8 661.5H1311.8V667.7H1321.6M1338 668.7H1335.3V669.5H1338M1335.3 669.1H1335.2V670H1338M1338 668.4H1335.2V669.6H1335.2M1338 668.4H1335.1V669H1335.2M1338 668.4H1335.1V668.7H1335.1M1335.1 668.5H1335V670H1338M1335 669.3H1335V670H1338M1338 668.4H1334.9V669.6H1335M1334.9 669H1334.8V670H1338M1334.8 669.5H1331V670H1338M1338 668.4H1327.2V669.8H1331M1311.8 664.6H1310.9V669.1H1327.2M1308.8 622.6H1296.8V666.8H1310.9M1287.3 552.9H1280V644.7H1296.8M1338 670.5H1311.9V671.5H1338M1338 672.2H1326V673H1338M1326 672.6H1316.9V673.8H1338M1338 674.9H1335V675.7H1338M1335 675.3H1335V676.1H1338M1335 675.7H1335V676.1H1338M1335 675.9H1334.8V676.1H1338M1338 674.5H1334V676H1334.8M1338 674.5H1332.9V675.3H1334M1338 674.5H1329.4V674.9H1332.9M1338 674.3H1322.2V674.7H1329.4M1316.9 673.2H1314.5V674.5H1322.2M1311.9 671H1301V673.8H1314.5M1338 676.6H1332.8V677.4H1338M1338 676.1H1329.7V677H1332.8M1338 679.8H1334.9V680.6H1338M1334.9 680.2H1334.8V680.9H1338M1338 679.3H1334.4V680.6H1334.8M1334.4 680H1333.6V680.9H1338M1338 679.3H1332.3V680.4H1333.6M1338 678.5H1325V679.9H1332.3M1329.7 676.6H1323.9V679.2H1325M1301 672.4H1299.4V677.9H1323.9M1338 681.4H1331.2V682.2H1338M1299.4 675.2H1298.6V681.8H1331.2M1338 684.4H1335.1V685.2H1338M1335.1 684.8H1335V685.6H1338M1338 684H1335V685.2H1335M1335 684.6H1334.9V685.6H1338M1334.9 685.1H1334.8V685.6H1338M1338 684H1334.4V685.4H1334.8M1338 684H1331.7V684.7H1334.4M1331.7 684.3H1325.1V685.6H1338M1338 683.3H1301.5V685H1325.1M1338 685.9H1335V686.7H1338M1335 686.3H1335V687.2H1338M1338 685.6H1334.8V686.8H1335M1334.8 686.2H1334.6V687.2H1338M1338 685.6H1334.3V686.7H1334.6M1334.3 686.1H1333.5V687.2H1338M1301.5 684.1H1300.7V686.7H1333.5M1338 687.5H1334.2V688.3H1338M1338 687.2H1332.2V687.9H1334.2M1338 689.3H1332.9V690.1H1338M1332.9 689.7H1331.5V690.4H1338M1331.5 690.1H1327.5V690.4H1338M1332.2 687.5H1327V690.2H1327.5M1300.7 685.4H1298.7V688.9H1327M1338 691.5H1334.7V692.3H1338M1338 690.9H1334.5V691.9H1334.7M1338 690.7H1327.2V691.4H1334.5M1338 693H1335.2V693.8H1338M1335.2 693.4H1335.1V694.1H1338M1338 692.5H1335.1V693.7H1335.1M1338 692.5H1335.1V693.1H1335.1M1335.1 692.8H1335V694.1H1338M1335 693.5H1335V694.1H1338M1335 693.8H1334.9V694.1H1338M1338 692.5H1333.5V694H1334.9M1333.5 693.2H1325.3V694.7H1338M1327.2 691H1323.3V694H1325.3M1298.7 687.1H1295.5V692.5H1323.3M1298.6 678.5H1289.8V689.8H1295.5M1338 695.5H1333V696.3H1338M1338 695.2H1331.4V695.9H1333M1289.8 684.2H1287.9V695.6H1331.4M1338 697.2H1334.9V698H1338M1334.9 697.6H1334.7V698.4H1338M1338 696.8H1334.4V698H1334.7M1338 696.8H1333.8V697.4H1334.4M1333.8 697.1H1332.6V698.4H1338M1338 698.9H1335V699.7H1338M1338 698.4H1334.9V699.3H1335M1334.9 698.9H1334.3V700H1338M1332.6 697.7H1332.4V699.4H1334.3M1287.9 689.9H1286V698.6H1332.4M1338 700.4H1334.9V701.2H1338M1338 700H1334.6V700.8H1334.9M1338 702H1335.2V702.8H1338M1335.2 702.4H1335.1V703.2H1338M1338 701.6H1335.1V702.8H1335.1M1335.1 702.2H1335V703.2H1338M1338 701.6H1335V702.7H1335M1335 702.2H1334.9V703.2H1338M1338 701.6H1334.8V702.7H1334.9M1338 701.6H1334.6V702.1H1334.8M1338 701.6H1333.7V701.9H1334.6M1334.6 700.4H1333.6V701.7H1333.7M1338 703.7H1335.1V704.5H1338M1335.1 704.1H1335.1V704.8H1338M1335.1 704.4H1335V704.8H1338M1335 704.6H1335V704.8H1338M1335 704.7H1334.9V704.8H1338M1338 705.3H1334.2V706.1H1338M1338 704.8H1333.1V705.7H1334.2M1333.1 705.3H1328.3V706.4H1338M1338 706.8H1335.2V707.6H1338M1335.2 707.2H1335.1V708H1338M1335.1 707.6H1335.1V708H1338M1335.1 707.8H1335V708H1338M1338 706.4H1335V707.9H1335M1335 707.1H1334.8V708H1338M1338 708.4H1334.7V709.2H1338M1334.7 708.8H1332.9V709.6H1338M1334.8 707.6H1332.7V709.2H1332.9M1338 709.9H1329.7V710.7H1338M1338 711.7H1335.1V712.5H1338M1335.1 712.1H1335V712.8H1338M1335 712.5H1335V712.8H1338M1338 711.2H1334.6V712.6H1335M1334.6 711.9H1334.3V712.8H1338M1338 714.9H1335V715.7H1338M1335 715.3H1335V716H1338M1338 714.4H1334.9V715.6H1335M1334.9 715H1334.8V716H1338M1338 714.4H1333.8V715.5H1334.8M1338 713.6H1332.1V715H1333.8M1334.3 712.4H1331.9V714.3H1332.1M1338 716.3H1334.2V717.1H1338M1334.2 716.7H1328.7V717.6H1338M1338 718.1H1335.1V718.9H1338M1338 717.6H1335.1V718.5H1335.1M1335.1 718H1335V719.2H1338M1335 718.6H1335V719.2H1338M1335 718.9H1334.9V719.2H1338M1338 717.6H1332.3V719.1H1334.9M1332.3 718.3H1330V719.2H1338M1338 719.4H1335.1V720.2H1338M1335.1 719.8H1335V720.8H1338M1338 719.2H1335V720.3H1335M1338 719.2H1334.7V719.8H1335M1338 719.2H1333.6V719.5H1334.7M1333.6 719.3H1327.2V721.1H1338M1330 718.8H1326.4V720.2H1327.2M1338 721.7H1332.3V722.5H1338M1332.3 722.1H1324.6V723.2H1338M1326.4 719.5H1323.2V722.6H1324.6M1328.7 717.2H1322.9V721.1H1323.2M1331.9 713.3H1321.8V719.1H1322.9M1329.7 710.3H1320.8V716.2H1321.8M1332.7 708.4H1319.3V713.2H1320.8M1328.3 705.8H1318.6V710.8H1319.3M1338 723.6H1335V724.4H1338M1338 723.4H1335V724H1335M1335 723.7H1334.9V725H1338M1334.9 724.3H1334.6V725H1338M1338 723.4H1334.3V724.7H1334.6M1334.3 724H1333.8V725H1338M1338 723.4H1332.2V724.5H1333.8M1338 727H1335.1V727.8H1338M1338 726.6H1335.1V727.4H1335.1M1338 726.6H1335V727H1335.1M1335 726.8H1335V728.2H1338M1338 726.6H1334.8V727.5H1335M1334.8 727H1333.7V728.2H1338M1333.7 727.6H1331.9V728.2H1338M1338 725.8H1328.6V727.9H1331.9M1332.2 723.9H1328.5V726.8H1328.6M1318.6 708.3H1317.5V725.4H1328.5M1334.9 704.8H1316.1V716.9H1317.5M1333.6 701.1H1315.7V710.8H1316.1M1338 728.6H1334.5V729.4H1338M1338 728.2H1333.7V729H1334.5M1333.7 728.6H1326.7V729.8H1338M1338 730.2H1332.4V731H1338M1338 731.7H1335.6V732.5H1338M1338 731.4H1335.6V732.1H1335.6M1338 731.4H1335.6V731.7H1335.6M1335.6 731.5H1335.5V733H1338M1335.5 732.3H1335.5V733H1338M1338 731.4H1335.5V732.6H1335.5M1338 731.4H1335.4V732H1335.5M1335.4 731.7H1335.4V733H1338M1335.4 732.3H1335.3V733H1338M1338 731.4H1335.3V732.7H1335.3M1338 731.4H1335.3V732H1335.3M1335.3 731.7H1335.2V733H1338M1338 731.4H1335.2V732.3H1335.2M1335.2 731.9H1335.1V733H1338M1338 731.4H1335.1V732.4H1335.1M1335.1 731.9H1335V733H1338M1335 732.4H1335V733H1338M1335 732.7H1334.9V733H1338M1338 731.4H1334.9V732.8H1334.9M1334.9 732.1H1334.5V733H1338M1334.5 732.5H1333.2V733H1338M1333.2 732.8H1331V733H1338M1338 735.2H1335.2V736H1338M1335.2 735.6H1335.2V736.5H1338M1338 734.9H1335.2V736H1335.2M1335.2 735.4H1335.1V736.5H1338M1335.1 736H1335.1V736.5H1338M1338 734.9H1335V736.2H1335.1M1338 734.9H1335V735.5H1335M1335 735.2H1334.9V736.5H1338M1338 734.9H1334V735.8H1334.9M1338 734.5H1329V735.4H1334M1338 733.6H1325.2V734.9H1329M1331 732.9H1324.5V734.3H1325.2M1338 736.8H1333.4V737.6H1338M1338 738.4H1332.2V739.2H1338M1333.4 737.2H1332.1V738.8H1332.2M1324.5 733.6H1323.7V738H1332.1M1332.4 730.6H1322.6V735.8H1323.7M1338 740.1H1334.6V740.9H1338M1338 739.7H1333.7V740.5H1334.6M1333.7 740.1H1331.5V741.3H1338M1322.6 733.2H1322.1V740.7H1331.5M1338 742.6H1335.6V743.4H1338M1335.6 743H1335.6V743.7H1338M1335.6 743.3H1335.5V743.7H1338M1335.5 743.5H1335.5V743.7H1338M1335.5 743.6H1335.4V743.7H1338M1338 742.1H1335.4V743.7H1335.4M1338 742.1H1335.4V742.9H1335.4M1338 742.1H1335.3V742.5H1335.4M1338 742.1H1335.3V742.3H1335.3M1335.3 742.2H1335.2V743.7H1338M1335.2 743H1335.2V743.7H1338M1338 742.1H1335.2V743.3H1335.2M1338 742.1H1335.1V742.7H1335.2M1335.1 742.4H1335.1V743.7H1338M1335.1 743.1H1335V743.7H1338M1338 742.1H1335V743.4H1335M1335 742.8H1334.9V743.7H1338M1334.9 743.2H1334.8V743.7H1338M1334.8 743.5H1334.5V743.7H1338M1334.5 743.6H1333V743.7H1338M1338 741.7H1329.8V743.7H1333M1329.8 742.7H1326.6V744.3H1338M1338 745.9H1334.8V746.7H1338M1338 745.6H1333.9V746.3H1334.8M1333.9 746H1333.2V747.2H1338M1333.2 746.6H1331.5V747.2H1338M1338 745.2H1328.3V746.9H1331.5M1338 747.5H1334.5V748.3H1338M1338 747.2H1332.6V747.9H1334.5M1328.3 746H1328V747.5H1332.6M1338 749.3H1335V750.1H1338M1335 749.7H1335V750.4H1338M1335 750H1334.9V750.4H1338M1338 748.8H1334.6V750.2H1334.9M1334.6 749.5H1333.6V750.4H1338M1333.6 750H1331.3V750.4H1338M1328 746.8H1327.7V750.2H1331.3M1338 750.9H1335.4V751.7H1338M1335.4 751.3H1335.4V752H1338M1338 750.4H1335.3V751.6H1335.4M1335.3 751H1335.3V752H1338M1335.3 751.5H1335.2V752H1338M1338 750.4H1335.2V751.8H1335.2M1335.2 751.1H1335.2V752H1338M1335.2 751.5H1335.1V752H1338M1335.1 751.8H1335.1V752H1338M1338 750.4H1335V751.9H1335.1M1338 750.4H1335V751.1H1335M1335 750.8H1334.9V752H1338M1334.9 751.4H1333.6V752H1338M1327.7 748.5H1327.1V751.7H1333.6M1326.6 743.5H1322.1V750.1H1327.1M1322.1 736.9H1317.8V746.8H1322.1M1338 752.5H1335.2V753.3H1338M1338 752H1335.2V752.9H1335.2M1335.2 752.4H1335.1V753.6H1338M1335.1 753H1335.1V753.6H1338M1335.1 753.3H1335.1V753.6H1338M1335.1 753.5H1335V753.6H1338M1338 752H1335V753.5H1335M1338 752H1334.9V752.8H1335M1338 752H1334.3V752.4H1334.9M1338 752H1333.7V752.2H1334.3M1333.7 752.1H1330.1V753.6H1338M1317.8 741.8H1317.4V752.8H1330.1M1338 753.9H1326.9V754.7H1338M1338 755.6H1335.1V756.4H1338M1338 755.2H1335V756H1335.1M1338 755.2H1335V755.6H1335M1338 755.2H1333.3V755.4H1335M1333.3 755.3H1331.7V756.8H1338M1326.9 754.3H1326.6V756.1H1331.7M1317.4 747.3H1316.2V755.2H1326.6M1326.7 729.2H1315.2V751.3H1316.2M1338 757.2H1333V758H1338M1338 756.8H1330.7V757.6H1333M1338 756.8H1327.7V757.2H1330.7M1315.2 740.2H1313.1V757H1327.7M1338 758.9H1335V759.7H1338M1338 758.4H1334.9V759.3H1335M1338 758.4H1334.8V758.8H1334.9M1334.8 758.6H1333.7V760H1338M1313.1 748.6H1311.7V759.3H1333.7M1315.7 705.9H1309V754H1311.7M1338 760.4H1335.1V761.2H1338M1338 760H1335.1V760.8H1335.1M1338 760H1335V760.4H1335.1M1335 760.2H1335V761.6H1338M1335 760.9H1334.9V761.6H1338M1334.9 761.2H1334.9V761.6H1338M1334.9 761.4H1334.8V761.6H1338M1338 760H1334.2V761.5H1334.8M1334.2 760.8H1331.7V761.6H1338M1338 762.1H1304V763.2H1338M1338 764.2H1333.8V765H1338M1338 763.8H1329.1V764.6H1333.8M1338 763.8H1323.5V764.2H1329.1M1304 762.6H1303.4V764H1323.5M1331.7 761.2H1302.9V763.3H1303.4M1338 765.8H1335.6V766.6H1338M1338 765.4H1335.5V766.2H1335.6M1338 765.4H1335.5V765.8H1335.5M1338 765.4H1335.4V765.6H1335.5M1335.4 765.5H1335.4V767H1338M1335.4 766.3H1335.4V767H1338M1338 765.4H1335.3V766.6H1335.4M1335.3 766H1335.3V767H1338M1335.3 766.5H1335.2V767H1338M1338 765.4H1335.2V766.8H1335.2M1338 765.4H1335.2V766.1H1335.2M1335.2 765.7H1335.1V767H1338M1338 765.4H1335.1V766.4H1335.1M1335.1 765.9H1335V767H1338M1338 765.4H1335V766.4H1335M1338 765.4H1334.2V765.9H1335M1334.2 765.7H1333.4V767H1338M1338 767.5H1334.8V768.3H1338M1338 767H1334.3V767.9H1334.8M1334.3 767.5H1331.5V768.6H1338M1333.4 766.3H1331.4V768H1331.5M1302.9 762.2H1302V767.2H1331.4M1338 768.9H1334.9V769.7H1338M1338 768.6H1334.9V769.3H1334.9M1334.9 769H1334.7V770.2H1338M1334.7 769.6H1333.6V770.2H1338M1333.6 769.9H1332.7V770.2H1338M1302 764.7H1300.6V770H1332.7M1338 772.3H1335V773.1H1338M1335 772.7H1335V773.4H1338M1338 771.8H1334.9V773H1335M1338 771.8H1334.8V772.4H1334.9M1334.8 772.1H1333.5V773.4H1338M1338 771H1331.4V772.8H1333.5M1338 773.9H1335.7V774.7H1338M1335.7 774.3H1335.6V775H1338M1335.6 774.7H1335.6V775H1338M1335.6 774.8H1335.6V775H1338M1335.6 774.9H1335.5V775H1338M1338 773.4H1335.5V775H1335.5M1338 773.4H1335.4V774.2H1335.5M1335.4 773.8H1335.4V775H1338M1335.4 774.4H1335.4V775H1338M1338 773.4H1335.3V774.7H1335.4M1338 773.4H1335.3V774H1335.3M1338 773.4H1335.2V773.7H1335.3M1335.2 773.6H1335.2V775H1338M1338 773.4H1335.2V774.3H1335.2M1335.2 773.8H1335.1V775H1338M1335.1 774.4H1335.1V775H1338M1338 773.4H1335V774.7H1335.1M1338 773.4H1335V774.1H1335M1338 773.4H1334.9V773.7H1335M1338 773.4H1334.1V773.6H1334.9M1338 773.4H1333.1V773.5H1334.1M1331.4 771.9H1331.3V773.4H1333.1M1300.6 767.4H1300V772.7H1331.3M1338 775.3H1335.2V776.1H1338M1335.2 775.7H1335.1V776.6H1338M1338 775H1335.1V776.2H1335.1M1338 775H1335V775.6H1335.1M1335 775.3H1335V776.6H1338M1335 775.9H1334.9V776.6H1338M1334.9 776.3H1334.9V776.6H1338M1338 775H1334.8V776.4H1334.9M1338 775H1334.6V775.7H1334.8M1338 778.7H1332.3V779.5H1338M1338 777.4H1327.6V779.1H1332.3M1334.6 775.4H1327.3V778.3H1327.6M1338 780.3H1335V781.1H1338M1338 779.8H1334.9V780.7H1335M1334.9 780.2H1334.5V781.4H1338M1334.5 780.8H1333.7V781.4H1338M1333.7 781.1H1332.5V781.4H1338M1338 781.6H1335.1V782.4H1338M1338 781.4H1335V782H1335.1M1335 781.7H1335V783H1338M1335 782.4H1335V783H1338M1335 782.7H1334.7V783H1338M1334.7 782.8H1328.4V783H1338M1332.5 781.3H1327.8V782.9H1328.4M1338 783.3H1334.4V784.1H1338M1338 783H1332.6V783.7H1334.4M1332.6 783.3H1330.1V784.6H1338M1338 784.9H1330.9V785.7H1338M1330.9 785.3H1321.9V786.4H1338M1338 786.8H1335V787.6H1338M1338 786.5H1335V787.2H1335M1335 786.9H1334.9V788.1H1338M1334.9 787.5H1334.8V788.1H1338M1338 786.5H1334.5V787.8H1334.8M1338 786.5H1333.5V787.2H1334.5M1338 786.5H1327.6V786.8H1333.5M1321.9 785.8H1321.1V786.7H1327.6M1338 788.7H1332.4V789.5H1338M1321.1 786.2H1320.7V789.1H1332.4M1338 790H1332.8V790.8H1338M1320.7 787.7H1319.6V790.4H1332.8M1338 791.7H1335.4V792.5H1338M1338 791.3H1335.4V792.1H1335.4M1335.4 791.7H1335.3V792.9H1338M1338 791.3H1335.3V792.3H1335.3M1338 791.3H1335.2V791.8H1335.3M1335.2 791.6H1335.2V792.9H1338M1338 791.3H1335.1V792.2H1335.2M1335.1 791.8H1335.1V792.9H1338M1335.1 792.3H1335.1V792.9H1338M1335.1 792.6H1335V792.9H1338M1335 792.8H1335V792.9H1338M1338 791.3H1334.8V792.8H1335M1334.8 792.1H1333.4V792.9H1338M1338 793.2H1335.6V794H1338M1338 792.9H1335.6V793.6H1335.6M1335.6 793.2H1335.6V794.5H1338M1335.6 793.9H1335.5V794.5H1338M1338 792.9H1335.5V794.2H1335.5M1335.5 793.6H1335.4V794.5H1338M1338 792.9H1335.4V794H1335.4M1338 792.9H1335.4V793.5H1335.4M1335.4 793.2H1335.3V794.5H1338M1335.3 793.9H1335.3V794.5H1338M1338 792.9H1335.2V794.2H1335.3M1338 792.9H1335.2V793.5H1335.2M1338 792.9H1335.2V793.2H1335.2M1335.2 793.1H1335.1V794.5H1338M1335.1 793.8H1335.1V794.5H1338M1335.1 794.2H1335V794.5H1338M1338 792.9H1335V794.3H1335M1335 793.6H1334.9V794.5H1338M1338 792.9H1334.9V794.1H1334.9M1333.4 792.5H1333.3V793.5H1334.9M1319.6 789H1319.2V793H1333.3M1338 795H1335.2V795.8H1338M1335.2 795.4H1335.2V796.1H1338M1338 794.5H1335.1V795.8H1335.2M1338 794.5H1335.1V795.1H1335.1M1338 794.5H1335V794.8H1335.1M1335 794.7H1335V796.1H1338M1335 795.4H1334.9V796.1H1338M1338 794.5H1334.7V795.7H1334.9M1338 796.4H1333.3V797.2H1338M1334.7 795.1H1333.2V796.8H1333.3M1319.2 791H1318.7V796H1333.2M1330.1 784H1317.6V793.5H1318.7M1338 798.2H1335.2V799H1338M1338 797.7H1335.1V798.6H1335.2M1335.1 798.2H1335.1V799.3H1338M1338 797.7H1335V798.7H1335.1M1335 798.2H1335V799.3H1338M1338 797.7H1334.9V798.8H1335M1334.9 798.2H1334.7V799.3H1338M1334.7 798.8H1334.4V799.3H1338M1338 797.7H1332.2V799H1334.4M1332.2 798.4H1326.7V799.3H1338M1317.6 788.7H1316.9V798.8H1326.7M1327.8 782.1H1315V793.8H1316.9M1338 799.6H1335V800.4H1338M1335 800H1335V800.9H1338M1335 800.4H1334.8V800.9H1338M1338 799.3H1334.7V800.7H1334.8M1334.7 800H1334.4V800.9H1338M1334.4 800.5H1333.7V800.9H1338M1315 787.9H1314.1V800.7H1333.7M1327.3 776.8H1312.5V794.3H1314.1M1338 801.4H1335.3V802.2H1338M1338 800.9H1335.3V801.8H1335.3M1338 800.9H1335.3V801.3H1335.3M1335.3 801.1H1335.2V802.5H1338M1335.2 801.8H1335.2V802.5H1338M1335.2 802.2H1335.1V802.5H1338M1338 800.9H1335.1V802.3H1335.1M1335.1 801.6H1335V802.5H1338M1338 800.9H1335V802.1H1335M1335 801.5H1334.9V802.5H1338M1338 800.9H1334.9V802H1334.9M1334.9 801.5H1328.9V802.5H1338M1338 800.9H1322.6V802H1328.9M1338 803H1335.1V803.8H1338M1335.1 803.4H1335V804.1H1338M1335 803.7H1335V804.1H1338M1335 803.9H1334.9V804.1H1338M1338 802.5H1334.3V804H1334.9M1338 802.5H1333.9V803.3H1334.3M1338 802.5H1332V802.9H1333.9M1322.6 801.4H1322.3V802.7H1332M1312.5 785.6H1312.1V802.1H1322.3M1338 804.5H1334.5V805.3H1338M1334.5 804.9H1334.1V805.7H1338M1338 804.1H1333V805.3H1334.1M1333 804.7H1330.4V805.7H1338M1338 806.1H1335.1V806.9H1338M1335.1 806.5H1335V807.3H1338M1335 806.9H1335V807.3H1338M1338 805.7H1334.3V807.1H1335M1334.3 806.4H1332.5V807.3H1338M1330.4 805.2H1330V806.9H1332.5M1338 808.1H1325.3V809.2H1338M1338 810H1332.5V810.8H1338M1332.5 810.4H1324.2V811.2H1338M1325.3 808.6H1320.1V810.8H1324.2M1338 811.6H1334.9V812.4H1338M1338 811.3H1334.7V812H1334.9M1338 811.3H1334.4V811.6H1334.7M1334.4 811.4H1331.7V812.9H1338M1331.7 812.1H1326.3V812.9H1338M1320.1 809.7H1319.1V812.5H1326.3M1338 813.2H1335V814H1338M1335 813.6H1334.7V814.5H1338M1334.7 814H1334.5V814.5H1338M1338 812.9H1334.1V814.3H1334.5M1334.1 813.6H1333.5V814.5H1338M1333.5 814H1330.8V814.5H1338M1338 814.8H1335.1V815.6H1338M1338 814.5H1335V815.2H1335.1M1335 814.8H1335V816.1H1338M1335 815.4H1334.9V816.1H1338M1334.9 815.7H1332.5V816.1H1338M1332.5 815.9H1326.6V816.9H1338M1330.8 814.2H1326.1V816.4H1326.6M1319.1 811.1H1318V815.3H1326.1M1338 818H1335V818.8H1338M1335 818.4H1334.9V819.3H1338M1338 817.7H1324.5V818.8H1334.9M1318 813.2H1316.7V818.2H1324.5M1330 806H1316V815.7H1316.7M1338 819.7H1335.4V820.5H1338M1338 819.3H1335.3V820.1H1335.4M1335.3 819.7H1335.3V820.9H1338M1338 819.3H1335.2V820.3H1335.3M1335.2 819.8H1335.2V820.9H1338M1335.2 820.3H1335.2V820.9H1338M1338 819.3H1335.1V820.6H1335.2M1335.1 819.9H1335.1V820.9H1338M1335.1 820.4H1335V820.9H1338M1335 820.6H1335V820.9H1338M1338 819.3H1334.9V820.7H1335M1338 819.3H1334.6V820H1334.9M1338 819.3H1333.1V819.6H1334.6M1316 810.9H1314.2V819.4H1333.1M1338 821.2H1335.3V822H1338M1335.3 821.6H1335.3V822.5H1338M1335.3 822H1335.3V822.5H1338M1335.3 822.3H1335.2V822.5H1338M1335.2 822.4H1335.2V822.5H1338M1335.2 822.4H1335.1V822.5H1338M1335.1 822.4H1335.1V822.5H1338M1335.1 822.4H1335V822.5H1338M1338 820.9H1335V822.5H1335M1338 820.9H1334.9V821.7H1335M1334.9 821.3H1334.6V822.5H1338M1338 820.9H1334.2V821.9H1334.6M1334.2 821.4H1331.3V822.5H1338M1331.3 821.9H1326.5V822.5H1338M1338 822.8H1319.1V823.9H1338M1326.5 822.2H1317.5V823.3H1319.1M1338 825.2H1334.8V826H1338M1334.8 825.6H1334.6V826.2H1338M1338 824.6H1334V825.9H1334.6M1338 824.6H1332.9V825.3H1334M1332.9 824.9H1330.1V826.2H1338M1317.5 822.8H1316.9V825.6H1330.1M1338 828.3H1334.8V829.1H1338M1334.8 828.7H1334.5V829.4H1338M1338 827.7H1333.2V829.1H1334.5M1338 826.9H1332.5V828.4H1333.2M1316.9 824.2H1314.9V827.6H1332.5M1314.2 815.2H1309.6V825.9H1314.9M1312.1 793.8H1294.7V820.5H1309.6M1338 829.8H1335V830.6H1338M1335 830.2H1335V831H1338M1338 829.4H1334.9V830.6H1335M1334.9 830H1334.7V831H1338M1338 831.3H1330.9V832.1H1338M1330.9 831.7H1322.3V832.8H1338M1338 833.5H1334V834.3H1338M1322.3 832.3H1322V833.9H1334M1338 835H1335.1V835.8H1338M1335.1 835.4H1335.1V836.3H1338M1338 834.7H1335V835.8H1335.1M1335 835.3H1335V836.3H1338M1338 834.7H1334.9V835.8H1335M1334.9 835.2H1334V836.3H1338M1334 835.7H1333.3V836.3H1338M1338 834.7H1330.1V836H1333.3M1322 833.1H1321.4V835.3H1330.1M1338 836.5H1334.9V837.3H1338M1334.9 836.9H1334V838.7H1338M1338 839.9H1335.4V840.7H1338M1338 839.5H1335.3V840.3H1335.4M1335.3 839.9H1335.3V841.1H1338M1338 839.5H1335.3V840.5H1335.3M1335.3 840H1335.2V841.1H1338M1335.2 840.5H1335.2V841.1H1338M1338 839.5H1335.1V840.8H1335.2M1335.1 840.1H1335.1V841.1H1338M1335.1 840.6H1335V841.1H1338M1338 839.5H1335V840.8H1335M1335 840.1H1334.9V841.1H1338M1334.9 840.6H1334.9V841.1H1338M1334.9 840.8H1334.4V841.1H1338M1334 837.8H1334V840.9H1334.4M1321.4 834.2H1321.1V839.4H1334M1334.7 830.5H1319.8V836.8H1321.1M1338 841.5H1335V842.3H1338M1338 841.1H1334.9V841.9H1335M1334.9 841.5H1334.2V842.7H1338M1334.2 842.1H1329.7V842.7H1338M1338 842.9H1334.9V843.7H1338M1334.9 843.3H1334.7V844.3H1338M1338 842.7H1333.1V843.8H1334.7M1338 842.7H1331.4V843.2H1333.1M1338 844.7H1324V846H1338M1331.4 842.9H1322.9V845.3H1324M1329.7 842.4H1322.7V844.1H1322.9M1338 847.3H1334.9V848.1H1338M1338 846.7H1334.8V847.7H1334.9M1334.8 847.2H1333.3V848.3H1338M1333.3 847.8H1329V848.3H1338M1322.7 843.3H1322.5V848.1H1329M1319.8 833.7H1318V845.7H1322.5M1338 848.7H1334.6V849.5H1338M1334.6 849.1H1332.7V849.9H1338M1338 850.5H1334.4V851.3H1338M1334.4 850.9H1328.3V851.5H1338M1332.7 849.5H1327.9V851.2H1328.3M1338 851.8H1335V852.6H1338M1338 851.5H1335V852.2H1335M1335 851.9H1334.9V853.1H1338M1338 851.5H1334.7V852.5H1334.9M1334.7 852H1332.3V853.1H1338M1332.3 852.6H1329.7V853.1H1338M1338 853.5H1335V854.3H1338M1338 853.1H1334.9V853.9H1335M1338 853.1H1334.9V853.5H1334.9M1338 853.1H1334.5V853.3H1334.9M1338 853.1H1333.9V853.2H1334.5M1333.9 853.2H1332.3V854.7H1338M1338 853.1H1330.3V854H1332.3M1330.3 853.6H1320.9V855.5H1338M1329.7 852.9H1320V854.5H1320.9M1338 856.6H1333.3V857.4H1338M1333.3 857H1331.5V857.9H1338M1320 853.7H1318.7V857.5H1331.5M1338 858.4H1334.9V859.2H1338M1338 857.9H1334.1V858.8H1334.9M1338 857.9H1333.4V858.3H1334.1M1333.4 858.1H1328.7V859.5H1338M1328.7 858.8H1322.9V860.2H1338M1338 861.4H1334.6V862.2H1338M1322.9 859.5H1322.4V861.8H1334.6M1338 862.7H1335.3V863.5H1338M1338 862.5H1335.3V863.1H1335.3M1335.3 862.8H1335.2V864.1H1338M1335.2 863.4H1335.2V864.1H1338M1335.2 863.7H1335.2V864.1H1338M1335.2 863.9H1335.1V864.1H1338M1338 862.5H1335.1V864H1335.1M1335.1 863.2H1335V864.1H1338M1338 862.5H1335V863.6H1335M1338 862.5H1334.9V863H1335M1334.9 862.8H1334.8V864.1H1338M1338 862.5H1333.9V863.4H1334.8M1333.9 862.9H1331.6V864.1H1338M1338 864.6H1333.8V865.4H1338M1333.8 865H1332.8V865.7H1338M1332.8 865.3H1327.7V865.7H1338M1331.6 863.5H1327.4V865.5H1327.7M1322.4 860.6H1321.3V864.5H1327.4M1318.7 855.6H1315.5V862.6H1321.3M1327.9 850.4H1314.8V859.1H1315.5M1338 867.8H1333.6V868.6H1338M1338 867.3H1331.6V868.2H1333.6M1338 866.5H1327.6V867.7H1331.6M1338 869.3H1334.7V870.1H1338M1334.7 869.7H1332.9V870.5H1338M1327.6 867.1H1326.7V870.1H1332.9M1314.8 854.7H1313.9V868.6H1326.7M1338 870.8H1335.5V871.6H1338M1335.5 871.2H1335.4V872.1H1338M1338 870.5H1335.4V871.6H1335.4M1335.4 871H1335.3V872.1H1338M1338 870.5H1335.3V871.5H1335.3M1338 870.5H1335.3V871H1335.3M1335.3 870.7H1335.2V872.1H1338M1335.2 871.4H1335.2V872.1H1338M1338 870.5H1335.1V871.7H1335.2M1335.1 871.1H1335.1V872.1H1338M1335.1 871.6H1335.1V872.1H1338M1338 870.5H1335V871.8H1335.1M1335 871.1H1335V872.1H1338M1335 871.6H1334.4V872.1H1338M1334.4 871.8H1333.2V872.1H1338M1333.2 871.9H1324.8V872.1H1338M1313.9 861.7H1313.1V872H1324.8M1338 872.6H1335.1V873.4H1338M1338 872.1H1335V873H1335.1M1338 872.1H1335V872.5H1335M1335 872.3H1334.9V873.7H1338M1338 872.1H1334.8V873H1334.9M1334.8 872.5H1334V873.7H1338M1338 872.1H1333.3V873.1H1334M1333.3 872.6H1331.3V874.5H1338M1338 875.8H1335.1V876.6H1338M1335.1 876.2H1335.1V876.9H1338M1335.1 876.5H1335V876.9H1338M1338 875.3H1335V876.7H1335M1335 876H1334.7V876.9H1338M1338 875.3H1332.6V876.4H1334.7M1331.3 873.5H1330.9V875.8H1332.6M1313.1 866.8H1311.9V874.7H1330.9M1318 839.7H1305.4V870.8H1311.9M1338 877.4H1317.2V878.2H1338M1338 878.9H1334.9V879.7H1338M1334.9 879.3H1334.4V880.1H1338M1338 878.5H1331.4V879.7H1334.4M1331.4 879.1H1328.9V880.1H1338M1338 880.5H1335.4V881.3H1338M1338 880.1H1335.4V880.9H1335.4M1338 880.1H1335.3V880.5H1335.4M1338 880.1H1335.3V880.3H1335.3M1335.3 880.2H1335.2V881.7H1338M1338 880.1H1335.2V880.9H1335.2M1338 880.1H1335.2V880.5H1335.2M1335.2 880.3H1335.1V881.7H1338M1338 880.1H1335.1V881H1335.1M1335.1 880.5H1335V881.7H1338M1338 880.1H1335V881.1H1335M1338 880.1H1334.9V880.6H1335M1338 880.1H1334.2V880.3H1334.9M1328.9 879.6H1328.6V880.2H1334.2M1338 882H1335V882.8H1338M1338 881.7H1335V882.4H1335M1335 882.1H1333.9V883.3H1338M1338 881.7H1332.2V882.7H1333.9M1338 883.6H1333.7V884.4H1338M1338 885.4H1335.6V886.2H1338M1338 884.9H1335.6V885.8H1335.6M1338 884.9H1335.6V885.3H1335.6M1338 884.9H1335.5V885.1H1335.6M1335.5 885H1335.5V886.5H1338M1338 884.9H1335.5V885.7H1335.5M1338 884.9H1335.4V885.3H1335.5M1335.4 885.1H1335.4V886.5H1338M1335.4 885.8H1335.3V886.5H1338M1338 884.9H1335.3V886.1H1335.3M1338 884.9H1335.3V885.5H1335.3M1335.3 885.2H1335.2V886.5H1338M1335.2 885.8H1335.2V886.5H1338M1338 884.9H1335.1V886.1H1335.2M1338 884.9H1335.1V885.5H1335.1M1338 884.9H1335V885.2H1335.1M1338 884.9H1335V885H1335M1335 884.9H1334.9V886.5H1338M1334.9 885.7H1330.2V886.5H1338M1338 887.6H1333.6V888.4H1338M1333.6 888H1331.6V888.9H1338M1338 886.9H1322.9V888.5H1331.6M1330.2 886.1H1322.1V887.7H1322.9M1333.7 884H1321.2V886.9H1322.1M1338 889.4H1326.9V890.2H1338M1321.2 885.4H1320V889.8H1326.9M1338 891H1334.6V891.8H1338M1334.6 891.4H1334V892.1H1338M1338 890.5H1332.8V891.8H1334M1338 890.5H1329.7V891.1H1332.8M1338 890.5H1324.3V890.8H1329.7M1338 892.5H1335V893.3H1338M1338 892.1H1334.9V892.9H1335M1338 894H1335.1V894.8H1338M1335.1 894.4H1335.1V895.3H1338M1338 893.7H1335.1V894.9H1335.1M1338 893.7H1335V894.3H1335.1M1338 893.7H1335V894H1335M1335 893.9H1334.8V895.3H1338M1334.8 894.6H1334.6V895.3H1338M1334.9 892.5H1334.6V894.9H1334.6M1338 897H1334.9V897.8H1338M1334.9 897.4H1334.7V898.2H1338M1334.7 897.8H1334.4V898.2H1338M1334.4 898H1329.3V898.2H1338M1338 896H1318.4V898.1H1329.3M1338 898.7H1329.7V899.5H1338M1318.4 897H1318V899.1H1329.7M1334.6 893.7H1316.8V898.1H1318M1324.3 890.7H1316.3V895.9H1316.8M1338 900.1H1335.1V900.9H1338M1335.1 900.5H1335V901.4H1338M1338 899.8H1335V900.9H1335M1338 899.8H1334.9V900.4H1335M1334.9 900.1H1334.7V901.4H1338M1334.7 900.7H1334.2V901.4H1338M1338 899.8H1331.9V901.1H1334.2M1338 901.8H1335.5V902.6H1338M1335.5 902.2H1335.5V903H1338M1338 901.4H1335.4V902.6H1335.5M1335.4 902H1335.4V903H1338M1338 901.4H1335.3V902.5H1335.4M1335.3 901.9H1335.3V903H1338M1338 901.4H1335.3V902.5H1335.3M1338 901.4H1335.2V901.9H1335.3M1335.2 901.7H1335.2V903H1338M1338 901.4H1335.1V902.3H1335.2M1335.1 901.9H1335.1V903H1338M1335.1 902.4H1335V903H1338M1335 902.7H1335V903H1338M1338 901.4H1334.9V902.9H1335M1334.9 902.1H1334.9V903H1338M1334.9 902.6H1334.6V903H1338M1338 901.4H1333.2V902.8H1334.6M1331.9 900.4H1331.8V902.1H1333.2M1316.3 893.3H1315.9V901.3H1331.8M1320 887.6H1311V897.3H1315.9M1338 903.2H1334.7V904H1338M1334.7 903.6H1333.8V904.6H1338M1333.8 904.1H1326.2V904.6H1338M1311 892.5H1309.2V904.4H1326.2M1338 905.1H1335.1V905.9H1338M1335.1 905.5H1335V906.2H1338M1335 905.9H1335V906.2H1338M1338 904.6H1334.9V906H1335M1338 904.6H1334.6V905.3H1334.9M1338 906.7H1335.2V907.5H1338M1335.2 907.1H1335.1V907.8H1338M1335.1 907.4H1335.1V907.8H1338M1338 906.2H1335V907.6H1335.1M1335 906.9H1335V907.8H1338M1335 907.4H1334.8V907.8H1338M1334.8 907.6H1325.5V907.8H1338M1334.6 905H1324.9V907.7H1325.5M1309.2 898.4H1306.6V906.3H1324.9M1332.2 882.2H1304.4V902.4H1306.6M1328.6 879.9H1302.1V892.3H1304.4M1338 908.3H1335.5V909.1H1338M1335.5 908.7H1335.4V909.4H1338M1335.4 909H1335.4V909.4H1338M1335.4 909.2H1335.3V909.4H1338M1338 907.8H1335.3V909.3H1335.3M1338 907.8H1335.3V908.6H1335.3M1338 907.8H1335.2V908.2H1335.3M1335.2 908H1335.2V909.4H1338M1335.2 908.7H1335.1V909.4H1338M1338 907.8H1335.1V909H1335.1M1338 907.8H1335V908.4H1335.1M1335 908.1H1335V909.4H1338M1338 907.8H1330.8V908.8H1335M1338 909.8H1335.6V910.6H1338M1335.6 910.2H1335.5V911H1338M1335.5 910.6H1335.5V911H1338M1338 909.4H1335.4V910.8H1335.5M1335.4 910.1H1335.4V911H1338M1338 909.4H1335.4V910.5H1335.4M1335.4 910H1335.3V911H1338M1338 909.4H1335.3V910.5H1335.3M1335.3 909.9H1335.2V911H1338M1335.2 910.5H1335.2V911H1338M1338 909.4H1335.2V910.7H1335.2M1338 909.4H1335.1V910.1H1335.2M1338 909.4H1335.1V909.7H1335.1M1335.1 909.6H1335V911H1338M1335 910.3H1335V911H1338M1338 909.4H1333.9V910.6H1335M1333.9 910H1332.6V911H1338M1338 909.4H1324.2V910.5H1332.6M1330.8 908.3H1323.5V910H1324.2M1302.1 886.1H1301.4V909.1H1323.5M1317.2 877.8H1300.8V897.6H1301.4M1305.4 855.2H1296.7V887.7H1300.8M1294.7 807.2H1283V871.4H1296.7" fill="none" stroke="#000" stroke-width="1.5"/><rect x="1334.5" y="151" width="3.5" height="760" fill="#000"/><rect x="2009" y="107" width="30" height="458" fill="url(#cbA)"/><text x="2050" y="171.5" font-size="28" transform="translate(2050,0) scale(1.08,1) translate(-2050,0)">4</text><text x="2050" y="265.5" font-size="28" transform="translate(2050,0) scale(1.08,1) translate(-2050,0)">3.5</text><text x="2050" y="357.5" font-size="28" transform="translate(2050,0) scale(1.08,1) translate(-2050,0)">3</text><text x="2050" y="452" font-size="28" transform="translate(2050,0) scale(1.08,1) translate(-2050,0)">2.5</text><text x="2050" y="544" font-size="28" transform="translate(2050,0) scale(1.08,1) translate(-2050,0)">2</text><text x="2101.5" y="128" font-size="30.5" font-weight="bold">Type</text><rect x="2102" y="139" width="43" height="46" fill="#00dbe0"/><rect x="2102" y="185" width="43" height="45" fill="#f8887e"/><text x="2155" y="173" font-size="31">Normal</text><text x="2156" y="218" font-size="31">Tumor</text><text x="38" y="1044" font-size="68" font-weight="bold">c</text><rect x="655.5" y="1020" width="343.5" height="262" fill="#fff" stroke="#e2e2e2" stroke-width="1"/><line x1="727" y1="1020" x2="727" y2="1282" stroke="#f4f4f4" stroke-width="1"/><line x1="839" y1="1020" x2="839" y2="1282" stroke="#f4f4f4" stroke-width="1"/><line x1="951" y1="1020" x2="951" y2="1282" stroke="#f4f4f4" stroke-width="1"/><line x1="671" y1="1020" x2="671" y2="1282" stroke="#ebebeb" stroke-width="1.3"/><line x1="783" y1="1020" x2="783" y2="1282" stroke="#ebebeb" stroke-width="1.3"/><line x1="895" y1="1020" x2="895" y2="1282" stroke="#ebebeb" stroke-width="1.3"/><line x1="655.5" y1="1036" x2="999" y2="1036" stroke="#ebebeb" stroke-width="1.3"/><line x1="655.5" y1="1061.7" x2="999" y2="1061.7" stroke="#ebebeb" stroke-width="1.3"/><line x1="655.5" y1="1087.4" x2="999" y2="1087.4" stroke="#ebebeb" stroke-width="1.3"/><line x1="655.5" y1="1113.1" x2="999" y2="1113.1" stroke="#ebebeb" stroke-width="1.3"/><line x1="655.5" y1="1138.8" x2="999" y2="1138.8" stroke="#ebebeb" stroke-width="1.3"/><line x1="655.5" y1="1164.5" x2="999" y2="1164.5" stroke="#ebebeb" stroke-width="1.3"/><line x1="655.5" y1="1190.2" x2="999" y2="1190.2" stroke="#ebebeb" stroke-width="1.3"/><line x1="655.5" y1="1215.9" x2="999" y2="1215.9" stroke="#ebebeb" stroke-width="1.3"/><line x1="655.5" y1="1241.6" x2="999" y2="1241.6" stroke="#ebebeb" stroke-width="1.3"/><line x1="655.5" y1="1267.3" x2="999" y2="1267.3" stroke="#ebebeb" stroke-width="1.3"/><rect x="671" y="1024.9" width="312.5" height="22.2" fill="#fb0000"/><rect x="671" y="1050.6" width="312.5" height="22.2" fill="#fb0000"/><rect x="671" y="1076.3" width="312.5" height="22.2" fill="#fb0000"/><rect x="671" y="1102" width="312.5" height="22.2" fill="#fb0000"/><rect x="671" y="1127.7" width="166.3" height="22.2" fill="#fb0000"/><rect x="671" y="1153.4" width="82.9" height="22.2" fill="#fb0000"/><rect x="671" y="1179.1" width="82.9" height="22.2" fill="#fb0000"/><rect x="671" y="1204.8" width="61.6" height="22.2" fill="#fb0000"/><rect x="671" y="1230.5" width="61.6" height="22.2" fill="#fb0000"/><rect x="671" y="1256.2" width="77.8" height="22.2" fill="#fb0000"/><line x1="650" y1="1036" x2="655.5" y2="1036" stroke="#333" stroke-width="1.3"/><line x1="650" y1="1061.7" x2="655.5" y2="1061.7" stroke="#333" stroke-width="1.3"/><line x1="650" y1="1087.4" x2="655.5" y2="1087.4" stroke="#333" stroke-width="1.3"/><line x1="650" y1="1113.1" x2="655.5" y2="1113.1" stroke="#333" stroke-width="1.3"/><line x1="650" y1="1138.8" x2="655.5" y2="1138.8" stroke="#333" stroke-width="1.3"/><line x1="650" y1="1164.5" x2="655.5" y2="1164.5" stroke="#333" stroke-width="1.3"/><line x1="650" y1="1190.2" x2="655.5" y2="1190.2" stroke="#333" stroke-width="1.3"/><line x1="650" y1="1215.9" x2="655.5" y2="1215.9" stroke="#333" stroke-width="1.3"/><line x1="650" y1="1241.6" x2="655.5" y2="1241.6" stroke="#333" stroke-width="1.3"/><line x1="650" y1="1267.3" x2="655.5" y2="1267.3" stroke="#333" stroke-width="1.3"/><g transform="scale(0.9765,1)" font-size="18.5" fill="#1c1c1c" text-anchor="end"><text x="662.6" y="1043">neutrophil degranulation</text><text x="662.6" y="1068.7">neutrophil activation involved in immune response</text><text x="662.6" y="1094.4">neutrophil activation</text><text x="662.6" y="1120.1">neutrophil mediated immunity</text><text x="662.6" y="1145.8">positive regulation of cytokine production</text><text x="662.6" y="1171.5">tumor necrosis factor production</text><text x="662.6" y="1197.2">tumor necrosis factor superfamily cytokine production</text><text x="662.6" y="1222.9">positive regulation of tumor necrosis factor production</text><text x="662.6" y="1248.6">positive regulation of tumor necrosis factor superfamily cytokine production</text><text x="662.6" y="1274.3">regulation of tumor necrosis factor production</text></g><rect x="999" y="1020" width="26" height="262" fill="#d9d9d9"/><line x1="1000" y1="1020" x2="1000" y2="1282" stroke="#a6a6a6" stroke-width="2.5"/><text x="1012" y="1151" font-size="13" fill="#333" text-anchor="middle" transform="rotate(90 1012 1151)" dy="4">BP</text><rect x="655.5" y="1289.5" width="343.5" height="262.5" fill="#fff" stroke="#e2e2e2" stroke-width="1"/><line x1="727" y1="1289.5" x2="727" y2="1552" stroke="#f4f4f4" stroke-width="1"/><line x1="839" y1="1289.5" x2="839" y2="1552" stroke="#f4f4f4" stroke-width="1"/><line x1="951" y1="1289.5" x2="951" y2="1552" stroke="#f4f4f4" stroke-width="1"/><line x1="671" y1="1289.5" x2="671" y2="1552" stroke="#ebebeb" stroke-width="1.3"/><line x1="783" y1="1289.5" x2="783" y2="1552" stroke="#ebebeb" stroke-width="1.3"/><line x1="895" y1="1289.5" x2="895" y2="1552" stroke="#ebebeb" stroke-width="1.3"/><line x1="655.5" y1="1305.5" x2="999" y2="1305.5" stroke="#ebebeb" stroke-width="1.3"/><line x1="655.5" y1="1331.2" x2="999" y2="1331.2" stroke="#ebebeb" stroke-width="1.3"/><line x1="655.5" y1="1356.9" x2="999" y2="1356.9" stroke="#ebebeb" stroke-width="1.3"/><line x1="655.5" y1="1382.6" x2="999" y2="1382.6" stroke="#ebebeb" stroke-width="1.3"/><line x1="655.5" y1="1408.3" x2="999" y2="1408.3" stroke="#ebebeb" stroke-width="1.3"/><line x1="655.5" y1="1434" x2="999" y2="1434" stroke="#ebebeb" stroke-width="1.3"/><line x1="655.5" y1="1459.7" x2="999" y2="1459.7" stroke="#ebebeb" stroke-width="1.3"/><line x1="655.5" y1="1485.4" x2="999" y2="1485.4" stroke="#ebebeb" stroke-width="1.3"/><line x1="655.5" y1="1511.1" x2="999" y2="1511.1" stroke="#ebebeb" stroke-width="1.3"/><line x1="655.5" y1="1536.8" x2="999" y2="1536.8" stroke="#ebebeb" stroke-width="1.3"/><rect x="671" y="1294.4" width="183.7" height="22.2" fill="#fb0000"/><rect x="671" y="1320.1" width="183.7" height="22.2" fill="#fb0000"/><rect x="671" y="1345.8" width="183.7" height="22.2" fill="#fb0000"/><rect x="671" y="1371.5" width="82.9" height="22.2" fill="#fb0000"/><rect x="671" y="1397.2" width="128.8" height="22.2" fill="#fb0000"/><rect x="671" y="1422.9" width="115.9" height="22.2" fill="#fb0000"/><rect x="671" y="1448.6" width="94.6" height="22.2" fill="#fb0000"/><rect x="671" y="1474.3" width="67.8" height="22.2" fill="#fb0000"/><rect x="671" y="1500" width="94.6" height="22.2" fill="#fb0000"/><rect x="671" y="1525.7" width="122.6" height="22.2" fill="#fb0000"/><line x1="650" y1="1305.5" x2="655.5" y2="1305.5" stroke="#333" stroke-width="1.3"/><line x1="650" y1="1331.2" x2="655.5" y2="1331.2" stroke="#333" stroke-width="1.3"/><line x1="650" y1="1356.9" x2="655.5" y2="1356.9" stroke="#333" stroke-width="1.3"/><line x1="650" y1="1382.6" x2="655.5" y2="1382.6" stroke="#333" stroke-width="1.3"/><line x1="650" y1="1408.3" x2="655.5" y2="1408.3" stroke="#333" stroke-width="1.3"/><line x1="650" y1="1434" x2="655.5" y2="1434" stroke="#333" stroke-width="1.3"/><line x1="650" y1="1459.7" x2="655.5" y2="1459.7" stroke="#333" stroke-width="1.3"/><line x1="650" y1="1485.4" x2="655.5" y2="1485.4" stroke="#333" stroke-width="1.3"/><line x1="650" y1="1511.1" x2="655.5" y2="1511.1" stroke="#333" stroke-width="1.3"/><line x1="650" y1="1536.8" x2="655.5" y2="1536.8" stroke="#333" stroke-width="1.3"/><g transform="scale(0.9765,1)" font-size="18.5" fill="#1c1c1c" text-anchor="end"><text x="662.6" y="1312.5">secretory granule lumen</text><text x="662.6" y="1338.2">cytoplasmic vesicle lumen</text><text x="662.6" y="1363.9">vesicle lumen</text><text x="662.6" y="1389.6">tertiary granule lumen</text><text x="662.6" y="1415.3">ficolin−1−rich granule</text><text x="662.6" y="1441">tertiary granule</text><text x="662.6" y="1466.7">ficolin−1−rich granule lumen</text><text x="662.6" y="1492.4">specific granule lumen</text><text x="662.6" y="1518.1">specific granule</text><text x="662.6" y="1543.8">secretory granule membrane</text></g><rect x="999" y="1289.5" width="26" height="262.5" fill="#d9d9d9"/><line x1="1000" y1="1289.5" x2="1000" y2="1552" stroke="#a6a6a6" stroke-width="2.5"/><text x="1012" y="1420.8" font-size="13" fill="#333" text-anchor="middle" transform="rotate(90 1012 1420.8)" dy="4">CC</text><rect x="655.5" y="1562" width="343.5" height="259" fill="#fff" stroke="#e2e2e2" stroke-width="1"/><line x1="727" y1="1562" x2="727" y2="1821" stroke="#f4f4f4" stroke-width="1"/><line x1="839" y1="1562" x2="839" y2="1821" stroke="#f4f4f4" stroke-width="1"/><line x1="951" y1="1562" x2="951" y2="1821" stroke="#f4f4f4" stroke-width="1"/><line x1="671" y1="1562" x2="671" y2="1821" stroke="#ebebeb" stroke-width="1.3"/><line x1="783" y1="1562" x2="783" y2="1821" stroke="#ebebeb" stroke-width="1.3"/><line x1="895" y1="1562" x2="895" y2="1821" stroke="#ebebeb" stroke-width="1.3"/><line x1="655.5" y1="1598.5" x2="999" y2="1598.5" stroke="#ebebeb" stroke-width="1.3"/><line x1="655.5" y1="1661" x2="999" y2="1661" stroke="#ebebeb" stroke-width="1.3"/><line x1="655.5" y1="1723.5" x2="999" y2="1723.5" stroke="#ebebeb" stroke-width="1.3"/><line x1="655.5" y1="1786" x2="999" y2="1786" stroke="#ebebeb" stroke-width="1.3"/><rect x="671" y="1571.5" width="94.6" height="54.1" fill="#e6004c"/><rect x="671" y="1634" width="26.9" height="54.1" fill="#e3024f"/><rect x="671" y="1696.5" width="26.9" height="54.1" fill="#e3024f"/><rect x="671" y="1759" width="21.8" height="54.1" fill="#1a18f2"/><line x1="650" y1="1598.5" x2="655.5" y2="1598.5" stroke="#333" stroke-width="1.3"/><line x1="650" y1="1661" x2="655.5" y2="1661" stroke="#333" stroke-width="1.3"/><line x1="650" y1="1723.5" x2="655.5" y2="1723.5" stroke="#333" stroke-width="1.3"/><line x1="650" y1="1786" x2="655.5" y2="1786" stroke="#333" stroke-width="1.3"/><g transform="scale(0.9765,1)" font-size="18.5" fill="#1c1c1c" text-anchor="end"><text x="662.6" y="1605.5">carbohydrate binding</text><text x="662.6" y="1668">signaling pattern recognition receptor activity</text><text x="662.6" y="1730.5">pattern recognition receptor activity</text><text x="662.6" y="1793">MHC class II protein complex binding</text></g><rect x="999" y="1562" width="26" height="259" fill="#d9d9d9"/><line x1="1000" y1="1562" x2="1000" y2="1821" stroke="#a6a6a6" stroke-width="2.5"/><text x="1012" y="1691.5" font-size="13" fill="#333" text-anchor="middle" transform="rotate(90 1012 1691.5)" dy="4">MF</text><line x1="655.5" y1="1282" x2="1025" y2="1282" stroke="#333" stroke-width="2"/><line x1="655.5" y1="1020" x2="1025" y2="1020" stroke="#a8a8a8" stroke-width="1.5"/><line x1="655.5" y1="1821" x2="1025" y2="1821" stroke="#555" stroke-width="1.5"/><line x1="671" y1="1821" x2="671" y2="1826" stroke="#333" stroke-width="1.3"/><text x="671" y="1843.5" font-size="18" fill="#4d4d4d" text-anchor="middle">0</text><line x1="783" y1="1821" x2="783" y2="1826" stroke="#333" stroke-width="1.3"/><text x="783" y="1843.5" font-size="18" fill="#4d4d4d" text-anchor="middle">20</text><line x1="895" y1="1821" x2="895" y2="1826" stroke="#333" stroke-width="1.3"/><text x="895" y="1843.5" font-size="18" fill="#4d4d4d" text-anchor="middle">40</text><text x="1052" y="1359" font-size="16" fill="#1a1a1a">p.adjust</text><rect x="1051.5" y="1368" width="25.5" height="131" fill="url(#cbC)"/><line x1="1051.5" y1="1416" x2="1056" y2="1416" stroke="#fff" stroke-width="1"/><line x1="1072.5" y1="1416" x2="1077" y2="1416" stroke="#fff" stroke-width="1"/><text x="1084.5" y="1421" font-size="14" fill="#4d4d4d">0.01</text><line x1="1051.5" y1="1462" x2="1056" y2="1462" stroke="#fff" stroke-width="1"/><line x1="1072.5" y1="1462" x2="1077" y2="1462" stroke="#fff" stroke-width="1"/><text x="1084.5" y="1467" font-size="14" fill="#4d4d4d">0.02</text><text x="1160" y="1045" font-size="68" font-weight="bold">d</text><rect x="1426" y="1024.5" width="771.7" height="790.9" fill="#fff" stroke="#ececec" stroke-width="1.2"/><line x1="1596.2" y1="1024.5" x2="1596.2" y2="1815.4" stroke="#f3f3f3" stroke-width="1"/><line x1="1866.2" y1="1024.5" x2="1866.2" y2="1815.4" stroke="#f3f3f3" stroke-width="1"/><line x1="2136.2" y1="1024.5" x2="2136.2" y2="1815.4" stroke="#f3f3f3" stroke-width="1"/><line x1="1461.2" y1="1024.5" x2="1461.2" y2="1815.4" stroke="#ebebeb" stroke-width="1.4"/><line x1="1731.2" y1="1024.5" x2="1731.2" y2="1815.4" stroke="#ebebeb" stroke-width="1.4"/><line x1="2001.2" y1="1024.5" x2="2001.2" y2="1815.4" stroke="#ebebeb" stroke-width="1.4"/><line x1="1426" y1="1092.7" x2="2197.7" y2="1092.7" stroke="#ebebeb" stroke-width="1.4"/><line x1="1426" y1="1202.7" x2="2197.7" y2="1202.7" stroke="#ebebeb" stroke-width="1.4"/><line x1="1426" y1="1312.7" x2="2197.7" y2="1312.7" stroke="#ebebeb" stroke-width="1.4"/><line x1="1426" y1="1422.7" x2="2197.7" y2="1422.7" stroke="#ebebeb" stroke-width="1.4"/><line x1="1426" y1="1532.7" x2="2197.7" y2="1532.7" stroke="#ebebeb" stroke-width="1.4"/><line x1="1426" y1="1642.7" x2="2197.7" y2="1642.7" stroke="#ebebeb" stroke-width="1.4"/><line x1="1426" y1="1752.7" x2="2197.7" y2="1752.7" stroke="#ebebeb" stroke-width="1.4"/><rect x="1461.2" y="1044.1" width="594" height="97.2" fill="#ff0000"/><rect x="1461.2" y="1154.1" width="486" height="97.2" fill="#ee0030"/><rect x="1461.2" y="1264.1" width="486" height="97.2" fill="#bb00a0"/><rect x="1461.2" y="1374.1" width="540" height="97.2" fill="#a800b4"/><rect x="1461.2" y="1484.1" width="594" height="97.2" fill="#9300cb"/><rect x="1461.2" y="1594.1" width="648" height="97.2" fill="#8f00c9"/><rect x="1461.2" y="1704.1" width="702" height="97.2" fill="#0000ff"/><path d="M1426 1024.5H2197.7V1815.4" fill="none" stroke="#666" stroke-width="1.3"/><line x1="1426" y1="1815.4" x2="2197.7" y2="1815.4" stroke="#444" stroke-width="1.6"/><svg x="1129.5" y="1000" width="300" height="820" overflow="hidden"><g transform="translate(-1129.5,-1000)"><text x="1417.5" y="1100" font-size="20.5" fill="#262626" text-anchor="end">Hematopoietic cell lineage</text><text x="1417.5" y="1210" font-size="20.5" fill="#262626" text-anchor="end">Antigen processing and presentation</text><text x="1417.5" y="1320" font-size="20.5" fill="#262626" text-anchor="end">Staphylococcus aureus infection</text><text x="1417.5" y="1430" font-size="20.5" fill="#262626" text-anchor="end">Lysosome</text><text x="1417.5" y="1540" font-size="20.5" fill="#262626" text-anchor="end">Phagosome</text><text x="1417.5" y="1650" font-size="20.5" fill="#262626" text-anchor="end">Tuberculosis</text><text x="1417.5" y="1760" font-size="20.5" fill="#262626" text-anchor="end">Salmonella infection</text></g></svg><line x1="1420.5" y1="1092.7" x2="1426" y2="1092.7" stroke="#333" stroke-width="1.3"/><line x1="1420.5" y1="1202.7" x2="1426" y2="1202.7" stroke="#333" stroke-width="1.3"/><line x1="1420.5" y1="1312.7" x2="1426" y2="1312.7" stroke="#333" stroke-width="1.3"/><line x1="1420.5" y1="1422.7" x2="1426" y2="1422.7" stroke="#333" stroke-width="1.3"/><line x1="1420.5" y1="1532.7" x2="1426" y2="1532.7" stroke="#333" stroke-width="1.3"/><line x1="1420.5" y1="1642.7" x2="1426" y2="1642.7" stroke="#333" stroke-width="1.3"/><line x1="1420.5" y1="1752.7" x2="1426" y2="1752.7" stroke="#333" stroke-width="1.3"/><line x1="1461.2" y1="1815.4" x2="1461.2" y2="1820.4" stroke="#333" stroke-width="1.3"/><text x="1461.2" y="1842" font-size="20.5" fill="#4d4d4d" text-anchor="middle">0</text><line x1="1731.2" y1="1815.4" x2="1731.2" y2="1820.4" stroke="#333" stroke-width="1.3"/><text x="1731.2" y="1842" font-size="20.5" fill="#4d4d4d" text-anchor="middle">5</text><line x1="2001.2" y1="1815.4" x2="2001.2" y2="1820.4" stroke="#333" stroke-width="1.3"/><text x="2001.2" y="1842" font-size="20.5" fill="#4d4d4d" text-anchor="middle">10</text><text x="2227" y="1350" font-size="18" fill="#1a1a1a">p.adjust</text><rect x="2226.5" y="1361" width="29.5" height="148" fill="url(#cbD)"/><line x1="2226" y1="1387.5" x2="2231" y2="1387.5" stroke="#fff" stroke-width="1"/><line x1="2251" y1="1387.5" x2="2256" y2="1387.5" stroke="#fff" stroke-width="1"/><text x="2264" y="1393" font-size="15.5" fill="#4d4d4d">0.01</text><line x1="2226" y1="1424.5" x2="2231" y2="1424.5" stroke="#fff" stroke-width="1"/><line x1="2251" y1="1424.5" x2="2256" y2="1424.5" stroke="#fff" stroke-width="1"/><text x="2264" y="1430" font-size="15.5" fill="#4d4d4d">0.02</text><line x1="2226" y1="1461" x2="2231" y2="1461" stroke="#fff" stroke-width="1"/><line x1="2251" y1="1461" x2="2256" y2="1461" stroke="#fff" stroke-width="1"/><text x="2264" y="1466.5" font-size="15.5" fill="#4d4d4d">0.03</text><line x1="2226" y1="1497.5" x2="2231" y2="1497.5" stroke="#fff" stroke-width="1"/><line x1="2251" y1="1497.5" x2="2256" y2="1497.5" stroke="#fff" stroke-width="1"/><text x="2264" y="1503" font-size="15.5" fill="#4d4d4d">0.04</text></svg></body></html>
